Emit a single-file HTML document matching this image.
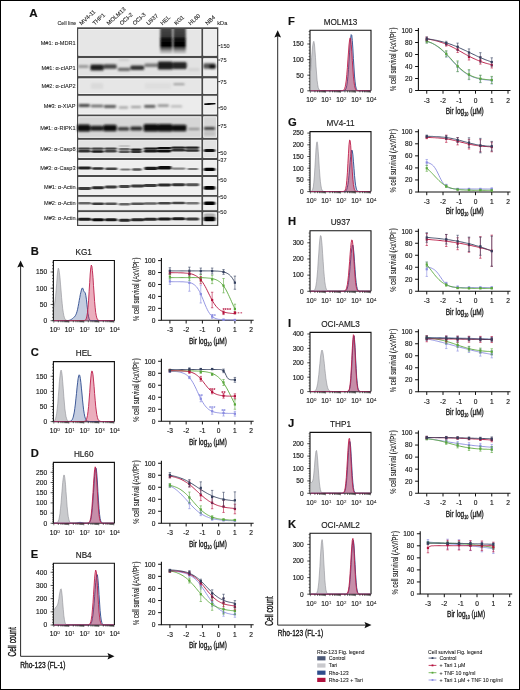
<!DOCTYPE html>
<html><head><meta charset="utf-8"><title>Figure</title><style>html,body{margin:0;padding:0;background:#fff;}body{width:520px;height:690px;overflow:hidden;}svg{display:block;font-family:"Liberation Sans", sans-serif;will-change:transform;}</style></head><body>
<svg width="520" height="690" viewBox="0 0 520 690" font-family='"Liberation Sans", sans-serif'>
<defs><filter id="bl" x="-20%" y="-50%" width="140%" height="200%"><feGaussianBlur stdDeviation="1.0 0.8"/></filter><filter id="bl2"><feGaussianBlur stdDeviation="0.3"/></filter><filter id="bl4" x="-20%" y="-5%" width="140%" height="110%"><feGaussianBlur stdDeviation="0.8 0.4"/></filter><filter id="bl3" x="-20%" y="-50%" width="140%" height="200%"><feGaussianBlur stdDeviation="0.9 0.45"/></filter><linearGradient id="smear" x1="0" y1="0" x2="0" y2="1"><stop offset="0" stop-color="#474747"/><stop offset="0.3" stop-color="#363636"/><stop offset="0.4" stop-color="#0a0a0a"/><stop offset="0.66" stop-color="#030303"/><stop offset="0.74" stop-color="#444"/><stop offset="0.86" stop-color="#999"/><stop offset="1" stop-color="#e2e2e2"/></linearGradient></defs>
<rect x="0" y="0" width="520" height="690" fill="#fff"/>
<text x="29.2" y="17.4" font-size="11.6" text-anchor="start" font-weight="bold" fill="#111"  stroke="#111" stroke-width="0.16">A</text>
<text x="76.3" y="25.3" font-size="5.3" text-anchor="end" font-weight="normal" fill="#222"  stroke="#222" stroke-width="0.08">Cell line</text>
<text x="0" y="0" font-size="5.7" fill="#222" stroke="#222" stroke-width="0.12" transform="translate(81.4,25.4) rotate(-42)">MV4-11</text>
<text x="0" y="0" font-size="5.7" fill="#222" stroke="#222" stroke-width="0.12" transform="translate(94.7,25.4) rotate(-42)">THP1</text>
<text x="0" y="0" font-size="5.7" fill="#222" stroke="#222" stroke-width="0.12" transform="translate(108.8,25.4) rotate(-42)">MOLM13</text>
<text x="0" y="0" font-size="5.7" fill="#222" stroke="#222" stroke-width="0.12" transform="translate(121.8,25.4) rotate(-42)">OCI-2</text>
<text x="0" y="0" font-size="5.7" fill="#222" stroke="#222" stroke-width="0.12" transform="translate(134.8,25.4) rotate(-42)">OCI-3</text>
<text x="0" y="0" font-size="5.7" fill="#222" stroke="#222" stroke-width="0.12" transform="translate(148.4,25.4) rotate(-42)">U937</text>
<text x="0" y="0" font-size="5.7" fill="#222" stroke="#222" stroke-width="0.12" transform="translate(162.4,25.4) rotate(-42)">HEL</text>
<text x="0" y="0" font-size="5.7" fill="#222" stroke="#222" stroke-width="0.12" transform="translate(176.2,25.4) rotate(-42)">KG1</text>
<text x="0" y="0" font-size="5.7" fill="#222" stroke="#222" stroke-width="0.12" transform="translate(190.6,25.4) rotate(-42)">HL60</text>
<text x="0" y="0" font-size="5.7" fill="#222" stroke="#222" stroke-width="0.12" transform="translate(207.4,25.4) rotate(-42)">NB4</text>
<text x="217.3" y="25.2" font-size="5.6" text-anchor="start" font-weight="normal" fill="#222"  stroke="#222" stroke-width="0.08">kDa</text>
<text x="75.6" y="44.8" font-size="5.6" text-anchor="end" font-weight="normal" fill="#222"  stroke="#222" stroke-width="0.08">M#1: α-MDR1</text>
<text x="75.6" y="69.6" font-size="5.6" text-anchor="end" font-weight="normal" fill="#222"  stroke="#222" stroke-width="0.08">M#1: α-cIAP1</text>
<text x="75.6" y="87.8" font-size="5.6" text-anchor="end" font-weight="normal" fill="#222"  stroke="#222" stroke-width="0.08">M#2: α-cIAP2</text>
<text x="75.6" y="107.7" font-size="5.6" text-anchor="end" font-weight="normal" fill="#222"  stroke="#222" stroke-width="0.08">M#3: α-XIAP</text>
<text x="75.6" y="129.5" font-size="5.6" text-anchor="end" font-weight="normal" fill="#222"  stroke="#222" stroke-width="0.08">M#1: α-RIPK1</text>
<text x="75.6" y="150.8" font-size="5.6" text-anchor="end" font-weight="normal" fill="#222"  stroke="#222" stroke-width="0.08">M#2: α-Casp8</text>
<text x="75.6" y="170.3" font-size="5.6" text-anchor="end" font-weight="normal" fill="#222"  stroke="#222" stroke-width="0.08">M#3: α-Casp3</text>
<text x="75.6" y="188.7" font-size="5.6" text-anchor="end" font-weight="normal" fill="#222"  stroke="#222" stroke-width="0.08">M#1: α-Actin</text>
<text x="75.6" y="204.8" font-size="5.6" text-anchor="end" font-weight="normal" fill="#222"  stroke="#222" stroke-width="0.08">M#2: α-Actin</text>
<text x="75.6" y="219.5" font-size="5.6" text-anchor="end" font-weight="normal" fill="#222"  stroke="#222" stroke-width="0.08">M#3: α-Actin</text>
<line x1="218.2" y1="45.6" x2="220.3" y2="45.6" stroke="#222" stroke-width="0.9"/>
<text x="220.3" y="47.6" font-size="5.6" text-anchor="start" font-weight="normal" fill="#222"  stroke="#222" stroke-width="0.08">150</text>
<line x1="218.2" y1="60" x2="220.3" y2="60" stroke="#222" stroke-width="0.9"/>
<text x="220.3" y="62" font-size="5.6" text-anchor="start" font-weight="normal" fill="#222"  stroke="#222" stroke-width="0.08">75</text>
<line x1="218.2" y1="81.6" x2="220.3" y2="81.6" stroke="#222" stroke-width="0.9"/>
<text x="220.3" y="83.6" font-size="5.6" text-anchor="start" font-weight="normal" fill="#222"  stroke="#222" stroke-width="0.08">75</text>
<line x1="218.2" y1="107.8" x2="220.3" y2="107.8" stroke="#222" stroke-width="0.9"/>
<text x="220.3" y="109.8" font-size="5.6" text-anchor="start" font-weight="normal" fill="#222"  stroke="#222" stroke-width="0.08">50</text>
<line x1="218.2" y1="125.6" x2="220.3" y2="125.6" stroke="#222" stroke-width="0.9"/>
<text x="220.3" y="127.6" font-size="5.6" text-anchor="start" font-weight="normal" fill="#222"  stroke="#222" stroke-width="0.08">75</text>
<line x1="218.2" y1="152.5" x2="220.3" y2="152.5" stroke="#222" stroke-width="0.9"/>
<text x="220.3" y="154.5" font-size="5.6" text-anchor="start" font-weight="normal" fill="#222"  stroke="#222" stroke-width="0.08">50</text>
<line x1="218.2" y1="160.3" x2="220.3" y2="160.3" stroke="#222" stroke-width="0.9"/>
<text x="220.3" y="162.3" font-size="5.6" text-anchor="start" font-weight="normal" fill="#222"  stroke="#222" stroke-width="0.08">37</text>
<line x1="218.2" y1="179.8" x2="220.3" y2="179.8" stroke="#222" stroke-width="0.9"/>
<text x="220.3" y="181.8" font-size="5.6" text-anchor="start" font-weight="normal" fill="#222"  stroke="#222" stroke-width="0.08">50</text>
<line x1="218.2" y1="196.8" x2="220.3" y2="196.8" stroke="#222" stroke-width="0.9"/>
<text x="220.3" y="198.8" font-size="5.6" text-anchor="start" font-weight="normal" fill="#222"  stroke="#222" stroke-width="0.08">50</text>
<line x1="218.2" y1="212" x2="220.3" y2="212" stroke="#222" stroke-width="0.9"/>
<text x="220.3" y="214" font-size="5.6" text-anchor="start" font-weight="normal" fill="#222"  stroke="#222" stroke-width="0.08">50</text>
<rect x="77" y="27.3" width="141.3" height="198.7" fill="#4a4a4a"/>
<rect x="78.75" y="29.45" width="122.2" height="25.9" fill="#e6e6e6" stroke="#fbfbfb" stroke-width="0.9"/>
<rect x="203.65" y="29.45" width="12.8" height="25.9" fill="#eeeeee" stroke="#fbfbfb" stroke-width="0.9"/>
<rect x="78.75" y="58.65" width="122.2" height="17" fill="#e2e2e2" stroke="#fbfbfb" stroke-width="0.9"/>
<rect x="203.65" y="58.65" width="12.8" height="17" fill="#eeeeee" stroke="#fbfbfb" stroke-width="0.9"/>
<rect x="78.75" y="78.85" width="122.2" height="14.7" fill="#e6e6e6" stroke="#fbfbfb" stroke-width="0.9"/>
<rect x="203.65" y="78.85" width="12.8" height="14.7" fill="#eeeeee" stroke="#fbfbfb" stroke-width="0.9"/>
<rect x="78.75" y="96.25" width="122.2" height="17.8" fill="#ececec" stroke="#fbfbfb" stroke-width="0.9"/>
<rect x="203.65" y="96.25" width="12.8" height="17.8" fill="#eeeeee" stroke="#fbfbfb" stroke-width="0.9"/>
<rect x="78.75" y="116.75" width="122.2" height="20.6" fill="#d6d6d6" stroke="#fbfbfb" stroke-width="0.9"/>
<rect x="203.65" y="116.75" width="12.8" height="20.6" fill="#d6d6d6" stroke="#fbfbfb" stroke-width="0.9"/>
<rect x="78.75" y="140.25" width="122.2" height="17.2" fill="#e2e2e2" stroke="#fbfbfb" stroke-width="0.9"/>
<rect x="203.65" y="140.25" width="12.8" height="17.2" fill="#e2e2e2" stroke="#fbfbfb" stroke-width="0.9"/>
<rect x="78.75" y="160.45" width="122.2" height="14.1" fill="#eeeeee" stroke="#fbfbfb" stroke-width="0.9"/>
<rect x="203.65" y="160.45" width="12.8" height="14.1" fill="#eeeeee" stroke="#fbfbfb" stroke-width="0.9"/>
<rect x="78.75" y="177.45" width="122.2" height="17.1" fill="#f0f0f0" stroke="#fbfbfb" stroke-width="0.9"/>
<rect x="203.65" y="177.45" width="12.8" height="17.1" fill="#f0f0f0" stroke="#fbfbfb" stroke-width="0.9"/>
<rect x="78.75" y="197.25" width="122.2" height="12.5" fill="#f0f0f0" stroke="#fbfbfb" stroke-width="0.9"/>
<rect x="203.65" y="197.25" width="12.8" height="12.5" fill="#f0f0f0" stroke="#fbfbfb" stroke-width="0.9"/>
<rect x="78.75" y="212.65" width="122.2" height="11.7" fill="#ececec" stroke="#fbfbfb" stroke-width="0.9"/>
<rect x="203.65" y="212.65" width="12.8" height="11.7" fill="#ececec" stroke="#fbfbfb" stroke-width="0.9"/>
<g filter="url(#bl)">
</g>
<rect x="160.2" y="28.8" width="12.2" height="25.5" fill="url(#smear)" filter="url(#bl4)"/>
<rect x="173.3" y="28.8" width="12.5" height="25.5" fill="url(#smear)" filter="url(#bl4)"/>
<g filter="url(#bl)">
<rect x="77.8" y="65" width="10.9" height="3" rx="1.5" fill="#999" opacity="1"/>
<rect x="90.3" y="64.5" width="13.4" height="6" rx="1.5" fill="#1e1e1e" opacity="1"/>
<rect x="103.3" y="64.25" width="13.4" height="4.5" rx="1.5" fill="#444" opacity="1"/>
<rect x="117.8" y="67.7" width="12.4" height="3.2" rx="1.5" fill="#666" opacity="1"/>
<rect x="118.8" y="59.2" width="10.4" height="1.2" rx="0.6" fill="#bbb" opacity="1"/>
<rect x="130.3" y="65.55" width="13.9" height="4.5" rx="1.5" fill="#333" opacity="1"/>
<rect x="144.3" y="63.55" width="13.9" height="3.5" rx="1.5" fill="#777" opacity="1"/>
<rect x="157.8" y="61.6" width="14.9" height="8" rx="1.5" fill="#1e1e1e" opacity="1"/>
<rect x="172.3" y="62" width="14.4" height="7" rx="1.5" fill="#252525" opacity="1"/>
<rect x="188.3" y="68.5" width="11.4" height="2" rx="1" fill="#ccc" opacity="1"/>
<rect x="203.3" y="63.25" width="12.4" height="5.5" rx="1.5" fill="#555" opacity="1"/>
<rect x="208.8" y="64.5" width="6.9" height="4" rx="1.5" fill="#0a0a0a" opacity="1"/>
<rect x="90.8" y="83" width="12.4" height="6" rx="1.5" fill="#dadada" opacity="1"/>
<rect x="173.3" y="83.4" width="11.4" height="1.6" rx="0.8" fill="#888" opacity="1"/>
<rect x="144.8" y="83" width="26.4" height="6" rx="1.5" fill="#dedede" opacity="1"/>
<rect x="78.3" y="104.1" width="11.65" height="2.8" rx="1.4" fill="#444" opacity="1"/>
<rect x="90.8" y="104.8" width="12.4" height="2.4" rx="1.2" fill="#666" opacity="1"/>
<rect x="103.8" y="105.1" width="12.4" height="2.8" rx="1.4" fill="#5a5a5a" opacity="1"/>
<rect x="118.8" y="106.6" width="9.4" height="1.8" rx="0.9" fill="#999" opacity="1"/>
<rect x="130.8" y="106.1" width="10.4" height="1.8" rx="0.9" fill="#999" opacity="1"/>
<rect x="144.1" y="105" width="11.4" height="2.8" rx="1.4" fill="#555" opacity="1"/>
<rect x="157.5" y="104.5" width="11.5" height="2.2" rx="1.1" fill="#888" opacity="1"/>
<rect x="170.8" y="105.5" width="11.4" height="1.8" rx="0.9" fill="#aaa" opacity="1"/>
<rect x="77.3" y="124.5" width="12.9" height="7" rx="1.5" fill="#0a0a0a" opacity="1"/>
<rect x="90.3" y="125.7" width="12.9" height="5" rx="1.5" fill="#1a1a1a" opacity="1"/>
<rect x="103.3" y="124.75" width="13.4" height="6.5" rx="1.5" fill="#111" opacity="1"/>
<rect x="117.8" y="127.2" width="11.4" height="3.2" rx="1.5" fill="#2a2a2a" opacity="1"/>
<rect x="130.3" y="126.6" width="11.9" height="4" rx="1.5" fill="#2a2a2a" opacity="1"/>
<rect x="143.6" y="123.95" width="14.6" height="7.5" rx="1.5" fill="#0a0a0a" opacity="1"/>
<rect x="157.8" y="123.95" width="14.7" height="7.5" rx="1.5" fill="#0a0a0a" opacity="1"/>
<rect x="172.1" y="124.75" width="14.4" height="6.5" rx="1.5" fill="#111" opacity="1"/>
<rect x="188.3" y="128.1" width="11.4" height="1.8" rx="0.9" fill="#888" opacity="1"/>
<rect x="203.8" y="126.9" width="11.4" height="3.2" rx="1.5" fill="#3a3a3a" opacity="1"/>
<rect x="203.8" y="131.5" width="11.4" height="4" rx="1.5" fill="#c0c0c0" opacity="1"/>
</g>
<g filter="url(#bl3)">
<rect x="77.8" y="147.4" width="12.8" height="2.4" rx="1.2" fill="#444" opacity="1"/>
<rect x="77.8" y="150" width="12.8" height="2.6" rx="1.3" fill="#333" opacity="1"/>
<rect x="91.4" y="147.4" width="12.3" height="2.4" rx="1.2" fill="#444" opacity="1"/>
<rect x="91.4" y="150.2" width="12.3" height="2.6" rx="1.3" fill="#1a1a1a" opacity="1"/>
<rect x="104.55" y="147.4" width="12.25" height="2.4" rx="1.2" fill="#444" opacity="1"/>
<rect x="104.55" y="150" width="12.25" height="2.6" rx="1.3" fill="#444" opacity="1"/>
<rect x="118.8" y="147.9" width="11.15" height="2.4" rx="1.2" fill="#666" opacity="1"/>
<rect x="118.8" y="150.5" width="11.15" height="2.6" rx="1.3" fill="#555" opacity="1"/>
<rect x="130.8" y="148.4" width="10.9" height="2.4" rx="1.2" fill="#1a1a1a" opacity="1"/>
<rect x="130.8" y="150.5" width="10.9" height="2.6" rx="1.3" fill="#333" opacity="1"/>
<rect x="143.8" y="147.4" width="13.9" height="2.4" rx="1.2" fill="#1a1a1a" opacity="1"/>
<rect x="143.8" y="150" width="13.9" height="2.6" rx="1.3" fill="#1a1a1a" opacity="1"/>
<rect x="157.3" y="146.9" width="13.9" height="2.4" rx="1.2" fill="#111" opacity="1"/>
<rect x="157.3" y="149.8" width="13.9" height="2.6" rx="1.3" fill="#111" opacity="1"/>
<rect x="171.3" y="146.4" width="13.9" height="2.4" rx="1.2" fill="#222" opacity="1"/>
<rect x="171.3" y="149" width="13.9" height="2.6" rx="1.3" fill="#333" opacity="1"/>
<rect x="185.3" y="146.4" width="13.9" height="2.4" rx="1.2" fill="#222" opacity="1"/>
<rect x="185.3" y="149.2" width="13.9" height="2.6" rx="1.3" fill="#333" opacity="1"/>
<rect x="118.8" y="145.25" width="11.15" height="1.5" rx="0.75" fill="#bbb" opacity="1"/>
<rect x="203.8" y="149" width="11.4" height="3" rx="1.5" fill="#111" opacity="1"/>
<rect x="77.8" y="166.6" width="13.4" height="2.8" rx="1.4" fill="#222" opacity="1"/>
<rect x="92.05" y="167.2" width="11.65" height="2.6" rx="1.3" fill="#333" opacity="1"/>
<rect x="105.2" y="167.5" width="12.25" height="2.6" rx="1.3" fill="#444" opacity="1"/>
<rect x="120.2" y="168.4" width="10.4" height="2.2" rx="1.1" fill="#777" opacity="1"/>
<rect x="132.05" y="168.3" width="9.65" height="2.4" rx="1.2" fill="#555" opacity="1"/>
<rect x="144.3" y="166.7" width="13.4" height="3.2" rx="1.5" fill="#1a1a1a" opacity="1"/>
<rect x="157.8" y="166" width="13.9" height="3.4" rx="1.5" fill="#0a0a0a" opacity="1"/>
<rect x="171.8" y="167.5" width="13.7" height="2.2" rx="1.1" fill="#888" opacity="1"/>
<rect x="187.5" y="167.9" width="10.7" height="2.2" rx="1.1" fill="#777" opacity="1"/>
<rect x="203.8" y="167.7" width="11.4" height="3.2" rx="1.5" fill="#050505" opacity="1"/>
<rect x="77.8" y="187.05" width="13.4" height="2.9" rx="1.45" fill="#3a3a3a" opacity="1"/>
<rect x="91.8" y="186.35" width="12.4" height="2.9" rx="1.45" fill="#2a2a2a" opacity="1"/>
<rect x="104.8" y="185.55" width="12.4" height="2.9" rx="1.45" fill="#3a3a3a" opacity="1"/>
<rect x="118.8" y="185.05" width="11.4" height="2.9" rx="1.45" fill="#444" opacity="1"/>
<rect x="130.8" y="184.55" width="13.4" height="2.9" rx="1.45" fill="#3a3a3a" opacity="1"/>
<rect x="143.8" y="184.05" width="13.4" height="2.9" rx="1.45" fill="#3a3a3a" opacity="1"/>
<rect x="157.8" y="183.55" width="13.4" height="2.9" rx="1.45" fill="#2a2a2a" opacity="1"/>
<rect x="171.8" y="183.35" width="13.4" height="2.9" rx="1.45" fill="#333" opacity="1"/>
<rect x="185.8" y="183.35" width="13.4" height="2.9" rx="1.45" fill="#555" opacity="1"/>
<rect x="203.8" y="185.9" width="11.4" height="3.8" rx="1.5" fill="#000" opacity="1"/>
<rect x="77.8" y="202" width="13.4" height="2.6" rx="1.3" fill="#666" opacity="1"/>
<rect x="91.8" y="202.5" width="12.4" height="2.6" rx="1.3" fill="#3a3a3a" opacity="1"/>
<rect x="104.8" y="202.5" width="12.4" height="2.6" rx="1.3" fill="#555" opacity="1"/>
<rect x="118.8" y="202.9" width="11.4" height="2.6" rx="1.3" fill="#666" opacity="1"/>
<rect x="130.8" y="202.5" width="13.4" height="2.6" rx="1.3" fill="#555" opacity="1"/>
<rect x="143.8" y="202.2" width="13.4" height="2.6" rx="1.3" fill="#666" opacity="1"/>
<rect x="157.8" y="202" width="13.4" height="2.6" rx="1.3" fill="#444" opacity="1"/>
<rect x="171.8" y="201.7" width="13.4" height="2.6" rx="1.3" fill="#444" opacity="1"/>
<rect x="185.8" y="202" width="13.4" height="2.6" rx="1.3" fill="#777" opacity="1"/>
<rect x="203.8" y="201.6" width="11.4" height="3.4" rx="1.5" fill="#000" opacity="1"/>
<rect x="77.8" y="217.8" width="13.4" height="3" rx="1.5" fill="#1a1a1a" opacity="1"/>
<rect x="91.8" y="218.3" width="12.4" height="3" rx="1.5" fill="#0a0a0a" opacity="1"/>
<rect x="104.8" y="218.3" width="12.4" height="3" rx="1.5" fill="#1a1a1a" opacity="1"/>
<rect x="118.8" y="218.7" width="11.4" height="3" rx="1.5" fill="#2a2a2a" opacity="1"/>
<rect x="130.8" y="218.3" width="13.4" height="3" rx="1.5" fill="#2a2a2a" opacity="1"/>
<rect x="143.8" y="217.8" width="13.4" height="3" rx="1.5" fill="#2a2a2a" opacity="1"/>
<rect x="157.8" y="217.5" width="13.4" height="3" rx="1.5" fill="#1a1a1a" opacity="1"/>
<rect x="171.8" y="217.3" width="13.4" height="3" rx="1.5" fill="#1a1a1a" opacity="1"/>
<rect x="185.8" y="217.5" width="13.4" height="3" rx="1.5" fill="#3a3a3a" opacity="1"/>
<rect x="203.8" y="213.5" width="11.4" height="4.2" rx="1.5" fill="#b0b0b0" opacity="1"/>
<rect x="203.8" y="216.7" width="11.4" height="4.6" rx="1.5" fill="#000" opacity="1"/>
</g>
<path d="M204.3 104.6 L215.4 103.3" stroke="#0a0a0a" stroke-width="2.0" filter="url(#bl2)"/>
<text x="30.8" y="254.9" font-size="11.2" text-anchor="start" font-weight="bold" fill="#111"  stroke="#111" stroke-width="0.16">B</text>
<text x="83.7" y="254.9" font-size="8.2" text-anchor="middle" font-weight="normal" fill="#222"  stroke="#222" stroke-width="0.16">KG1</text>
<path d="M53.4 320.7 V260.5 H114.4 V320.7" fill="none" stroke="#111" stroke-width="1.1"/>
<line x1="53.4" y1="320.7" x2="114.4" y2="320.7" stroke="#111" stroke-width="1.1"/>
<path d="M53.9 307L54.5 304.3L55 301L55.6 296.4L56.1 290.4L56.7 283.3L57.2 276.1L57.8 270.4L58.3 268.1L58.9 269.4L59.4 272.7L60 277.8L60.5 284.1L61.1 290.9L61.6 297.5L62.2 303.5L62.7 308.6L63.3 312.5L63.8 315.4L64.4 317.4L64.9 318.8L65.5 319.6L66 320.1L66.6 320.3L67.1 320.5L67.7 320.5L68.2 320.6L68.8 320.6L69.3 320.6L69.9 320.6L70.4 320.6L71 320.6L71.5 320.6L72.1 320.6L72.6 320.6L73.2 320.6L73.7 320.6L74.3 320.6L74.8 320.6L75.4 320.6L75.9 320.6L76.5 320.6L77 320.6L77.6 320.6L78.1 320.6L78.7 320.6L79.2 320.6L79.8 320.6L80.3 320.6L80.9 320.6L81.4 320.6L82 320.6L82.5 320.6L83.1 320.6L83.6 320.6L84.2 320.6L84.7 320.6L85.3 320.6L85.8 320.6L86.4 320.6L86.9 320.6L87.5 320.6L88 320.6L88.6 320.6L89.1 320.6L89.7 320.6L90.2 320.6L90.8 320.6L91.3 320.6L91.9 320.6L92.4 320.6L93 320.6L93.5 320.6L94.1 320.6L94.6 320.6L95.2 320.6L95.7 320.6L96.3 320.6L96.8 320.6L97.4 320.6L97.9 320.6L98.5 320.6L99 320.6L99.6 320.6L100.1 320.6L100.7 320.6L101.2 320.6L101.8 320.6L102.3 320.6L102.9 320.6L103.4 320.6L104 320.6L104.5 320.6L105.1 320.6L105.6 320.6L106.2 320.6L106.7 320.6L107.3 320.6L107.8 320.6L108.4 320.6L108.9 320.6L109.5 320.6L110 320.6L110.6 320.6L111.1 320.6L111.7 320.6L112.2 320.6L112.8 320.6L113.3 320.6L113.9 320.6L113.85 320.7L53.95 320.7Z" fill="#c9cacd" stroke="none"/>
<path d="M53.9 307L54.5 304.3L55 301L55.6 296.4L56.1 290.4L56.7 283.3L57.2 276.1L57.8 270.4L58.3 268.1L58.9 269.4L59.4 272.7L60 277.8L60.5 284.1L61.1 290.9L61.6 297.5L62.2 303.5L62.7 308.6L63.3 312.5L63.8 315.4L64.4 317.4L64.9 318.8L65.5 319.6L66 320.1L66.6 320.3L67.1 320.5L67.7 320.5L68.2 320.6L68.8 320.6L69.3 320.6L69.9 320.6L70.4 320.6L71 320.6L71.5 320.6L72.1 320.6L72.6 320.6L73.2 320.6L73.7 320.6L74.3 320.6L74.8 320.6L75.4 320.6L75.9 320.6L76.5 320.6L77 320.6L77.6 320.6L78.1 320.6L78.7 320.6L79.2 320.6L79.8 320.6L80.3 320.6L80.9 320.6L81.4 320.6L82 320.6L82.5 320.6L83.1 320.6L83.6 320.6L84.2 320.6L84.7 320.6L85.3 320.6L85.8 320.6L86.4 320.6L86.9 320.6L87.5 320.6L88 320.6L88.6 320.6L89.1 320.6L89.7 320.6L90.2 320.6L90.8 320.6L91.3 320.6L91.9 320.6L92.4 320.6L93 320.6L93.5 320.6L94.1 320.6L94.6 320.6L95.2 320.6L95.7 320.6L96.3 320.6L96.8 320.6L97.4 320.6L97.9 320.6L98.5 320.6L99 320.6L99.6 320.6L100.1 320.6L100.7 320.6L101.2 320.6L101.8 320.6L102.3 320.6L102.9 320.6L103.4 320.6L104 320.6L104.5 320.6L105.1 320.6L105.6 320.6L106.2 320.6L106.7 320.6L107.3 320.6L107.8 320.6L108.4 320.6L108.9 320.6L109.5 320.6L110 320.6L110.6 320.6L111.1 320.6L111.7 320.6L112.2 320.6L112.8 320.6L113.3 320.6L113.9 320.6" fill="none" stroke="#8e8f96" stroke-width="0.6" stroke-linejoin="round"/>
<path d="M53.9 320.6L54.5 320.6L55 320.6L55.6 320.6L56.1 320.6L56.7 320.6L57.2 320.6L57.8 320.6L58.3 320.6L58.9 320.6L59.4 320.6L60 320.6L60.5 320.6L61.1 320.6L61.6 320.6L62.2 320.6L62.7 320.6L63.3 320.6L63.8 320.6L64.4 320.6L64.9 320.6L65.5 320.6L66 320.6L66.6 320.6L67.1 320.6L67.7 320.5L68.2 320.5L68.8 320.4L69.3 320.3L69.9 320.1L70.4 319.9L71 319.6L71.5 319.3L72.1 318.9L72.6 318.5L73.2 318L73.7 317.5L74.3 317L74.8 316.4L75.4 315.6L75.9 314.6L76.5 313.2L77 311.5L77.6 309.3L78.1 306.7L78.7 303.7L79.2 300.6L79.8 297.5L80.3 294.6L80.9 292.2L81.4 290.1L82 288.4L82.5 287.9L83.1 289L83.6 290.6L84.2 291.7L84.7 292.2L85.3 293.1L85.8 295.4L86.4 299.2L86.9 304.2L87.5 309.3L88 313.6L88.6 316.8L89.1 318.7L89.7 319.8L90.2 320.3L90.8 320.5L91.3 320.6L91.9 320.6L92.4 320.6L93 320.6L93.5 320.6L94.1 320.6L94.6 320.6L95.2 320.6L95.7 320.6L96.3 320.6L96.8 320.6L97.4 320.6L97.9 320.6L98.5 320.6L99 320.6L99.6 320.6L100.1 320.6L100.7 320.6L101.2 320.6L101.8 320.6L102.3 320.6L102.9 320.6L103.4 320.6L104 320.6L104.5 320.6L105.1 320.6L105.6 320.6L106.2 320.6L106.7 320.6L107.3 320.6L107.8 320.6L108.4 320.6L108.9 320.6L109.5 320.6L110 320.6L110.6 320.6L111.1 320.6L111.7 320.6L112.2 320.6L112.8 320.6L113.3 320.6L113.9 320.6L113.85 320.7L53.95 320.7Z" fill="rgba(70,100,160,0.32)" stroke="none"/>
<path d="M53.9 320.6L54.5 320.6L55 320.6L55.6 320.6L56.1 320.6L56.7 320.6L57.2 320.6L57.8 320.6L58.3 320.6L58.9 320.6L59.4 320.6L60 320.6L60.5 320.6L61.1 320.6L61.6 320.6L62.2 320.6L62.7 320.6L63.3 320.6L63.8 320.6L64.4 320.6L64.9 320.6L65.5 320.6L66 320.6L66.6 320.6L67.1 320.6L67.7 320.5L68.2 320.5L68.8 320.4L69.3 320.3L69.9 320.1L70.4 319.9L71 319.6L71.5 319.3L72.1 318.9L72.6 318.5L73.2 318L73.7 317.5L74.3 317L74.8 316.4L75.4 315.6L75.9 314.6L76.5 313.2L77 311.5L77.6 309.3L78.1 306.7L78.7 303.7L79.2 300.6L79.8 297.5L80.3 294.6L80.9 292.2L81.4 290.1L82 288.4L82.5 287.9L83.1 289L83.6 290.6L84.2 291.7L84.7 292.2L85.3 293.1L85.8 295.4L86.4 299.2L86.9 304.2L87.5 309.3L88 313.6L88.6 316.8L89.1 318.7L89.7 319.8L90.2 320.3L90.8 320.5L91.3 320.6L91.9 320.6L92.4 320.6L93 320.6L93.5 320.6L94.1 320.6L94.6 320.6L95.2 320.6L95.7 320.6L96.3 320.6L96.8 320.6L97.4 320.6L97.9 320.6L98.5 320.6L99 320.6L99.6 320.6L100.1 320.6L100.7 320.6L101.2 320.6L101.8 320.6L102.3 320.6L102.9 320.6L103.4 320.6L104 320.6L104.5 320.6L105.1 320.6L105.6 320.6L106.2 320.6L106.7 320.6L107.3 320.6L107.8 320.6L108.4 320.6L108.9 320.6L109.5 320.6L110 320.6L110.6 320.6L111.1 320.6L111.7 320.6L112.2 320.6L112.8 320.6L113.3 320.6L113.9 320.6" fill="none" stroke="#2d4b8e" stroke-width="0.9" stroke-linejoin="round"/>
<path d="M53.9 320.6L54.5 320.6L55 320.6L55.6 320.6L56.1 320.6L56.7 320.6L57.2 320.6L57.8 320.6L58.3 320.6L58.9 320.6L59.4 320.6L60 320.6L60.5 320.6L61.1 320.6L61.6 320.6L62.2 320.6L62.7 320.6L63.3 320.6L63.8 320.6L64.4 320.6L64.9 320.6L65.5 320.6L66 320.6L66.6 320.6L67.1 320.6L67.7 320.6L68.2 320.6L68.8 320.6L69.3 320.6L69.9 320.6L70.4 320.6L71 320.6L71.5 320.6L72.1 320.6L72.6 320.6L73.2 320.6L73.7 320.6L74.3 320.6L74.8 320.6L75.4 320.6L75.9 320.6L76.5 320.6L77 320.6L77.6 320.6L78.1 320.6L78.7 320.6L79.2 320.6L79.8 320.6L80.3 320.6L80.9 320.6L81.4 320.6L82 320.6L82.5 320.6L83.1 320.6L83.6 320.6L84.2 320.5L84.7 320.4L85.3 320.1L85.8 319.5L86.4 318.2L86.9 316.1L87.5 312.5L88 307.3L88.6 300.2L89.1 291.6L89.7 282.4L90.2 274L90.8 267.8L91.3 265.1L91.9 266.3L92.4 270.7L93 277.5L93.5 285.7L94.1 294L94.6 301.5L95.2 307.8L95.7 312.5L96.3 315.8L96.8 317.9L97.4 319.2L97.9 319.9L98.5 320.3L99 320.5L99.6 320.5L100.1 320.6L100.7 320.6L101.2 320.6L101.8 320.6L102.3 320.6L102.9 320.6L103.4 320.6L104 320.6L104.5 320.6L105.1 320.6L105.6 320.6L106.2 320.6L106.7 320.6L107.3 320.6L107.8 320.6L108.4 320.6L108.9 320.6L109.5 320.6L110 320.6L110.6 320.6L111.1 320.6L111.7 320.6L112.2 320.6L112.8 320.6L113.3 320.6L113.9 320.6L113.85 320.7L53.95 320.7Z" fill="rgba(200,35,75,0.37)" stroke="none"/>
<path d="M53.9 320.6L54.5 320.6L55 320.6L55.6 320.6L56.1 320.6L56.7 320.6L57.2 320.6L57.8 320.6L58.3 320.6L58.9 320.6L59.4 320.6L60 320.6L60.5 320.6L61.1 320.6L61.6 320.6L62.2 320.6L62.7 320.6L63.3 320.6L63.8 320.6L64.4 320.6L64.9 320.6L65.5 320.6L66 320.6L66.6 320.6L67.1 320.6L67.7 320.6L68.2 320.6L68.8 320.6L69.3 320.6L69.9 320.6L70.4 320.6L71 320.6L71.5 320.6L72.1 320.6L72.6 320.6L73.2 320.6L73.7 320.6L74.3 320.6L74.8 320.6L75.4 320.6L75.9 320.6L76.5 320.6L77 320.6L77.6 320.6L78.1 320.6L78.7 320.6L79.2 320.6L79.8 320.6L80.3 320.6L80.9 320.6L81.4 320.6L82 320.6L82.5 320.6L83.1 320.6L83.6 320.6L84.2 320.5L84.7 320.4L85.3 320.1L85.8 319.5L86.4 318.2L86.9 316.1L87.5 312.5L88 307.3L88.6 300.2L89.1 291.6L89.7 282.4L90.2 274L90.8 267.8L91.3 265.1L91.9 266.3L92.4 270.7L93 277.5L93.5 285.7L94.1 294L94.6 301.5L95.2 307.8L95.7 312.5L96.3 315.8L96.8 317.9L97.4 319.2L97.9 319.9L98.5 320.3L99 320.5L99.6 320.5L100.1 320.6L100.7 320.6L101.2 320.6L101.8 320.6L102.3 320.6L102.9 320.6L103.4 320.6L104 320.6L104.5 320.6L105.1 320.6L105.6 320.6L106.2 320.6L106.7 320.6L107.3 320.6L107.8 320.6L108.4 320.6L108.9 320.6L109.5 320.6L110 320.6L110.6 320.6L111.1 320.6L111.7 320.6L112.2 320.6L112.8 320.6L113.3 320.6L113.9 320.6" fill="none" stroke="#bd1f4c" stroke-width="0.9" stroke-linejoin="round"/>
<line x1="50.6" y1="320.7" x2="53.4" y2="320.7" stroke="#222" stroke-width="0.7"/>
<text x="47.1" y="323.05" font-size="6.6" text-anchor="end" font-weight="normal" fill="#1a1a1a"  stroke="#1a1a1a" stroke-width="0.16">0</text>
<line x1="50.6" y1="304.46" x2="53.4" y2="304.46" stroke="#222" stroke-width="0.7"/>
<text x="47.1" y="306.81" font-size="6.6" text-anchor="end" font-weight="normal" fill="#1a1a1a"  stroke="#1a1a1a" stroke-width="0.16">50</text>
<line x1="50.6" y1="288.23" x2="53.4" y2="288.23" stroke="#222" stroke-width="0.7"/>
<text x="47.1" y="290.58" font-size="6.6" text-anchor="end" font-weight="normal" fill="#1a1a1a"  stroke="#1a1a1a" stroke-width="0.16">100</text>
<line x1="50.6" y1="272" x2="53.4" y2="272" stroke="#222" stroke-width="0.7"/>
<text x="47.1" y="274.35" font-size="6.6" text-anchor="end" font-weight="normal" fill="#1a1a1a"  stroke="#1a1a1a" stroke-width="0.16">150</text>
<line x1="52" y1="320.7" x2="53.4" y2="320.7" stroke="#222" stroke-width="0.6"/>
<line x1="52" y1="317.45" x2="53.4" y2="317.45" stroke="#222" stroke-width="0.6"/>
<line x1="52" y1="314.21" x2="53.4" y2="314.21" stroke="#222" stroke-width="0.6"/>
<line x1="52" y1="310.96" x2="53.4" y2="310.96" stroke="#222" stroke-width="0.6"/>
<line x1="52" y1="307.71" x2="53.4" y2="307.71" stroke="#222" stroke-width="0.6"/>
<line x1="52" y1="304.46" x2="53.4" y2="304.46" stroke="#222" stroke-width="0.6"/>
<line x1="52" y1="301.22" x2="53.4" y2="301.22" stroke="#222" stroke-width="0.6"/>
<line x1="52" y1="297.97" x2="53.4" y2="297.97" stroke="#222" stroke-width="0.6"/>
<line x1="52" y1="294.72" x2="53.4" y2="294.72" stroke="#222" stroke-width="0.6"/>
<line x1="52" y1="291.48" x2="53.4" y2="291.48" stroke="#222" stroke-width="0.6"/>
<line x1="52" y1="288.23" x2="53.4" y2="288.23" stroke="#222" stroke-width="0.6"/>
<line x1="52" y1="284.98" x2="53.4" y2="284.98" stroke="#222" stroke-width="0.6"/>
<line x1="52" y1="281.74" x2="53.4" y2="281.74" stroke="#222" stroke-width="0.6"/>
<line x1="52" y1="278.49" x2="53.4" y2="278.49" stroke="#222" stroke-width="0.6"/>
<line x1="52" y1="275.24" x2="53.4" y2="275.24" stroke="#222" stroke-width="0.6"/>
<line x1="52" y1="272" x2="53.4" y2="272" stroke="#222" stroke-width="0.6"/>
<line x1="52" y1="268.75" x2="53.4" y2="268.75" stroke="#222" stroke-width="0.6"/>
<line x1="52" y1="265.5" x2="53.4" y2="265.5" stroke="#222" stroke-width="0.6"/>
<line x1="52" y1="262.25" x2="53.4" y2="262.25" stroke="#222" stroke-width="0.6"/>
<line x1="53.8" y1="320.7" x2="53.8" y2="322.7" stroke="#222" stroke-width="0.6"/>
<text x="53.4" y="332" font-size="6.6" text-anchor="middle" font-weight="normal" fill="#1a1a1a"  stroke="#1a1a1a" stroke-width="0.16">10</text>
<text x="57.3" y="330.1" font-size="4.4" text-anchor="start" font-weight="normal" fill="#1a1a1a"  stroke="#1a1a1a" stroke-width="0.05">0</text>
<line x1="58.32" y1="320.7" x2="58.32" y2="322.3" stroke="#222" stroke-width="0.7"/>
<line x1="60.96" y1="320.7" x2="60.96" y2="322.3" stroke="#222" stroke-width="0.7"/>
<line x1="62.83" y1="320.7" x2="62.83" y2="322.3" stroke="#222" stroke-width="0.7"/>
<line x1="64.28" y1="320.7" x2="64.28" y2="322.3" stroke="#222" stroke-width="0.7"/>
<line x1="65.47" y1="320.7" x2="65.47" y2="322.3" stroke="#222" stroke-width="0.7"/>
<line x1="66.48" y1="320.7" x2="66.48" y2="322.3" stroke="#222" stroke-width="0.7"/>
<line x1="67.35" y1="320.7" x2="67.35" y2="322.3" stroke="#222" stroke-width="0.7"/>
<line x1="68.11" y1="320.7" x2="68.11" y2="322.3" stroke="#222" stroke-width="0.7"/>
<line x1="68.8" y1="320.7" x2="68.8" y2="322.7" stroke="#222" stroke-width="0.6"/>
<text x="68.4" y="332" font-size="6.6" text-anchor="middle" font-weight="normal" fill="#1a1a1a"  stroke="#1a1a1a" stroke-width="0.16">10</text>
<text x="72.3" y="330.1" font-size="4.4" text-anchor="start" font-weight="normal" fill="#1a1a1a"  stroke="#1a1a1a" stroke-width="0.05">1</text>
<line x1="73.32" y1="320.7" x2="73.32" y2="322.3" stroke="#222" stroke-width="0.7"/>
<line x1="75.96" y1="320.7" x2="75.96" y2="322.3" stroke="#222" stroke-width="0.7"/>
<line x1="77.83" y1="320.7" x2="77.83" y2="322.3" stroke="#222" stroke-width="0.7"/>
<line x1="79.28" y1="320.7" x2="79.28" y2="322.3" stroke="#222" stroke-width="0.7"/>
<line x1="80.47" y1="320.7" x2="80.47" y2="322.3" stroke="#222" stroke-width="0.7"/>
<line x1="81.48" y1="320.7" x2="81.48" y2="322.3" stroke="#222" stroke-width="0.7"/>
<line x1="82.35" y1="320.7" x2="82.35" y2="322.3" stroke="#222" stroke-width="0.7"/>
<line x1="83.11" y1="320.7" x2="83.11" y2="322.3" stroke="#222" stroke-width="0.7"/>
<line x1="83.8" y1="320.7" x2="83.8" y2="322.7" stroke="#222" stroke-width="0.6"/>
<text x="83.4" y="332" font-size="6.6" text-anchor="middle" font-weight="normal" fill="#1a1a1a"  stroke="#1a1a1a" stroke-width="0.16">10</text>
<text x="87.3" y="330.1" font-size="4.4" text-anchor="start" font-weight="normal" fill="#1a1a1a"  stroke="#1a1a1a" stroke-width="0.05">2</text>
<line x1="88.32" y1="320.7" x2="88.32" y2="322.3" stroke="#222" stroke-width="0.7"/>
<line x1="90.96" y1="320.7" x2="90.96" y2="322.3" stroke="#222" stroke-width="0.7"/>
<line x1="92.83" y1="320.7" x2="92.83" y2="322.3" stroke="#222" stroke-width="0.7"/>
<line x1="94.28" y1="320.7" x2="94.28" y2="322.3" stroke="#222" stroke-width="0.7"/>
<line x1="95.47" y1="320.7" x2="95.47" y2="322.3" stroke="#222" stroke-width="0.7"/>
<line x1="96.48" y1="320.7" x2="96.48" y2="322.3" stroke="#222" stroke-width="0.7"/>
<line x1="97.35" y1="320.7" x2="97.35" y2="322.3" stroke="#222" stroke-width="0.7"/>
<line x1="98.11" y1="320.7" x2="98.11" y2="322.3" stroke="#222" stroke-width="0.7"/>
<line x1="98.8" y1="320.7" x2="98.8" y2="322.7" stroke="#222" stroke-width="0.6"/>
<text x="98.4" y="332" font-size="6.6" text-anchor="middle" font-weight="normal" fill="#1a1a1a"  stroke="#1a1a1a" stroke-width="0.16">10</text>
<text x="102.3" y="330.1" font-size="4.4" text-anchor="start" font-weight="normal" fill="#1a1a1a"  stroke="#1a1a1a" stroke-width="0.05">3</text>
<line x1="103.32" y1="320.7" x2="103.32" y2="322.3" stroke="#222" stroke-width="0.7"/>
<line x1="105.96" y1="320.7" x2="105.96" y2="322.3" stroke="#222" stroke-width="0.7"/>
<line x1="107.83" y1="320.7" x2="107.83" y2="322.3" stroke="#222" stroke-width="0.7"/>
<line x1="109.28" y1="320.7" x2="109.28" y2="322.3" stroke="#222" stroke-width="0.7"/>
<line x1="110.47" y1="320.7" x2="110.47" y2="322.3" stroke="#222" stroke-width="0.7"/>
<line x1="111.48" y1="320.7" x2="111.48" y2="322.3" stroke="#222" stroke-width="0.7"/>
<line x1="112.35" y1="320.7" x2="112.35" y2="322.3" stroke="#222" stroke-width="0.7"/>
<line x1="113.11" y1="320.7" x2="113.11" y2="322.3" stroke="#222" stroke-width="0.7"/>
<line x1="113.8" y1="320.7" x2="113.8" y2="322.7" stroke="#222" stroke-width="0.6"/>
<text x="113.4" y="332" font-size="6.6" text-anchor="middle" font-weight="normal" fill="#1a1a1a"  stroke="#1a1a1a" stroke-width="0.16">10</text>
<text x="117.3" y="330.1" font-size="4.4" text-anchor="start" font-weight="normal" fill="#1a1a1a"  stroke="#1a1a1a" stroke-width="0.05">4</text>
<text x="30.8" y="356" font-size="11.2" text-anchor="start" font-weight="bold" fill="#111"  stroke="#111" stroke-width="0.16">C</text>
<text x="83.7" y="356" font-size="8.2" text-anchor="middle" font-weight="normal" fill="#222"  stroke="#222" stroke-width="0.16">HEL</text>
<path d="M53.4 421.6 V361.6 H114.4 V421.6" fill="none" stroke="#111" stroke-width="1.1"/>
<line x1="53.4" y1="421.6" x2="114.4" y2="421.6" stroke="#111" stroke-width="1.1"/>
<path d="M53.9 421.1L54.5 420.7L55 419.9L55.6 418.6L56.1 416.4L56.7 413.3L57.2 408.9L57.8 403.2L58.3 396.4L58.9 389L59.4 381.8L60 375.7L60.5 371.6L61.1 370.1L61.6 371.5L62.2 375.6L62.7 381.7L63.3 388.9L63.8 396.2L64.4 403L64.9 408.8L65.5 413.2L66 416.4L66.6 418.5L67.1 419.9L67.7 420.7L68.2 421.1L68.8 421.3L69.3 421.4L69.9 421.5L70.4 421.5L71 421.5L71.5 421.5L72.1 421.5L72.6 421.5L73.2 421.5L73.7 421.5L74.3 421.5L74.8 421.5L75.4 421.5L75.9 421.5L76.5 421.5L77 421.5L77.6 421.5L78.1 421.5L78.7 421.5L79.2 421.5L79.8 421.5L80.3 421.5L80.9 421.5L81.4 421.5L82 421.5L82.5 421.5L83.1 421.5L83.6 421.5L84.2 421.5L84.7 421.5L85.3 421.5L85.8 421.5L86.4 421.5L86.9 421.5L87.5 421.5L88 421.5L88.6 421.5L89.1 421.5L89.7 421.5L90.2 421.5L90.8 421.5L91.3 421.5L91.9 421.5L92.4 421.5L93 421.5L93.5 421.5L94.1 421.5L94.6 421.5L95.2 421.5L95.7 421.5L96.3 421.5L96.8 421.5L97.4 421.5L97.9 421.5L98.5 421.5L99 421.5L99.6 421.5L100.1 421.5L100.7 421.5L101.2 421.5L101.8 421.5L102.3 421.5L102.9 421.5L103.4 421.5L104 421.5L104.5 421.5L105.1 421.5L105.6 421.5L106.2 421.5L106.7 421.5L107.3 421.5L107.8 421.5L108.4 421.5L108.9 421.5L109.5 421.5L110 421.5L110.6 421.5L111.1 421.5L111.7 421.5L112.2 421.5L112.8 421.5L113.3 421.5L113.9 421.5L113.85 421.6L53.95 421.6Z" fill="#c9cacd" stroke="none"/>
<path d="M53.9 421.1L54.5 420.7L55 419.9L55.6 418.6L56.1 416.4L56.7 413.3L57.2 408.9L57.8 403.2L58.3 396.4L58.9 389L59.4 381.8L60 375.7L60.5 371.6L61.1 370.1L61.6 371.5L62.2 375.6L62.7 381.7L63.3 388.9L63.8 396.2L64.4 403L64.9 408.8L65.5 413.2L66 416.4L66.6 418.5L67.1 419.9L67.7 420.7L68.2 421.1L68.8 421.3L69.3 421.4L69.9 421.5L70.4 421.5L71 421.5L71.5 421.5L72.1 421.5L72.6 421.5L73.2 421.5L73.7 421.5L74.3 421.5L74.8 421.5L75.4 421.5L75.9 421.5L76.5 421.5L77 421.5L77.6 421.5L78.1 421.5L78.7 421.5L79.2 421.5L79.8 421.5L80.3 421.5L80.9 421.5L81.4 421.5L82 421.5L82.5 421.5L83.1 421.5L83.6 421.5L84.2 421.5L84.7 421.5L85.3 421.5L85.8 421.5L86.4 421.5L86.9 421.5L87.5 421.5L88 421.5L88.6 421.5L89.1 421.5L89.7 421.5L90.2 421.5L90.8 421.5L91.3 421.5L91.9 421.5L92.4 421.5L93 421.5L93.5 421.5L94.1 421.5L94.6 421.5L95.2 421.5L95.7 421.5L96.3 421.5L96.8 421.5L97.4 421.5L97.9 421.5L98.5 421.5L99 421.5L99.6 421.5L100.1 421.5L100.7 421.5L101.2 421.5L101.8 421.5L102.3 421.5L102.9 421.5L103.4 421.5L104 421.5L104.5 421.5L105.1 421.5L105.6 421.5L106.2 421.5L106.7 421.5L107.3 421.5L107.8 421.5L108.4 421.5L108.9 421.5L109.5 421.5L110 421.5L110.6 421.5L111.1 421.5L111.7 421.5L112.2 421.5L112.8 421.5L113.3 421.5L113.9 421.5" fill="none" stroke="#8e8f96" stroke-width="0.6" stroke-linejoin="round"/>
<path d="M53.9 421.5L54.5 421.5L55 421.5L55.6 421.5L56.1 421.5L56.7 421.5L57.2 421.5L57.8 421.5L58.3 421.5L58.9 421.5L59.4 421.5L60 421.5L60.5 421.5L61.1 421.5L61.6 421.5L62.2 421.5L62.7 421.5L63.3 421.5L63.8 421.5L64.4 421.5L64.9 421.5L65.5 421.5L66 421.5L66.6 421.5L67.1 421.5L67.7 421.5L68.2 421.5L68.8 421.5L69.3 421.4L69.9 421.3L70.4 421.2L71 420.9L71.5 420.5L72.1 419.8L72.6 418.8L73.2 417.2L73.7 415L74.3 412.1L74.8 408.4L75.4 404L75.9 398.8L76.5 393.4L77 387.9L77.6 382.8L78.1 378.7L78.7 375.9L79.2 374.8L79.8 375.6L80.3 378.3L80.9 382.7L81.4 388.1L82 394L82.5 399.9L83.1 405.2L83.6 409.8L84.2 413.4L84.7 416.2L85.3 418.2L85.8 419.5L86.4 420.3L86.9 420.9L87.5 421.2L88 421.3L88.6 421.4L89.1 421.5L89.7 421.5L90.2 421.5L90.8 421.5L91.3 421.5L91.9 421.5L92.4 421.5L93 421.5L93.5 421.5L94.1 421.5L94.6 421.5L95.2 421.5L95.7 421.5L96.3 421.5L96.8 421.5L97.4 421.5L97.9 421.5L98.5 421.5L99 421.5L99.6 421.5L100.1 421.5L100.7 421.5L101.2 421.5L101.8 421.5L102.3 421.5L102.9 421.5L103.4 421.5L104 421.5L104.5 421.5L105.1 421.5L105.6 421.5L106.2 421.5L106.7 421.5L107.3 421.5L107.8 421.5L108.4 421.5L108.9 421.5L109.5 421.5L110 421.5L110.6 421.5L111.1 421.5L111.7 421.5L112.2 421.5L112.8 421.5L113.3 421.5L113.9 421.5L113.85 421.6L53.95 421.6Z" fill="rgba(70,100,160,0.32)" stroke="none"/>
<path d="M53.9 421.5L54.5 421.5L55 421.5L55.6 421.5L56.1 421.5L56.7 421.5L57.2 421.5L57.8 421.5L58.3 421.5L58.9 421.5L59.4 421.5L60 421.5L60.5 421.5L61.1 421.5L61.6 421.5L62.2 421.5L62.7 421.5L63.3 421.5L63.8 421.5L64.4 421.5L64.9 421.5L65.5 421.5L66 421.5L66.6 421.5L67.1 421.5L67.7 421.5L68.2 421.5L68.8 421.5L69.3 421.4L69.9 421.3L70.4 421.2L71 420.9L71.5 420.5L72.1 419.8L72.6 418.8L73.2 417.2L73.7 415L74.3 412.1L74.8 408.4L75.4 404L75.9 398.8L76.5 393.4L77 387.9L77.6 382.8L78.1 378.7L78.7 375.9L79.2 374.8L79.8 375.6L80.3 378.3L80.9 382.7L81.4 388.1L82 394L82.5 399.9L83.1 405.2L83.6 409.8L84.2 413.4L84.7 416.2L85.3 418.2L85.8 419.5L86.4 420.3L86.9 420.9L87.5 421.2L88 421.3L88.6 421.4L89.1 421.5L89.7 421.5L90.2 421.5L90.8 421.5L91.3 421.5L91.9 421.5L92.4 421.5L93 421.5L93.5 421.5L94.1 421.5L94.6 421.5L95.2 421.5L95.7 421.5L96.3 421.5L96.8 421.5L97.4 421.5L97.9 421.5L98.5 421.5L99 421.5L99.6 421.5L100.1 421.5L100.7 421.5L101.2 421.5L101.8 421.5L102.3 421.5L102.9 421.5L103.4 421.5L104 421.5L104.5 421.5L105.1 421.5L105.6 421.5L106.2 421.5L106.7 421.5L107.3 421.5L107.8 421.5L108.4 421.5L108.9 421.5L109.5 421.5L110 421.5L110.6 421.5L111.1 421.5L111.7 421.5L112.2 421.5L112.8 421.5L113.3 421.5L113.9 421.5" fill="none" stroke="#2d4b8e" stroke-width="0.9" stroke-linejoin="round"/>
<path d="M53.9 421.5L54.5 421.5L55 421.5L55.6 421.5L56.1 421.5L56.7 421.5L57.2 421.5L57.8 421.5L58.3 421.5L58.9 421.5L59.4 421.5L60 421.5L60.5 421.5L61.1 421.5L61.6 421.5L62.2 421.5L62.7 421.5L63.3 421.5L63.8 421.5L64.4 421.5L64.9 421.5L65.5 421.5L66 421.5L66.6 421.5L67.1 421.5L67.7 421.5L68.2 421.5L68.8 421.5L69.3 421.5L69.9 421.5L70.4 421.5L71 421.5L71.5 421.5L72.1 421.5L72.6 421.5L73.2 421.5L73.7 421.5L74.3 421.5L74.8 421.5L75.4 421.5L75.9 421.5L76.5 421.5L77 421.5L77.6 421.5L78.1 421.5L78.7 421.5L79.2 421.5L79.8 421.5L80.3 421.5L80.9 421.5L81.4 421.5L82 421.5L82.5 421.5L83.1 421.5L83.6 421.5L84.2 421.4L84.7 421.3L85.3 421L85.8 420.5L86.4 419.6L86.9 418L87.5 415.4L88 411.6L88.6 406.5L89.1 400L89.7 392.6L90.2 385L90.8 378.1L91.3 373.2L91.9 370.9L92.4 371.6L93 374.8L93.5 380L94.1 386.5L94.6 393.5L95.2 400.3L95.7 406.2L96.3 411L96.8 414.7L97.4 417.3L97.9 419.1L98.5 420.1L99 420.8L99.6 421.1L100.1 421.3L100.7 421.4L101.2 421.5L101.8 421.5L102.3 421.5L102.9 421.5L103.4 421.5L104 421.5L104.5 421.5L105.1 421.5L105.6 421.5L106.2 421.5L106.7 421.5L107.3 421.5L107.8 421.5L108.4 421.5L108.9 421.5L109.5 421.5L110 421.5L110.6 421.5L111.1 421.5L111.7 421.5L112.2 421.5L112.8 421.5L113.3 421.5L113.9 421.5L113.85 421.6L53.95 421.6Z" fill="rgba(200,35,75,0.37)" stroke="none"/>
<path d="M53.9 421.5L54.5 421.5L55 421.5L55.6 421.5L56.1 421.5L56.7 421.5L57.2 421.5L57.8 421.5L58.3 421.5L58.9 421.5L59.4 421.5L60 421.5L60.5 421.5L61.1 421.5L61.6 421.5L62.2 421.5L62.7 421.5L63.3 421.5L63.8 421.5L64.4 421.5L64.9 421.5L65.5 421.5L66 421.5L66.6 421.5L67.1 421.5L67.7 421.5L68.2 421.5L68.8 421.5L69.3 421.5L69.9 421.5L70.4 421.5L71 421.5L71.5 421.5L72.1 421.5L72.6 421.5L73.2 421.5L73.7 421.5L74.3 421.5L74.8 421.5L75.4 421.5L75.9 421.5L76.5 421.5L77 421.5L77.6 421.5L78.1 421.5L78.7 421.5L79.2 421.5L79.8 421.5L80.3 421.5L80.9 421.5L81.4 421.5L82 421.5L82.5 421.5L83.1 421.5L83.6 421.5L84.2 421.4L84.7 421.3L85.3 421L85.8 420.5L86.4 419.6L86.9 418L87.5 415.4L88 411.6L88.6 406.5L89.1 400L89.7 392.6L90.2 385L90.8 378.1L91.3 373.2L91.9 370.9L92.4 371.6L93 374.8L93.5 380L94.1 386.5L94.6 393.5L95.2 400.3L95.7 406.2L96.3 411L96.8 414.7L97.4 417.3L97.9 419.1L98.5 420.1L99 420.8L99.6 421.1L100.1 421.3L100.7 421.4L101.2 421.5L101.8 421.5L102.3 421.5L102.9 421.5L103.4 421.5L104 421.5L104.5 421.5L105.1 421.5L105.6 421.5L106.2 421.5L106.7 421.5L107.3 421.5L107.8 421.5L108.4 421.5L108.9 421.5L109.5 421.5L110 421.5L110.6 421.5L111.1 421.5L111.7 421.5L112.2 421.5L112.8 421.5L113.3 421.5L113.9 421.5" fill="none" stroke="#bd1f4c" stroke-width="0.9" stroke-linejoin="round"/>
<line x1="50.6" y1="421.6" x2="53.4" y2="421.6" stroke="#222" stroke-width="0.7"/>
<text x="47.1" y="423.95" font-size="6.6" text-anchor="end" font-weight="normal" fill="#1a1a1a"  stroke="#1a1a1a" stroke-width="0.16">0</text>
<line x1="50.6" y1="406.5" x2="53.4" y2="406.5" stroke="#222" stroke-width="0.7"/>
<text x="47.1" y="408.85" font-size="6.6" text-anchor="end" font-weight="normal" fill="#1a1a1a"  stroke="#1a1a1a" stroke-width="0.16">50</text>
<line x1="50.6" y1="391.4" x2="53.4" y2="391.4" stroke="#222" stroke-width="0.7"/>
<text x="47.1" y="393.75" font-size="6.6" text-anchor="end" font-weight="normal" fill="#1a1a1a"  stroke="#1a1a1a" stroke-width="0.16">100</text>
<line x1="50.6" y1="376.3" x2="53.4" y2="376.3" stroke="#222" stroke-width="0.7"/>
<text x="47.1" y="378.65" font-size="6.6" text-anchor="end" font-weight="normal" fill="#1a1a1a"  stroke="#1a1a1a" stroke-width="0.16">150</text>
<line x1="52" y1="421.6" x2="53.4" y2="421.6" stroke="#222" stroke-width="0.6"/>
<line x1="52" y1="418.58" x2="53.4" y2="418.58" stroke="#222" stroke-width="0.6"/>
<line x1="52" y1="415.56" x2="53.4" y2="415.56" stroke="#222" stroke-width="0.6"/>
<line x1="52" y1="412.54" x2="53.4" y2="412.54" stroke="#222" stroke-width="0.6"/>
<line x1="52" y1="409.52" x2="53.4" y2="409.52" stroke="#222" stroke-width="0.6"/>
<line x1="52" y1="406.5" x2="53.4" y2="406.5" stroke="#222" stroke-width="0.6"/>
<line x1="52" y1="403.48" x2="53.4" y2="403.48" stroke="#222" stroke-width="0.6"/>
<line x1="52" y1="400.46" x2="53.4" y2="400.46" stroke="#222" stroke-width="0.6"/>
<line x1="52" y1="397.44" x2="53.4" y2="397.44" stroke="#222" stroke-width="0.6"/>
<line x1="52" y1="394.42" x2="53.4" y2="394.42" stroke="#222" stroke-width="0.6"/>
<line x1="52" y1="391.4" x2="53.4" y2="391.4" stroke="#222" stroke-width="0.6"/>
<line x1="52" y1="388.38" x2="53.4" y2="388.38" stroke="#222" stroke-width="0.6"/>
<line x1="52" y1="385.36" x2="53.4" y2="385.36" stroke="#222" stroke-width="0.6"/>
<line x1="52" y1="382.34" x2="53.4" y2="382.34" stroke="#222" stroke-width="0.6"/>
<line x1="52" y1="379.32" x2="53.4" y2="379.32" stroke="#222" stroke-width="0.6"/>
<line x1="52" y1="376.3" x2="53.4" y2="376.3" stroke="#222" stroke-width="0.6"/>
<line x1="52" y1="373.28" x2="53.4" y2="373.28" stroke="#222" stroke-width="0.6"/>
<line x1="52" y1="370.26" x2="53.4" y2="370.26" stroke="#222" stroke-width="0.6"/>
<line x1="52" y1="367.24" x2="53.4" y2="367.24" stroke="#222" stroke-width="0.6"/>
<line x1="52" y1="364.22" x2="53.4" y2="364.22" stroke="#222" stroke-width="0.6"/>
<line x1="53.8" y1="421.6" x2="53.8" y2="423.6" stroke="#222" stroke-width="0.6"/>
<text x="53.4" y="432.9" font-size="6.6" text-anchor="middle" font-weight="normal" fill="#1a1a1a"  stroke="#1a1a1a" stroke-width="0.16">10</text>
<text x="57.3" y="431" font-size="4.4" text-anchor="start" font-weight="normal" fill="#1a1a1a"  stroke="#1a1a1a" stroke-width="0.05">0</text>
<line x1="58.32" y1="421.6" x2="58.32" y2="423.2" stroke="#222" stroke-width="0.7"/>
<line x1="60.96" y1="421.6" x2="60.96" y2="423.2" stroke="#222" stroke-width="0.7"/>
<line x1="62.83" y1="421.6" x2="62.83" y2="423.2" stroke="#222" stroke-width="0.7"/>
<line x1="64.28" y1="421.6" x2="64.28" y2="423.2" stroke="#222" stroke-width="0.7"/>
<line x1="65.47" y1="421.6" x2="65.47" y2="423.2" stroke="#222" stroke-width="0.7"/>
<line x1="66.48" y1="421.6" x2="66.48" y2="423.2" stroke="#222" stroke-width="0.7"/>
<line x1="67.35" y1="421.6" x2="67.35" y2="423.2" stroke="#222" stroke-width="0.7"/>
<line x1="68.11" y1="421.6" x2="68.11" y2="423.2" stroke="#222" stroke-width="0.7"/>
<line x1="68.8" y1="421.6" x2="68.8" y2="423.6" stroke="#222" stroke-width="0.6"/>
<text x="68.4" y="432.9" font-size="6.6" text-anchor="middle" font-weight="normal" fill="#1a1a1a"  stroke="#1a1a1a" stroke-width="0.16">10</text>
<text x="72.3" y="431" font-size="4.4" text-anchor="start" font-weight="normal" fill="#1a1a1a"  stroke="#1a1a1a" stroke-width="0.05">1</text>
<line x1="73.32" y1="421.6" x2="73.32" y2="423.2" stroke="#222" stroke-width="0.7"/>
<line x1="75.96" y1="421.6" x2="75.96" y2="423.2" stroke="#222" stroke-width="0.7"/>
<line x1="77.83" y1="421.6" x2="77.83" y2="423.2" stroke="#222" stroke-width="0.7"/>
<line x1="79.28" y1="421.6" x2="79.28" y2="423.2" stroke="#222" stroke-width="0.7"/>
<line x1="80.47" y1="421.6" x2="80.47" y2="423.2" stroke="#222" stroke-width="0.7"/>
<line x1="81.48" y1="421.6" x2="81.48" y2="423.2" stroke="#222" stroke-width="0.7"/>
<line x1="82.35" y1="421.6" x2="82.35" y2="423.2" stroke="#222" stroke-width="0.7"/>
<line x1="83.11" y1="421.6" x2="83.11" y2="423.2" stroke="#222" stroke-width="0.7"/>
<line x1="83.8" y1="421.6" x2="83.8" y2="423.6" stroke="#222" stroke-width="0.6"/>
<text x="83.4" y="432.9" font-size="6.6" text-anchor="middle" font-weight="normal" fill="#1a1a1a"  stroke="#1a1a1a" stroke-width="0.16">10</text>
<text x="87.3" y="431" font-size="4.4" text-anchor="start" font-weight="normal" fill="#1a1a1a"  stroke="#1a1a1a" stroke-width="0.05">2</text>
<line x1="88.32" y1="421.6" x2="88.32" y2="423.2" stroke="#222" stroke-width="0.7"/>
<line x1="90.96" y1="421.6" x2="90.96" y2="423.2" stroke="#222" stroke-width="0.7"/>
<line x1="92.83" y1="421.6" x2="92.83" y2="423.2" stroke="#222" stroke-width="0.7"/>
<line x1="94.28" y1="421.6" x2="94.28" y2="423.2" stroke="#222" stroke-width="0.7"/>
<line x1="95.47" y1="421.6" x2="95.47" y2="423.2" stroke="#222" stroke-width="0.7"/>
<line x1="96.48" y1="421.6" x2="96.48" y2="423.2" stroke="#222" stroke-width="0.7"/>
<line x1="97.35" y1="421.6" x2="97.35" y2="423.2" stroke="#222" stroke-width="0.7"/>
<line x1="98.11" y1="421.6" x2="98.11" y2="423.2" stroke="#222" stroke-width="0.7"/>
<line x1="98.8" y1="421.6" x2="98.8" y2="423.6" stroke="#222" stroke-width="0.6"/>
<text x="98.4" y="432.9" font-size="6.6" text-anchor="middle" font-weight="normal" fill="#1a1a1a"  stroke="#1a1a1a" stroke-width="0.16">10</text>
<text x="102.3" y="431" font-size="4.4" text-anchor="start" font-weight="normal" fill="#1a1a1a"  stroke="#1a1a1a" stroke-width="0.05">3</text>
<line x1="103.32" y1="421.6" x2="103.32" y2="423.2" stroke="#222" stroke-width="0.7"/>
<line x1="105.96" y1="421.6" x2="105.96" y2="423.2" stroke="#222" stroke-width="0.7"/>
<line x1="107.83" y1="421.6" x2="107.83" y2="423.2" stroke="#222" stroke-width="0.7"/>
<line x1="109.28" y1="421.6" x2="109.28" y2="423.2" stroke="#222" stroke-width="0.7"/>
<line x1="110.47" y1="421.6" x2="110.47" y2="423.2" stroke="#222" stroke-width="0.7"/>
<line x1="111.48" y1="421.6" x2="111.48" y2="423.2" stroke="#222" stroke-width="0.7"/>
<line x1="112.35" y1="421.6" x2="112.35" y2="423.2" stroke="#222" stroke-width="0.7"/>
<line x1="113.11" y1="421.6" x2="113.11" y2="423.2" stroke="#222" stroke-width="0.7"/>
<line x1="113.8" y1="421.6" x2="113.8" y2="423.6" stroke="#222" stroke-width="0.6"/>
<text x="113.4" y="432.9" font-size="6.6" text-anchor="middle" font-weight="normal" fill="#1a1a1a"  stroke="#1a1a1a" stroke-width="0.16">10</text>
<text x="117.3" y="431" font-size="4.4" text-anchor="start" font-weight="normal" fill="#1a1a1a"  stroke="#1a1a1a" stroke-width="0.05">4</text>
<text x="30.8" y="456.8" font-size="11.2" text-anchor="start" font-weight="bold" fill="#111"  stroke="#111" stroke-width="0.16">D</text>
<text x="83.7" y="456.8" font-size="8.2" text-anchor="middle" font-weight="normal" fill="#222"  stroke="#222" stroke-width="0.16">HL60</text>
<path d="M53.4 523.3 V462.4 H114.4 V523.3" fill="none" stroke="#111" stroke-width="1.1"/>
<line x1="53.4" y1="523.3" x2="114.4" y2="523.3" stroke="#111" stroke-width="1.1"/>
<path d="M53.9 523.2L54.5 523.2L55 523.2L55.6 523.1L56.1 523.1L56.7 522.9L57.2 522.6L57.8 522.1L58.3 521.1L58.9 519.5L59.4 517L60 513.4L60.5 508.5L61.1 502.6L61.6 495.8L62.2 488.9L62.7 482.5L63.3 477.7L63.8 475.1L64.4 475.3L64.9 478.5L65.5 484.3L66 491.6L66.6 499.2L67.1 506.2L67.7 512L68.2 516.3L68.8 519.2L69.3 521L69.9 522.1L70.4 522.7L71 523L71.5 523.1L72.1 523.2L72.6 523.2L73.2 523.2L73.7 523.2L74.3 523.2L74.8 523.2L75.4 523.2L75.9 523.2L76.5 523.2L77 523.2L77.6 523.2L78.1 523.2L78.7 523.2L79.2 523.2L79.8 523.2L80.3 523.2L80.9 523.2L81.4 523.2L82 523.2L82.5 523.2L83.1 523.2L83.6 523.2L84.2 523.2L84.7 523.2L85.3 523.2L85.8 523.2L86.4 523.2L86.9 523.2L87.5 523.2L88 523.2L88.6 523.2L89.1 523.2L89.7 523.2L90.2 523.2L90.8 523.2L91.3 523.2L91.9 523.2L92.4 523.2L93 523.2L93.5 523.2L94.1 523.2L94.6 523.2L95.2 523.2L95.7 523.2L96.3 523.2L96.8 523.2L97.4 523.2L97.9 523.2L98.5 523.2L99 523.2L99.6 523.2L100.1 523.2L100.7 523.2L101.2 523.2L101.8 523.2L102.3 523.2L102.9 523.2L103.4 523.2L104 523.2L104.5 523.2L105.1 523.2L105.6 523.2L106.2 523.2L106.7 523.2L107.3 523.2L107.8 523.2L108.4 523.2L108.9 523.2L109.5 523.2L110 523.2L110.6 523.2L111.1 523.2L111.7 523.2L112.2 523.2L112.8 523.2L113.3 523.2L113.9 523.2L113.85 523.3L53.95 523.3Z" fill="#c9cacd" stroke="none"/>
<path d="M53.9 523.2L54.5 523.2L55 523.2L55.6 523.1L56.1 523.1L56.7 522.9L57.2 522.6L57.8 522.1L58.3 521.1L58.9 519.5L59.4 517L60 513.4L60.5 508.5L61.1 502.6L61.6 495.8L62.2 488.9L62.7 482.5L63.3 477.7L63.8 475.1L64.4 475.3L64.9 478.5L65.5 484.3L66 491.6L66.6 499.2L67.1 506.2L67.7 512L68.2 516.3L68.8 519.2L69.3 521L69.9 522.1L70.4 522.7L71 523L71.5 523.1L72.1 523.2L72.6 523.2L73.2 523.2L73.7 523.2L74.3 523.2L74.8 523.2L75.4 523.2L75.9 523.2L76.5 523.2L77 523.2L77.6 523.2L78.1 523.2L78.7 523.2L79.2 523.2L79.8 523.2L80.3 523.2L80.9 523.2L81.4 523.2L82 523.2L82.5 523.2L83.1 523.2L83.6 523.2L84.2 523.2L84.7 523.2L85.3 523.2L85.8 523.2L86.4 523.2L86.9 523.2L87.5 523.2L88 523.2L88.6 523.2L89.1 523.2L89.7 523.2L90.2 523.2L90.8 523.2L91.3 523.2L91.9 523.2L92.4 523.2L93 523.2L93.5 523.2L94.1 523.2L94.6 523.2L95.2 523.2L95.7 523.2L96.3 523.2L96.8 523.2L97.4 523.2L97.9 523.2L98.5 523.2L99 523.2L99.6 523.2L100.1 523.2L100.7 523.2L101.2 523.2L101.8 523.2L102.3 523.2L102.9 523.2L103.4 523.2L104 523.2L104.5 523.2L105.1 523.2L105.6 523.2L106.2 523.2L106.7 523.2L107.3 523.2L107.8 523.2L108.4 523.2L108.9 523.2L109.5 523.2L110 523.2L110.6 523.2L111.1 523.2L111.7 523.2L112.2 523.2L112.8 523.2L113.3 523.2L113.9 523.2" fill="none" stroke="#8e8f96" stroke-width="0.6" stroke-linejoin="round"/>
<path d="M53.9 523.2L54.5 523.2L55 523.2L55.6 523.2L56.1 523.2L56.7 523.2L57.2 523.2L57.8 523.2L58.3 523.2L58.9 523.2L59.4 523.2L60 523.2L60.5 523.2L61.1 523.2L61.6 523.2L62.2 523.2L62.7 523.2L63.3 523.2L63.8 523.2L64.4 523.2L64.9 523.2L65.5 523.2L66 523.2L66.6 523.2L67.1 523.2L67.7 523.2L68.2 523.2L68.8 523.2L69.3 523.2L69.9 523.2L70.4 523.2L71 523.2L71.5 523.2L72.1 523.2L72.6 523.2L73.2 523.2L73.7 523.2L74.3 523.2L74.8 523.2L75.4 523.1L75.9 523.1L76.5 523L77 522.9L77.6 522.8L78.1 522.7L78.7 522.6L79.2 522.5L79.8 522.4L80.3 522.4L80.9 522.5L81.4 522.6L82 522.7L82.5 522.8L83.1 523L83.6 523L84.2 523.1L84.7 523.2L85.3 523.2L85.8 523.2L86.4 523.2L86.9 523.2L87.5 523.2L88 523.1L88.6 523L89.1 522.7L89.7 522.2L90.2 521.2L90.8 519.5L91.3 516.9L91.9 512.8L92.4 507.3L93 500.4L93.5 492.3L94.1 484L94.6 476.4L95.2 470.7L95.7 467.9L96.3 468.7L96.8 473.8L97.4 482L97.9 491.5L98.5 500.9L99 508.7L99.6 514.5L100.1 518.4L100.7 520.8L101.2 522.1L101.8 522.7L102.3 523L102.9 523.1L103.4 523.2L104 523.2L104.5 523.2L105.1 523.2L105.6 523.2L106.2 523.2L106.7 523.2L107.3 523.2L107.8 523.2L108.4 523.2L108.9 523.2L109.5 523.2L110 523.2L110.6 523.2L111.1 523.2L111.7 523.2L112.2 523.2L112.8 523.2L113.3 523.2L113.9 523.2L113.85 523.3L53.95 523.3Z" fill="rgba(70,100,160,0.32)" stroke="none"/>
<path d="M53.9 523.2L54.5 523.2L55 523.2L55.6 523.2L56.1 523.2L56.7 523.2L57.2 523.2L57.8 523.2L58.3 523.2L58.9 523.2L59.4 523.2L60 523.2L60.5 523.2L61.1 523.2L61.6 523.2L62.2 523.2L62.7 523.2L63.3 523.2L63.8 523.2L64.4 523.2L64.9 523.2L65.5 523.2L66 523.2L66.6 523.2L67.1 523.2L67.7 523.2L68.2 523.2L68.8 523.2L69.3 523.2L69.9 523.2L70.4 523.2L71 523.2L71.5 523.2L72.1 523.2L72.6 523.2L73.2 523.2L73.7 523.2L74.3 523.2L74.8 523.2L75.4 523.1L75.9 523.1L76.5 523L77 522.9L77.6 522.8L78.1 522.7L78.7 522.6L79.2 522.5L79.8 522.4L80.3 522.4L80.9 522.5L81.4 522.6L82 522.7L82.5 522.8L83.1 523L83.6 523L84.2 523.1L84.7 523.2L85.3 523.2L85.8 523.2L86.4 523.2L86.9 523.2L87.5 523.2L88 523.1L88.6 523L89.1 522.7L89.7 522.2L90.2 521.2L90.8 519.5L91.3 516.9L91.9 512.8L92.4 507.3L93 500.4L93.5 492.3L94.1 484L94.6 476.4L95.2 470.7L95.7 467.9L96.3 468.7L96.8 473.8L97.4 482L97.9 491.5L98.5 500.9L99 508.7L99.6 514.5L100.1 518.4L100.7 520.8L101.2 522.1L101.8 522.7L102.3 523L102.9 523.1L103.4 523.2L104 523.2L104.5 523.2L105.1 523.2L105.6 523.2L106.2 523.2L106.7 523.2L107.3 523.2L107.8 523.2L108.4 523.2L108.9 523.2L109.5 523.2L110 523.2L110.6 523.2L111.1 523.2L111.7 523.2L112.2 523.2L112.8 523.2L113.3 523.2L113.9 523.2" fill="none" stroke="#2d4b8e" stroke-width="0.9" stroke-linejoin="round"/>
<path d="M53.9 523.2L54.5 523.2L55 523.2L55.6 523.2L56.1 523.2L56.7 523.2L57.2 523.2L57.8 523.2L58.3 523.2L58.9 523.2L59.4 523.2L60 523.2L60.5 523.2L61.1 523.2L61.6 523.2L62.2 523.2L62.7 523.2L63.3 523.2L63.8 523.2L64.4 523.2L64.9 523.2L65.5 523.2L66 523.2L66.6 523.2L67.1 523.2L67.7 523.2L68.2 523.2L68.8 523.2L69.3 523.2L69.9 523.2L70.4 523.2L71 523.2L71.5 523.2L72.1 523.2L72.6 523.2L73.2 523.2L73.7 523.2L74.3 523.2L74.8 523.2L75.4 523.2L75.9 523.2L76.5 523.2L77 523.2L77.6 523.2L78.1 523.2L78.7 523.2L79.2 523.2L79.8 523.2L80.3 523.2L80.9 523.2L81.4 523.2L82 523.2L82.5 523.2L83.1 523.2L83.6 523.2L84.2 523.2L84.7 523.2L85.3 523.2L85.8 523.2L86.4 523.2L86.9 523.2L87.5 523.1L88 523.1L88.6 522.9L89.1 522.5L89.7 521.6L90.2 520.2L90.8 517.7L91.3 513.8L91.9 508.3L92.4 501.2L93 492.7L93.5 483.8L94.1 475.7L94.6 469.6L95.2 466.8L95.7 468L96.3 473.5L96.8 482.1L97.4 491.9L97.9 501.3L98.5 509.1L99 514.8L99.6 518.6L100.1 520.9L100.7 522.1L101.2 522.8L101.8 523L102.3 523.1L102.9 523.2L103.4 523.2L104 523.2L104.5 523.2L105.1 523.2L105.6 523.2L106.2 523.2L106.7 523.2L107.3 523.2L107.8 523.2L108.4 523.2L108.9 523.2L109.5 523.2L110 523.2L110.6 523.2L111.1 523.2L111.7 523.2L112.2 523.2L112.8 523.2L113.3 523.2L113.9 523.2L113.85 523.3L53.95 523.3Z" fill="rgba(200,35,75,0.37)" stroke="none"/>
<path d="M53.9 523.2L54.5 523.2L55 523.2L55.6 523.2L56.1 523.2L56.7 523.2L57.2 523.2L57.8 523.2L58.3 523.2L58.9 523.2L59.4 523.2L60 523.2L60.5 523.2L61.1 523.2L61.6 523.2L62.2 523.2L62.7 523.2L63.3 523.2L63.8 523.2L64.4 523.2L64.9 523.2L65.5 523.2L66 523.2L66.6 523.2L67.1 523.2L67.7 523.2L68.2 523.2L68.8 523.2L69.3 523.2L69.9 523.2L70.4 523.2L71 523.2L71.5 523.2L72.1 523.2L72.6 523.2L73.2 523.2L73.7 523.2L74.3 523.2L74.8 523.2L75.4 523.2L75.9 523.2L76.5 523.2L77 523.2L77.6 523.2L78.1 523.2L78.7 523.2L79.2 523.2L79.8 523.2L80.3 523.2L80.9 523.2L81.4 523.2L82 523.2L82.5 523.2L83.1 523.2L83.6 523.2L84.2 523.2L84.7 523.2L85.3 523.2L85.8 523.2L86.4 523.2L86.9 523.2L87.5 523.1L88 523.1L88.6 522.9L89.1 522.5L89.7 521.6L90.2 520.2L90.8 517.7L91.3 513.8L91.9 508.3L92.4 501.2L93 492.7L93.5 483.8L94.1 475.7L94.6 469.6L95.2 466.8L95.7 468L96.3 473.5L96.8 482.1L97.4 491.9L97.9 501.3L98.5 509.1L99 514.8L99.6 518.6L100.1 520.9L100.7 522.1L101.2 522.8L101.8 523L102.3 523.1L102.9 523.2L103.4 523.2L104 523.2L104.5 523.2L105.1 523.2L105.6 523.2L106.2 523.2L106.7 523.2L107.3 523.2L107.8 523.2L108.4 523.2L108.9 523.2L109.5 523.2L110 523.2L110.6 523.2L111.1 523.2L111.7 523.2L112.2 523.2L112.8 523.2L113.3 523.2L113.9 523.2" fill="none" stroke="#bd1f4c" stroke-width="0.9" stroke-linejoin="round"/>
<line x1="50.6" y1="523.3" x2="53.4" y2="523.3" stroke="#222" stroke-width="0.7"/>
<text x="47.1" y="525.65" font-size="6.6" text-anchor="end" font-weight="normal" fill="#1a1a1a"  stroke="#1a1a1a" stroke-width="0.16">0</text>
<line x1="50.6" y1="513.1" x2="53.4" y2="513.1" stroke="#222" stroke-width="0.7"/>
<text x="47.1" y="515.45" font-size="6.6" text-anchor="end" font-weight="normal" fill="#1a1a1a"  stroke="#1a1a1a" stroke-width="0.16">50</text>
<line x1="50.6" y1="502.9" x2="53.4" y2="502.9" stroke="#222" stroke-width="0.7"/>
<text x="47.1" y="505.25" font-size="6.6" text-anchor="end" font-weight="normal" fill="#1a1a1a"  stroke="#1a1a1a" stroke-width="0.16">100</text>
<line x1="50.6" y1="492.7" x2="53.4" y2="492.7" stroke="#222" stroke-width="0.7"/>
<text x="47.1" y="495.05" font-size="6.6" text-anchor="end" font-weight="normal" fill="#1a1a1a"  stroke="#1a1a1a" stroke-width="0.16">150</text>
<line x1="50.6" y1="482.5" x2="53.4" y2="482.5" stroke="#222" stroke-width="0.7"/>
<text x="47.1" y="484.85" font-size="6.6" text-anchor="end" font-weight="normal" fill="#1a1a1a"  stroke="#1a1a1a" stroke-width="0.16">200</text>
<line x1="50.6" y1="472.3" x2="53.4" y2="472.3" stroke="#222" stroke-width="0.7"/>
<text x="47.1" y="474.65" font-size="6.6" text-anchor="end" font-weight="normal" fill="#1a1a1a"  stroke="#1a1a1a" stroke-width="0.16">250</text>
<line x1="52" y1="523.3" x2="53.4" y2="523.3" stroke="#222" stroke-width="0.6"/>
<line x1="52" y1="521.26" x2="53.4" y2="521.26" stroke="#222" stroke-width="0.6"/>
<line x1="52" y1="519.22" x2="53.4" y2="519.22" stroke="#222" stroke-width="0.6"/>
<line x1="52" y1="517.18" x2="53.4" y2="517.18" stroke="#222" stroke-width="0.6"/>
<line x1="52" y1="515.14" x2="53.4" y2="515.14" stroke="#222" stroke-width="0.6"/>
<line x1="52" y1="513.1" x2="53.4" y2="513.1" stroke="#222" stroke-width="0.6"/>
<line x1="52" y1="511.06" x2="53.4" y2="511.06" stroke="#222" stroke-width="0.6"/>
<line x1="52" y1="509.02" x2="53.4" y2="509.02" stroke="#222" stroke-width="0.6"/>
<line x1="52" y1="506.98" x2="53.4" y2="506.98" stroke="#222" stroke-width="0.6"/>
<line x1="52" y1="504.94" x2="53.4" y2="504.94" stroke="#222" stroke-width="0.6"/>
<line x1="52" y1="502.9" x2="53.4" y2="502.9" stroke="#222" stroke-width="0.6"/>
<line x1="52" y1="500.86" x2="53.4" y2="500.86" stroke="#222" stroke-width="0.6"/>
<line x1="52" y1="498.82" x2="53.4" y2="498.82" stroke="#222" stroke-width="0.6"/>
<line x1="52" y1="496.78" x2="53.4" y2="496.78" stroke="#222" stroke-width="0.6"/>
<line x1="52" y1="494.74" x2="53.4" y2="494.74" stroke="#222" stroke-width="0.6"/>
<line x1="52" y1="492.7" x2="53.4" y2="492.7" stroke="#222" stroke-width="0.6"/>
<line x1="52" y1="490.66" x2="53.4" y2="490.66" stroke="#222" stroke-width="0.6"/>
<line x1="52" y1="488.62" x2="53.4" y2="488.62" stroke="#222" stroke-width="0.6"/>
<line x1="52" y1="486.58" x2="53.4" y2="486.58" stroke="#222" stroke-width="0.6"/>
<line x1="52" y1="484.54" x2="53.4" y2="484.54" stroke="#222" stroke-width="0.6"/>
<line x1="52" y1="482.5" x2="53.4" y2="482.5" stroke="#222" stroke-width="0.6"/>
<line x1="52" y1="480.46" x2="53.4" y2="480.46" stroke="#222" stroke-width="0.6"/>
<line x1="52" y1="478.42" x2="53.4" y2="478.42" stroke="#222" stroke-width="0.6"/>
<line x1="52" y1="476.38" x2="53.4" y2="476.38" stroke="#222" stroke-width="0.6"/>
<line x1="52" y1="474.34" x2="53.4" y2="474.34" stroke="#222" stroke-width="0.6"/>
<line x1="52" y1="472.3" x2="53.4" y2="472.3" stroke="#222" stroke-width="0.6"/>
<line x1="52" y1="470.26" x2="53.4" y2="470.26" stroke="#222" stroke-width="0.6"/>
<line x1="52" y1="468.22" x2="53.4" y2="468.22" stroke="#222" stroke-width="0.6"/>
<line x1="52" y1="466.18" x2="53.4" y2="466.18" stroke="#222" stroke-width="0.6"/>
<line x1="52" y1="464.14" x2="53.4" y2="464.14" stroke="#222" stroke-width="0.6"/>
<line x1="53.8" y1="523.3" x2="53.8" y2="525.3" stroke="#222" stroke-width="0.6"/>
<text x="53.4" y="534.6" font-size="6.6" text-anchor="middle" font-weight="normal" fill="#1a1a1a"  stroke="#1a1a1a" stroke-width="0.16">10</text>
<text x="57.3" y="532.7" font-size="4.4" text-anchor="start" font-weight="normal" fill="#1a1a1a"  stroke="#1a1a1a" stroke-width="0.05">0</text>
<line x1="58.32" y1="523.3" x2="58.32" y2="524.9" stroke="#222" stroke-width="0.7"/>
<line x1="60.96" y1="523.3" x2="60.96" y2="524.9" stroke="#222" stroke-width="0.7"/>
<line x1="62.83" y1="523.3" x2="62.83" y2="524.9" stroke="#222" stroke-width="0.7"/>
<line x1="64.28" y1="523.3" x2="64.28" y2="524.9" stroke="#222" stroke-width="0.7"/>
<line x1="65.47" y1="523.3" x2="65.47" y2="524.9" stroke="#222" stroke-width="0.7"/>
<line x1="66.48" y1="523.3" x2="66.48" y2="524.9" stroke="#222" stroke-width="0.7"/>
<line x1="67.35" y1="523.3" x2="67.35" y2="524.9" stroke="#222" stroke-width="0.7"/>
<line x1="68.11" y1="523.3" x2="68.11" y2="524.9" stroke="#222" stroke-width="0.7"/>
<line x1="68.8" y1="523.3" x2="68.8" y2="525.3" stroke="#222" stroke-width="0.6"/>
<text x="68.4" y="534.6" font-size="6.6" text-anchor="middle" font-weight="normal" fill="#1a1a1a"  stroke="#1a1a1a" stroke-width="0.16">10</text>
<text x="72.3" y="532.7" font-size="4.4" text-anchor="start" font-weight="normal" fill="#1a1a1a"  stroke="#1a1a1a" stroke-width="0.05">1</text>
<line x1="73.32" y1="523.3" x2="73.32" y2="524.9" stroke="#222" stroke-width="0.7"/>
<line x1="75.96" y1="523.3" x2="75.96" y2="524.9" stroke="#222" stroke-width="0.7"/>
<line x1="77.83" y1="523.3" x2="77.83" y2="524.9" stroke="#222" stroke-width="0.7"/>
<line x1="79.28" y1="523.3" x2="79.28" y2="524.9" stroke="#222" stroke-width="0.7"/>
<line x1="80.47" y1="523.3" x2="80.47" y2="524.9" stroke="#222" stroke-width="0.7"/>
<line x1="81.48" y1="523.3" x2="81.48" y2="524.9" stroke="#222" stroke-width="0.7"/>
<line x1="82.35" y1="523.3" x2="82.35" y2="524.9" stroke="#222" stroke-width="0.7"/>
<line x1="83.11" y1="523.3" x2="83.11" y2="524.9" stroke="#222" stroke-width="0.7"/>
<line x1="83.8" y1="523.3" x2="83.8" y2="525.3" stroke="#222" stroke-width="0.6"/>
<text x="83.4" y="534.6" font-size="6.6" text-anchor="middle" font-weight="normal" fill="#1a1a1a"  stroke="#1a1a1a" stroke-width="0.16">10</text>
<text x="87.3" y="532.7" font-size="4.4" text-anchor="start" font-weight="normal" fill="#1a1a1a"  stroke="#1a1a1a" stroke-width="0.05">2</text>
<line x1="88.32" y1="523.3" x2="88.32" y2="524.9" stroke="#222" stroke-width="0.7"/>
<line x1="90.96" y1="523.3" x2="90.96" y2="524.9" stroke="#222" stroke-width="0.7"/>
<line x1="92.83" y1="523.3" x2="92.83" y2="524.9" stroke="#222" stroke-width="0.7"/>
<line x1="94.28" y1="523.3" x2="94.28" y2="524.9" stroke="#222" stroke-width="0.7"/>
<line x1="95.47" y1="523.3" x2="95.47" y2="524.9" stroke="#222" stroke-width="0.7"/>
<line x1="96.48" y1="523.3" x2="96.48" y2="524.9" stroke="#222" stroke-width="0.7"/>
<line x1="97.35" y1="523.3" x2="97.35" y2="524.9" stroke="#222" stroke-width="0.7"/>
<line x1="98.11" y1="523.3" x2="98.11" y2="524.9" stroke="#222" stroke-width="0.7"/>
<line x1="98.8" y1="523.3" x2="98.8" y2="525.3" stroke="#222" stroke-width="0.6"/>
<text x="98.4" y="534.6" font-size="6.6" text-anchor="middle" font-weight="normal" fill="#1a1a1a"  stroke="#1a1a1a" stroke-width="0.16">10</text>
<text x="102.3" y="532.7" font-size="4.4" text-anchor="start" font-weight="normal" fill="#1a1a1a"  stroke="#1a1a1a" stroke-width="0.05">3</text>
<line x1="103.32" y1="523.3" x2="103.32" y2="524.9" stroke="#222" stroke-width="0.7"/>
<line x1="105.96" y1="523.3" x2="105.96" y2="524.9" stroke="#222" stroke-width="0.7"/>
<line x1="107.83" y1="523.3" x2="107.83" y2="524.9" stroke="#222" stroke-width="0.7"/>
<line x1="109.28" y1="523.3" x2="109.28" y2="524.9" stroke="#222" stroke-width="0.7"/>
<line x1="110.47" y1="523.3" x2="110.47" y2="524.9" stroke="#222" stroke-width="0.7"/>
<line x1="111.48" y1="523.3" x2="111.48" y2="524.9" stroke="#222" stroke-width="0.7"/>
<line x1="112.35" y1="523.3" x2="112.35" y2="524.9" stroke="#222" stroke-width="0.7"/>
<line x1="113.11" y1="523.3" x2="113.11" y2="524.9" stroke="#222" stroke-width="0.7"/>
<line x1="113.8" y1="523.3" x2="113.8" y2="525.3" stroke="#222" stroke-width="0.6"/>
<text x="113.4" y="534.6" font-size="6.6" text-anchor="middle" font-weight="normal" fill="#1a1a1a"  stroke="#1a1a1a" stroke-width="0.16">10</text>
<text x="117.3" y="532.7" font-size="4.4" text-anchor="start" font-weight="normal" fill="#1a1a1a"  stroke="#1a1a1a" stroke-width="0.05">4</text>
<text x="30.8" y="557.7" font-size="11.2" text-anchor="start" font-weight="bold" fill="#111"  stroke="#111" stroke-width="0.16">E</text>
<text x="83.7" y="557.7" font-size="8.2" text-anchor="middle" font-weight="normal" fill="#222"  stroke="#222" stroke-width="0.16">NB4</text>
<path d="M53.4 625 V563.3 H114.4 V625" fill="none" stroke="#111" stroke-width="1.1"/>
<line x1="53.4" y1="625" x2="114.4" y2="625" stroke="#111" stroke-width="1.1"/>
<path d="M53.9 610.7L54.5 609.4L55 608.3L55.6 607.4L56.1 606.8L56.7 606.3L57.2 605.6L57.8 604.1L58.3 601.8L58.9 598.5L59.4 594.9L60 591.6L60.5 589.4L61.1 588.8L61.6 590.8L62.2 595.9L62.7 602.6L63.3 609.4L63.8 615.2L64.4 619.4L64.9 622.1L65.5 623.6L66 624.4L66.6 624.7L67.1 624.8L67.7 624.9L68.2 624.9L68.8 624.9L69.3 624.9L69.9 624.9L70.4 624.9L71 624.9L71.5 624.9L72.1 624.9L72.6 624.9L73.2 624.9L73.7 624.9L74.3 624.9L74.8 624.9L75.4 624.9L75.9 624.9L76.5 624.9L77 624.9L77.6 624.9L78.1 624.9L78.7 624.9L79.2 624.9L79.8 624.9L80.3 624.9L80.9 624.9L81.4 624.9L82 624.9L82.5 624.9L83.1 624.9L83.6 624.9L84.2 624.9L84.7 624.9L85.3 624.9L85.8 624.9L86.4 624.9L86.9 624.9L87.5 624.9L88 624.9L88.6 624.9L89.1 624.9L89.7 624.9L90.2 624.9L90.8 624.9L91.3 624.9L91.9 624.9L92.4 624.9L93 624.9L93.5 624.9L94.1 624.9L94.6 624.9L95.2 624.9L95.7 624.9L96.3 624.9L96.8 624.9L97.4 624.9L97.9 624.9L98.5 624.9L99 624.9L99.6 624.9L100.1 624.9L100.7 624.9L101.2 624.9L101.8 624.9L102.3 624.9L102.9 624.9L103.4 624.9L104 624.9L104.5 624.9L105.1 624.9L105.6 624.9L106.2 624.9L106.7 624.9L107.3 624.9L107.8 624.9L108.4 624.9L108.9 624.9L109.5 624.9L110 624.9L110.6 624.9L111.1 624.9L111.7 624.9L112.2 624.9L112.8 624.9L113.3 624.9L113.9 624.9L113.85 625L53.95 625Z" fill="#c9cacd" stroke="none"/>
<path d="M53.9 610.7L54.5 609.4L55 608.3L55.6 607.4L56.1 606.8L56.7 606.3L57.2 605.6L57.8 604.1L58.3 601.8L58.9 598.5L59.4 594.9L60 591.6L60.5 589.4L61.1 588.8L61.6 590.8L62.2 595.9L62.7 602.6L63.3 609.4L63.8 615.2L64.4 619.4L64.9 622.1L65.5 623.6L66 624.4L66.6 624.7L67.1 624.8L67.7 624.9L68.2 624.9L68.8 624.9L69.3 624.9L69.9 624.9L70.4 624.9L71 624.9L71.5 624.9L72.1 624.9L72.6 624.9L73.2 624.9L73.7 624.9L74.3 624.9L74.8 624.9L75.4 624.9L75.9 624.9L76.5 624.9L77 624.9L77.6 624.9L78.1 624.9L78.7 624.9L79.2 624.9L79.8 624.9L80.3 624.9L80.9 624.9L81.4 624.9L82 624.9L82.5 624.9L83.1 624.9L83.6 624.9L84.2 624.9L84.7 624.9L85.3 624.9L85.8 624.9L86.4 624.9L86.9 624.9L87.5 624.9L88 624.9L88.6 624.9L89.1 624.9L89.7 624.9L90.2 624.9L90.8 624.9L91.3 624.9L91.9 624.9L92.4 624.9L93 624.9L93.5 624.9L94.1 624.9L94.6 624.9L95.2 624.9L95.7 624.9L96.3 624.9L96.8 624.9L97.4 624.9L97.9 624.9L98.5 624.9L99 624.9L99.6 624.9L100.1 624.9L100.7 624.9L101.2 624.9L101.8 624.9L102.3 624.9L102.9 624.9L103.4 624.9L104 624.9L104.5 624.9L105.1 624.9L105.6 624.9L106.2 624.9L106.7 624.9L107.3 624.9L107.8 624.9L108.4 624.9L108.9 624.9L109.5 624.9L110 624.9L110.6 624.9L111.1 624.9L111.7 624.9L112.2 624.9L112.8 624.9L113.3 624.9L113.9 624.9" fill="none" stroke="#8e8f96" stroke-width="0.6" stroke-linejoin="round"/>
<path d="M53.9 624.9L54.5 624.9L55 624.9L55.6 624.9L56.1 624.9L56.7 624.9L57.2 624.9L57.8 624.9L58.3 624.9L58.9 624.9L59.4 624.9L60 624.9L60.5 624.9L61.1 624.9L61.6 624.9L62.2 624.9L62.7 624.9L63.3 624.9L63.8 624.9L64.4 624.9L64.9 624.9L65.5 624.9L66 624.9L66.6 624.9L67.1 624.9L67.7 624.9L68.2 624.9L68.8 624.9L69.3 624.9L69.9 624.9L70.4 624.9L71 624.9L71.5 624.9L72.1 624.9L72.6 624.9L73.2 624.9L73.7 624.9L74.3 624.9L74.8 624.9L75.4 624.9L75.9 624.9L76.5 624.9L77 624.9L77.6 624.9L78.1 624.9L78.7 624.9L79.2 624.9L79.8 624.9L80.3 624.9L80.9 624.9L81.4 624.9L82 624.9L82.5 624.9L83.1 624.9L83.6 624.9L84.2 624.9L84.7 624.9L85.3 624.9L85.8 624.9L86.4 624.9L86.9 624.9L87.5 624.9L88 624.9L88.6 624.8L89.1 624.8L89.7 624.6L90.2 624.3L90.8 623.8L91.3 622.8L91.9 621.1L92.4 618.5L93 614.8L93.5 609.9L94.1 603.7L94.6 596.7L95.2 589.4L95.7 582.7L96.3 577.5L96.8 574.7L97.4 574.8L97.9 578.7L98.5 585.8L99 594.4L99.6 603L100.1 610.5L100.7 616.2L101.2 620L101.8 622.4L102.3 623.7L102.9 624.4L103.4 624.7L104 624.8L104.5 624.9L105.1 624.9L105.6 624.9L106.2 624.9L106.7 624.9L107.3 624.9L107.8 624.9L108.4 624.9L108.9 624.9L109.5 624.9L110 624.9L110.6 624.9L111.1 624.9L111.7 624.9L112.2 624.9L112.8 624.9L113.3 624.9L113.9 624.9L113.85 625L53.95 625Z" fill="rgba(70,100,160,0.32)" stroke="none"/>
<path d="M53.9 624.9L54.5 624.9L55 624.9L55.6 624.9L56.1 624.9L56.7 624.9L57.2 624.9L57.8 624.9L58.3 624.9L58.9 624.9L59.4 624.9L60 624.9L60.5 624.9L61.1 624.9L61.6 624.9L62.2 624.9L62.7 624.9L63.3 624.9L63.8 624.9L64.4 624.9L64.9 624.9L65.5 624.9L66 624.9L66.6 624.9L67.1 624.9L67.7 624.9L68.2 624.9L68.8 624.9L69.3 624.9L69.9 624.9L70.4 624.9L71 624.9L71.5 624.9L72.1 624.9L72.6 624.9L73.2 624.9L73.7 624.9L74.3 624.9L74.8 624.9L75.4 624.9L75.9 624.9L76.5 624.9L77 624.9L77.6 624.9L78.1 624.9L78.7 624.9L79.2 624.9L79.8 624.9L80.3 624.9L80.9 624.9L81.4 624.9L82 624.9L82.5 624.9L83.1 624.9L83.6 624.9L84.2 624.9L84.7 624.9L85.3 624.9L85.8 624.9L86.4 624.9L86.9 624.9L87.5 624.9L88 624.9L88.6 624.8L89.1 624.8L89.7 624.6L90.2 624.3L90.8 623.8L91.3 622.8L91.9 621.1L92.4 618.5L93 614.8L93.5 609.9L94.1 603.7L94.6 596.7L95.2 589.4L95.7 582.7L96.3 577.5L96.8 574.7L97.4 574.8L97.9 578.7L98.5 585.8L99 594.4L99.6 603L100.1 610.5L100.7 616.2L101.2 620L101.8 622.4L102.3 623.7L102.9 624.4L103.4 624.7L104 624.8L104.5 624.9L105.1 624.9L105.6 624.9L106.2 624.9L106.7 624.9L107.3 624.9L107.8 624.9L108.4 624.9L108.9 624.9L109.5 624.9L110 624.9L110.6 624.9L111.1 624.9L111.7 624.9L112.2 624.9L112.8 624.9L113.3 624.9L113.9 624.9" fill="none" stroke="#2d4b8e" stroke-width="0.9" stroke-linejoin="round"/>
<path d="M53.9 624.9L54.5 624.9L55 624.9L55.6 624.9L56.1 624.9L56.7 624.9L57.2 624.9L57.8 624.9L58.3 624.9L58.9 624.9L59.4 624.9L60 624.9L60.5 624.9L61.1 624.9L61.6 624.9L62.2 624.9L62.7 624.9L63.3 624.9L63.8 624.9L64.4 624.9L64.9 624.9L65.5 624.9L66 624.9L66.6 624.9L67.1 624.9L67.7 624.9L68.2 624.9L68.8 624.9L69.3 624.9L69.9 624.9L70.4 624.9L71 624.9L71.5 624.9L72.1 624.9L72.6 624.9L73.2 624.9L73.7 624.9L74.3 624.9L74.8 624.9L75.4 624.9L75.9 624.9L76.5 624.9L77 624.9L77.6 624.9L78.1 624.9L78.7 624.9L79.2 624.9L79.8 624.9L80.3 624.9L80.9 624.9L81.4 624.9L82 624.9L82.5 624.9L83.1 624.9L83.6 624.9L84.2 624.9L84.7 624.9L85.3 624.9L85.8 624.9L86.4 624.9L86.9 624.9L87.5 624.9L88 624.8L88.6 624.8L89.1 624.6L89.7 624.1L90.2 623.3L90.8 621.8L91.3 619.3L91.9 615.4L92.4 609.9L93 602.8L93.5 594.6L94.1 585.9L94.6 578.2L95.2 572.5L95.7 570.1L96.3 571.7L96.8 577.4L97.4 585.8L97.9 595.4L98.5 604.4L99 611.8L99.6 617.2L100.1 620.7L100.7 622.8L101.2 623.9L101.8 624.5L102.3 624.7L102.9 624.8L103.4 624.9L104 624.9L104.5 624.9L105.1 624.9L105.6 624.9L106.2 624.9L106.7 624.9L107.3 624.9L107.8 624.9L108.4 624.9L108.9 624.9L109.5 624.9L110 624.9L110.6 624.9L111.1 624.9L111.7 624.9L112.2 624.9L112.8 624.9L113.3 624.9L113.9 624.9L113.85 625L53.95 625Z" fill="rgba(200,35,75,0.37)" stroke="none"/>
<path d="M53.9 624.9L54.5 624.9L55 624.9L55.6 624.9L56.1 624.9L56.7 624.9L57.2 624.9L57.8 624.9L58.3 624.9L58.9 624.9L59.4 624.9L60 624.9L60.5 624.9L61.1 624.9L61.6 624.9L62.2 624.9L62.7 624.9L63.3 624.9L63.8 624.9L64.4 624.9L64.9 624.9L65.5 624.9L66 624.9L66.6 624.9L67.1 624.9L67.7 624.9L68.2 624.9L68.8 624.9L69.3 624.9L69.9 624.9L70.4 624.9L71 624.9L71.5 624.9L72.1 624.9L72.6 624.9L73.2 624.9L73.7 624.9L74.3 624.9L74.8 624.9L75.4 624.9L75.9 624.9L76.5 624.9L77 624.9L77.6 624.9L78.1 624.9L78.7 624.9L79.2 624.9L79.8 624.9L80.3 624.9L80.9 624.9L81.4 624.9L82 624.9L82.5 624.9L83.1 624.9L83.6 624.9L84.2 624.9L84.7 624.9L85.3 624.9L85.8 624.9L86.4 624.9L86.9 624.9L87.5 624.9L88 624.8L88.6 624.8L89.1 624.6L89.7 624.1L90.2 623.3L90.8 621.8L91.3 619.3L91.9 615.4L92.4 609.9L93 602.8L93.5 594.6L94.1 585.9L94.6 578.2L95.2 572.5L95.7 570.1L96.3 571.7L96.8 577.4L97.4 585.8L97.9 595.4L98.5 604.4L99 611.8L99.6 617.2L100.1 620.7L100.7 622.8L101.2 623.9L101.8 624.5L102.3 624.7L102.9 624.8L103.4 624.9L104 624.9L104.5 624.9L105.1 624.9L105.6 624.9L106.2 624.9L106.7 624.9L107.3 624.9L107.8 624.9L108.4 624.9L108.9 624.9L109.5 624.9L110 624.9L110.6 624.9L111.1 624.9L111.7 624.9L112.2 624.9L112.8 624.9L113.3 624.9L113.9 624.9" fill="none" stroke="#bd1f4c" stroke-width="0.9" stroke-linejoin="round"/>
<line x1="50.6" y1="625" x2="53.4" y2="625" stroke="#222" stroke-width="0.7"/>
<text x="47.1" y="627.35" font-size="6.6" text-anchor="end" font-weight="normal" fill="#1a1a1a"  stroke="#1a1a1a" stroke-width="0.16">0</text>
<line x1="50.6" y1="611.82" x2="53.4" y2="611.82" stroke="#222" stroke-width="0.7"/>
<text x="47.1" y="614.17" font-size="6.6" text-anchor="end" font-weight="normal" fill="#1a1a1a"  stroke="#1a1a1a" stroke-width="0.16">100</text>
<line x1="50.6" y1="598.64" x2="53.4" y2="598.64" stroke="#222" stroke-width="0.7"/>
<text x="47.1" y="600.99" font-size="6.6" text-anchor="end" font-weight="normal" fill="#1a1a1a"  stroke="#1a1a1a" stroke-width="0.16">200</text>
<line x1="50.6" y1="585.46" x2="53.4" y2="585.46" stroke="#222" stroke-width="0.7"/>
<text x="47.1" y="587.81" font-size="6.6" text-anchor="end" font-weight="normal" fill="#1a1a1a"  stroke="#1a1a1a" stroke-width="0.16">300</text>
<line x1="50.6" y1="572.28" x2="53.4" y2="572.28" stroke="#222" stroke-width="0.7"/>
<text x="47.1" y="574.63" font-size="6.6" text-anchor="end" font-weight="normal" fill="#1a1a1a"  stroke="#1a1a1a" stroke-width="0.16">400</text>
<line x1="52" y1="625" x2="53.4" y2="625" stroke="#222" stroke-width="0.6"/>
<line x1="52" y1="622.36" x2="53.4" y2="622.36" stroke="#222" stroke-width="0.6"/>
<line x1="52" y1="619.73" x2="53.4" y2="619.73" stroke="#222" stroke-width="0.6"/>
<line x1="52" y1="617.09" x2="53.4" y2="617.09" stroke="#222" stroke-width="0.6"/>
<line x1="52" y1="614.46" x2="53.4" y2="614.46" stroke="#222" stroke-width="0.6"/>
<line x1="52" y1="611.82" x2="53.4" y2="611.82" stroke="#222" stroke-width="0.6"/>
<line x1="52" y1="609.18" x2="53.4" y2="609.18" stroke="#222" stroke-width="0.6"/>
<line x1="52" y1="606.55" x2="53.4" y2="606.55" stroke="#222" stroke-width="0.6"/>
<line x1="52" y1="603.91" x2="53.4" y2="603.91" stroke="#222" stroke-width="0.6"/>
<line x1="52" y1="601.28" x2="53.4" y2="601.28" stroke="#222" stroke-width="0.6"/>
<line x1="52" y1="598.64" x2="53.4" y2="598.64" stroke="#222" stroke-width="0.6"/>
<line x1="52" y1="596" x2="53.4" y2="596" stroke="#222" stroke-width="0.6"/>
<line x1="52" y1="593.37" x2="53.4" y2="593.37" stroke="#222" stroke-width="0.6"/>
<line x1="52" y1="590.73" x2="53.4" y2="590.73" stroke="#222" stroke-width="0.6"/>
<line x1="52" y1="588.1" x2="53.4" y2="588.1" stroke="#222" stroke-width="0.6"/>
<line x1="52" y1="585.46" x2="53.4" y2="585.46" stroke="#222" stroke-width="0.6"/>
<line x1="52" y1="582.82" x2="53.4" y2="582.82" stroke="#222" stroke-width="0.6"/>
<line x1="52" y1="580.19" x2="53.4" y2="580.19" stroke="#222" stroke-width="0.6"/>
<line x1="52" y1="577.55" x2="53.4" y2="577.55" stroke="#222" stroke-width="0.6"/>
<line x1="52" y1="574.92" x2="53.4" y2="574.92" stroke="#222" stroke-width="0.6"/>
<line x1="52" y1="572.28" x2="53.4" y2="572.28" stroke="#222" stroke-width="0.6"/>
<line x1="52" y1="569.64" x2="53.4" y2="569.64" stroke="#222" stroke-width="0.6"/>
<line x1="52" y1="567.01" x2="53.4" y2="567.01" stroke="#222" stroke-width="0.6"/>
<line x1="52" y1="564.37" x2="53.4" y2="564.37" stroke="#222" stroke-width="0.6"/>
<line x1="53.8" y1="625" x2="53.8" y2="627" stroke="#222" stroke-width="0.6"/>
<text x="53.4" y="636.3" font-size="6.6" text-anchor="middle" font-weight="normal" fill="#1a1a1a"  stroke="#1a1a1a" stroke-width="0.16">10</text>
<text x="57.3" y="634.4" font-size="4.4" text-anchor="start" font-weight="normal" fill="#1a1a1a"  stroke="#1a1a1a" stroke-width="0.05">0</text>
<line x1="58.32" y1="625" x2="58.32" y2="626.6" stroke="#222" stroke-width="0.7"/>
<line x1="60.96" y1="625" x2="60.96" y2="626.6" stroke="#222" stroke-width="0.7"/>
<line x1="62.83" y1="625" x2="62.83" y2="626.6" stroke="#222" stroke-width="0.7"/>
<line x1="64.28" y1="625" x2="64.28" y2="626.6" stroke="#222" stroke-width="0.7"/>
<line x1="65.47" y1="625" x2="65.47" y2="626.6" stroke="#222" stroke-width="0.7"/>
<line x1="66.48" y1="625" x2="66.48" y2="626.6" stroke="#222" stroke-width="0.7"/>
<line x1="67.35" y1="625" x2="67.35" y2="626.6" stroke="#222" stroke-width="0.7"/>
<line x1="68.11" y1="625" x2="68.11" y2="626.6" stroke="#222" stroke-width="0.7"/>
<line x1="68.8" y1="625" x2="68.8" y2="627" stroke="#222" stroke-width="0.6"/>
<text x="68.4" y="636.3" font-size="6.6" text-anchor="middle" font-weight="normal" fill="#1a1a1a"  stroke="#1a1a1a" stroke-width="0.16">10</text>
<text x="72.3" y="634.4" font-size="4.4" text-anchor="start" font-weight="normal" fill="#1a1a1a"  stroke="#1a1a1a" stroke-width="0.05">1</text>
<line x1="73.32" y1="625" x2="73.32" y2="626.6" stroke="#222" stroke-width="0.7"/>
<line x1="75.96" y1="625" x2="75.96" y2="626.6" stroke="#222" stroke-width="0.7"/>
<line x1="77.83" y1="625" x2="77.83" y2="626.6" stroke="#222" stroke-width="0.7"/>
<line x1="79.28" y1="625" x2="79.28" y2="626.6" stroke="#222" stroke-width="0.7"/>
<line x1="80.47" y1="625" x2="80.47" y2="626.6" stroke="#222" stroke-width="0.7"/>
<line x1="81.48" y1="625" x2="81.48" y2="626.6" stroke="#222" stroke-width="0.7"/>
<line x1="82.35" y1="625" x2="82.35" y2="626.6" stroke="#222" stroke-width="0.7"/>
<line x1="83.11" y1="625" x2="83.11" y2="626.6" stroke="#222" stroke-width="0.7"/>
<line x1="83.8" y1="625" x2="83.8" y2="627" stroke="#222" stroke-width="0.6"/>
<text x="83.4" y="636.3" font-size="6.6" text-anchor="middle" font-weight="normal" fill="#1a1a1a"  stroke="#1a1a1a" stroke-width="0.16">10</text>
<text x="87.3" y="634.4" font-size="4.4" text-anchor="start" font-weight="normal" fill="#1a1a1a"  stroke="#1a1a1a" stroke-width="0.05">2</text>
<line x1="88.32" y1="625" x2="88.32" y2="626.6" stroke="#222" stroke-width="0.7"/>
<line x1="90.96" y1="625" x2="90.96" y2="626.6" stroke="#222" stroke-width="0.7"/>
<line x1="92.83" y1="625" x2="92.83" y2="626.6" stroke="#222" stroke-width="0.7"/>
<line x1="94.28" y1="625" x2="94.28" y2="626.6" stroke="#222" stroke-width="0.7"/>
<line x1="95.47" y1="625" x2="95.47" y2="626.6" stroke="#222" stroke-width="0.7"/>
<line x1="96.48" y1="625" x2="96.48" y2="626.6" stroke="#222" stroke-width="0.7"/>
<line x1="97.35" y1="625" x2="97.35" y2="626.6" stroke="#222" stroke-width="0.7"/>
<line x1="98.11" y1="625" x2="98.11" y2="626.6" stroke="#222" stroke-width="0.7"/>
<line x1="98.8" y1="625" x2="98.8" y2="627" stroke="#222" stroke-width="0.6"/>
<text x="98.4" y="636.3" font-size="6.6" text-anchor="middle" font-weight="normal" fill="#1a1a1a"  stroke="#1a1a1a" stroke-width="0.16">10</text>
<text x="102.3" y="634.4" font-size="4.4" text-anchor="start" font-weight="normal" fill="#1a1a1a"  stroke="#1a1a1a" stroke-width="0.05">3</text>
<line x1="103.32" y1="625" x2="103.32" y2="626.6" stroke="#222" stroke-width="0.7"/>
<line x1="105.96" y1="625" x2="105.96" y2="626.6" stroke="#222" stroke-width="0.7"/>
<line x1="107.83" y1="625" x2="107.83" y2="626.6" stroke="#222" stroke-width="0.7"/>
<line x1="109.28" y1="625" x2="109.28" y2="626.6" stroke="#222" stroke-width="0.7"/>
<line x1="110.47" y1="625" x2="110.47" y2="626.6" stroke="#222" stroke-width="0.7"/>
<line x1="111.48" y1="625" x2="111.48" y2="626.6" stroke="#222" stroke-width="0.7"/>
<line x1="112.35" y1="625" x2="112.35" y2="626.6" stroke="#222" stroke-width="0.7"/>
<line x1="113.11" y1="625" x2="113.11" y2="626.6" stroke="#222" stroke-width="0.7"/>
<line x1="113.8" y1="625" x2="113.8" y2="627" stroke="#222" stroke-width="0.6"/>
<text x="113.4" y="636.3" font-size="6.6" text-anchor="middle" font-weight="normal" fill="#1a1a1a"  stroke="#1a1a1a" stroke-width="0.16">10</text>
<text x="117.3" y="634.4" font-size="4.4" text-anchor="start" font-weight="normal" fill="#1a1a1a"  stroke="#1a1a1a" stroke-width="0.05">4</text>
<text x="288" y="24.6" font-size="11.2" text-anchor="start" font-weight="bold" fill="#111"  stroke="#111" stroke-width="0.16">F</text>
<text x="340.5" y="24.6" font-size="8.2" text-anchor="middle" font-weight="normal" fill="#222"  stroke="#222" stroke-width="0.16">MOLM13</text>
<path d="M310 90.8 V30.2 H371 V90.8" fill="none" stroke="#111" stroke-width="1.1"/>
<line x1="310" y1="90.8" x2="371" y2="90.8" stroke="#111" stroke-width="1.1"/>
<path d="M310.6 71L311.1 64.5L311.6 57.6L312.2 51.2L312.7 45.8L313.3 42.4L313.8 41.3L314.4 43.7L314.9 49.5L315.5 57.5L316 66.1L316.6 74L317.1 80.2L317.7 84.7L318.2 87.5L318.8 89.1L319.3 90L319.9 90.4L320.4 90.6L321 90.7L321.5 90.7L322.1 90.7L322.6 90.7L323.2 90.7L323.7 90.7L324.3 90.7L324.8 90.7L325.4 90.7L325.9 90.7L326.5 90.7L327 90.7L327.6 90.7L328.1 90.7L328.7 90.7L329.2 90.7L329.8 90.7L330.3 90.7L330.9 90.7L331.4 90.7L332 90.7L332.5 90.7L333.1 90.7L333.6 90.7L334.2 90.7L334.7 90.7L335.3 90.7L335.8 90.7L336.4 90.7L336.9 90.7L337.5 90.7L338 90.7L338.6 90.7L339.1 90.7L339.7 90.7L340.2 90.7L340.8 90.7L341.3 90.7L341.9 90.7L342.4 90.7L343 90.7L343.5 90.7L344.1 90.7L344.6 90.7L345.2 90.7L345.7 90.7L346.3 90.7L346.8 90.7L347.4 90.7L347.9 90.7L348.5 90.7L349 90.7L349.6 90.7L350.1 90.7L350.7 90.7L351.2 90.7L351.8 90.7L352.3 90.7L352.9 90.7L353.4 90.7L354 90.7L354.5 90.7L355.1 90.7L355.6 90.7L356.2 90.7L356.7 90.7L357.3 90.7L357.8 90.7L358.4 90.7L358.9 90.7L359.5 90.7L360 90.7L360.6 90.7L361.1 90.7L361.7 90.7L362.2 90.7L362.8 90.7L363.3 90.7L363.9 90.7L364.4 90.7L365 90.7L365.5 90.7L366.1 90.7L366.6 90.7L367.2 90.7L367.7 90.7L368.3 90.7L368.8 90.7L369.4 90.7L369.9 90.7L370.4 90.7L370.45 90.8L310.55 90.8Z" fill="#c9cacd" stroke="none"/>
<path d="M310.6 71L311.1 64.5L311.6 57.6L312.2 51.2L312.7 45.8L313.3 42.4L313.8 41.3L314.4 43.7L314.9 49.5L315.5 57.5L316 66.1L316.6 74L317.1 80.2L317.7 84.7L318.2 87.5L318.8 89.1L319.3 90L319.9 90.4L320.4 90.6L321 90.7L321.5 90.7L322.1 90.7L322.6 90.7L323.2 90.7L323.7 90.7L324.3 90.7L324.8 90.7L325.4 90.7L325.9 90.7L326.5 90.7L327 90.7L327.6 90.7L328.1 90.7L328.7 90.7L329.2 90.7L329.8 90.7L330.3 90.7L330.9 90.7L331.4 90.7L332 90.7L332.5 90.7L333.1 90.7L333.6 90.7L334.2 90.7L334.7 90.7L335.3 90.7L335.8 90.7L336.4 90.7L336.9 90.7L337.5 90.7L338 90.7L338.6 90.7L339.1 90.7L339.7 90.7L340.2 90.7L340.8 90.7L341.3 90.7L341.9 90.7L342.4 90.7L343 90.7L343.5 90.7L344.1 90.7L344.6 90.7L345.2 90.7L345.7 90.7L346.3 90.7L346.8 90.7L347.4 90.7L347.9 90.7L348.5 90.7L349 90.7L349.6 90.7L350.1 90.7L350.7 90.7L351.2 90.7L351.8 90.7L352.3 90.7L352.9 90.7L353.4 90.7L354 90.7L354.5 90.7L355.1 90.7L355.6 90.7L356.2 90.7L356.7 90.7L357.3 90.7L357.8 90.7L358.4 90.7L358.9 90.7L359.5 90.7L360 90.7L360.6 90.7L361.1 90.7L361.7 90.7L362.2 90.7L362.8 90.7L363.3 90.7L363.9 90.7L364.4 90.7L365 90.7L365.5 90.7L366.1 90.7L366.6 90.7L367.2 90.7L367.7 90.7L368.3 90.7L368.8 90.7L369.4 90.7L369.9 90.7L370.4 90.7" fill="none" stroke="#8e8f96" stroke-width="0.6" stroke-linejoin="round"/>
<path d="M310.6 90.7L311.1 90.7L311.6 90.7L312.2 90.7L312.7 90.7L313.3 90.7L313.8 90.7L314.4 90.7L314.9 90.7L315.5 90.7L316 90.7L316.6 90.7L317.1 90.7L317.7 90.7L318.2 90.7L318.8 90.7L319.3 90.7L319.9 90.7L320.4 90.7L321 90.7L321.5 90.7L322.1 90.7L322.6 90.7L323.2 90.7L323.7 90.7L324.3 90.7L324.8 90.7L325.4 90.7L325.9 90.7L326.5 90.7L327 90.7L327.6 90.7L328.1 90.7L328.7 90.7L329.2 90.7L329.8 90.7L330.3 90.7L330.9 90.7L331.4 90.7L332 90.7L332.5 90.7L333.1 90.7L333.6 90.7L334.2 90.7L334.7 90.7L335.3 90.7L335.8 90.7L336.4 90.7L336.9 90.7L337.5 90.7L338 90.7L338.6 90.7L339.1 90.7L339.7 90.7L340.2 90.7L340.8 90.7L341.3 90.7L341.9 90.7L342.4 90.7L343 90.7L343.5 90.7L344.1 90.6L344.6 90.4L345.2 90L345.7 89.2L346.3 87.9L346.8 85.5L347.4 81.8L347.9 76.5L348.5 69.5L349 61.1L349.6 52.2L350.1 44L350.7 37.7L351.2 34.6L351.8 35.4L352.3 40.6L352.9 48.9L353.4 58.6L354 68L354.5 76L355.1 81.9L355.6 85.9L356.2 88.3L356.7 89.6L357.3 90.2L357.8 90.5L358.4 90.6L358.9 90.7L359.5 90.7L360 90.7L360.6 90.7L361.1 90.7L361.7 90.7L362.2 90.7L362.8 90.7L363.3 90.7L363.9 90.7L364.4 90.7L365 90.7L365.5 90.7L366.1 90.7L366.6 90.7L367.2 90.7L367.7 90.7L368.3 90.7L368.8 90.7L369.4 90.7L369.9 90.7L370.4 90.7L370.45 90.8L310.55 90.8Z" fill="rgba(70,100,160,0.32)" stroke="none"/>
<path d="M310.6 90.7L311.1 90.7L311.6 90.7L312.2 90.7L312.7 90.7L313.3 90.7L313.8 90.7L314.4 90.7L314.9 90.7L315.5 90.7L316 90.7L316.6 90.7L317.1 90.7L317.7 90.7L318.2 90.7L318.8 90.7L319.3 90.7L319.9 90.7L320.4 90.7L321 90.7L321.5 90.7L322.1 90.7L322.6 90.7L323.2 90.7L323.7 90.7L324.3 90.7L324.8 90.7L325.4 90.7L325.9 90.7L326.5 90.7L327 90.7L327.6 90.7L328.1 90.7L328.7 90.7L329.2 90.7L329.8 90.7L330.3 90.7L330.9 90.7L331.4 90.7L332 90.7L332.5 90.7L333.1 90.7L333.6 90.7L334.2 90.7L334.7 90.7L335.3 90.7L335.8 90.7L336.4 90.7L336.9 90.7L337.5 90.7L338 90.7L338.6 90.7L339.1 90.7L339.7 90.7L340.2 90.7L340.8 90.7L341.3 90.7L341.9 90.7L342.4 90.7L343 90.7L343.5 90.7L344.1 90.6L344.6 90.4L345.2 90L345.7 89.2L346.3 87.9L346.8 85.5L347.4 81.8L347.9 76.5L348.5 69.5L349 61.1L349.6 52.2L350.1 44L350.7 37.7L351.2 34.6L351.8 35.4L352.3 40.6L352.9 48.9L353.4 58.6L354 68L354.5 76L355.1 81.9L355.6 85.9L356.2 88.3L356.7 89.6L357.3 90.2L357.8 90.5L358.4 90.6L358.9 90.7L359.5 90.7L360 90.7L360.6 90.7L361.1 90.7L361.7 90.7L362.2 90.7L362.8 90.7L363.3 90.7L363.9 90.7L364.4 90.7L365 90.7L365.5 90.7L366.1 90.7L366.6 90.7L367.2 90.7L367.7 90.7L368.3 90.7L368.8 90.7L369.4 90.7L369.9 90.7L370.4 90.7" fill="none" stroke="#2d4b8e" stroke-width="0.9" stroke-linejoin="round"/>
<path d="M310.6 90.7L311.1 90.7L311.6 90.7L312.2 90.7L312.7 90.7L313.3 90.7L313.8 90.7L314.4 90.7L314.9 90.7L315.5 90.7L316 90.7L316.6 90.7L317.1 90.7L317.7 90.7L318.2 90.7L318.8 90.7L319.3 90.7L319.9 90.7L320.4 90.7L321 90.7L321.5 90.7L322.1 90.7L322.6 90.7L323.2 90.7L323.7 90.7L324.3 90.7L324.8 90.7L325.4 90.7L325.9 90.7L326.5 90.7L327 90.7L327.6 90.7L328.1 90.7L328.7 90.7L329.2 90.7L329.8 90.7L330.3 90.7L330.9 90.7L331.4 90.7L332 90.7L332.5 90.7L333.1 90.7L333.6 90.7L334.2 90.7L334.7 90.7L335.3 90.7L335.8 90.7L336.4 90.7L336.9 90.7L337.5 90.7L338 90.7L338.6 90.7L339.1 90.7L339.7 90.7L340.2 90.7L340.8 90.7L341.3 90.7L341.9 90.7L342.4 90.6L343 90.5L343.5 90.2L344.1 89.6L344.6 88.6L345.2 86.8L345.7 84.1L346.3 80L346.8 74.5L347.4 67.6L347.9 59.9L348.5 52L349 45L349.6 40L350.1 37.9L350.7 39.3L351.2 44.3L351.8 51.8L352.3 60.5L352.9 69L353.4 76.2L354 81.7L354.5 85.5L355.1 88L355.6 89.3L356.2 90.1L356.7 90.4L357.3 90.6L357.8 90.7L358.4 90.7L358.9 90.7L359.5 90.7L360 90.7L360.6 90.7L361.1 90.7L361.7 90.7L362.2 90.7L362.8 90.7L363.3 90.7L363.9 90.7L364.4 90.7L365 90.7L365.5 90.7L366.1 90.7L366.6 90.7L367.2 90.7L367.7 90.7L368.3 90.7L368.8 90.7L369.4 90.7L369.9 90.7L370.4 90.7L370.45 90.8L310.55 90.8Z" fill="rgba(200,35,75,0.37)" stroke="none"/>
<path d="M310.6 90.7L311.1 90.7L311.6 90.7L312.2 90.7L312.7 90.7L313.3 90.7L313.8 90.7L314.4 90.7L314.9 90.7L315.5 90.7L316 90.7L316.6 90.7L317.1 90.7L317.7 90.7L318.2 90.7L318.8 90.7L319.3 90.7L319.9 90.7L320.4 90.7L321 90.7L321.5 90.7L322.1 90.7L322.6 90.7L323.2 90.7L323.7 90.7L324.3 90.7L324.8 90.7L325.4 90.7L325.9 90.7L326.5 90.7L327 90.7L327.6 90.7L328.1 90.7L328.7 90.7L329.2 90.7L329.8 90.7L330.3 90.7L330.9 90.7L331.4 90.7L332 90.7L332.5 90.7L333.1 90.7L333.6 90.7L334.2 90.7L334.7 90.7L335.3 90.7L335.8 90.7L336.4 90.7L336.9 90.7L337.5 90.7L338 90.7L338.6 90.7L339.1 90.7L339.7 90.7L340.2 90.7L340.8 90.7L341.3 90.7L341.9 90.7L342.4 90.6L343 90.5L343.5 90.2L344.1 89.6L344.6 88.6L345.2 86.8L345.7 84.1L346.3 80L346.8 74.5L347.4 67.6L347.9 59.9L348.5 52L349 45L349.6 40L350.1 37.9L350.7 39.3L351.2 44.3L351.8 51.8L352.3 60.5L352.9 69L353.4 76.2L354 81.7L354.5 85.5L355.1 88L355.6 89.3L356.2 90.1L356.7 90.4L357.3 90.6L357.8 90.7L358.4 90.7L358.9 90.7L359.5 90.7L360 90.7L360.6 90.7L361.1 90.7L361.7 90.7L362.2 90.7L362.8 90.7L363.3 90.7L363.9 90.7L364.4 90.7L365 90.7L365.5 90.7L366.1 90.7L366.6 90.7L367.2 90.7L367.7 90.7L368.3 90.7L368.8 90.7L369.4 90.7L369.9 90.7L370.4 90.7" fill="none" stroke="#bd1f4c" stroke-width="0.9" stroke-linejoin="round"/>
<line x1="307.2" y1="90.8" x2="310" y2="90.8" stroke="#222" stroke-width="0.7"/>
<text x="303.7" y="93.15" font-size="6.6" text-anchor="end" font-weight="normal" fill="#1a1a1a"  stroke="#1a1a1a" stroke-width="0.16">0</text>
<line x1="307.2" y1="75.2" x2="310" y2="75.2" stroke="#222" stroke-width="0.7"/>
<text x="303.7" y="77.55" font-size="6.6" text-anchor="end" font-weight="normal" fill="#1a1a1a"  stroke="#1a1a1a" stroke-width="0.16">50</text>
<line x1="307.2" y1="59.6" x2="310" y2="59.6" stroke="#222" stroke-width="0.7"/>
<text x="303.7" y="61.95" font-size="6.6" text-anchor="end" font-weight="normal" fill="#1a1a1a"  stroke="#1a1a1a" stroke-width="0.16">100</text>
<line x1="307.2" y1="44" x2="310" y2="44" stroke="#222" stroke-width="0.7"/>
<text x="303.7" y="46.35" font-size="6.6" text-anchor="end" font-weight="normal" fill="#1a1a1a"  stroke="#1a1a1a" stroke-width="0.16">150</text>
<line x1="308.6" y1="90.8" x2="310" y2="90.8" stroke="#222" stroke-width="0.6"/>
<line x1="308.6" y1="87.68" x2="310" y2="87.68" stroke="#222" stroke-width="0.6"/>
<line x1="308.6" y1="84.56" x2="310" y2="84.56" stroke="#222" stroke-width="0.6"/>
<line x1="308.6" y1="81.44" x2="310" y2="81.44" stroke="#222" stroke-width="0.6"/>
<line x1="308.6" y1="78.32" x2="310" y2="78.32" stroke="#222" stroke-width="0.6"/>
<line x1="308.6" y1="75.2" x2="310" y2="75.2" stroke="#222" stroke-width="0.6"/>
<line x1="308.6" y1="72.08" x2="310" y2="72.08" stroke="#222" stroke-width="0.6"/>
<line x1="308.6" y1="68.96" x2="310" y2="68.96" stroke="#222" stroke-width="0.6"/>
<line x1="308.6" y1="65.84" x2="310" y2="65.84" stroke="#222" stroke-width="0.6"/>
<line x1="308.6" y1="62.72" x2="310" y2="62.72" stroke="#222" stroke-width="0.6"/>
<line x1="308.6" y1="59.6" x2="310" y2="59.6" stroke="#222" stroke-width="0.6"/>
<line x1="308.6" y1="56.48" x2="310" y2="56.48" stroke="#222" stroke-width="0.6"/>
<line x1="308.6" y1="53.36" x2="310" y2="53.36" stroke="#222" stroke-width="0.6"/>
<line x1="308.6" y1="50.24" x2="310" y2="50.24" stroke="#222" stroke-width="0.6"/>
<line x1="308.6" y1="47.12" x2="310" y2="47.12" stroke="#222" stroke-width="0.6"/>
<line x1="308.6" y1="44" x2="310" y2="44" stroke="#222" stroke-width="0.6"/>
<line x1="308.6" y1="40.88" x2="310" y2="40.88" stroke="#222" stroke-width="0.6"/>
<line x1="308.6" y1="37.76" x2="310" y2="37.76" stroke="#222" stroke-width="0.6"/>
<line x1="308.6" y1="34.64" x2="310" y2="34.64" stroke="#222" stroke-width="0.6"/>
<line x1="308.6" y1="31.52" x2="310" y2="31.52" stroke="#222" stroke-width="0.6"/>
<line x1="310.4" y1="90.8" x2="310.4" y2="92.8" stroke="#222" stroke-width="0.6"/>
<text x="310" y="102.1" font-size="6.6" text-anchor="middle" font-weight="normal" fill="#1a1a1a"  stroke="#1a1a1a" stroke-width="0.16">10</text>
<text x="313.9" y="100.2" font-size="4.4" text-anchor="start" font-weight="normal" fill="#1a1a1a"  stroke="#1a1a1a" stroke-width="0.05">0</text>
<line x1="314.92" y1="90.8" x2="314.92" y2="92.4" stroke="#222" stroke-width="0.7"/>
<line x1="317.56" y1="90.8" x2="317.56" y2="92.4" stroke="#222" stroke-width="0.7"/>
<line x1="319.43" y1="90.8" x2="319.43" y2="92.4" stroke="#222" stroke-width="0.7"/>
<line x1="320.88" y1="90.8" x2="320.88" y2="92.4" stroke="#222" stroke-width="0.7"/>
<line x1="322.07" y1="90.8" x2="322.07" y2="92.4" stroke="#222" stroke-width="0.7"/>
<line x1="323.08" y1="90.8" x2="323.08" y2="92.4" stroke="#222" stroke-width="0.7"/>
<line x1="323.95" y1="90.8" x2="323.95" y2="92.4" stroke="#222" stroke-width="0.7"/>
<line x1="324.71" y1="90.8" x2="324.71" y2="92.4" stroke="#222" stroke-width="0.7"/>
<line x1="325.4" y1="90.8" x2="325.4" y2="92.8" stroke="#222" stroke-width="0.6"/>
<text x="325" y="102.1" font-size="6.6" text-anchor="middle" font-weight="normal" fill="#1a1a1a"  stroke="#1a1a1a" stroke-width="0.16">10</text>
<text x="328.9" y="100.2" font-size="4.4" text-anchor="start" font-weight="normal" fill="#1a1a1a"  stroke="#1a1a1a" stroke-width="0.05">1</text>
<line x1="329.92" y1="90.8" x2="329.92" y2="92.4" stroke="#222" stroke-width="0.7"/>
<line x1="332.56" y1="90.8" x2="332.56" y2="92.4" stroke="#222" stroke-width="0.7"/>
<line x1="334.43" y1="90.8" x2="334.43" y2="92.4" stroke="#222" stroke-width="0.7"/>
<line x1="335.88" y1="90.8" x2="335.88" y2="92.4" stroke="#222" stroke-width="0.7"/>
<line x1="337.07" y1="90.8" x2="337.07" y2="92.4" stroke="#222" stroke-width="0.7"/>
<line x1="338.08" y1="90.8" x2="338.08" y2="92.4" stroke="#222" stroke-width="0.7"/>
<line x1="338.95" y1="90.8" x2="338.95" y2="92.4" stroke="#222" stroke-width="0.7"/>
<line x1="339.71" y1="90.8" x2="339.71" y2="92.4" stroke="#222" stroke-width="0.7"/>
<line x1="340.4" y1="90.8" x2="340.4" y2="92.8" stroke="#222" stroke-width="0.6"/>
<text x="340" y="102.1" font-size="6.6" text-anchor="middle" font-weight="normal" fill="#1a1a1a"  stroke="#1a1a1a" stroke-width="0.16">10</text>
<text x="343.9" y="100.2" font-size="4.4" text-anchor="start" font-weight="normal" fill="#1a1a1a"  stroke="#1a1a1a" stroke-width="0.05">2</text>
<line x1="344.92" y1="90.8" x2="344.92" y2="92.4" stroke="#222" stroke-width="0.7"/>
<line x1="347.56" y1="90.8" x2="347.56" y2="92.4" stroke="#222" stroke-width="0.7"/>
<line x1="349.43" y1="90.8" x2="349.43" y2="92.4" stroke="#222" stroke-width="0.7"/>
<line x1="350.88" y1="90.8" x2="350.88" y2="92.4" stroke="#222" stroke-width="0.7"/>
<line x1="352.07" y1="90.8" x2="352.07" y2="92.4" stroke="#222" stroke-width="0.7"/>
<line x1="353.08" y1="90.8" x2="353.08" y2="92.4" stroke="#222" stroke-width="0.7"/>
<line x1="353.95" y1="90.8" x2="353.95" y2="92.4" stroke="#222" stroke-width="0.7"/>
<line x1="354.71" y1="90.8" x2="354.71" y2="92.4" stroke="#222" stroke-width="0.7"/>
<line x1="355.4" y1="90.8" x2="355.4" y2="92.8" stroke="#222" stroke-width="0.6"/>
<text x="355" y="102.1" font-size="6.6" text-anchor="middle" font-weight="normal" fill="#1a1a1a"  stroke="#1a1a1a" stroke-width="0.16">10</text>
<text x="358.9" y="100.2" font-size="4.4" text-anchor="start" font-weight="normal" fill="#1a1a1a"  stroke="#1a1a1a" stroke-width="0.05">3</text>
<line x1="359.92" y1="90.8" x2="359.92" y2="92.4" stroke="#222" stroke-width="0.7"/>
<line x1="362.56" y1="90.8" x2="362.56" y2="92.4" stroke="#222" stroke-width="0.7"/>
<line x1="364.43" y1="90.8" x2="364.43" y2="92.4" stroke="#222" stroke-width="0.7"/>
<line x1="365.88" y1="90.8" x2="365.88" y2="92.4" stroke="#222" stroke-width="0.7"/>
<line x1="367.07" y1="90.8" x2="367.07" y2="92.4" stroke="#222" stroke-width="0.7"/>
<line x1="368.08" y1="90.8" x2="368.08" y2="92.4" stroke="#222" stroke-width="0.7"/>
<line x1="368.95" y1="90.8" x2="368.95" y2="92.4" stroke="#222" stroke-width="0.7"/>
<line x1="369.71" y1="90.8" x2="369.71" y2="92.4" stroke="#222" stroke-width="0.7"/>
<line x1="370.4" y1="90.8" x2="370.4" y2="92.8" stroke="#222" stroke-width="0.6"/>
<text x="370" y="102.1" font-size="6.6" text-anchor="middle" font-weight="normal" fill="#1a1a1a"  stroke="#1a1a1a" stroke-width="0.16">10</text>
<text x="373.9" y="100.2" font-size="4.4" text-anchor="start" font-weight="normal" fill="#1a1a1a"  stroke="#1a1a1a" stroke-width="0.05">4</text>
<text x="288" y="126" font-size="11.2" text-anchor="start" font-weight="bold" fill="#111"  stroke="#111" stroke-width="0.16">G</text>
<text x="340.5" y="126" font-size="8.2" text-anchor="middle" font-weight="normal" fill="#222"  stroke="#222" stroke-width="0.16">MV4-11</text>
<path d="M310 191.6 V131.6 H371 V191.6" fill="none" stroke="#111" stroke-width="1.1"/>
<line x1="310" y1="191.6" x2="371" y2="191.6" stroke="#111" stroke-width="1.1"/>
<path d="M310.6 191.5L311.1 191.4L311.6 191.1L312.2 190.6L312.7 189.3L313.3 186.9L313.8 182.6L314.4 176.1L314.9 167.5L315.5 157.8L316 149L316.6 143.1L317.1 141.8L317.7 144.9L318.2 151.3L318.8 159.6L319.3 168.2L319.9 175.9L320.4 181.8L321 186L321.5 188.6L322.1 190.1L322.6 190.9L323.2 191.3L323.7 191.4L324.3 191.5L324.8 191.5L325.4 191.5L325.9 191.5L326.5 191.5L327 191.5L327.6 191.5L328.1 191.5L328.7 191.5L329.2 191.5L329.8 191.5L330.3 191.5L330.9 191.5L331.4 191.5L332 191.5L332.5 191.5L333.1 191.5L333.6 191.5L334.2 191.5L334.7 191.5L335.3 191.5L335.8 191.5L336.4 191.5L336.9 191.5L337.5 191.5L338 191.5L338.6 191.5L339.1 191.5L339.7 191.5L340.2 191.5L340.8 191.5L341.3 191.5L341.9 191.5L342.4 191.5L343 191.5L343.5 191.5L344.1 191.5L344.6 191.5L345.2 191.5L345.7 191.5L346.3 191.5L346.8 191.5L347.4 191.5L347.9 191.5L348.5 191.5L349 191.5L349.6 191.5L350.1 191.5L350.7 191.5L351.2 191.5L351.8 191.5L352.3 191.5L352.9 191.5L353.4 191.5L354 191.5L354.5 191.5L355.1 191.5L355.6 191.5L356.2 191.5L356.7 191.5L357.3 191.5L357.8 191.5L358.4 191.5L358.9 191.5L359.5 191.5L360 191.5L360.6 191.5L361.1 191.5L361.7 191.5L362.2 191.5L362.8 191.5L363.3 191.5L363.9 191.5L364.4 191.5L365 191.5L365.5 191.5L366.1 191.5L366.6 191.5L367.2 191.5L367.7 191.5L368.3 191.5L368.8 191.5L369.4 191.5L369.9 191.5L370.4 191.5L370.45 191.6L310.55 191.6Z" fill="#c9cacd" stroke="none"/>
<path d="M310.6 191.5L311.1 191.4L311.6 191.1L312.2 190.6L312.7 189.3L313.3 186.9L313.8 182.6L314.4 176.1L314.9 167.5L315.5 157.8L316 149L316.6 143.1L317.1 141.8L317.7 144.9L318.2 151.3L318.8 159.6L319.3 168.2L319.9 175.9L320.4 181.8L321 186L321.5 188.6L322.1 190.1L322.6 190.9L323.2 191.3L323.7 191.4L324.3 191.5L324.8 191.5L325.4 191.5L325.9 191.5L326.5 191.5L327 191.5L327.6 191.5L328.1 191.5L328.7 191.5L329.2 191.5L329.8 191.5L330.3 191.5L330.9 191.5L331.4 191.5L332 191.5L332.5 191.5L333.1 191.5L333.6 191.5L334.2 191.5L334.7 191.5L335.3 191.5L335.8 191.5L336.4 191.5L336.9 191.5L337.5 191.5L338 191.5L338.6 191.5L339.1 191.5L339.7 191.5L340.2 191.5L340.8 191.5L341.3 191.5L341.9 191.5L342.4 191.5L343 191.5L343.5 191.5L344.1 191.5L344.6 191.5L345.2 191.5L345.7 191.5L346.3 191.5L346.8 191.5L347.4 191.5L347.9 191.5L348.5 191.5L349 191.5L349.6 191.5L350.1 191.5L350.7 191.5L351.2 191.5L351.8 191.5L352.3 191.5L352.9 191.5L353.4 191.5L354 191.5L354.5 191.5L355.1 191.5L355.6 191.5L356.2 191.5L356.7 191.5L357.3 191.5L357.8 191.5L358.4 191.5L358.9 191.5L359.5 191.5L360 191.5L360.6 191.5L361.1 191.5L361.7 191.5L362.2 191.5L362.8 191.5L363.3 191.5L363.9 191.5L364.4 191.5L365 191.5L365.5 191.5L366.1 191.5L366.6 191.5L367.2 191.5L367.7 191.5L368.3 191.5L368.8 191.5L369.4 191.5L369.9 191.5L370.4 191.5" fill="none" stroke="#8e8f96" stroke-width="0.6" stroke-linejoin="round"/>
<path d="M310.6 191.5L311.1 191.5L311.6 191.5L312.2 191.5L312.7 191.5L313.3 191.5L313.8 191.5L314.4 191.5L314.9 191.5L315.5 191.5L316 191.5L316.6 191.5L317.1 191.5L317.7 191.5L318.2 191.5L318.8 191.5L319.3 191.5L319.9 191.5L320.4 191.5L321 191.5L321.5 191.5L322.1 191.5L322.6 191.5L323.2 191.5L323.7 191.5L324.3 191.5L324.8 191.5L325.4 191.5L325.9 191.5L326.5 191.5L327 191.5L327.6 191.5L328.1 191.5L328.7 191.5L329.2 191.5L329.8 191.5L330.3 191.5L330.9 191.5L331.4 191.5L332 191.5L332.5 191.5L333.1 191.5L333.6 191.5L334.2 191.5L334.7 191.5L335.3 191.5L335.8 191.5L336.4 191.5L336.9 191.5L337.5 191.5L338 191.5L338.6 191.5L339.1 191.5L339.7 191.5L340.2 191.5L340.8 191.5L341.3 191.5L341.9 191.5L342.4 191.5L343 191.5L343.5 191.5L344.1 191.5L344.6 191.4L345.2 191.3L345.7 191L346.3 190.4L346.8 189.3L347.4 187.4L347.9 184.6L348.5 180.6L349 175.3L349.6 169.1L350.1 162.5L350.7 156.5L351.2 152L351.8 150L352.3 150.9L352.9 154.9L353.4 161.2L354 168.4L354.5 175.3L355.1 181.1L355.6 185.3L356.2 188.1L356.7 189.8L357.3 190.7L357.8 191.2L358.4 191.4L358.9 191.5L359.5 191.5L360 191.5L360.6 191.5L361.1 191.5L361.7 191.5L362.2 191.5L362.8 191.5L363.3 191.5L363.9 191.5L364.4 191.5L365 191.5L365.5 191.5L366.1 191.5L366.6 191.5L367.2 191.5L367.7 191.5L368.3 191.5L368.8 191.5L369.4 191.5L369.9 191.5L370.4 191.5L370.45 191.6L310.55 191.6Z" fill="rgba(70,100,160,0.32)" stroke="none"/>
<path d="M310.6 191.5L311.1 191.5L311.6 191.5L312.2 191.5L312.7 191.5L313.3 191.5L313.8 191.5L314.4 191.5L314.9 191.5L315.5 191.5L316 191.5L316.6 191.5L317.1 191.5L317.7 191.5L318.2 191.5L318.8 191.5L319.3 191.5L319.9 191.5L320.4 191.5L321 191.5L321.5 191.5L322.1 191.5L322.6 191.5L323.2 191.5L323.7 191.5L324.3 191.5L324.8 191.5L325.4 191.5L325.9 191.5L326.5 191.5L327 191.5L327.6 191.5L328.1 191.5L328.7 191.5L329.2 191.5L329.8 191.5L330.3 191.5L330.9 191.5L331.4 191.5L332 191.5L332.5 191.5L333.1 191.5L333.6 191.5L334.2 191.5L334.7 191.5L335.3 191.5L335.8 191.5L336.4 191.5L336.9 191.5L337.5 191.5L338 191.5L338.6 191.5L339.1 191.5L339.7 191.5L340.2 191.5L340.8 191.5L341.3 191.5L341.9 191.5L342.4 191.5L343 191.5L343.5 191.5L344.1 191.5L344.6 191.4L345.2 191.3L345.7 191L346.3 190.4L346.8 189.3L347.4 187.4L347.9 184.6L348.5 180.6L349 175.3L349.6 169.1L350.1 162.5L350.7 156.5L351.2 152L351.8 150L352.3 150.9L352.9 154.9L353.4 161.2L354 168.4L354.5 175.3L355.1 181.1L355.6 185.3L356.2 188.1L356.7 189.8L357.3 190.7L357.8 191.2L358.4 191.4L358.9 191.5L359.5 191.5L360 191.5L360.6 191.5L361.1 191.5L361.7 191.5L362.2 191.5L362.8 191.5L363.3 191.5L363.9 191.5L364.4 191.5L365 191.5L365.5 191.5L366.1 191.5L366.6 191.5L367.2 191.5L367.7 191.5L368.3 191.5L368.8 191.5L369.4 191.5L369.9 191.5L370.4 191.5" fill="none" stroke="#2d4b8e" stroke-width="0.9" stroke-linejoin="round"/>
<path d="M310.6 191.5L311.1 191.5L311.6 191.5L312.2 191.5L312.7 191.5L313.3 191.5L313.8 191.5L314.4 191.5L314.9 191.5L315.5 191.5L316 191.5L316.6 191.5L317.1 191.5L317.7 191.5L318.2 191.5L318.8 191.5L319.3 191.5L319.9 191.5L320.4 191.5L321 191.5L321.5 191.5L322.1 191.5L322.6 191.5L323.2 191.5L323.7 191.5L324.3 191.5L324.8 191.5L325.4 191.5L325.9 191.5L326.5 191.5L327 191.5L327.6 191.5L328.1 191.5L328.7 191.5L329.2 191.5L329.8 191.5L330.3 191.5L330.9 191.5L331.4 191.5L332 191.5L332.5 191.5L333.1 191.5L333.6 191.5L334.2 191.5L334.7 191.5L335.3 191.5L335.8 191.5L336.4 191.5L336.9 191.5L337.5 191.5L338 191.5L338.6 191.5L339.1 191.5L339.7 191.5L340.2 191.5L340.8 191.5L341.3 191.5L341.9 191.5L342.4 191.5L343 191.5L343.5 191.4L344.1 191.3L344.6 191L345.2 190.2L345.7 188.6L346.3 185.5L346.8 180.3L347.4 172.8L347.9 163.4L348.5 153.3L349 144.8L349.6 140.1L350.1 140.4L350.7 145.3L351.2 153.4L351.8 162.9L352.3 171.9L352.9 179.3L353.4 184.6L354 187.9L354.5 189.8L355.1 190.8L355.6 191.2L356.2 191.4L356.7 191.5L357.3 191.5L357.8 191.5L358.4 191.5L358.9 191.5L359.5 191.5L360 191.5L360.6 191.5L361.1 191.5L361.7 191.5L362.2 191.5L362.8 191.5L363.3 191.5L363.9 191.5L364.4 191.5L365 191.5L365.5 191.5L366.1 191.5L366.6 191.5L367.2 191.5L367.7 191.5L368.3 191.5L368.8 191.5L369.4 191.5L369.9 191.5L370.4 191.5L370.45 191.6L310.55 191.6Z" fill="rgba(200,35,75,0.37)" stroke="none"/>
<path d="M310.6 191.5L311.1 191.5L311.6 191.5L312.2 191.5L312.7 191.5L313.3 191.5L313.8 191.5L314.4 191.5L314.9 191.5L315.5 191.5L316 191.5L316.6 191.5L317.1 191.5L317.7 191.5L318.2 191.5L318.8 191.5L319.3 191.5L319.9 191.5L320.4 191.5L321 191.5L321.5 191.5L322.1 191.5L322.6 191.5L323.2 191.5L323.7 191.5L324.3 191.5L324.8 191.5L325.4 191.5L325.9 191.5L326.5 191.5L327 191.5L327.6 191.5L328.1 191.5L328.7 191.5L329.2 191.5L329.8 191.5L330.3 191.5L330.9 191.5L331.4 191.5L332 191.5L332.5 191.5L333.1 191.5L333.6 191.5L334.2 191.5L334.7 191.5L335.3 191.5L335.8 191.5L336.4 191.5L336.9 191.5L337.5 191.5L338 191.5L338.6 191.5L339.1 191.5L339.7 191.5L340.2 191.5L340.8 191.5L341.3 191.5L341.9 191.5L342.4 191.5L343 191.5L343.5 191.4L344.1 191.3L344.6 191L345.2 190.2L345.7 188.6L346.3 185.5L346.8 180.3L347.4 172.8L347.9 163.4L348.5 153.3L349 144.8L349.6 140.1L350.1 140.4L350.7 145.3L351.2 153.4L351.8 162.9L352.3 171.9L352.9 179.3L353.4 184.6L354 187.9L354.5 189.8L355.1 190.8L355.6 191.2L356.2 191.4L356.7 191.5L357.3 191.5L357.8 191.5L358.4 191.5L358.9 191.5L359.5 191.5L360 191.5L360.6 191.5L361.1 191.5L361.7 191.5L362.2 191.5L362.8 191.5L363.3 191.5L363.9 191.5L364.4 191.5L365 191.5L365.5 191.5L366.1 191.5L366.6 191.5L367.2 191.5L367.7 191.5L368.3 191.5L368.8 191.5L369.4 191.5L369.9 191.5L370.4 191.5" fill="none" stroke="#bd1f4c" stroke-width="0.9" stroke-linejoin="round"/>
<line x1="307.2" y1="191.6" x2="310" y2="191.6" stroke="#222" stroke-width="0.7"/>
<text x="303.7" y="193.95" font-size="6.6" text-anchor="end" font-weight="normal" fill="#1a1a1a"  stroke="#1a1a1a" stroke-width="0.16">0</text>
<line x1="307.2" y1="179.9" x2="310" y2="179.9" stroke="#222" stroke-width="0.7"/>
<text x="303.7" y="182.25" font-size="6.6" text-anchor="end" font-weight="normal" fill="#1a1a1a"  stroke="#1a1a1a" stroke-width="0.16">50</text>
<line x1="307.2" y1="168.2" x2="310" y2="168.2" stroke="#222" stroke-width="0.7"/>
<text x="303.7" y="170.55" font-size="6.6" text-anchor="end" font-weight="normal" fill="#1a1a1a"  stroke="#1a1a1a" stroke-width="0.16">100</text>
<line x1="307.2" y1="156.5" x2="310" y2="156.5" stroke="#222" stroke-width="0.7"/>
<text x="303.7" y="158.85" font-size="6.6" text-anchor="end" font-weight="normal" fill="#1a1a1a"  stroke="#1a1a1a" stroke-width="0.16">150</text>
<line x1="307.2" y1="144.8" x2="310" y2="144.8" stroke="#222" stroke-width="0.7"/>
<text x="303.7" y="147.15" font-size="6.6" text-anchor="end" font-weight="normal" fill="#1a1a1a"  stroke="#1a1a1a" stroke-width="0.16">200</text>
<line x1="307.2" y1="133.1" x2="310" y2="133.1" stroke="#222" stroke-width="0.7"/>
<text x="303.7" y="135.45" font-size="6.6" text-anchor="end" font-weight="normal" fill="#1a1a1a"  stroke="#1a1a1a" stroke-width="0.16">250</text>
<line x1="308.6" y1="191.6" x2="310" y2="191.6" stroke="#222" stroke-width="0.6"/>
<line x1="308.6" y1="189.26" x2="310" y2="189.26" stroke="#222" stroke-width="0.6"/>
<line x1="308.6" y1="186.92" x2="310" y2="186.92" stroke="#222" stroke-width="0.6"/>
<line x1="308.6" y1="184.58" x2="310" y2="184.58" stroke="#222" stroke-width="0.6"/>
<line x1="308.6" y1="182.24" x2="310" y2="182.24" stroke="#222" stroke-width="0.6"/>
<line x1="308.6" y1="179.9" x2="310" y2="179.9" stroke="#222" stroke-width="0.6"/>
<line x1="308.6" y1="177.56" x2="310" y2="177.56" stroke="#222" stroke-width="0.6"/>
<line x1="308.6" y1="175.22" x2="310" y2="175.22" stroke="#222" stroke-width="0.6"/>
<line x1="308.6" y1="172.88" x2="310" y2="172.88" stroke="#222" stroke-width="0.6"/>
<line x1="308.6" y1="170.54" x2="310" y2="170.54" stroke="#222" stroke-width="0.6"/>
<line x1="308.6" y1="168.2" x2="310" y2="168.2" stroke="#222" stroke-width="0.6"/>
<line x1="308.6" y1="165.86" x2="310" y2="165.86" stroke="#222" stroke-width="0.6"/>
<line x1="308.6" y1="163.52" x2="310" y2="163.52" stroke="#222" stroke-width="0.6"/>
<line x1="308.6" y1="161.18" x2="310" y2="161.18" stroke="#222" stroke-width="0.6"/>
<line x1="308.6" y1="158.84" x2="310" y2="158.84" stroke="#222" stroke-width="0.6"/>
<line x1="308.6" y1="156.5" x2="310" y2="156.5" stroke="#222" stroke-width="0.6"/>
<line x1="308.6" y1="154.16" x2="310" y2="154.16" stroke="#222" stroke-width="0.6"/>
<line x1="308.6" y1="151.82" x2="310" y2="151.82" stroke="#222" stroke-width="0.6"/>
<line x1="308.6" y1="149.48" x2="310" y2="149.48" stroke="#222" stroke-width="0.6"/>
<line x1="308.6" y1="147.14" x2="310" y2="147.14" stroke="#222" stroke-width="0.6"/>
<line x1="308.6" y1="144.8" x2="310" y2="144.8" stroke="#222" stroke-width="0.6"/>
<line x1="308.6" y1="142.46" x2="310" y2="142.46" stroke="#222" stroke-width="0.6"/>
<line x1="308.6" y1="140.12" x2="310" y2="140.12" stroke="#222" stroke-width="0.6"/>
<line x1="308.6" y1="137.78" x2="310" y2="137.78" stroke="#222" stroke-width="0.6"/>
<line x1="308.6" y1="135.44" x2="310" y2="135.44" stroke="#222" stroke-width="0.6"/>
<line x1="308.6" y1="133.1" x2="310" y2="133.1" stroke="#222" stroke-width="0.6"/>
<line x1="310.4" y1="191.6" x2="310.4" y2="193.6" stroke="#222" stroke-width="0.6"/>
<text x="310" y="202.9" font-size="6.6" text-anchor="middle" font-weight="normal" fill="#1a1a1a"  stroke="#1a1a1a" stroke-width="0.16">10</text>
<text x="313.9" y="201" font-size="4.4" text-anchor="start" font-weight="normal" fill="#1a1a1a"  stroke="#1a1a1a" stroke-width="0.05">0</text>
<line x1="314.92" y1="191.6" x2="314.92" y2="193.2" stroke="#222" stroke-width="0.7"/>
<line x1="317.56" y1="191.6" x2="317.56" y2="193.2" stroke="#222" stroke-width="0.7"/>
<line x1="319.43" y1="191.6" x2="319.43" y2="193.2" stroke="#222" stroke-width="0.7"/>
<line x1="320.88" y1="191.6" x2="320.88" y2="193.2" stroke="#222" stroke-width="0.7"/>
<line x1="322.07" y1="191.6" x2="322.07" y2="193.2" stroke="#222" stroke-width="0.7"/>
<line x1="323.08" y1="191.6" x2="323.08" y2="193.2" stroke="#222" stroke-width="0.7"/>
<line x1="323.95" y1="191.6" x2="323.95" y2="193.2" stroke="#222" stroke-width="0.7"/>
<line x1="324.71" y1="191.6" x2="324.71" y2="193.2" stroke="#222" stroke-width="0.7"/>
<line x1="325.4" y1="191.6" x2="325.4" y2="193.6" stroke="#222" stroke-width="0.6"/>
<text x="325" y="202.9" font-size="6.6" text-anchor="middle" font-weight="normal" fill="#1a1a1a"  stroke="#1a1a1a" stroke-width="0.16">10</text>
<text x="328.9" y="201" font-size="4.4" text-anchor="start" font-weight="normal" fill="#1a1a1a"  stroke="#1a1a1a" stroke-width="0.05">1</text>
<line x1="329.92" y1="191.6" x2="329.92" y2="193.2" stroke="#222" stroke-width="0.7"/>
<line x1="332.56" y1="191.6" x2="332.56" y2="193.2" stroke="#222" stroke-width="0.7"/>
<line x1="334.43" y1="191.6" x2="334.43" y2="193.2" stroke="#222" stroke-width="0.7"/>
<line x1="335.88" y1="191.6" x2="335.88" y2="193.2" stroke="#222" stroke-width="0.7"/>
<line x1="337.07" y1="191.6" x2="337.07" y2="193.2" stroke="#222" stroke-width="0.7"/>
<line x1="338.08" y1="191.6" x2="338.08" y2="193.2" stroke="#222" stroke-width="0.7"/>
<line x1="338.95" y1="191.6" x2="338.95" y2="193.2" stroke="#222" stroke-width="0.7"/>
<line x1="339.71" y1="191.6" x2="339.71" y2="193.2" stroke="#222" stroke-width="0.7"/>
<line x1="340.4" y1="191.6" x2="340.4" y2="193.6" stroke="#222" stroke-width="0.6"/>
<text x="340" y="202.9" font-size="6.6" text-anchor="middle" font-weight="normal" fill="#1a1a1a"  stroke="#1a1a1a" stroke-width="0.16">10</text>
<text x="343.9" y="201" font-size="4.4" text-anchor="start" font-weight="normal" fill="#1a1a1a"  stroke="#1a1a1a" stroke-width="0.05">2</text>
<line x1="344.92" y1="191.6" x2="344.92" y2="193.2" stroke="#222" stroke-width="0.7"/>
<line x1="347.56" y1="191.6" x2="347.56" y2="193.2" stroke="#222" stroke-width="0.7"/>
<line x1="349.43" y1="191.6" x2="349.43" y2="193.2" stroke="#222" stroke-width="0.7"/>
<line x1="350.88" y1="191.6" x2="350.88" y2="193.2" stroke="#222" stroke-width="0.7"/>
<line x1="352.07" y1="191.6" x2="352.07" y2="193.2" stroke="#222" stroke-width="0.7"/>
<line x1="353.08" y1="191.6" x2="353.08" y2="193.2" stroke="#222" stroke-width="0.7"/>
<line x1="353.95" y1="191.6" x2="353.95" y2="193.2" stroke="#222" stroke-width="0.7"/>
<line x1="354.71" y1="191.6" x2="354.71" y2="193.2" stroke="#222" stroke-width="0.7"/>
<line x1="355.4" y1="191.6" x2="355.4" y2="193.6" stroke="#222" stroke-width="0.6"/>
<text x="355" y="202.9" font-size="6.6" text-anchor="middle" font-weight="normal" fill="#1a1a1a"  stroke="#1a1a1a" stroke-width="0.16">10</text>
<text x="358.9" y="201" font-size="4.4" text-anchor="start" font-weight="normal" fill="#1a1a1a"  stroke="#1a1a1a" stroke-width="0.05">3</text>
<line x1="359.92" y1="191.6" x2="359.92" y2="193.2" stroke="#222" stroke-width="0.7"/>
<line x1="362.56" y1="191.6" x2="362.56" y2="193.2" stroke="#222" stroke-width="0.7"/>
<line x1="364.43" y1="191.6" x2="364.43" y2="193.2" stroke="#222" stroke-width="0.7"/>
<line x1="365.88" y1="191.6" x2="365.88" y2="193.2" stroke="#222" stroke-width="0.7"/>
<line x1="367.07" y1="191.6" x2="367.07" y2="193.2" stroke="#222" stroke-width="0.7"/>
<line x1="368.08" y1="191.6" x2="368.08" y2="193.2" stroke="#222" stroke-width="0.7"/>
<line x1="368.95" y1="191.6" x2="368.95" y2="193.2" stroke="#222" stroke-width="0.7"/>
<line x1="369.71" y1="191.6" x2="369.71" y2="193.2" stroke="#222" stroke-width="0.7"/>
<line x1="370.4" y1="191.6" x2="370.4" y2="193.6" stroke="#222" stroke-width="0.6"/>
<text x="370" y="202.9" font-size="6.6" text-anchor="middle" font-weight="normal" fill="#1a1a1a"  stroke="#1a1a1a" stroke-width="0.16">10</text>
<text x="373.9" y="201" font-size="4.4" text-anchor="start" font-weight="normal" fill="#1a1a1a"  stroke="#1a1a1a" stroke-width="0.05">4</text>
<text x="288" y="225.1" font-size="11.2" text-anchor="start" font-weight="bold" fill="#111"  stroke="#111" stroke-width="0.16">H</text>
<text x="340.5" y="225.1" font-size="8.2" text-anchor="middle" font-weight="normal" fill="#222"  stroke="#222" stroke-width="0.16">U937</text>
<path d="M310 291.3 V230.7 H371 V291.3" fill="none" stroke="#111" stroke-width="1.1"/>
<line x1="310" y1="291.3" x2="371" y2="291.3" stroke="#111" stroke-width="1.1"/>
<path d="M310.6 291.2L311.1 291.2L311.6 291.2L312.2 291.2L312.7 291.1L313.3 291L313.8 290.8L314.4 290.3L314.9 289.4L315.5 287.8L316 285.2L316.6 281.4L317.1 276.1L317.7 269.2L318.2 261.2L318.8 252.8L319.3 245L319.9 238.9L320.4 235.7L321 235.8L321.5 239.2L322.1 245.4L322.6 253.3L323.2 261.7L323.7 269.7L324.3 276.4L324.8 281.7L325.4 285.4L325.9 287.9L326.5 289.4L327 290.3L327.6 290.8L328.1 291L328.7 291.1L329.2 291.2L329.8 291.2L330.3 291.2L330.9 291.2L331.4 291.2L332 291.2L332.5 291.2L333.1 291.2L333.6 291.2L334.2 291.2L334.7 291.2L335.3 291.2L335.8 291.2L336.4 291.2L336.9 291.2L337.5 291.2L338 291.2L338.6 291.2L339.1 291.2L339.7 291.2L340.2 291.2L340.8 291.2L341.3 291.2L341.9 291.2L342.4 291.2L343 291.2L343.5 291.2L344.1 291.2L344.6 291.2L345.2 291.2L345.7 291.2L346.3 291.2L346.8 291.2L347.4 291.2L347.9 291.2L348.5 291.2L349 291.2L349.6 291.2L350.1 291.2L350.7 291.2L351.2 291.2L351.8 291.2L352.3 291.2L352.9 291.2L353.4 291.2L354 291.2L354.5 291.2L355.1 291.2L355.6 291.2L356.2 291.2L356.7 291.2L357.3 291.2L357.8 291.2L358.4 291.2L358.9 291.2L359.5 291.2L360 291.2L360.6 291.2L361.1 291.2L361.7 291.2L362.2 291.2L362.8 291.2L363.3 291.2L363.9 291.2L364.4 291.2L365 291.2L365.5 291.2L366.1 291.2L366.6 291.2L367.2 291.2L367.7 291.2L368.3 291.2L368.8 291.2L369.4 291.2L369.9 291.2L370.4 291.2L370.45 291.3L310.55 291.3Z" fill="#c9cacd" stroke="none"/>
<path d="M310.6 291.2L311.1 291.2L311.6 291.2L312.2 291.2L312.7 291.1L313.3 291L313.8 290.8L314.4 290.3L314.9 289.4L315.5 287.8L316 285.2L316.6 281.4L317.1 276.1L317.7 269.2L318.2 261.2L318.8 252.8L319.3 245L319.9 238.9L320.4 235.7L321 235.8L321.5 239.2L322.1 245.4L322.6 253.3L323.2 261.7L323.7 269.7L324.3 276.4L324.8 281.7L325.4 285.4L325.9 287.9L326.5 289.4L327 290.3L327.6 290.8L328.1 291L328.7 291.1L329.2 291.2L329.8 291.2L330.3 291.2L330.9 291.2L331.4 291.2L332 291.2L332.5 291.2L333.1 291.2L333.6 291.2L334.2 291.2L334.7 291.2L335.3 291.2L335.8 291.2L336.4 291.2L336.9 291.2L337.5 291.2L338 291.2L338.6 291.2L339.1 291.2L339.7 291.2L340.2 291.2L340.8 291.2L341.3 291.2L341.9 291.2L342.4 291.2L343 291.2L343.5 291.2L344.1 291.2L344.6 291.2L345.2 291.2L345.7 291.2L346.3 291.2L346.8 291.2L347.4 291.2L347.9 291.2L348.5 291.2L349 291.2L349.6 291.2L350.1 291.2L350.7 291.2L351.2 291.2L351.8 291.2L352.3 291.2L352.9 291.2L353.4 291.2L354 291.2L354.5 291.2L355.1 291.2L355.6 291.2L356.2 291.2L356.7 291.2L357.3 291.2L357.8 291.2L358.4 291.2L358.9 291.2L359.5 291.2L360 291.2L360.6 291.2L361.1 291.2L361.7 291.2L362.2 291.2L362.8 291.2L363.3 291.2L363.9 291.2L364.4 291.2L365 291.2L365.5 291.2L366.1 291.2L366.6 291.2L367.2 291.2L367.7 291.2L368.3 291.2L368.8 291.2L369.4 291.2L369.9 291.2L370.4 291.2" fill="none" stroke="#8e8f96" stroke-width="0.6" stroke-linejoin="round"/>
<path d="M310.6 291.2L311.1 291.2L311.6 291.2L312.2 291.2L312.7 291.2L313.3 291.2L313.8 291.2L314.4 291.2L314.9 291.2L315.5 291.2L316 291.2L316.6 291.2L317.1 291.2L317.7 291.2L318.2 291.2L318.8 291.2L319.3 291.2L319.9 291.2L320.4 291.2L321 291.2L321.5 291.2L322.1 291.2L322.6 291.2L323.2 291.2L323.7 291.2L324.3 291.2L324.8 291.2L325.4 291.2L325.9 291.2L326.5 291.2L327 291.2L327.6 291.2L328.1 291.2L328.7 291.2L329.2 291.2L329.8 291.2L330.3 291.2L330.9 291.2L331.4 291.2L332 291.2L332.5 291.2L333.1 291.2L333.6 291.2L334.2 291.2L334.7 291.2L335.3 291.2L335.8 291.2L336.4 291.2L336.9 291.2L337.5 291.2L338 291.2L338.6 291.2L339.1 291.2L339.7 291.2L340.2 291.2L340.8 291.2L341.3 291.2L341.9 291.2L342.4 291.2L343 291.2L343.5 291.2L344.1 291.2L344.6 291.1L345.2 291L345.7 290.7L346.3 290.3L346.8 289.4L347.4 288L347.9 285.9L348.5 282.7L349 278.3L349.6 272.8L350.1 266.5L350.7 259.8L351.2 253.5L351.8 248.5L352.3 245.4L352.9 245L353.4 248L354 254L354.5 261.8L355.1 269.8L355.6 276.9L356.2 282.4L356.7 286.2L357.3 288.6L357.8 290L358.4 290.7L358.9 291L359.5 291.1L360 291.2L360.6 291.2L361.1 291.2L361.7 291.2L362.2 291.2L362.8 291.2L363.3 291.2L363.9 291.2L364.4 291.2L365 291.2L365.5 291.2L366.1 291.2L366.6 291.2L367.2 291.2L367.7 291.2L368.3 291.2L368.8 291.2L369.4 291.2L369.9 291.2L370.4 291.2L370.45 291.3L310.55 291.3Z" fill="rgba(70,100,160,0.32)" stroke="none"/>
<path d="M310.6 291.2L311.1 291.2L311.6 291.2L312.2 291.2L312.7 291.2L313.3 291.2L313.8 291.2L314.4 291.2L314.9 291.2L315.5 291.2L316 291.2L316.6 291.2L317.1 291.2L317.7 291.2L318.2 291.2L318.8 291.2L319.3 291.2L319.9 291.2L320.4 291.2L321 291.2L321.5 291.2L322.1 291.2L322.6 291.2L323.2 291.2L323.7 291.2L324.3 291.2L324.8 291.2L325.4 291.2L325.9 291.2L326.5 291.2L327 291.2L327.6 291.2L328.1 291.2L328.7 291.2L329.2 291.2L329.8 291.2L330.3 291.2L330.9 291.2L331.4 291.2L332 291.2L332.5 291.2L333.1 291.2L333.6 291.2L334.2 291.2L334.7 291.2L335.3 291.2L335.8 291.2L336.4 291.2L336.9 291.2L337.5 291.2L338 291.2L338.6 291.2L339.1 291.2L339.7 291.2L340.2 291.2L340.8 291.2L341.3 291.2L341.9 291.2L342.4 291.2L343 291.2L343.5 291.2L344.1 291.2L344.6 291.1L345.2 291L345.7 290.7L346.3 290.3L346.8 289.4L347.4 288L347.9 285.9L348.5 282.7L349 278.3L349.6 272.8L350.1 266.5L350.7 259.8L351.2 253.5L351.8 248.5L352.3 245.4L352.9 245L353.4 248L354 254L354.5 261.8L355.1 269.8L355.6 276.9L356.2 282.4L356.7 286.2L357.3 288.6L357.8 290L358.4 290.7L358.9 291L359.5 291.1L360 291.2L360.6 291.2L361.1 291.2L361.7 291.2L362.2 291.2L362.8 291.2L363.3 291.2L363.9 291.2L364.4 291.2L365 291.2L365.5 291.2L366.1 291.2L366.6 291.2L367.2 291.2L367.7 291.2L368.3 291.2L368.8 291.2L369.4 291.2L369.9 291.2L370.4 291.2" fill="none" stroke="#2d4b8e" stroke-width="0.9" stroke-linejoin="round"/>
<path d="M310.6 291.2L311.1 291.2L311.6 291.2L312.2 291.2L312.7 291.2L313.3 291.2L313.8 291.2L314.4 291.2L314.9 291.2L315.5 291.2L316 291.2L316.6 291.2L317.1 291.2L317.7 291.2L318.2 291.2L318.8 291.2L319.3 291.2L319.9 291.2L320.4 291.2L321 291.2L321.5 291.2L322.1 291.2L322.6 291.2L323.2 291.2L323.7 291.2L324.3 291.2L324.8 291.2L325.4 291.2L325.9 291.2L326.5 291.2L327 291.2L327.6 291.2L328.1 291.2L328.7 291.2L329.2 291.2L329.8 291.2L330.3 291.2L330.9 291.2L331.4 291.2L332 291.2L332.5 291.2L333.1 291.2L333.6 291.2L334.2 291.2L334.7 291.2L335.3 291.2L335.8 291.2L336.4 291.2L336.9 291.2L337.5 291.2L338 291.2L338.6 291.2L339.1 291.2L339.7 291.2L340.2 291.2L340.8 291.2L341.3 291.2L341.9 291.2L342.4 291.2L343 291.2L343.5 291.1L344.1 291.1L344.6 290.9L345.2 290.6L345.7 290L346.3 288.9L346.8 287.1L347.4 284.4L347.9 280.5L348.5 275.3L349 268.9L349.6 261.7L350.1 254.3L350.7 247.6L351.2 242.5L351.8 239.9L352.3 240.3L352.9 244.7L353.4 252.1L354 261L354.5 269.7L355.1 277.1L355.6 282.7L356.2 286.5L356.7 288.8L357.3 290.1L357.8 290.7L358.4 291L358.9 291.1L359.5 291.2L360 291.2L360.6 291.2L361.1 291.2L361.7 291.2L362.2 291.2L362.8 291.2L363.3 291.2L363.9 291.2L364.4 291.2L365 291.2L365.5 291.2L366.1 291.2L366.6 291.2L367.2 291.2L367.7 291.2L368.3 291.2L368.8 291.2L369.4 291.2L369.9 291.2L370.4 291.2L370.45 291.3L310.55 291.3Z" fill="rgba(200,35,75,0.37)" stroke="none"/>
<path d="M310.6 291.2L311.1 291.2L311.6 291.2L312.2 291.2L312.7 291.2L313.3 291.2L313.8 291.2L314.4 291.2L314.9 291.2L315.5 291.2L316 291.2L316.6 291.2L317.1 291.2L317.7 291.2L318.2 291.2L318.8 291.2L319.3 291.2L319.9 291.2L320.4 291.2L321 291.2L321.5 291.2L322.1 291.2L322.6 291.2L323.2 291.2L323.7 291.2L324.3 291.2L324.8 291.2L325.4 291.2L325.9 291.2L326.5 291.2L327 291.2L327.6 291.2L328.1 291.2L328.7 291.2L329.2 291.2L329.8 291.2L330.3 291.2L330.9 291.2L331.4 291.2L332 291.2L332.5 291.2L333.1 291.2L333.6 291.2L334.2 291.2L334.7 291.2L335.3 291.2L335.8 291.2L336.4 291.2L336.9 291.2L337.5 291.2L338 291.2L338.6 291.2L339.1 291.2L339.7 291.2L340.2 291.2L340.8 291.2L341.3 291.2L341.9 291.2L342.4 291.2L343 291.2L343.5 291.1L344.1 291.1L344.6 290.9L345.2 290.6L345.7 290L346.3 288.9L346.8 287.1L347.4 284.4L347.9 280.5L348.5 275.3L349 268.9L349.6 261.7L350.1 254.3L350.7 247.6L351.2 242.5L351.8 239.9L352.3 240.3L352.9 244.7L353.4 252.1L354 261L354.5 269.7L355.1 277.1L355.6 282.7L356.2 286.5L356.7 288.8L357.3 290.1L357.8 290.7L358.4 291L358.9 291.1L359.5 291.2L360 291.2L360.6 291.2L361.1 291.2L361.7 291.2L362.2 291.2L362.8 291.2L363.3 291.2L363.9 291.2L364.4 291.2L365 291.2L365.5 291.2L366.1 291.2L366.6 291.2L367.2 291.2L367.7 291.2L368.3 291.2L368.8 291.2L369.4 291.2L369.9 291.2L370.4 291.2" fill="none" stroke="#bd1f4c" stroke-width="0.9" stroke-linejoin="round"/>
<line x1="307.2" y1="291.3" x2="310" y2="291.3" stroke="#222" stroke-width="0.7"/>
<text x="303.7" y="293.65" font-size="6.6" text-anchor="end" font-weight="normal" fill="#1a1a1a"  stroke="#1a1a1a" stroke-width="0.16">0</text>
<line x1="307.2" y1="275.13" x2="310" y2="275.13" stroke="#222" stroke-width="0.7"/>
<text x="303.7" y="277.48" font-size="6.6" text-anchor="end" font-weight="normal" fill="#1a1a1a"  stroke="#1a1a1a" stroke-width="0.16">100</text>
<line x1="307.2" y1="258.96" x2="310" y2="258.96" stroke="#222" stroke-width="0.7"/>
<text x="303.7" y="261.31" font-size="6.6" text-anchor="end" font-weight="normal" fill="#1a1a1a"  stroke="#1a1a1a" stroke-width="0.16">200</text>
<line x1="307.2" y1="242.79" x2="310" y2="242.79" stroke="#222" stroke-width="0.7"/>
<text x="303.7" y="245.14" font-size="6.6" text-anchor="end" font-weight="normal" fill="#1a1a1a"  stroke="#1a1a1a" stroke-width="0.16">300</text>
<line x1="308.6" y1="291.3" x2="310" y2="291.3" stroke="#222" stroke-width="0.6"/>
<line x1="308.6" y1="288.07" x2="310" y2="288.07" stroke="#222" stroke-width="0.6"/>
<line x1="308.6" y1="284.83" x2="310" y2="284.83" stroke="#222" stroke-width="0.6"/>
<line x1="308.6" y1="281.6" x2="310" y2="281.6" stroke="#222" stroke-width="0.6"/>
<line x1="308.6" y1="278.36" x2="310" y2="278.36" stroke="#222" stroke-width="0.6"/>
<line x1="308.6" y1="275.13" x2="310" y2="275.13" stroke="#222" stroke-width="0.6"/>
<line x1="308.6" y1="271.9" x2="310" y2="271.9" stroke="#222" stroke-width="0.6"/>
<line x1="308.6" y1="268.66" x2="310" y2="268.66" stroke="#222" stroke-width="0.6"/>
<line x1="308.6" y1="265.43" x2="310" y2="265.43" stroke="#222" stroke-width="0.6"/>
<line x1="308.6" y1="262.19" x2="310" y2="262.19" stroke="#222" stroke-width="0.6"/>
<line x1="308.6" y1="258.96" x2="310" y2="258.96" stroke="#222" stroke-width="0.6"/>
<line x1="308.6" y1="255.73" x2="310" y2="255.73" stroke="#222" stroke-width="0.6"/>
<line x1="308.6" y1="252.49" x2="310" y2="252.49" stroke="#222" stroke-width="0.6"/>
<line x1="308.6" y1="249.26" x2="310" y2="249.26" stroke="#222" stroke-width="0.6"/>
<line x1="308.6" y1="246.02" x2="310" y2="246.02" stroke="#222" stroke-width="0.6"/>
<line x1="308.6" y1="242.79" x2="310" y2="242.79" stroke="#222" stroke-width="0.6"/>
<line x1="308.6" y1="239.56" x2="310" y2="239.56" stroke="#222" stroke-width="0.6"/>
<line x1="308.6" y1="236.32" x2="310" y2="236.32" stroke="#222" stroke-width="0.6"/>
<line x1="308.6" y1="233.09" x2="310" y2="233.09" stroke="#222" stroke-width="0.6"/>
<line x1="310.4" y1="291.3" x2="310.4" y2="293.3" stroke="#222" stroke-width="0.6"/>
<text x="310" y="302.6" font-size="6.6" text-anchor="middle" font-weight="normal" fill="#1a1a1a"  stroke="#1a1a1a" stroke-width="0.16">10</text>
<text x="313.9" y="300.7" font-size="4.4" text-anchor="start" font-weight="normal" fill="#1a1a1a"  stroke="#1a1a1a" stroke-width="0.05">0</text>
<line x1="314.92" y1="291.3" x2="314.92" y2="292.9" stroke="#222" stroke-width="0.7"/>
<line x1="317.56" y1="291.3" x2="317.56" y2="292.9" stroke="#222" stroke-width="0.7"/>
<line x1="319.43" y1="291.3" x2="319.43" y2="292.9" stroke="#222" stroke-width="0.7"/>
<line x1="320.88" y1="291.3" x2="320.88" y2="292.9" stroke="#222" stroke-width="0.7"/>
<line x1="322.07" y1="291.3" x2="322.07" y2="292.9" stroke="#222" stroke-width="0.7"/>
<line x1="323.08" y1="291.3" x2="323.08" y2="292.9" stroke="#222" stroke-width="0.7"/>
<line x1="323.95" y1="291.3" x2="323.95" y2="292.9" stroke="#222" stroke-width="0.7"/>
<line x1="324.71" y1="291.3" x2="324.71" y2="292.9" stroke="#222" stroke-width="0.7"/>
<line x1="325.4" y1="291.3" x2="325.4" y2="293.3" stroke="#222" stroke-width="0.6"/>
<text x="325" y="302.6" font-size="6.6" text-anchor="middle" font-weight="normal" fill="#1a1a1a"  stroke="#1a1a1a" stroke-width="0.16">10</text>
<text x="328.9" y="300.7" font-size="4.4" text-anchor="start" font-weight="normal" fill="#1a1a1a"  stroke="#1a1a1a" stroke-width="0.05">1</text>
<line x1="329.92" y1="291.3" x2="329.92" y2="292.9" stroke="#222" stroke-width="0.7"/>
<line x1="332.56" y1="291.3" x2="332.56" y2="292.9" stroke="#222" stroke-width="0.7"/>
<line x1="334.43" y1="291.3" x2="334.43" y2="292.9" stroke="#222" stroke-width="0.7"/>
<line x1="335.88" y1="291.3" x2="335.88" y2="292.9" stroke="#222" stroke-width="0.7"/>
<line x1="337.07" y1="291.3" x2="337.07" y2="292.9" stroke="#222" stroke-width="0.7"/>
<line x1="338.08" y1="291.3" x2="338.08" y2="292.9" stroke="#222" stroke-width="0.7"/>
<line x1="338.95" y1="291.3" x2="338.95" y2="292.9" stroke="#222" stroke-width="0.7"/>
<line x1="339.71" y1="291.3" x2="339.71" y2="292.9" stroke="#222" stroke-width="0.7"/>
<line x1="340.4" y1="291.3" x2="340.4" y2="293.3" stroke="#222" stroke-width="0.6"/>
<text x="340" y="302.6" font-size="6.6" text-anchor="middle" font-weight="normal" fill="#1a1a1a"  stroke="#1a1a1a" stroke-width="0.16">10</text>
<text x="343.9" y="300.7" font-size="4.4" text-anchor="start" font-weight="normal" fill="#1a1a1a"  stroke="#1a1a1a" stroke-width="0.05">2</text>
<line x1="344.92" y1="291.3" x2="344.92" y2="292.9" stroke="#222" stroke-width="0.7"/>
<line x1="347.56" y1="291.3" x2="347.56" y2="292.9" stroke="#222" stroke-width="0.7"/>
<line x1="349.43" y1="291.3" x2="349.43" y2="292.9" stroke="#222" stroke-width="0.7"/>
<line x1="350.88" y1="291.3" x2="350.88" y2="292.9" stroke="#222" stroke-width="0.7"/>
<line x1="352.07" y1="291.3" x2="352.07" y2="292.9" stroke="#222" stroke-width="0.7"/>
<line x1="353.08" y1="291.3" x2="353.08" y2="292.9" stroke="#222" stroke-width="0.7"/>
<line x1="353.95" y1="291.3" x2="353.95" y2="292.9" stroke="#222" stroke-width="0.7"/>
<line x1="354.71" y1="291.3" x2="354.71" y2="292.9" stroke="#222" stroke-width="0.7"/>
<line x1="355.4" y1="291.3" x2="355.4" y2="293.3" stroke="#222" stroke-width="0.6"/>
<text x="355" y="302.6" font-size="6.6" text-anchor="middle" font-weight="normal" fill="#1a1a1a"  stroke="#1a1a1a" stroke-width="0.16">10</text>
<text x="358.9" y="300.7" font-size="4.4" text-anchor="start" font-weight="normal" fill="#1a1a1a"  stroke="#1a1a1a" stroke-width="0.05">3</text>
<line x1="359.92" y1="291.3" x2="359.92" y2="292.9" stroke="#222" stroke-width="0.7"/>
<line x1="362.56" y1="291.3" x2="362.56" y2="292.9" stroke="#222" stroke-width="0.7"/>
<line x1="364.43" y1="291.3" x2="364.43" y2="292.9" stroke="#222" stroke-width="0.7"/>
<line x1="365.88" y1="291.3" x2="365.88" y2="292.9" stroke="#222" stroke-width="0.7"/>
<line x1="367.07" y1="291.3" x2="367.07" y2="292.9" stroke="#222" stroke-width="0.7"/>
<line x1="368.08" y1="291.3" x2="368.08" y2="292.9" stroke="#222" stroke-width="0.7"/>
<line x1="368.95" y1="291.3" x2="368.95" y2="292.9" stroke="#222" stroke-width="0.7"/>
<line x1="369.71" y1="291.3" x2="369.71" y2="292.9" stroke="#222" stroke-width="0.7"/>
<line x1="370.4" y1="291.3" x2="370.4" y2="293.3" stroke="#222" stroke-width="0.6"/>
<text x="370" y="302.6" font-size="6.6" text-anchor="middle" font-weight="normal" fill="#1a1a1a"  stroke="#1a1a1a" stroke-width="0.16">10</text>
<text x="373.9" y="300.7" font-size="4.4" text-anchor="start" font-weight="normal" fill="#1a1a1a"  stroke="#1a1a1a" stroke-width="0.05">4</text>
<text x="288" y="326.8" font-size="11.2" text-anchor="start" font-weight="bold" fill="#111"  stroke="#111" stroke-width="0.16">I</text>
<text x="340.5" y="326.8" font-size="8.2" text-anchor="middle" font-weight="normal" fill="#222"  stroke="#222" stroke-width="0.16">OCI-AML3</text>
<path d="M310 391.6 V332.4 H371 V391.6" fill="none" stroke="#111" stroke-width="1.1"/>
<line x1="310" y1="391.6" x2="371" y2="391.6" stroke="#111" stroke-width="1.1"/>
<path d="M310.6 391.5L311.1 391.5L311.6 391.5L312.2 391.5L312.7 391.5L313.3 391.4L313.8 391.4L314.4 391.2L314.9 390.9L315.5 390.4L316 389.6L316.6 388.2L317.1 386.1L317.7 383.2L318.2 379.3L318.8 374.5L319.3 369L319.9 363.3L320.4 357.9L321 353.5L321.5 350.8L322.1 350L322.6 351.2L323.2 354.1L323.7 358.3L324.3 363.3L324.8 368.6L325.4 373.7L325.9 378.3L326.5 382.1L327 385.1L327.6 387.4L328.1 388.9L328.7 390L329.2 390.6L329.8 391L330.3 391.3L330.9 391.4L331.4 391.4L332 391.5L332.5 391.5L333.1 391.5L333.6 391.5L334.2 391.5L334.7 391.5L335.3 391.5L335.8 391.5L336.4 391.5L336.9 391.5L337.5 391.5L338 391.5L338.6 391.5L339.1 391.5L339.7 391.5L340.2 391.5L340.8 391.5L341.3 391.5L341.9 391.5L342.4 391.5L343 391.5L343.5 391.5L344.1 391.5L344.6 391.5L345.2 391.5L345.7 391.5L346.3 391.5L346.8 391.5L347.4 391.5L347.9 391.5L348.5 391.5L349 391.5L349.6 391.5L350.1 391.5L350.7 391.5L351.2 391.5L351.8 391.5L352.3 391.5L352.9 391.5L353.4 391.5L354 391.5L354.5 391.5L355.1 391.5L355.6 391.5L356.2 391.5L356.7 391.5L357.3 391.5L357.8 391.5L358.4 391.5L358.9 391.5L359.5 391.5L360 391.5L360.6 391.5L361.1 391.5L361.7 391.5L362.2 391.5L362.8 391.5L363.3 391.5L363.9 391.5L364.4 391.5L365 391.5L365.5 391.5L366.1 391.5L366.6 391.5L367.2 391.5L367.7 391.5L368.3 391.5L368.8 391.5L369.4 391.5L369.9 391.5L370.4 391.5L370.45 391.6L310.55 391.6Z" fill="#c9cacd" stroke="none"/>
<path d="M310.6 391.5L311.1 391.5L311.6 391.5L312.2 391.5L312.7 391.5L313.3 391.4L313.8 391.4L314.4 391.2L314.9 390.9L315.5 390.4L316 389.6L316.6 388.2L317.1 386.1L317.7 383.2L318.2 379.3L318.8 374.5L319.3 369L319.9 363.3L320.4 357.9L321 353.5L321.5 350.8L322.1 350L322.6 351.2L323.2 354.1L323.7 358.3L324.3 363.3L324.8 368.6L325.4 373.7L325.9 378.3L326.5 382.1L327 385.1L327.6 387.4L328.1 388.9L328.7 390L329.2 390.6L329.8 391L330.3 391.3L330.9 391.4L331.4 391.4L332 391.5L332.5 391.5L333.1 391.5L333.6 391.5L334.2 391.5L334.7 391.5L335.3 391.5L335.8 391.5L336.4 391.5L336.9 391.5L337.5 391.5L338 391.5L338.6 391.5L339.1 391.5L339.7 391.5L340.2 391.5L340.8 391.5L341.3 391.5L341.9 391.5L342.4 391.5L343 391.5L343.5 391.5L344.1 391.5L344.6 391.5L345.2 391.5L345.7 391.5L346.3 391.5L346.8 391.5L347.4 391.5L347.9 391.5L348.5 391.5L349 391.5L349.6 391.5L350.1 391.5L350.7 391.5L351.2 391.5L351.8 391.5L352.3 391.5L352.9 391.5L353.4 391.5L354 391.5L354.5 391.5L355.1 391.5L355.6 391.5L356.2 391.5L356.7 391.5L357.3 391.5L357.8 391.5L358.4 391.5L358.9 391.5L359.5 391.5L360 391.5L360.6 391.5L361.1 391.5L361.7 391.5L362.2 391.5L362.8 391.5L363.3 391.5L363.9 391.5L364.4 391.5L365 391.5L365.5 391.5L366.1 391.5L366.6 391.5L367.2 391.5L367.7 391.5L368.3 391.5L368.8 391.5L369.4 391.5L369.9 391.5L370.4 391.5" fill="none" stroke="#8e8f96" stroke-width="0.6" stroke-linejoin="round"/>
<path d="M310.6 391.5L311.1 391.5L311.6 391.5L312.2 391.5L312.7 391.5L313.3 391.5L313.8 391.5L314.4 391.5L314.9 391.5L315.5 391.5L316 391.5L316.6 391.5L317.1 391.5L317.7 391.5L318.2 391.5L318.8 391.5L319.3 391.5L319.9 391.5L320.4 391.5L321 391.5L321.5 391.5L322.1 391.5L322.6 391.5L323.2 391.5L323.7 391.5L324.3 391.5L324.8 391.5L325.4 391.5L325.9 391.5L326.5 391.5L327 391.5L327.6 391.5L328.1 391.5L328.7 391.5L329.2 391.5L329.8 391.5L330.3 391.5L330.9 391.5L331.4 391.5L332 391.5L332.5 391.5L333.1 391.5L333.6 391.5L334.2 391.5L334.7 391.5L335.3 391.5L335.8 391.5L336.4 391.5L336.9 391.5L337.5 391.5L338 391.5L338.6 391.5L339.1 391.5L339.7 391.5L340.2 391.5L340.8 391.5L341.3 391.5L341.9 391.5L342.4 391.5L343 391.5L343.5 391.5L344.1 391.5L344.6 391.5L345.2 391.5L345.7 391.5L346.3 391.5L346.8 391.5L347.4 391.5L347.9 391.4L348.5 391.2L349 390.6L349.6 389.3L350.1 386.8L350.7 382.4L351.2 375.5L351.8 366.2L352.3 355.5L352.9 345.3L353.4 338.1L354 335.9L354.5 339.4L355.1 347.5L355.6 358L356.2 368.6L356.7 377.3L357.3 383.6L357.8 387.6L358.4 389.7L358.9 390.8L359.5 391.2L360 391.4L360.6 391.5L361.1 391.5L361.7 391.5L362.2 391.5L362.8 391.5L363.3 391.5L363.9 391.5L364.4 391.5L365 391.5L365.5 391.5L366.1 391.5L366.6 391.5L367.2 391.5L367.7 391.5L368.3 391.5L368.8 391.5L369.4 391.5L369.9 391.5L370.4 391.5L370.45 391.6L310.55 391.6Z" fill="rgba(70,100,160,0.32)" stroke="none"/>
<path d="M310.6 391.5L311.1 391.5L311.6 391.5L312.2 391.5L312.7 391.5L313.3 391.5L313.8 391.5L314.4 391.5L314.9 391.5L315.5 391.5L316 391.5L316.6 391.5L317.1 391.5L317.7 391.5L318.2 391.5L318.8 391.5L319.3 391.5L319.9 391.5L320.4 391.5L321 391.5L321.5 391.5L322.1 391.5L322.6 391.5L323.2 391.5L323.7 391.5L324.3 391.5L324.8 391.5L325.4 391.5L325.9 391.5L326.5 391.5L327 391.5L327.6 391.5L328.1 391.5L328.7 391.5L329.2 391.5L329.8 391.5L330.3 391.5L330.9 391.5L331.4 391.5L332 391.5L332.5 391.5L333.1 391.5L333.6 391.5L334.2 391.5L334.7 391.5L335.3 391.5L335.8 391.5L336.4 391.5L336.9 391.5L337.5 391.5L338 391.5L338.6 391.5L339.1 391.5L339.7 391.5L340.2 391.5L340.8 391.5L341.3 391.5L341.9 391.5L342.4 391.5L343 391.5L343.5 391.5L344.1 391.5L344.6 391.5L345.2 391.5L345.7 391.5L346.3 391.5L346.8 391.5L347.4 391.5L347.9 391.4L348.5 391.2L349 390.6L349.6 389.3L350.1 386.8L350.7 382.4L351.2 375.5L351.8 366.2L352.3 355.5L352.9 345.3L353.4 338.1L354 335.9L354.5 339.4L355.1 347.5L355.6 358L356.2 368.6L356.7 377.3L357.3 383.6L357.8 387.6L358.4 389.7L358.9 390.8L359.5 391.2L360 391.4L360.6 391.5L361.1 391.5L361.7 391.5L362.2 391.5L362.8 391.5L363.3 391.5L363.9 391.5L364.4 391.5L365 391.5L365.5 391.5L366.1 391.5L366.6 391.5L367.2 391.5L367.7 391.5L368.3 391.5L368.8 391.5L369.4 391.5L369.9 391.5L370.4 391.5" fill="none" stroke="#2d4b8e" stroke-width="0.9" stroke-linejoin="round"/>
<path d="M310.6 391.5L311.1 391.5L311.6 391.5L312.2 391.5L312.7 391.5L313.3 391.5L313.8 391.5L314.4 391.5L314.9 391.5L315.5 391.5L316 391.5L316.6 391.5L317.1 391.5L317.7 391.5L318.2 391.5L318.8 391.5L319.3 391.5L319.9 391.5L320.4 391.5L321 391.5L321.5 391.5L322.1 391.5L322.6 391.5L323.2 391.5L323.7 391.5L324.3 391.5L324.8 391.5L325.4 391.5L325.9 391.5L326.5 391.5L327 391.5L327.6 391.5L328.1 391.5L328.7 391.5L329.2 391.5L329.8 391.5L330.3 391.5L330.9 391.5L331.4 391.5L332 391.5L332.5 391.5L333.1 391.5L333.6 391.5L334.2 391.5L334.7 391.5L335.3 391.5L335.8 391.5L336.4 391.5L336.9 391.5L337.5 391.5L338 391.5L338.6 391.5L339.1 391.5L339.7 391.5L340.2 391.5L340.8 391.5L341.3 391.5L341.9 391.5L342.4 391.5L343 391.5L343.5 391.5L344.1 391.5L344.6 391.5L345.2 391.5L345.7 391.5L346.3 391.5L346.8 391.5L347.4 391.4L347.9 391.3L348.5 390.9L349 390L349.6 388.1L350.1 384.5L350.7 378.6L351.2 370.1L351.8 359.6L352.3 348.6L352.9 339.5L353.4 334.7L354 335.7L354.5 342.1L355.1 352.1L355.6 363.2L356.2 373.2L356.7 380.8L357.3 385.9L357.8 388.8L358.4 390.4L358.9 391.1L359.5 391.3L360 391.5L360.6 391.5L361.1 391.5L361.7 391.5L362.2 391.5L362.8 391.5L363.3 391.5L363.9 391.5L364.4 391.5L365 391.5L365.5 391.5L366.1 391.5L366.6 391.5L367.2 391.5L367.7 391.5L368.3 391.5L368.8 391.5L369.4 391.5L369.9 391.5L370.4 391.5L370.45 391.6L310.55 391.6Z" fill="rgba(200,35,75,0.37)" stroke="none"/>
<path d="M310.6 391.5L311.1 391.5L311.6 391.5L312.2 391.5L312.7 391.5L313.3 391.5L313.8 391.5L314.4 391.5L314.9 391.5L315.5 391.5L316 391.5L316.6 391.5L317.1 391.5L317.7 391.5L318.2 391.5L318.8 391.5L319.3 391.5L319.9 391.5L320.4 391.5L321 391.5L321.5 391.5L322.1 391.5L322.6 391.5L323.2 391.5L323.7 391.5L324.3 391.5L324.8 391.5L325.4 391.5L325.9 391.5L326.5 391.5L327 391.5L327.6 391.5L328.1 391.5L328.7 391.5L329.2 391.5L329.8 391.5L330.3 391.5L330.9 391.5L331.4 391.5L332 391.5L332.5 391.5L333.1 391.5L333.6 391.5L334.2 391.5L334.7 391.5L335.3 391.5L335.8 391.5L336.4 391.5L336.9 391.5L337.5 391.5L338 391.5L338.6 391.5L339.1 391.5L339.7 391.5L340.2 391.5L340.8 391.5L341.3 391.5L341.9 391.5L342.4 391.5L343 391.5L343.5 391.5L344.1 391.5L344.6 391.5L345.2 391.5L345.7 391.5L346.3 391.5L346.8 391.5L347.4 391.4L347.9 391.3L348.5 390.9L349 390L349.6 388.1L350.1 384.5L350.7 378.6L351.2 370.1L351.8 359.6L352.3 348.6L352.9 339.5L353.4 334.7L354 335.7L354.5 342.1L355.1 352.1L355.6 363.2L356.2 373.2L356.7 380.8L357.3 385.9L357.8 388.8L358.4 390.4L358.9 391.1L359.5 391.3L360 391.5L360.6 391.5L361.1 391.5L361.7 391.5L362.2 391.5L362.8 391.5L363.3 391.5L363.9 391.5L364.4 391.5L365 391.5L365.5 391.5L366.1 391.5L366.6 391.5L367.2 391.5L367.7 391.5L368.3 391.5L368.8 391.5L369.4 391.5L369.9 391.5L370.4 391.5" fill="none" stroke="#bd1f4c" stroke-width="0.9" stroke-linejoin="round"/>
<line x1="307.2" y1="391.6" x2="310" y2="391.6" stroke="#222" stroke-width="0.7"/>
<text x="303.7" y="393.95" font-size="6.6" text-anchor="end" font-weight="normal" fill="#1a1a1a"  stroke="#1a1a1a" stroke-width="0.16">0</text>
<line x1="307.2" y1="377.2" x2="310" y2="377.2" stroke="#222" stroke-width="0.7"/>
<text x="303.7" y="379.55" font-size="6.6" text-anchor="end" font-weight="normal" fill="#1a1a1a"  stroke="#1a1a1a" stroke-width="0.16">100</text>
<line x1="307.2" y1="362.8" x2="310" y2="362.8" stroke="#222" stroke-width="0.7"/>
<text x="303.7" y="365.15" font-size="6.6" text-anchor="end" font-weight="normal" fill="#1a1a1a"  stroke="#1a1a1a" stroke-width="0.16">200</text>
<line x1="307.2" y1="348.4" x2="310" y2="348.4" stroke="#222" stroke-width="0.7"/>
<text x="303.7" y="350.75" font-size="6.6" text-anchor="end" font-weight="normal" fill="#1a1a1a"  stroke="#1a1a1a" stroke-width="0.16">300</text>
<line x1="307.2" y1="334" x2="310" y2="334" stroke="#222" stroke-width="0.7"/>
<text x="303.7" y="336.35" font-size="6.6" text-anchor="end" font-weight="normal" fill="#1a1a1a"  stroke="#1a1a1a" stroke-width="0.16">400</text>
<line x1="308.6" y1="391.6" x2="310" y2="391.6" stroke="#222" stroke-width="0.6"/>
<line x1="308.6" y1="388.72" x2="310" y2="388.72" stroke="#222" stroke-width="0.6"/>
<line x1="308.6" y1="385.84" x2="310" y2="385.84" stroke="#222" stroke-width="0.6"/>
<line x1="308.6" y1="382.96" x2="310" y2="382.96" stroke="#222" stroke-width="0.6"/>
<line x1="308.6" y1="380.08" x2="310" y2="380.08" stroke="#222" stroke-width="0.6"/>
<line x1="308.6" y1="377.2" x2="310" y2="377.2" stroke="#222" stroke-width="0.6"/>
<line x1="308.6" y1="374.32" x2="310" y2="374.32" stroke="#222" stroke-width="0.6"/>
<line x1="308.6" y1="371.44" x2="310" y2="371.44" stroke="#222" stroke-width="0.6"/>
<line x1="308.6" y1="368.56" x2="310" y2="368.56" stroke="#222" stroke-width="0.6"/>
<line x1="308.6" y1="365.68" x2="310" y2="365.68" stroke="#222" stroke-width="0.6"/>
<line x1="308.6" y1="362.8" x2="310" y2="362.8" stroke="#222" stroke-width="0.6"/>
<line x1="308.6" y1="359.92" x2="310" y2="359.92" stroke="#222" stroke-width="0.6"/>
<line x1="308.6" y1="357.04" x2="310" y2="357.04" stroke="#222" stroke-width="0.6"/>
<line x1="308.6" y1="354.16" x2="310" y2="354.16" stroke="#222" stroke-width="0.6"/>
<line x1="308.6" y1="351.28" x2="310" y2="351.28" stroke="#222" stroke-width="0.6"/>
<line x1="308.6" y1="348.4" x2="310" y2="348.4" stroke="#222" stroke-width="0.6"/>
<line x1="308.6" y1="345.52" x2="310" y2="345.52" stroke="#222" stroke-width="0.6"/>
<line x1="308.6" y1="342.64" x2="310" y2="342.64" stroke="#222" stroke-width="0.6"/>
<line x1="308.6" y1="339.76" x2="310" y2="339.76" stroke="#222" stroke-width="0.6"/>
<line x1="308.6" y1="336.88" x2="310" y2="336.88" stroke="#222" stroke-width="0.6"/>
<line x1="308.6" y1="334" x2="310" y2="334" stroke="#222" stroke-width="0.6"/>
<line x1="310.4" y1="391.6" x2="310.4" y2="393.6" stroke="#222" stroke-width="0.6"/>
<text x="310" y="402.9" font-size="6.6" text-anchor="middle" font-weight="normal" fill="#1a1a1a"  stroke="#1a1a1a" stroke-width="0.16">10</text>
<text x="313.9" y="401" font-size="4.4" text-anchor="start" font-weight="normal" fill="#1a1a1a"  stroke="#1a1a1a" stroke-width="0.05">0</text>
<line x1="314.92" y1="391.6" x2="314.92" y2="393.2" stroke="#222" stroke-width="0.7"/>
<line x1="317.56" y1="391.6" x2="317.56" y2="393.2" stroke="#222" stroke-width="0.7"/>
<line x1="319.43" y1="391.6" x2="319.43" y2="393.2" stroke="#222" stroke-width="0.7"/>
<line x1="320.88" y1="391.6" x2="320.88" y2="393.2" stroke="#222" stroke-width="0.7"/>
<line x1="322.07" y1="391.6" x2="322.07" y2="393.2" stroke="#222" stroke-width="0.7"/>
<line x1="323.08" y1="391.6" x2="323.08" y2="393.2" stroke="#222" stroke-width="0.7"/>
<line x1="323.95" y1="391.6" x2="323.95" y2="393.2" stroke="#222" stroke-width="0.7"/>
<line x1="324.71" y1="391.6" x2="324.71" y2="393.2" stroke="#222" stroke-width="0.7"/>
<line x1="325.4" y1="391.6" x2="325.4" y2="393.6" stroke="#222" stroke-width="0.6"/>
<text x="325" y="402.9" font-size="6.6" text-anchor="middle" font-weight="normal" fill="#1a1a1a"  stroke="#1a1a1a" stroke-width="0.16">10</text>
<text x="328.9" y="401" font-size="4.4" text-anchor="start" font-weight="normal" fill="#1a1a1a"  stroke="#1a1a1a" stroke-width="0.05">1</text>
<line x1="329.92" y1="391.6" x2="329.92" y2="393.2" stroke="#222" stroke-width="0.7"/>
<line x1="332.56" y1="391.6" x2="332.56" y2="393.2" stroke="#222" stroke-width="0.7"/>
<line x1="334.43" y1="391.6" x2="334.43" y2="393.2" stroke="#222" stroke-width="0.7"/>
<line x1="335.88" y1="391.6" x2="335.88" y2="393.2" stroke="#222" stroke-width="0.7"/>
<line x1="337.07" y1="391.6" x2="337.07" y2="393.2" stroke="#222" stroke-width="0.7"/>
<line x1="338.08" y1="391.6" x2="338.08" y2="393.2" stroke="#222" stroke-width="0.7"/>
<line x1="338.95" y1="391.6" x2="338.95" y2="393.2" stroke="#222" stroke-width="0.7"/>
<line x1="339.71" y1="391.6" x2="339.71" y2="393.2" stroke="#222" stroke-width="0.7"/>
<line x1="340.4" y1="391.6" x2="340.4" y2="393.6" stroke="#222" stroke-width="0.6"/>
<text x="340" y="402.9" font-size="6.6" text-anchor="middle" font-weight="normal" fill="#1a1a1a"  stroke="#1a1a1a" stroke-width="0.16">10</text>
<text x="343.9" y="401" font-size="4.4" text-anchor="start" font-weight="normal" fill="#1a1a1a"  stroke="#1a1a1a" stroke-width="0.05">2</text>
<line x1="344.92" y1="391.6" x2="344.92" y2="393.2" stroke="#222" stroke-width="0.7"/>
<line x1="347.56" y1="391.6" x2="347.56" y2="393.2" stroke="#222" stroke-width="0.7"/>
<line x1="349.43" y1="391.6" x2="349.43" y2="393.2" stroke="#222" stroke-width="0.7"/>
<line x1="350.88" y1="391.6" x2="350.88" y2="393.2" stroke="#222" stroke-width="0.7"/>
<line x1="352.07" y1="391.6" x2="352.07" y2="393.2" stroke="#222" stroke-width="0.7"/>
<line x1="353.08" y1="391.6" x2="353.08" y2="393.2" stroke="#222" stroke-width="0.7"/>
<line x1="353.95" y1="391.6" x2="353.95" y2="393.2" stroke="#222" stroke-width="0.7"/>
<line x1="354.71" y1="391.6" x2="354.71" y2="393.2" stroke="#222" stroke-width="0.7"/>
<line x1="355.4" y1="391.6" x2="355.4" y2="393.6" stroke="#222" stroke-width="0.6"/>
<text x="355" y="402.9" font-size="6.6" text-anchor="middle" font-weight="normal" fill="#1a1a1a"  stroke="#1a1a1a" stroke-width="0.16">10</text>
<text x="358.9" y="401" font-size="4.4" text-anchor="start" font-weight="normal" fill="#1a1a1a"  stroke="#1a1a1a" stroke-width="0.05">3</text>
<line x1="359.92" y1="391.6" x2="359.92" y2="393.2" stroke="#222" stroke-width="0.7"/>
<line x1="362.56" y1="391.6" x2="362.56" y2="393.2" stroke="#222" stroke-width="0.7"/>
<line x1="364.43" y1="391.6" x2="364.43" y2="393.2" stroke="#222" stroke-width="0.7"/>
<line x1="365.88" y1="391.6" x2="365.88" y2="393.2" stroke="#222" stroke-width="0.7"/>
<line x1="367.07" y1="391.6" x2="367.07" y2="393.2" stroke="#222" stroke-width="0.7"/>
<line x1="368.08" y1="391.6" x2="368.08" y2="393.2" stroke="#222" stroke-width="0.7"/>
<line x1="368.95" y1="391.6" x2="368.95" y2="393.2" stroke="#222" stroke-width="0.7"/>
<line x1="369.71" y1="391.6" x2="369.71" y2="393.2" stroke="#222" stroke-width="0.7"/>
<line x1="370.4" y1="391.6" x2="370.4" y2="393.6" stroke="#222" stroke-width="0.6"/>
<text x="370" y="402.9" font-size="6.6" text-anchor="middle" font-weight="normal" fill="#1a1a1a"  stroke="#1a1a1a" stroke-width="0.16">10</text>
<text x="373.9" y="401" font-size="4.4" text-anchor="start" font-weight="normal" fill="#1a1a1a"  stroke="#1a1a1a" stroke-width="0.05">4</text>
<text x="288" y="426.8" font-size="11.2" text-anchor="start" font-weight="bold" fill="#111"  stroke="#111" stroke-width="0.16">J</text>
<text x="340.5" y="426.8" font-size="8.2" text-anchor="middle" font-weight="normal" fill="#222"  stroke="#222" stroke-width="0.16">THP1</text>
<path d="M310 493.3 V432.4 H371 V493.3" fill="none" stroke="#111" stroke-width="1.1"/>
<line x1="310" y1="493.3" x2="371" y2="493.3" stroke="#111" stroke-width="1.1"/>
<path d="M310.6 483.2L311.1 482.7L311.6 482.4L312.2 482L312.7 480.9L313.3 478.4L313.8 473.9L314.4 467.8L314.9 461L315.5 454.8L316 450.9L316.6 450.5L317.1 453.9L317.7 460.2L318.2 467.9L318.8 475.6L319.3 482L319.9 486.7L320.4 489.8L321 491.5L321.5 492.5L322.1 492.9L322.6 493.1L323.2 493.2L323.7 493.2L324.3 493.2L324.8 493.2L325.4 493.2L325.9 493.2L326.5 493.2L327 493.2L327.6 493.2L328.1 493.2L328.7 493.2L329.2 493.2L329.8 493.2L330.3 493.2L330.9 493.2L331.4 493.2L332 493.2L332.5 493.2L333.1 493.2L333.6 493.2L334.2 493.2L334.7 493.2L335.3 493.2L335.8 493.2L336.4 493.2L336.9 493.2L337.5 493.2L338 493.2L338.6 493.2L339.1 493.2L339.7 493.2L340.2 493.2L340.8 493.2L341.3 493.2L341.9 493.2L342.4 493.2L343 493.2L343.5 493.2L344.1 493.2L344.6 493.2L345.2 493.2L345.7 493.2L346.3 493.2L346.8 493.2L347.4 493.2L347.9 493.2L348.5 493.2L349 493.2L349.6 493.2L350.1 493.2L350.7 493.2L351.2 493.2L351.8 493.2L352.3 493.2L352.9 493.2L353.4 493.2L354 493.2L354.5 493.2L355.1 493.2L355.6 493.2L356.2 493.2L356.7 493.2L357.3 493.2L357.8 493.2L358.4 493.2L358.9 493.2L359.5 493.2L360 493.2L360.6 493.2L361.1 493.2L361.7 493.2L362.2 493.2L362.8 493.2L363.3 493.2L363.9 493.2L364.4 493.2L365 493.2L365.5 493.2L366.1 493.2L366.6 493.2L367.2 493.2L367.7 493.2L368.3 493.2L368.8 493.2L369.4 493.2L369.9 493.2L370.4 493.2L370.45 493.3L310.55 493.3Z" fill="#c9cacd" stroke="none"/>
<path d="M310.6 483.2L311.1 482.7L311.6 482.4L312.2 482L312.7 480.9L313.3 478.4L313.8 473.9L314.4 467.8L314.9 461L315.5 454.8L316 450.9L316.6 450.5L317.1 453.9L317.7 460.2L318.2 467.9L318.8 475.6L319.3 482L319.9 486.7L320.4 489.8L321 491.5L321.5 492.5L322.1 492.9L322.6 493.1L323.2 493.2L323.7 493.2L324.3 493.2L324.8 493.2L325.4 493.2L325.9 493.2L326.5 493.2L327 493.2L327.6 493.2L328.1 493.2L328.7 493.2L329.2 493.2L329.8 493.2L330.3 493.2L330.9 493.2L331.4 493.2L332 493.2L332.5 493.2L333.1 493.2L333.6 493.2L334.2 493.2L334.7 493.2L335.3 493.2L335.8 493.2L336.4 493.2L336.9 493.2L337.5 493.2L338 493.2L338.6 493.2L339.1 493.2L339.7 493.2L340.2 493.2L340.8 493.2L341.3 493.2L341.9 493.2L342.4 493.2L343 493.2L343.5 493.2L344.1 493.2L344.6 493.2L345.2 493.2L345.7 493.2L346.3 493.2L346.8 493.2L347.4 493.2L347.9 493.2L348.5 493.2L349 493.2L349.6 493.2L350.1 493.2L350.7 493.2L351.2 493.2L351.8 493.2L352.3 493.2L352.9 493.2L353.4 493.2L354 493.2L354.5 493.2L355.1 493.2L355.6 493.2L356.2 493.2L356.7 493.2L357.3 493.2L357.8 493.2L358.4 493.2L358.9 493.2L359.5 493.2L360 493.2L360.6 493.2L361.1 493.2L361.7 493.2L362.2 493.2L362.8 493.2L363.3 493.2L363.9 493.2L364.4 493.2L365 493.2L365.5 493.2L366.1 493.2L366.6 493.2L367.2 493.2L367.7 493.2L368.3 493.2L368.8 493.2L369.4 493.2L369.9 493.2L370.4 493.2" fill="none" stroke="#8e8f96" stroke-width="0.6" stroke-linejoin="round"/>
<path d="M310.6 493.2L311.1 493.2L311.6 493.2L312.2 493.2L312.7 493.2L313.3 493.2L313.8 493.2L314.4 493.2L314.9 493.2L315.5 493.2L316 493.2L316.6 493.2L317.1 493.2L317.7 493.2L318.2 493.2L318.8 493.2L319.3 493.2L319.9 493.2L320.4 493.2L321 493.2L321.5 493.2L322.1 493.2L322.6 493.2L323.2 493.2L323.7 493.2L324.3 493.2L324.8 493.2L325.4 493.2L325.9 493.2L326.5 493.2L327 493.2L327.6 493.2L328.1 493.2L328.7 493.2L329.2 493.2L329.8 493.2L330.3 493.2L330.9 493.2L331.4 493.2L332 493.2L332.5 493.2L333.1 493.2L333.6 493.2L334.2 493.2L334.7 493.2L335.3 493.2L335.8 493.2L336.4 493.2L336.9 493.2L337.5 493.2L338 493.2L338.6 493.2L339.1 493.2L339.7 493.2L340.2 493.2L340.8 493.2L341.3 493.2L341.9 493.2L342.4 493.2L343 493.1L343.5 493L344.1 492.6L344.6 491.9L345.2 490.5L345.7 488L346.3 483.9L346.8 477.9L347.4 470.1L347.9 461.2L348.5 452.3L349 445.1L349.6 441.3L350.1 441.8L350.7 447.3L351.2 456.2L351.8 466.4L352.3 475.7L352.9 482.9L353.4 487.7L354 490.6L354.5 492.1L355.1 492.8L355.6 493L356.2 493.2L356.7 493.2L357.3 493.2L357.8 493.2L358.4 493.2L358.9 493.2L359.5 493.2L360 493.2L360.6 493.2L361.1 493.2L361.7 493.2L362.2 493.2L362.8 493.2L363.3 493.2L363.9 493.2L364.4 493.2L365 493.2L365.5 493.2L366.1 493.2L366.6 493.2L367.2 493.2L367.7 493.2L368.3 493.2L368.8 493.2L369.4 493.2L369.9 493.2L370.4 493.2L370.45 493.3L310.55 493.3Z" fill="rgba(70,100,160,0.32)" stroke="none"/>
<path d="M310.6 493.2L311.1 493.2L311.6 493.2L312.2 493.2L312.7 493.2L313.3 493.2L313.8 493.2L314.4 493.2L314.9 493.2L315.5 493.2L316 493.2L316.6 493.2L317.1 493.2L317.7 493.2L318.2 493.2L318.8 493.2L319.3 493.2L319.9 493.2L320.4 493.2L321 493.2L321.5 493.2L322.1 493.2L322.6 493.2L323.2 493.2L323.7 493.2L324.3 493.2L324.8 493.2L325.4 493.2L325.9 493.2L326.5 493.2L327 493.2L327.6 493.2L328.1 493.2L328.7 493.2L329.2 493.2L329.8 493.2L330.3 493.2L330.9 493.2L331.4 493.2L332 493.2L332.5 493.2L333.1 493.2L333.6 493.2L334.2 493.2L334.7 493.2L335.3 493.2L335.8 493.2L336.4 493.2L336.9 493.2L337.5 493.2L338 493.2L338.6 493.2L339.1 493.2L339.7 493.2L340.2 493.2L340.8 493.2L341.3 493.2L341.9 493.2L342.4 493.2L343 493.1L343.5 493L344.1 492.6L344.6 491.9L345.2 490.5L345.7 488L346.3 483.9L346.8 477.9L347.4 470.1L347.9 461.2L348.5 452.3L349 445.1L349.6 441.3L350.1 441.8L350.7 447.3L351.2 456.2L351.8 466.4L352.3 475.7L352.9 482.9L353.4 487.7L354 490.6L354.5 492.1L355.1 492.8L355.6 493L356.2 493.2L356.7 493.2L357.3 493.2L357.8 493.2L358.4 493.2L358.9 493.2L359.5 493.2L360 493.2L360.6 493.2L361.1 493.2L361.7 493.2L362.2 493.2L362.8 493.2L363.3 493.2L363.9 493.2L364.4 493.2L365 493.2L365.5 493.2L366.1 493.2L366.6 493.2L367.2 493.2L367.7 493.2L368.3 493.2L368.8 493.2L369.4 493.2L369.9 493.2L370.4 493.2" fill="none" stroke="#2d4b8e" stroke-width="0.9" stroke-linejoin="round"/>
<path d="M310.6 493.2L311.1 493.2L311.6 493.2L312.2 493.2L312.7 493.2L313.3 493.2L313.8 493.2L314.4 493.2L314.9 493.2L315.5 493.2L316 493.2L316.6 493.2L317.1 493.2L317.7 493.2L318.2 493.2L318.8 493.2L319.3 493.2L319.9 493.2L320.4 493.2L321 493.2L321.5 493.2L322.1 493.2L322.6 493.2L323.2 493.2L323.7 493.2L324.3 493.2L324.8 493.2L325.4 493.2L325.9 493.2L326.5 493.2L327 493.2L327.6 493.2L328.1 493.2L328.7 493.2L329.2 493.2L329.8 493.2L330.3 493.2L330.9 493.2L331.4 493.2L332 493.2L332.5 493.2L333.1 493.2L333.6 493.2L334.2 493.2L334.7 493.2L335.3 493.2L335.8 493.2L336.4 493.2L336.9 493.2L337.5 493.2L338 493.2L338.6 493.2L339.1 493.2L339.7 493.2L340.2 493.2L340.8 493.2L341.3 493.2L341.9 493.2L342.4 493.1L343 493L343.5 492.7L344.1 491.9L344.6 490.5L345.2 488L345.7 483.8L346.3 477.7L346.8 469.6L347.4 460.2L347.9 450.7L348.5 443L349 438.5L349.6 438.6L350.1 443.9L350.7 453.2L351.2 463.9L351.8 473.9L352.3 481.7L352.9 487.1L353.4 490.2L354 491.9L354.5 492.7L355.1 493L355.6 493.1L356.2 493.2L356.7 493.2L357.3 493.2L357.8 493.2L358.4 493.2L358.9 493.2L359.5 493.2L360 493.2L360.6 493.2L361.1 493.2L361.7 493.2L362.2 493.2L362.8 493.2L363.3 493.2L363.9 493.2L364.4 493.2L365 493.2L365.5 493.2L366.1 493.2L366.6 493.2L367.2 493.2L367.7 493.2L368.3 493.2L368.8 493.2L369.4 493.2L369.9 493.2L370.4 493.2L370.45 493.3L310.55 493.3Z" fill="rgba(200,35,75,0.37)" stroke="none"/>
<path d="M310.6 493.2L311.1 493.2L311.6 493.2L312.2 493.2L312.7 493.2L313.3 493.2L313.8 493.2L314.4 493.2L314.9 493.2L315.5 493.2L316 493.2L316.6 493.2L317.1 493.2L317.7 493.2L318.2 493.2L318.8 493.2L319.3 493.2L319.9 493.2L320.4 493.2L321 493.2L321.5 493.2L322.1 493.2L322.6 493.2L323.2 493.2L323.7 493.2L324.3 493.2L324.8 493.2L325.4 493.2L325.9 493.2L326.5 493.2L327 493.2L327.6 493.2L328.1 493.2L328.7 493.2L329.2 493.2L329.8 493.2L330.3 493.2L330.9 493.2L331.4 493.2L332 493.2L332.5 493.2L333.1 493.2L333.6 493.2L334.2 493.2L334.7 493.2L335.3 493.2L335.8 493.2L336.4 493.2L336.9 493.2L337.5 493.2L338 493.2L338.6 493.2L339.1 493.2L339.7 493.2L340.2 493.2L340.8 493.2L341.3 493.2L341.9 493.2L342.4 493.1L343 493L343.5 492.7L344.1 491.9L344.6 490.5L345.2 488L345.7 483.8L346.3 477.7L346.8 469.6L347.4 460.2L347.9 450.7L348.5 443L349 438.5L349.6 438.6L350.1 443.9L350.7 453.2L351.2 463.9L351.8 473.9L352.3 481.7L352.9 487.1L353.4 490.2L354 491.9L354.5 492.7L355.1 493L355.6 493.1L356.2 493.2L356.7 493.2L357.3 493.2L357.8 493.2L358.4 493.2L358.9 493.2L359.5 493.2L360 493.2L360.6 493.2L361.1 493.2L361.7 493.2L362.2 493.2L362.8 493.2L363.3 493.2L363.9 493.2L364.4 493.2L365 493.2L365.5 493.2L366.1 493.2L366.6 493.2L367.2 493.2L367.7 493.2L368.3 493.2L368.8 493.2L369.4 493.2L369.9 493.2L370.4 493.2" fill="none" stroke="#bd1f4c" stroke-width="0.9" stroke-linejoin="round"/>
<line x1="307.2" y1="493.3" x2="310" y2="493.3" stroke="#222" stroke-width="0.7"/>
<text x="303.7" y="495.65" font-size="6.6" text-anchor="end" font-weight="normal" fill="#1a1a1a"  stroke="#1a1a1a" stroke-width="0.16">0</text>
<line x1="307.2" y1="480.9" x2="310" y2="480.9" stroke="#222" stroke-width="0.7"/>
<text x="303.7" y="483.25" font-size="6.6" text-anchor="end" font-weight="normal" fill="#1a1a1a"  stroke="#1a1a1a" stroke-width="0.16">50</text>
<line x1="307.2" y1="468.5" x2="310" y2="468.5" stroke="#222" stroke-width="0.7"/>
<text x="303.7" y="470.85" font-size="6.6" text-anchor="end" font-weight="normal" fill="#1a1a1a"  stroke="#1a1a1a" stroke-width="0.16">100</text>
<line x1="307.2" y1="456.1" x2="310" y2="456.1" stroke="#222" stroke-width="0.7"/>
<text x="303.7" y="458.45" font-size="6.6" text-anchor="end" font-weight="normal" fill="#1a1a1a"  stroke="#1a1a1a" stroke-width="0.16">150</text>
<line x1="307.2" y1="443.7" x2="310" y2="443.7" stroke="#222" stroke-width="0.7"/>
<text x="303.7" y="446.05" font-size="6.6" text-anchor="end" font-weight="normal" fill="#1a1a1a"  stroke="#1a1a1a" stroke-width="0.16">200</text>
<line x1="308.6" y1="493.3" x2="310" y2="493.3" stroke="#222" stroke-width="0.6"/>
<line x1="308.6" y1="490.82" x2="310" y2="490.82" stroke="#222" stroke-width="0.6"/>
<line x1="308.6" y1="488.34" x2="310" y2="488.34" stroke="#222" stroke-width="0.6"/>
<line x1="308.6" y1="485.86" x2="310" y2="485.86" stroke="#222" stroke-width="0.6"/>
<line x1="308.6" y1="483.38" x2="310" y2="483.38" stroke="#222" stroke-width="0.6"/>
<line x1="308.6" y1="480.9" x2="310" y2="480.9" stroke="#222" stroke-width="0.6"/>
<line x1="308.6" y1="478.42" x2="310" y2="478.42" stroke="#222" stroke-width="0.6"/>
<line x1="308.6" y1="475.94" x2="310" y2="475.94" stroke="#222" stroke-width="0.6"/>
<line x1="308.6" y1="473.46" x2="310" y2="473.46" stroke="#222" stroke-width="0.6"/>
<line x1="308.6" y1="470.98" x2="310" y2="470.98" stroke="#222" stroke-width="0.6"/>
<line x1="308.6" y1="468.5" x2="310" y2="468.5" stroke="#222" stroke-width="0.6"/>
<line x1="308.6" y1="466.02" x2="310" y2="466.02" stroke="#222" stroke-width="0.6"/>
<line x1="308.6" y1="463.54" x2="310" y2="463.54" stroke="#222" stroke-width="0.6"/>
<line x1="308.6" y1="461.06" x2="310" y2="461.06" stroke="#222" stroke-width="0.6"/>
<line x1="308.6" y1="458.58" x2="310" y2="458.58" stroke="#222" stroke-width="0.6"/>
<line x1="308.6" y1="456.1" x2="310" y2="456.1" stroke="#222" stroke-width="0.6"/>
<line x1="308.6" y1="453.62" x2="310" y2="453.62" stroke="#222" stroke-width="0.6"/>
<line x1="308.6" y1="451.14" x2="310" y2="451.14" stroke="#222" stroke-width="0.6"/>
<line x1="308.6" y1="448.66" x2="310" y2="448.66" stroke="#222" stroke-width="0.6"/>
<line x1="308.6" y1="446.18" x2="310" y2="446.18" stroke="#222" stroke-width="0.6"/>
<line x1="308.6" y1="443.7" x2="310" y2="443.7" stroke="#222" stroke-width="0.6"/>
<line x1="308.6" y1="441.22" x2="310" y2="441.22" stroke="#222" stroke-width="0.6"/>
<line x1="308.6" y1="438.74" x2="310" y2="438.74" stroke="#222" stroke-width="0.6"/>
<line x1="308.6" y1="436.26" x2="310" y2="436.26" stroke="#222" stroke-width="0.6"/>
<line x1="308.6" y1="433.78" x2="310" y2="433.78" stroke="#222" stroke-width="0.6"/>
<line x1="310.4" y1="493.3" x2="310.4" y2="495.3" stroke="#222" stroke-width="0.6"/>
<text x="310" y="504.6" font-size="6.6" text-anchor="middle" font-weight="normal" fill="#1a1a1a"  stroke="#1a1a1a" stroke-width="0.16">10</text>
<text x="313.9" y="502.7" font-size="4.4" text-anchor="start" font-weight="normal" fill="#1a1a1a"  stroke="#1a1a1a" stroke-width="0.05">0</text>
<line x1="314.92" y1="493.3" x2="314.92" y2="494.9" stroke="#222" stroke-width="0.7"/>
<line x1="317.56" y1="493.3" x2="317.56" y2="494.9" stroke="#222" stroke-width="0.7"/>
<line x1="319.43" y1="493.3" x2="319.43" y2="494.9" stroke="#222" stroke-width="0.7"/>
<line x1="320.88" y1="493.3" x2="320.88" y2="494.9" stroke="#222" stroke-width="0.7"/>
<line x1="322.07" y1="493.3" x2="322.07" y2="494.9" stroke="#222" stroke-width="0.7"/>
<line x1="323.08" y1="493.3" x2="323.08" y2="494.9" stroke="#222" stroke-width="0.7"/>
<line x1="323.95" y1="493.3" x2="323.95" y2="494.9" stroke="#222" stroke-width="0.7"/>
<line x1="324.71" y1="493.3" x2="324.71" y2="494.9" stroke="#222" stroke-width="0.7"/>
<line x1="325.4" y1="493.3" x2="325.4" y2="495.3" stroke="#222" stroke-width="0.6"/>
<text x="325" y="504.6" font-size="6.6" text-anchor="middle" font-weight="normal" fill="#1a1a1a"  stroke="#1a1a1a" stroke-width="0.16">10</text>
<text x="328.9" y="502.7" font-size="4.4" text-anchor="start" font-weight="normal" fill="#1a1a1a"  stroke="#1a1a1a" stroke-width="0.05">1</text>
<line x1="329.92" y1="493.3" x2="329.92" y2="494.9" stroke="#222" stroke-width="0.7"/>
<line x1="332.56" y1="493.3" x2="332.56" y2="494.9" stroke="#222" stroke-width="0.7"/>
<line x1="334.43" y1="493.3" x2="334.43" y2="494.9" stroke="#222" stroke-width="0.7"/>
<line x1="335.88" y1="493.3" x2="335.88" y2="494.9" stroke="#222" stroke-width="0.7"/>
<line x1="337.07" y1="493.3" x2="337.07" y2="494.9" stroke="#222" stroke-width="0.7"/>
<line x1="338.08" y1="493.3" x2="338.08" y2="494.9" stroke="#222" stroke-width="0.7"/>
<line x1="338.95" y1="493.3" x2="338.95" y2="494.9" stroke="#222" stroke-width="0.7"/>
<line x1="339.71" y1="493.3" x2="339.71" y2="494.9" stroke="#222" stroke-width="0.7"/>
<line x1="340.4" y1="493.3" x2="340.4" y2="495.3" stroke="#222" stroke-width="0.6"/>
<text x="340" y="504.6" font-size="6.6" text-anchor="middle" font-weight="normal" fill="#1a1a1a"  stroke="#1a1a1a" stroke-width="0.16">10</text>
<text x="343.9" y="502.7" font-size="4.4" text-anchor="start" font-weight="normal" fill="#1a1a1a"  stroke="#1a1a1a" stroke-width="0.05">2</text>
<line x1="344.92" y1="493.3" x2="344.92" y2="494.9" stroke="#222" stroke-width="0.7"/>
<line x1="347.56" y1="493.3" x2="347.56" y2="494.9" stroke="#222" stroke-width="0.7"/>
<line x1="349.43" y1="493.3" x2="349.43" y2="494.9" stroke="#222" stroke-width="0.7"/>
<line x1="350.88" y1="493.3" x2="350.88" y2="494.9" stroke="#222" stroke-width="0.7"/>
<line x1="352.07" y1="493.3" x2="352.07" y2="494.9" stroke="#222" stroke-width="0.7"/>
<line x1="353.08" y1="493.3" x2="353.08" y2="494.9" stroke="#222" stroke-width="0.7"/>
<line x1="353.95" y1="493.3" x2="353.95" y2="494.9" stroke="#222" stroke-width="0.7"/>
<line x1="354.71" y1="493.3" x2="354.71" y2="494.9" stroke="#222" stroke-width="0.7"/>
<line x1="355.4" y1="493.3" x2="355.4" y2="495.3" stroke="#222" stroke-width="0.6"/>
<text x="355" y="504.6" font-size="6.6" text-anchor="middle" font-weight="normal" fill="#1a1a1a"  stroke="#1a1a1a" stroke-width="0.16">10</text>
<text x="358.9" y="502.7" font-size="4.4" text-anchor="start" font-weight="normal" fill="#1a1a1a"  stroke="#1a1a1a" stroke-width="0.05">3</text>
<line x1="359.92" y1="493.3" x2="359.92" y2="494.9" stroke="#222" stroke-width="0.7"/>
<line x1="362.56" y1="493.3" x2="362.56" y2="494.9" stroke="#222" stroke-width="0.7"/>
<line x1="364.43" y1="493.3" x2="364.43" y2="494.9" stroke="#222" stroke-width="0.7"/>
<line x1="365.88" y1="493.3" x2="365.88" y2="494.9" stroke="#222" stroke-width="0.7"/>
<line x1="367.07" y1="493.3" x2="367.07" y2="494.9" stroke="#222" stroke-width="0.7"/>
<line x1="368.08" y1="493.3" x2="368.08" y2="494.9" stroke="#222" stroke-width="0.7"/>
<line x1="368.95" y1="493.3" x2="368.95" y2="494.9" stroke="#222" stroke-width="0.7"/>
<line x1="369.71" y1="493.3" x2="369.71" y2="494.9" stroke="#222" stroke-width="0.7"/>
<line x1="370.4" y1="493.3" x2="370.4" y2="495.3" stroke="#222" stroke-width="0.6"/>
<text x="370" y="504.6" font-size="6.6" text-anchor="middle" font-weight="normal" fill="#1a1a1a"  stroke="#1a1a1a" stroke-width="0.16">10</text>
<text x="373.9" y="502.7" font-size="4.4" text-anchor="start" font-weight="normal" fill="#1a1a1a"  stroke="#1a1a1a" stroke-width="0.05">4</text>
<text x="288" y="527.7" font-size="11.2" text-anchor="start" font-weight="bold" fill="#111"  stroke="#111" stroke-width="0.16">K</text>
<text x="340.5" y="527.7" font-size="8.2" text-anchor="middle" font-weight="normal" fill="#222"  stroke="#222" stroke-width="0.16">OCI-AML2</text>
<path d="M310 594.2 V533.3 H371 V594.2" fill="none" stroke="#111" stroke-width="1.1"/>
<line x1="310" y1="594.2" x2="371" y2="594.2" stroke="#111" stroke-width="1.1"/>
<path d="M310.6 594.1L311.1 594.1L311.6 594.1L312.2 594.1L312.7 594.1L313.3 594.1L313.8 594.1L314.4 594.1L314.9 594.1L315.5 594L316 593.8L316.6 593.3L317.1 592.3L317.7 590.4L318.2 587.2L318.8 582.1L319.3 575.1L319.9 566.4L320.4 556.9L321 548.1L321.5 541.9L322.1 539.6L322.6 542.3L323.2 549.7L323.7 559.9L324.3 570.3L324.8 579.2L325.4 585.7L325.9 589.8L326.5 592.1L327 593.3L327.6 593.8L328.1 594L328.7 594.1L329.2 594.1L329.8 594.1L330.3 594.1L330.9 594.1L331.4 594.1L332 594.1L332.5 594.1L333.1 594.1L333.6 594.1L334.2 594.1L334.7 594.1L335.3 594.1L335.8 594.1L336.4 594.1L336.9 594.1L337.5 594.1L338 594.1L338.6 594.1L339.1 594.1L339.7 594.1L340.2 594.1L340.8 594.1L341.3 594.1L341.9 594.1L342.4 594.1L343 594.1L343.5 594.1L344.1 594.1L344.6 594.1L345.2 594.1L345.7 594.1L346.3 594.1L346.8 594.1L347.4 594.1L347.9 594.1L348.5 594.1L349 594.1L349.6 594.1L350.1 594.1L350.7 594.1L351.2 594.1L351.8 594.1L352.3 594.1L352.9 594.1L353.4 594.1L354 594.1L354.5 594.1L355.1 594.1L355.6 594.1L356.2 594.1L356.7 594.1L357.3 594.1L357.8 594.1L358.4 594.1L358.9 594.1L359.5 594.1L360 594.1L360.6 594.1L361.1 594.1L361.7 594.1L362.2 594.1L362.8 594.1L363.3 594.1L363.9 594.1L364.4 594.1L365 594.1L365.5 594.1L366.1 594.1L366.6 594.1L367.2 594.1L367.7 594.1L368.3 594.1L368.8 594.1L369.4 594.1L369.9 594.1L370.4 594.1L370.45 594.2L310.55 594.2Z" fill="#c9cacd" stroke="none"/>
<path d="M310.6 594.1L311.1 594.1L311.6 594.1L312.2 594.1L312.7 594.1L313.3 594.1L313.8 594.1L314.4 594.1L314.9 594.1L315.5 594L316 593.8L316.6 593.3L317.1 592.3L317.7 590.4L318.2 587.2L318.8 582.1L319.3 575.1L319.9 566.4L320.4 556.9L321 548.1L321.5 541.9L322.1 539.6L322.6 542.3L323.2 549.7L323.7 559.9L324.3 570.3L324.8 579.2L325.4 585.7L325.9 589.8L326.5 592.1L327 593.3L327.6 593.8L328.1 594L328.7 594.1L329.2 594.1L329.8 594.1L330.3 594.1L330.9 594.1L331.4 594.1L332 594.1L332.5 594.1L333.1 594.1L333.6 594.1L334.2 594.1L334.7 594.1L335.3 594.1L335.8 594.1L336.4 594.1L336.9 594.1L337.5 594.1L338 594.1L338.6 594.1L339.1 594.1L339.7 594.1L340.2 594.1L340.8 594.1L341.3 594.1L341.9 594.1L342.4 594.1L343 594.1L343.5 594.1L344.1 594.1L344.6 594.1L345.2 594.1L345.7 594.1L346.3 594.1L346.8 594.1L347.4 594.1L347.9 594.1L348.5 594.1L349 594.1L349.6 594.1L350.1 594.1L350.7 594.1L351.2 594.1L351.8 594.1L352.3 594.1L352.9 594.1L353.4 594.1L354 594.1L354.5 594.1L355.1 594.1L355.6 594.1L356.2 594.1L356.7 594.1L357.3 594.1L357.8 594.1L358.4 594.1L358.9 594.1L359.5 594.1L360 594.1L360.6 594.1L361.1 594.1L361.7 594.1L362.2 594.1L362.8 594.1L363.3 594.1L363.9 594.1L364.4 594.1L365 594.1L365.5 594.1L366.1 594.1L366.6 594.1L367.2 594.1L367.7 594.1L368.3 594.1L368.8 594.1L369.4 594.1L369.9 594.1L370.4 594.1" fill="none" stroke="#8e8f96" stroke-width="0.6" stroke-linejoin="round"/>
<path d="M310.6 594.1L311.1 594.1L311.6 594.1L312.2 594.1L312.7 594.1L313.3 594.1L313.8 594.1L314.4 594.1L314.9 594.1L315.5 594.1L316 594.1L316.6 594.1L317.1 594.1L317.7 594.1L318.2 594.1L318.8 594.1L319.3 594.1L319.9 594.1L320.4 594.1L321 594.1L321.5 594.1L322.1 594.1L322.6 594.1L323.2 594.1L323.7 594.1L324.3 594.1L324.8 594.1L325.4 594.1L325.9 594.1L326.5 594.1L327 594.1L327.6 594.1L328.1 594.1L328.7 594.1L329.2 594.1L329.8 594.1L330.3 594.1L330.9 594.1L331.4 594.1L332 594.1L332.5 594.1L333.1 594.1L333.6 594.1L334.2 594.1L334.7 594.1L335.3 594.1L335.8 594.1L336.4 594.1L336.9 594.1L337.5 594.1L338 594.1L338.6 594.1L339.1 594.1L339.7 594.1L340.2 594.1L340.8 594.1L341.3 594.1L341.9 594.1L342.4 594.1L343 594.1L343.5 594.1L344.1 594.1L344.6 594.1L345.2 594.1L345.7 594.1L346.3 594L346.8 593.9L347.4 593.6L347.9 593L348.5 591.7L349 589.3L349.6 585.4L350.1 579.6L350.7 571.8L351.2 562.7L351.8 553.3L352.3 545.5L352.9 540.7L353.4 540.3L354 545.1L354.5 553.9L355.1 564.4L355.6 574.3L356.2 582.2L356.7 587.7L357.3 591L357.8 592.7L358.4 593.6L358.9 593.9L359.5 594L360 594.1L360.6 594.1L361.1 594.1L361.7 594.1L362.2 594.1L362.8 594.1L363.3 594.1L363.9 594.1L364.4 594.1L365 594.1L365.5 594.1L366.1 594.1L366.6 594.1L367.2 594.1L367.7 594.1L368.3 594.1L368.8 594.1L369.4 594.1L369.9 594.1L370.4 594.1L370.45 594.2L310.55 594.2Z" fill="rgba(70,100,160,0.32)" stroke="none"/>
<path d="M310.6 594.1L311.1 594.1L311.6 594.1L312.2 594.1L312.7 594.1L313.3 594.1L313.8 594.1L314.4 594.1L314.9 594.1L315.5 594.1L316 594.1L316.6 594.1L317.1 594.1L317.7 594.1L318.2 594.1L318.8 594.1L319.3 594.1L319.9 594.1L320.4 594.1L321 594.1L321.5 594.1L322.1 594.1L322.6 594.1L323.2 594.1L323.7 594.1L324.3 594.1L324.8 594.1L325.4 594.1L325.9 594.1L326.5 594.1L327 594.1L327.6 594.1L328.1 594.1L328.7 594.1L329.2 594.1L329.8 594.1L330.3 594.1L330.9 594.1L331.4 594.1L332 594.1L332.5 594.1L333.1 594.1L333.6 594.1L334.2 594.1L334.7 594.1L335.3 594.1L335.8 594.1L336.4 594.1L336.9 594.1L337.5 594.1L338 594.1L338.6 594.1L339.1 594.1L339.7 594.1L340.2 594.1L340.8 594.1L341.3 594.1L341.9 594.1L342.4 594.1L343 594.1L343.5 594.1L344.1 594.1L344.6 594.1L345.2 594.1L345.7 594.1L346.3 594L346.8 593.9L347.4 593.6L347.9 593L348.5 591.7L349 589.3L349.6 585.4L350.1 579.6L350.7 571.8L351.2 562.7L351.8 553.3L352.3 545.5L352.9 540.7L353.4 540.3L354 545.1L354.5 553.9L355.1 564.4L355.6 574.3L356.2 582.2L356.7 587.7L357.3 591L357.8 592.7L358.4 593.6L358.9 593.9L359.5 594L360 594.1L360.6 594.1L361.1 594.1L361.7 594.1L362.2 594.1L362.8 594.1L363.3 594.1L363.9 594.1L364.4 594.1L365 594.1L365.5 594.1L366.1 594.1L366.6 594.1L367.2 594.1L367.7 594.1L368.3 594.1L368.8 594.1L369.4 594.1L369.9 594.1L370.4 594.1" fill="none" stroke="#2d4b8e" stroke-width="0.9" stroke-linejoin="round"/>
<path d="M310.6 594.1L311.1 594.1L311.6 594.1L312.2 594.1L312.7 594.1L313.3 594.1L313.8 594.1L314.4 594.1L314.9 594.1L315.5 594.1L316 594.1L316.6 594.1L317.1 594.1L317.7 594.1L318.2 594.1L318.8 594.1L319.3 594.1L319.9 594.1L320.4 594.1L321 594.1L321.5 594.1L322.1 594.1L322.6 594.1L323.2 594.1L323.7 594.1L324.3 594.1L324.8 594.1L325.4 594.1L325.9 594.1L326.5 594.1L327 594.1L327.6 594.1L328.1 594.1L328.7 594.1L329.2 594.1L329.8 594.1L330.3 594.1L330.9 594.1L331.4 594.1L332 594.1L332.5 594.1L333.1 594.1L333.6 594.1L334.2 594.1L334.7 594.1L335.3 594.1L335.8 594.1L336.4 594.1L336.9 594.1L337.5 594.1L338 594.1L338.6 594.1L339.1 594.1L339.7 594.1L340.2 594.1L340.8 594.1L341.3 594.1L341.9 594.1L342.4 594.1L343 594.1L343.5 594.1L344.1 594.1L344.6 594.1L345.2 594.1L345.7 594L346.3 593.9L346.8 593.7L347.4 593.2L347.9 592L348.5 590L349 586.4L349.6 581L350.1 573.5L350.7 564.4L351.2 554.8L351.8 546.1L352.3 540.2L352.9 538.4L353.4 541.9L354 550L354.5 560.6L355.1 571.1L355.6 579.9L356.2 586.2L356.7 590.2L357.3 592.3L357.8 593.4L358.4 593.8L358.9 594L359.5 594.1L360 594.1L360.6 594.1L361.1 594.1L361.7 594.1L362.2 594.1L362.8 594.1L363.3 594.1L363.9 594.1L364.4 594.1L365 594.1L365.5 594.1L366.1 594.1L366.6 594.1L367.2 594.1L367.7 594.1L368.3 594.1L368.8 594.1L369.4 594.1L369.9 594.1L370.4 594.1L370.45 594.2L310.55 594.2Z" fill="rgba(200,35,75,0.37)" stroke="none"/>
<path d="M310.6 594.1L311.1 594.1L311.6 594.1L312.2 594.1L312.7 594.1L313.3 594.1L313.8 594.1L314.4 594.1L314.9 594.1L315.5 594.1L316 594.1L316.6 594.1L317.1 594.1L317.7 594.1L318.2 594.1L318.8 594.1L319.3 594.1L319.9 594.1L320.4 594.1L321 594.1L321.5 594.1L322.1 594.1L322.6 594.1L323.2 594.1L323.7 594.1L324.3 594.1L324.8 594.1L325.4 594.1L325.9 594.1L326.5 594.1L327 594.1L327.6 594.1L328.1 594.1L328.7 594.1L329.2 594.1L329.8 594.1L330.3 594.1L330.9 594.1L331.4 594.1L332 594.1L332.5 594.1L333.1 594.1L333.6 594.1L334.2 594.1L334.7 594.1L335.3 594.1L335.8 594.1L336.4 594.1L336.9 594.1L337.5 594.1L338 594.1L338.6 594.1L339.1 594.1L339.7 594.1L340.2 594.1L340.8 594.1L341.3 594.1L341.9 594.1L342.4 594.1L343 594.1L343.5 594.1L344.1 594.1L344.6 594.1L345.2 594.1L345.7 594L346.3 593.9L346.8 593.7L347.4 593.2L347.9 592L348.5 590L349 586.4L349.6 581L350.1 573.5L350.7 564.4L351.2 554.8L351.8 546.1L352.3 540.2L352.9 538.4L353.4 541.9L354 550L354.5 560.6L355.1 571.1L355.6 579.9L356.2 586.2L356.7 590.2L357.3 592.3L357.8 593.4L358.4 593.8L358.9 594L359.5 594.1L360 594.1L360.6 594.1L361.1 594.1L361.7 594.1L362.2 594.1L362.8 594.1L363.3 594.1L363.9 594.1L364.4 594.1L365 594.1L365.5 594.1L366.1 594.1L366.6 594.1L367.2 594.1L367.7 594.1L368.3 594.1L368.8 594.1L369.4 594.1L369.9 594.1L370.4 594.1" fill="none" stroke="#bd1f4c" stroke-width="0.9" stroke-linejoin="round"/>
<line x1="307.2" y1="594.2" x2="310" y2="594.2" stroke="#222" stroke-width="0.7"/>
<text x="303.7" y="596.55" font-size="6.6" text-anchor="end" font-weight="normal" fill="#1a1a1a"  stroke="#1a1a1a" stroke-width="0.16">0</text>
<line x1="307.2" y1="577.6" x2="310" y2="577.6" stroke="#222" stroke-width="0.7"/>
<text x="303.7" y="579.95" font-size="6.6" text-anchor="end" font-weight="normal" fill="#1a1a1a"  stroke="#1a1a1a" stroke-width="0.16">100</text>
<line x1="307.2" y1="561" x2="310" y2="561" stroke="#222" stroke-width="0.7"/>
<text x="303.7" y="563.35" font-size="6.6" text-anchor="end" font-weight="normal" fill="#1a1a1a"  stroke="#1a1a1a" stroke-width="0.16">200</text>
<line x1="307.2" y1="544.4" x2="310" y2="544.4" stroke="#222" stroke-width="0.7"/>
<text x="303.7" y="546.75" font-size="6.6" text-anchor="end" font-weight="normal" fill="#1a1a1a"  stroke="#1a1a1a" stroke-width="0.16">300</text>
<line x1="308.6" y1="594.2" x2="310" y2="594.2" stroke="#222" stroke-width="0.6"/>
<line x1="308.6" y1="590.88" x2="310" y2="590.88" stroke="#222" stroke-width="0.6"/>
<line x1="308.6" y1="587.56" x2="310" y2="587.56" stroke="#222" stroke-width="0.6"/>
<line x1="308.6" y1="584.24" x2="310" y2="584.24" stroke="#222" stroke-width="0.6"/>
<line x1="308.6" y1="580.92" x2="310" y2="580.92" stroke="#222" stroke-width="0.6"/>
<line x1="308.6" y1="577.6" x2="310" y2="577.6" stroke="#222" stroke-width="0.6"/>
<line x1="308.6" y1="574.28" x2="310" y2="574.28" stroke="#222" stroke-width="0.6"/>
<line x1="308.6" y1="570.96" x2="310" y2="570.96" stroke="#222" stroke-width="0.6"/>
<line x1="308.6" y1="567.64" x2="310" y2="567.64" stroke="#222" stroke-width="0.6"/>
<line x1="308.6" y1="564.32" x2="310" y2="564.32" stroke="#222" stroke-width="0.6"/>
<line x1="308.6" y1="561" x2="310" y2="561" stroke="#222" stroke-width="0.6"/>
<line x1="308.6" y1="557.68" x2="310" y2="557.68" stroke="#222" stroke-width="0.6"/>
<line x1="308.6" y1="554.36" x2="310" y2="554.36" stroke="#222" stroke-width="0.6"/>
<line x1="308.6" y1="551.04" x2="310" y2="551.04" stroke="#222" stroke-width="0.6"/>
<line x1="308.6" y1="547.72" x2="310" y2="547.72" stroke="#222" stroke-width="0.6"/>
<line x1="308.6" y1="544.4" x2="310" y2="544.4" stroke="#222" stroke-width="0.6"/>
<line x1="308.6" y1="541.08" x2="310" y2="541.08" stroke="#222" stroke-width="0.6"/>
<line x1="308.6" y1="537.76" x2="310" y2="537.76" stroke="#222" stroke-width="0.6"/>
<line x1="308.6" y1="534.44" x2="310" y2="534.44" stroke="#222" stroke-width="0.6"/>
<line x1="310.4" y1="594.2" x2="310.4" y2="596.2" stroke="#222" stroke-width="0.6"/>
<text x="310" y="605.5" font-size="6.6" text-anchor="middle" font-weight="normal" fill="#1a1a1a"  stroke="#1a1a1a" stroke-width="0.16">10</text>
<text x="313.9" y="603.6" font-size="4.4" text-anchor="start" font-weight="normal" fill="#1a1a1a"  stroke="#1a1a1a" stroke-width="0.05">0</text>
<line x1="314.92" y1="594.2" x2="314.92" y2="595.8" stroke="#222" stroke-width="0.7"/>
<line x1="317.56" y1="594.2" x2="317.56" y2="595.8" stroke="#222" stroke-width="0.7"/>
<line x1="319.43" y1="594.2" x2="319.43" y2="595.8" stroke="#222" stroke-width="0.7"/>
<line x1="320.88" y1="594.2" x2="320.88" y2="595.8" stroke="#222" stroke-width="0.7"/>
<line x1="322.07" y1="594.2" x2="322.07" y2="595.8" stroke="#222" stroke-width="0.7"/>
<line x1="323.08" y1="594.2" x2="323.08" y2="595.8" stroke="#222" stroke-width="0.7"/>
<line x1="323.95" y1="594.2" x2="323.95" y2="595.8" stroke="#222" stroke-width="0.7"/>
<line x1="324.71" y1="594.2" x2="324.71" y2="595.8" stroke="#222" stroke-width="0.7"/>
<line x1="325.4" y1="594.2" x2="325.4" y2="596.2" stroke="#222" stroke-width="0.6"/>
<text x="325" y="605.5" font-size="6.6" text-anchor="middle" font-weight="normal" fill="#1a1a1a"  stroke="#1a1a1a" stroke-width="0.16">10</text>
<text x="328.9" y="603.6" font-size="4.4" text-anchor="start" font-weight="normal" fill="#1a1a1a"  stroke="#1a1a1a" stroke-width="0.05">1</text>
<line x1="329.92" y1="594.2" x2="329.92" y2="595.8" stroke="#222" stroke-width="0.7"/>
<line x1="332.56" y1="594.2" x2="332.56" y2="595.8" stroke="#222" stroke-width="0.7"/>
<line x1="334.43" y1="594.2" x2="334.43" y2="595.8" stroke="#222" stroke-width="0.7"/>
<line x1="335.88" y1="594.2" x2="335.88" y2="595.8" stroke="#222" stroke-width="0.7"/>
<line x1="337.07" y1="594.2" x2="337.07" y2="595.8" stroke="#222" stroke-width="0.7"/>
<line x1="338.08" y1="594.2" x2="338.08" y2="595.8" stroke="#222" stroke-width="0.7"/>
<line x1="338.95" y1="594.2" x2="338.95" y2="595.8" stroke="#222" stroke-width="0.7"/>
<line x1="339.71" y1="594.2" x2="339.71" y2="595.8" stroke="#222" stroke-width="0.7"/>
<line x1="340.4" y1="594.2" x2="340.4" y2="596.2" stroke="#222" stroke-width="0.6"/>
<text x="340" y="605.5" font-size="6.6" text-anchor="middle" font-weight="normal" fill="#1a1a1a"  stroke="#1a1a1a" stroke-width="0.16">10</text>
<text x="343.9" y="603.6" font-size="4.4" text-anchor="start" font-weight="normal" fill="#1a1a1a"  stroke="#1a1a1a" stroke-width="0.05">2</text>
<line x1="344.92" y1="594.2" x2="344.92" y2="595.8" stroke="#222" stroke-width="0.7"/>
<line x1="347.56" y1="594.2" x2="347.56" y2="595.8" stroke="#222" stroke-width="0.7"/>
<line x1="349.43" y1="594.2" x2="349.43" y2="595.8" stroke="#222" stroke-width="0.7"/>
<line x1="350.88" y1="594.2" x2="350.88" y2="595.8" stroke="#222" stroke-width="0.7"/>
<line x1="352.07" y1="594.2" x2="352.07" y2="595.8" stroke="#222" stroke-width="0.7"/>
<line x1="353.08" y1="594.2" x2="353.08" y2="595.8" stroke="#222" stroke-width="0.7"/>
<line x1="353.95" y1="594.2" x2="353.95" y2="595.8" stroke="#222" stroke-width="0.7"/>
<line x1="354.71" y1="594.2" x2="354.71" y2="595.8" stroke="#222" stroke-width="0.7"/>
<line x1="355.4" y1="594.2" x2="355.4" y2="596.2" stroke="#222" stroke-width="0.6"/>
<text x="355" y="605.5" font-size="6.6" text-anchor="middle" font-weight="normal" fill="#1a1a1a"  stroke="#1a1a1a" stroke-width="0.16">10</text>
<text x="358.9" y="603.6" font-size="4.4" text-anchor="start" font-weight="normal" fill="#1a1a1a"  stroke="#1a1a1a" stroke-width="0.05">3</text>
<line x1="359.92" y1="594.2" x2="359.92" y2="595.8" stroke="#222" stroke-width="0.7"/>
<line x1="362.56" y1="594.2" x2="362.56" y2="595.8" stroke="#222" stroke-width="0.7"/>
<line x1="364.43" y1="594.2" x2="364.43" y2="595.8" stroke="#222" stroke-width="0.7"/>
<line x1="365.88" y1="594.2" x2="365.88" y2="595.8" stroke="#222" stroke-width="0.7"/>
<line x1="367.07" y1="594.2" x2="367.07" y2="595.8" stroke="#222" stroke-width="0.7"/>
<line x1="368.08" y1="594.2" x2="368.08" y2="595.8" stroke="#222" stroke-width="0.7"/>
<line x1="368.95" y1="594.2" x2="368.95" y2="595.8" stroke="#222" stroke-width="0.7"/>
<line x1="369.71" y1="594.2" x2="369.71" y2="595.8" stroke="#222" stroke-width="0.7"/>
<line x1="370.4" y1="594.2" x2="370.4" y2="596.2" stroke="#222" stroke-width="0.6"/>
<text x="370" y="605.5" font-size="6.6" text-anchor="middle" font-weight="normal" fill="#1a1a1a"  stroke="#1a1a1a" stroke-width="0.16">10</text>
<text x="373.9" y="603.6" font-size="4.4" text-anchor="start" font-weight="normal" fill="#1a1a1a"  stroke="#1a1a1a" stroke-width="0.05">4</text>
<path d="M161.4 258.1 V320.3 H253.65" fill="none" stroke="#111" stroke-width="1.1"/>
<line x1="158.1" y1="320.3" x2="161.4" y2="320.3" stroke="#111" stroke-width="1.0"/>
<text x="155.4" y="322.65" font-size="6.6" text-anchor="end" font-weight="normal" fill="#1a1a1a"  stroke="#1a1a1a" stroke-width="0.16">0</text>
<line x1="158.1" y1="308.36" x2="161.4" y2="308.36" stroke="#111" stroke-width="1.0"/>
<text x="155.4" y="310.71" font-size="6.6" text-anchor="end" font-weight="normal" fill="#1a1a1a"  stroke="#1a1a1a" stroke-width="0.16">20</text>
<line x1="158.1" y1="296.42" x2="161.4" y2="296.42" stroke="#111" stroke-width="1.0"/>
<text x="155.4" y="298.77" font-size="6.6" text-anchor="end" font-weight="normal" fill="#1a1a1a"  stroke="#1a1a1a" stroke-width="0.16">40</text>
<line x1="158.1" y1="284.48" x2="161.4" y2="284.48" stroke="#111" stroke-width="1.0"/>
<text x="155.4" y="286.83" font-size="6.6" text-anchor="end" font-weight="normal" fill="#1a1a1a"  stroke="#1a1a1a" stroke-width="0.16">60</text>
<line x1="158.1" y1="272.54" x2="161.4" y2="272.54" stroke="#111" stroke-width="1.0"/>
<text x="155.4" y="274.89" font-size="6.6" text-anchor="end" font-weight="normal" fill="#1a1a1a"  stroke="#1a1a1a" stroke-width="0.16">80</text>
<line x1="158.1" y1="260.6" x2="161.4" y2="260.6" stroke="#111" stroke-width="1.0"/>
<text x="155.4" y="262.95" font-size="6.6" text-anchor="end" font-weight="normal" fill="#1a1a1a"  stroke="#1a1a1a" stroke-width="0.16">100</text>
<line x1="169.9" y1="320.3" x2="169.9" y2="323.5" stroke="#111" stroke-width="1.0"/>
<text x="169.9" y="332.4" font-size="6.6" text-anchor="middle" font-weight="normal" fill="#1a1a1a"  stroke="#1a1a1a" stroke-width="0.16">-3</text>
<line x1="186.15" y1="320.3" x2="186.15" y2="323.5" stroke="#111" stroke-width="1.0"/>
<text x="186.15" y="332.4" font-size="6.6" text-anchor="middle" font-weight="normal" fill="#1a1a1a"  stroke="#1a1a1a" stroke-width="0.16">-2</text>
<line x1="202.4" y1="320.3" x2="202.4" y2="323.5" stroke="#111" stroke-width="1.0"/>
<text x="202.4" y="332.4" font-size="6.6" text-anchor="middle" font-weight="normal" fill="#1a1a1a"  stroke="#1a1a1a" stroke-width="0.16">-1</text>
<line x1="218.65" y1="320.3" x2="218.65" y2="323.5" stroke="#111" stroke-width="1.0"/>
<text x="218.65" y="332.4" font-size="6.6" text-anchor="middle" font-weight="normal" fill="#1a1a1a"  stroke="#1a1a1a" stroke-width="0.16">0</text>
<line x1="234.9" y1="320.3" x2="234.9" y2="323.5" stroke="#111" stroke-width="1.0"/>
<text x="234.9" y="332.4" font-size="6.6" text-anchor="middle" font-weight="normal" fill="#1a1a1a"  stroke="#1a1a1a" stroke-width="0.16">1</text>
<line x1="251.15" y1="320.3" x2="251.15" y2="323.5" stroke="#111" stroke-width="1.0"/>
<text x="251.15" y="332.4" font-size="6.6" text-anchor="middle" font-weight="normal" fill="#1a1a1a"  stroke="#1a1a1a" stroke-width="0.16">2</text>
<text font-size="8.7" fill="#1a1a1a" stroke="#1a1a1a" stroke-width="0.1" transform="translate(138.7,289.25) rotate(-90)" text-anchor="middle" textLength="63.5" lengthAdjust="spacingAndGlyphs">% cell survival (AxV/PI<tspan font-size="5" dy="-2.8">−</tspan><tspan dy="2.8">)</tspan></text>
<text x="188.91" y="343.7" font-size="8.2" fill="#151515" stroke="#151515" stroke-width="0.28" textLength="38" lengthAdjust="spacingAndGlyphs">Bir log<tspan font-size="4.8" dy="2">10</tspan><tspan dy="-2"> (µM)</tspan></text>
<path d="M169.9 281.7L171 281.7L172.1 281.7L173.2 281.7L174.3 281.7L175.4 281.7L176.5 281.7L177.6 281.7L178.7 281.7L179.8 281.7L180.9 281.8L182 281.8L183.1 281.8L184.2 281.9L185.3 282L186.4 282.1L187.5 282.2L188.6 282.4L189.7 282.6L190.8 282.9L191.9 283.3L193 283.9L194.1 284.6L195.2 285.5L196.3 286.6L197.4 288L198.5 289.7L199.6 291.7L200.7 294L201.8 296.6L203 299.3L204.1 302.1L205.2 304.9L206.3 307.4L207.4 309.8L208.5 311.8L209.6 313.5L210.7 315L211.8 316.1L212.9 317L214 317.7L215.1 318.3L216.2 318.7L217.3 319L218.4 319.3L219.5 319.4L220.6 319.6L221.7 319.7L222.8 319.8L223.9 319.8L225 319.9L226.1 319.9L227.2 319.9L228.3 319.9L229.4 319.9L230.5 320L231.6 320L232.7 320L233.8 320L234.9 320" fill="none" stroke="#8a8ce0" stroke-width="0.9"/>
<path d="M169.9 278.39V284.36M168.7 278.39H171.1M168.7 284.36H171.1" stroke="#8a8ce0" stroke-width="0.6" fill="none"/>
<rect x="168.8" y="280.28" width="2.2" height="2.2" fill="#8a8ce0"/>
<path d="M189.4 274.51V291.23M188.2 274.51H190.6M188.2 291.23H190.6" stroke="#8a8ce0" stroke-width="0.6" fill="none"/>
<rect x="188.3" y="281.77" width="2.2" height="2.2" fill="#8a8ce0"/>
<path d="M200.78 285.08V302.99M199.58 285.08H201.97M199.58 302.99H201.97" stroke="#8a8ce0" stroke-width="0.6" fill="none"/>
<rect x="199.68" y="292.93" width="2.2" height="2.2" fill="#8a8ce0"/>
<path d="M212.15 314.75V318.33M210.95 314.75H213.35M210.95 318.33H213.35" stroke="#8a8ce0" stroke-width="0.6" fill="none"/>
<rect x="211.05" y="315.44" width="2.2" height="2.2" fill="#8a8ce0"/>
<path d="M223.53 319.11V320.3M222.33 319.11H224.72M222.33 320.3H224.72" stroke="#8a8ce0" stroke-width="0.6" fill="none"/>
<rect x="222.43" y="318.6" width="2.2" height="2.2" fill="#8a8ce0"/>
<path d="M234.9 319.4V320.6M233.7 319.4H236.1M233.7 320.6H236.1" stroke="#8a8ce0" stroke-width="0.6" fill="none"/>
<rect x="233.8" y="318.9" width="2.2" height="2.2" fill="#8a8ce0"/>
<text x="213.78" y="318.03" font-size="5.6" font-weight="bold" fill="#8a8ce0" text-anchor="middle">**</text>
<path d="M169.9 277.6L171 277.6L172.1 277.6L173.2 277.6L174.3 277.6L175.4 277.6L176.5 277.6L177.6 277.6L178.7 277.6L179.8 277.6L180.9 277.6L182 277.6L183.1 277.6L184.2 277.6L185.3 277.6L186.4 277.6L187.5 277.6L188.6 277.6L189.7 277.6L190.8 277.6L191.9 277.6L193 277.6L194.1 277.6L195.2 277.6L196.3 277.6L197.4 277.6L198.5 277.6L199.6 277.6L200.7 277.7L201.8 277.7L203 277.7L204.1 277.8L205.2 277.8L206.3 277.9L207.4 278L208.5 278.1L209.6 278.2L210.7 278.3L211.8 278.5L212.9 278.8L214 279L215.1 279.4L216.2 279.8L217.3 280.3L218.4 281L219.5 281.7L220.6 282.6L221.7 283.7L222.8 285L223.9 286.5L225 288.1L226.1 290L227.2 292.1L228.3 294.4L229.4 296.8L230.5 299.2L231.6 301.7L232.7 304.2L233.8 306.6L234.9 308.9" fill="none" stroke="#5aa83c" stroke-width="0.9"/>
<path d="M169.9 274.33V279.11M168.7 274.33H171.1M168.7 279.11H171.1" stroke="#5aa83c" stroke-width="0.6" fill="none"/>
<rect x="168.8" y="275.62" width="2.2" height="2.2" fill="#5aa83c"/>
<path d="M189.4 274.33V280.3M188.2 274.33H190.6M188.2 280.3H190.6" stroke="#5aa83c" stroke-width="0.6" fill="none"/>
<rect x="188.3" y="276.22" width="2.2" height="2.2" fill="#5aa83c"/>
<path d="M200.78 274.51V281.67M199.58 274.51H201.97M199.58 281.67H201.97" stroke="#5aa83c" stroke-width="0.6" fill="none"/>
<rect x="199.68" y="276.99" width="2.2" height="2.2" fill="#5aa83c"/>
<path d="M212.15 275.29V283.64M210.95 275.29H213.35M210.95 283.64H213.35" stroke="#5aa83c" stroke-width="0.6" fill="none"/>
<rect x="211.05" y="278.37" width="2.2" height="2.2" fill="#5aa83c"/>
<path d="M223.53 278.51V292.84M222.33 278.51H224.72M222.33 292.84H224.72" stroke="#5aa83c" stroke-width="0.6" fill="none"/>
<rect x="222.43" y="284.57" width="2.2" height="2.2" fill="#5aa83c"/>
<path d="M234.9 304.18V313.73M233.7 304.18H236.1M233.7 313.73H236.1" stroke="#5aa83c" stroke-width="0.6" fill="none"/>
<rect x="233.8" y="307.86" width="2.2" height="2.2" fill="#5aa83c"/>
<path d="M169.9 272.7L171 272.7L172.1 272.7L173.2 272.7L174.3 272.7L175.4 272.7L176.5 272.7L177.6 272.7L178.7 272.8L179.8 272.8L180.9 272.8L182 272.9L183.1 272.9L184.2 273L185.3 273.1L186.4 273.2L187.5 273.3L188.6 273.4L189.7 273.6L190.8 273.8L191.9 274.1L193 274.4L194.1 274.9L195.2 275.4L196.3 276L197.4 276.7L198.5 277.6L199.6 278.6L200.7 279.8L201.8 281.2L203 282.8L204.1 284.6L205.2 286.5L206.3 288.6L207.4 290.8L208.5 293.1L209.6 295.3L210.7 297.5L211.8 299.6L212.9 301.6L214 303.4L215.1 305L216.2 306.4L217.3 307.7L218.4 308.7L219.5 309.6L220.6 310.4L221.7 311L222.8 311.5L223.9 311.9L225 312.3L226.1 312.6L227.2 312.8L228.3 313L229.4 313.1L230.5 313.3L231.6 313.4L232.7 313.5L233.8 313.5L234.9 313.6" fill="none" stroke="#b5103c" stroke-width="0.9"/>
<path d="M169.9 270.75V274.33M168.7 270.75H171.1M168.7 274.33H171.1" stroke="#b5103c" stroke-width="0.6" fill="none"/>
<rect x="168.8" y="271.44" width="2.2" height="2.2" fill="#b5103c"/>
<path d="M189.4 271.76V275.35M188.2 271.76H190.6M188.2 275.35H190.6" stroke="#b5103c" stroke-width="0.6" fill="none"/>
<rect x="188.3" y="272.45" width="2.2" height="2.2" fill="#b5103c"/>
<path d="M200.78 276.54V283.7M199.58 276.54H201.97M199.58 283.7H201.97" stroke="#b5103c" stroke-width="0.6" fill="none"/>
<rect x="199.68" y="279.02" width="2.2" height="2.2" fill="#b5103c"/>
<path d="M212.15 292.24V307.76M210.95 292.24H213.35M210.95 307.76H213.35" stroke="#b5103c" stroke-width="0.6" fill="none"/>
<rect x="211.05" y="298.9" width="2.2" height="2.2" fill="#b5103c"/>
<path d="M223.53 310.99V314.57M222.33 310.99H224.72M222.33 314.57H224.72" stroke="#b5103c" stroke-width="0.6" fill="none"/>
<rect x="222.43" y="311.68" width="2.2" height="2.2" fill="#b5103c"/>
<path d="M234.9 311.64V314.03M233.7 311.64H236.1M233.7 314.03H236.1" stroke="#b5103c" stroke-width="0.6" fill="none"/>
<rect x="233.8" y="311.74" width="2.2" height="2.2" fill="#b5103c"/>
<line x1="234.9" y1="312.84" x2="243.03" y2="312.84" stroke="#b5103c" stroke-width="0.9" stroke-dasharray="1.6 1.2"/>
<text x="226.78" y="312.36" font-size="5.6" font-weight="bold" fill="#b5103c" text-anchor="middle">****</text>
<path d="M169.9 270.9L171 270.9L172.1 270.9L173.2 270.9L174.3 270.9L175.4 270.9L176.5 270.9L177.6 270.9L178.7 270.9L179.8 270.9L180.9 270.9L182 270.9L183.1 270.9L184.2 270.9L185.3 270.9L186.4 270.9L187.5 270.9L188.6 270.9L189.7 270.9L190.8 270.9L191.9 270.9L193 270.9L194.1 270.9L195.2 270.9L196.3 270.9L197.4 270.9L198.5 270.9L199.6 270.9L200.7 270.9L201.8 270.9L203 270.9L204.1 270.9L205.2 270.9L206.3 270.9L207.4 270.9L208.5 270.9L209.6 270.9L210.7 270.9L211.8 270.9L212.9 271L214 271L215.1 271L216.2 271.1L217.3 271.1L218.4 271.2L219.5 271.3L220.6 271.4L221.7 271.6L222.8 271.8L223.9 272.1L225 272.4L226.1 272.8L227.2 273.3L228.3 274L229.4 274.8L230.5 275.9L231.6 277.1L232.7 278.7L233.8 280.5L234.9 282.7" fill="none" stroke="#34405e" stroke-width="0.9"/>
<path d="M169.9 267.76V273.73M168.7 267.76H171.1M168.7 273.73H171.1" stroke="#34405e" stroke-width="0.6" fill="none"/>
<rect x="168.8" y="269.65" width="2.2" height="2.2" fill="#34405e"/>
<path d="M189.4 267.17V274.33M188.2 267.17H190.6M188.2 274.33H190.6" stroke="#34405e" stroke-width="0.6" fill="none"/>
<rect x="188.3" y="269.65" width="2.2" height="2.2" fill="#34405e"/>
<path d="M200.78 268.06V274.03M199.58 268.06H201.97M199.58 274.03H201.97" stroke="#34405e" stroke-width="0.6" fill="none"/>
<rect x="199.68" y="269.95" width="2.2" height="2.2" fill="#34405e"/>
<path d="M212.15 268.06V274.03M210.95 268.06H213.35M210.95 274.03H213.35" stroke="#34405e" stroke-width="0.6" fill="none"/>
<rect x="211.05" y="269.95" width="2.2" height="2.2" fill="#34405e"/>
<path d="M223.53 269.56V274.33M222.33 269.56H224.72M222.33 274.33H224.72" stroke="#34405e" stroke-width="0.6" fill="none"/>
<rect x="222.43" y="270.84" width="2.2" height="2.2" fill="#34405e"/>
<path d="M234.9 276.12V289.26M233.7 276.12H236.1M233.7 289.26H236.1" stroke="#34405e" stroke-width="0.6" fill="none"/>
<rect x="233.8" y="281.59" width="2.2" height="2.2" fill="#34405e"/>
<path d="M161.4 358.75 V421.25 H253.65" fill="none" stroke="#111" stroke-width="1.1"/>
<line x1="158.1" y1="421.25" x2="161.4" y2="421.25" stroke="#111" stroke-width="1.0"/>
<text x="155.4" y="423.6" font-size="6.6" text-anchor="end" font-weight="normal" fill="#1a1a1a"  stroke="#1a1a1a" stroke-width="0.16">0</text>
<line x1="158.1" y1="409.25" x2="161.4" y2="409.25" stroke="#111" stroke-width="1.0"/>
<text x="155.4" y="411.6" font-size="6.6" text-anchor="end" font-weight="normal" fill="#1a1a1a"  stroke="#1a1a1a" stroke-width="0.16">20</text>
<line x1="158.1" y1="397.25" x2="161.4" y2="397.25" stroke="#111" stroke-width="1.0"/>
<text x="155.4" y="399.6" font-size="6.6" text-anchor="end" font-weight="normal" fill="#1a1a1a"  stroke="#1a1a1a" stroke-width="0.16">40</text>
<line x1="158.1" y1="385.25" x2="161.4" y2="385.25" stroke="#111" stroke-width="1.0"/>
<text x="155.4" y="387.6" font-size="6.6" text-anchor="end" font-weight="normal" fill="#1a1a1a"  stroke="#1a1a1a" stroke-width="0.16">60</text>
<line x1="158.1" y1="373.25" x2="161.4" y2="373.25" stroke="#111" stroke-width="1.0"/>
<text x="155.4" y="375.6" font-size="6.6" text-anchor="end" font-weight="normal" fill="#1a1a1a"  stroke="#1a1a1a" stroke-width="0.16">80</text>
<line x1="158.1" y1="361.25" x2="161.4" y2="361.25" stroke="#111" stroke-width="1.0"/>
<text x="155.4" y="363.6" font-size="6.6" text-anchor="end" font-weight="normal" fill="#1a1a1a"  stroke="#1a1a1a" stroke-width="0.16">100</text>
<line x1="169.9" y1="421.25" x2="169.9" y2="424.45" stroke="#111" stroke-width="1.0"/>
<text x="169.9" y="433.35" font-size="6.6" text-anchor="middle" font-weight="normal" fill="#1a1a1a"  stroke="#1a1a1a" stroke-width="0.16">-3</text>
<line x1="186.15" y1="421.25" x2="186.15" y2="424.45" stroke="#111" stroke-width="1.0"/>
<text x="186.15" y="433.35" font-size="6.6" text-anchor="middle" font-weight="normal" fill="#1a1a1a"  stroke="#1a1a1a" stroke-width="0.16">-2</text>
<line x1="202.4" y1="421.25" x2="202.4" y2="424.45" stroke="#111" stroke-width="1.0"/>
<text x="202.4" y="433.35" font-size="6.6" text-anchor="middle" font-weight="normal" fill="#1a1a1a"  stroke="#1a1a1a" stroke-width="0.16">-1</text>
<line x1="218.65" y1="421.25" x2="218.65" y2="424.45" stroke="#111" stroke-width="1.0"/>
<text x="218.65" y="433.35" font-size="6.6" text-anchor="middle" font-weight="normal" fill="#1a1a1a"  stroke="#1a1a1a" stroke-width="0.16">0</text>
<line x1="234.9" y1="421.25" x2="234.9" y2="424.45" stroke="#111" stroke-width="1.0"/>
<text x="234.9" y="433.35" font-size="6.6" text-anchor="middle" font-weight="normal" fill="#1a1a1a"  stroke="#1a1a1a" stroke-width="0.16">1</text>
<line x1="251.15" y1="421.25" x2="251.15" y2="424.45" stroke="#111" stroke-width="1.0"/>
<text x="251.15" y="433.35" font-size="6.6" text-anchor="middle" font-weight="normal" fill="#1a1a1a"  stroke="#1a1a1a" stroke-width="0.16">2</text>
<text font-size="8.7" fill="#1a1a1a" stroke="#1a1a1a" stroke-width="0.1" transform="translate(138.7,390.05) rotate(-90)" text-anchor="middle" textLength="63.5" lengthAdjust="spacingAndGlyphs">% cell survival (AxV/PI<tspan font-size="5" dy="-2.8">−</tspan><tspan dy="2.8">)</tspan></text>
<text x="188.91" y="444.65" font-size="8.2" fill="#151515" stroke="#151515" stroke-width="0.28" textLength="38" lengthAdjust="spacingAndGlyphs">Bir log<tspan font-size="4.8" dy="2">10</tspan><tspan dy="-2"> (µM)</tspan></text>
<path d="M169.9 371.2L171 371.3L172.1 371.3L173.2 371.4L174.3 371.4L175.4 371.5L176.5 371.6L177.6 371.7L178.7 371.9L179.8 372.1L180.9 372.4L182 372.7L183.1 373.1L184.2 373.5L185.3 374.1L186.4 374.8L187.5 375.7L188.6 376.7L189.7 377.9L190.8 379.3L191.9 380.9L193 382.7L194.1 384.7L195.2 386.9L196.3 389.2L197.4 391.6L198.5 394L199.6 396.4L200.7 398.6L201.8 400.7L203 402.7L204.1 404.4L205.2 405.9L206.3 407.2L207.4 408.3L208.5 409.3L209.6 410L210.7 410.7L211.8 411.2L212.9 411.6L214 412L215.1 412.3L216.2 412.5L217.3 412.7L218.4 412.8L219.5 413L220.6 413.1L221.7 413.1L222.8 413.2L223.9 413.2L225 413.3L226.1 413.3L227.2 413.3L228.3 413.4L229.4 413.4L230.5 413.4L231.6 413.4L232.7 413.4L233.8 413.4L234.9 413.4" fill="none" stroke="#8a8ce0" stroke-width="0.9"/>
<path d="M169.9 370.07V372.47M168.7 370.07H171.1M168.7 372.47H171.1" stroke="#8a8ce0" stroke-width="0.6" fill="none"/>
<rect x="168.8" y="370.17" width="2.2" height="2.2" fill="#8a8ce0"/>
<path d="M189.4 376.25V378.65M188.2 376.25H190.6M188.2 378.65H190.6" stroke="#8a8ce0" stroke-width="0.6" fill="none"/>
<rect x="188.3" y="376.35" width="2.2" height="2.2" fill="#8a8ce0"/>
<path d="M200.78 395.75V401.75M199.58 395.75H201.97M199.58 401.75H201.97" stroke="#8a8ce0" stroke-width="0.6" fill="none"/>
<rect x="199.68" y="397.65" width="2.2" height="2.2" fill="#8a8ce0"/>
<path d="M212.15 408.23V414.23M210.95 408.23H213.35M210.95 414.23H213.35" stroke="#8a8ce0" stroke-width="0.6" fill="none"/>
<rect x="211.05" y="410.13" width="2.2" height="2.2" fill="#8a8ce0"/>
<path d="M223.53 410V416M222.33 410H224.72M222.33 416H224.72" stroke="#8a8ce0" stroke-width="0.6" fill="none"/>
<rect x="222.43" y="411.9" width="2.2" height="2.2" fill="#8a8ce0"/>
<path d="M234.9 411.35V416.15M233.7 411.35H236.1M233.7 416.15H236.1" stroke="#8a8ce0" stroke-width="0.6" fill="none"/>
<rect x="233.8" y="412.65" width="2.2" height="2.2" fill="#8a8ce0"/>
<text x="200.78" y="397.65" font-size="5.6" font-weight="bold" fill="#8a8ce0" text-anchor="middle">**</text>
<text x="212.15" y="410.25" font-size="5.6" font-weight="bold" fill="#8a8ce0" text-anchor="middle">***</text>
<text x="223.53" y="412.65" font-size="5.6" font-weight="bold" fill="#8a8ce0" text-anchor="middle">**</text>
<path d="M169.9 370.8L171 370.8L172.1 370.8L173.2 370.8L174.3 370.8L175.4 370.8L176.5 370.8L177.6 370.8L178.7 370.8L179.8 370.8L180.9 370.8L182 370.8L183.1 370.8L184.2 370.8L185.3 370.8L186.4 370.9L187.5 370.9L188.6 370.9L189.7 370.9L190.8 370.9L191.9 370.9L193 370.9L194.1 371L195.2 371L196.3 371L197.4 371.1L198.5 371.1L199.6 371.2L200.7 371.3L201.8 371.4L203 371.5L204.1 371.6L205.2 371.7L206.3 371.9L207.4 372.1L208.5 372.4L209.6 372.6L210.7 372.9L211.8 373.3L212.9 373.8L214 374.3L215.1 374.8L216.2 375.5L217.3 376.3L218.4 377.2L219.5 378.2L220.6 379.3L221.7 380.6L222.8 382L223.9 383.5L225 385.2L226.1 387.1L227.2 389L228.3 391.1L229.4 393.2L230.5 395.4L231.6 397.7L232.7 399.9L233.8 402.1L234.9 404.2" fill="none" stroke="#5aa83c" stroke-width="0.9"/>
<path d="M169.9 369.41V370.61M168.7 369.41H171.1M168.7 370.61H171.1" stroke="#5aa83c" stroke-width="0.6" fill="none"/>
<rect x="168.8" y="368.91" width="2.2" height="2.2" fill="#5aa83c"/>
<path d="M189.4 369.89V371.09M188.2 369.89H190.6M188.2 371.09H190.6" stroke="#5aa83c" stroke-width="0.6" fill="none"/>
<rect x="188.3" y="369.39" width="2.2" height="2.2" fill="#5aa83c"/>
<path d="M200.78 370.85V373.25M199.58 370.85H201.97M199.58 373.25H201.97" stroke="#5aa83c" stroke-width="0.6" fill="none"/>
<rect x="199.68" y="370.95" width="2.2" height="2.2" fill="#5aa83c"/>
<path d="M212.15 373.07V375.47M210.95 373.07H213.35M210.95 375.47H213.35" stroke="#5aa83c" stroke-width="0.6" fill="none"/>
<rect x="211.05" y="373.17" width="2.2" height="2.2" fill="#5aa83c"/>
<path d="M223.53 379.49V385.49M222.33 379.49H224.72M222.33 385.49H224.72" stroke="#5aa83c" stroke-width="0.6" fill="none"/>
<rect x="222.43" y="381.39" width="2.2" height="2.2" fill="#5aa83c"/>
<path d="M234.9 399.65V409.25M233.7 399.65H236.1M233.7 409.25H236.1" stroke="#5aa83c" stroke-width="0.6" fill="none"/>
<rect x="233.8" y="403.35" width="2.2" height="2.2" fill="#5aa83c"/>
<path d="M169.9 370.7L171 370.7L172.1 370.7L173.2 370.7L174.3 370.7L175.4 370.7L176.5 370.7L177.6 370.8L178.7 370.8L179.8 370.8L180.9 370.9L182 370.9L183.1 371L184.2 371.1L185.3 371.2L186.4 371.3L187.5 371.4L188.6 371.6L189.7 371.9L190.8 372.1L191.9 372.5L193 372.9L194.1 373.4L195.2 374L196.3 374.8L197.4 375.6L198.5 376.6L199.6 377.6L200.7 378.8L201.8 380.1L203 381.5L204.1 383L205.2 384.4L206.3 385.8L207.4 387.2L208.5 388.5L209.6 389.6L210.7 390.7L211.8 391.6L212.9 392.4L214 393.1L215.1 393.7L216.2 394.2L217.3 394.6L218.4 394.9L219.5 395.2L220.6 395.4L221.7 395.6L222.8 395.7L223.9 395.8L225 395.9L226.1 396L227.2 396.1L228.3 396.1L229.4 396.1L230.5 396.2L231.6 396.2L232.7 396.2L233.8 396.2L234.9 396.2" fill="none" stroke="#b5103c" stroke-width="0.9"/>
<path d="M169.9 369.29V371.69M168.7 369.29H171.1M168.7 371.69H171.1" stroke="#b5103c" stroke-width="0.6" fill="none"/>
<rect x="168.8" y="369.39" width="2.2" height="2.2" fill="#b5103c"/>
<path d="M189.4 370.85V373.25M188.2 370.85H190.6M188.2 373.25H190.6" stroke="#b5103c" stroke-width="0.6" fill="none"/>
<rect x="188.3" y="370.95" width="2.2" height="2.2" fill="#b5103c"/>
<path d="M200.78 376.37V381.17M199.58 376.37H201.97M199.58 381.17H201.97" stroke="#b5103c" stroke-width="0.6" fill="none"/>
<rect x="199.68" y="377.67" width="2.2" height="2.2" fill="#b5103c"/>
<path d="M212.15 390.2V393.8M210.95 390.2H213.35M210.95 393.8H213.35" stroke="#b5103c" stroke-width="0.6" fill="none"/>
<rect x="211.05" y="390.9" width="2.2" height="2.2" fill="#b5103c"/>
<path d="M223.53 393.35V398.15M222.33 393.35H224.72M222.33 398.15H224.72" stroke="#b5103c" stroke-width="0.6" fill="none"/>
<rect x="222.43" y="394.65" width="2.2" height="2.2" fill="#b5103c"/>
<path d="M234.9 393.83V398.63M233.7 393.83H236.1M233.7 398.63H236.1" stroke="#b5103c" stroke-width="0.6" fill="none"/>
<rect x="233.8" y="395.13" width="2.2" height="2.2" fill="#b5103c"/>
<text x="212.15" y="391.65" font-size="5.6" font-weight="bold" fill="#b5103c" text-anchor="middle">***</text>
<text x="223.53" y="395.25" font-size="5.6" font-weight="bold" fill="#b5103c" text-anchor="middle">**</text>
<path d="M169.9 369.5L171 369.5L172.1 369.5L173.2 369.5L174.3 369.5L175.4 369.5L176.5 369.5L177.6 369.5L178.7 369.5L179.8 369.5L180.9 369.5L182 369.5L183.1 369.5L184.2 369.5L185.3 369.5L186.4 369.5L187.5 369.5L188.6 369.5L189.7 369.5L190.8 369.5L191.9 369.5L193 369.5L194.1 369.5L195.2 369.5L196.3 369.5L197.4 369.5L198.5 369.5L199.6 369.5L200.7 369.5L201.8 369.5L203 369.5L204.1 369.5L205.2 369.5L206.3 369.5L207.4 369.5L208.5 369.5L209.6 369.5L210.7 369.5L211.8 369.5L212.9 369.5L214 369.5L215.1 369.5L216.2 369.5L217.3 369.5L218.4 369.5L219.5 369.5L220.6 369.6L221.7 369.8L222.8 370.3L223.9 371.2L225 373L226.1 375.4L227.2 377.5L228.3 378.8L229.4 379.4L230.5 379.7L231.6 379.8L232.7 379.8L233.8 379.8L234.9 379.9" fill="none" stroke="#34405e" stroke-width="0.9"/>
<path d="M169.9 369.65V372.05M168.7 369.65H171.1M168.7 372.05H171.1" stroke="#34405e" stroke-width="0.6" fill="none"/>
<rect x="168.8" y="369.75" width="2.2" height="2.2" fill="#34405e"/>
<path d="M189.4 367.85V370.25M188.2 367.85H190.6M188.2 370.25H190.6" stroke="#34405e" stroke-width="0.6" fill="none"/>
<rect x="188.3" y="367.95" width="2.2" height="2.2" fill="#34405e"/>
<path d="M200.78 368.45V369.65M199.58 368.45H201.97M199.58 369.65H201.97" stroke="#34405e" stroke-width="0.6" fill="none"/>
<rect x="199.68" y="367.95" width="2.2" height="2.2" fill="#34405e"/>
<path d="M212.15 368.45V369.65M210.95 368.45H213.35M210.95 369.65H213.35" stroke="#34405e" stroke-width="0.6" fill="none"/>
<rect x="211.05" y="367.95" width="2.2" height="2.2" fill="#34405e"/>
<path d="M223.53 369.05V372.65M222.33 369.05H224.72M222.33 372.65H224.72" stroke="#34405e" stroke-width="0.6" fill="none"/>
<rect x="222.43" y="369.75" width="2.2" height="2.2" fill="#34405e"/>
<path d="M234.9 377.45V382.25M233.7 377.45H236.1M233.7 382.25H236.1" stroke="#34405e" stroke-width="0.6" fill="none"/>
<rect x="233.8" y="378.75" width="2.2" height="2.2" fill="#34405e"/>
<path d="M161.4 460.75 V523.25 H253.65" fill="none" stroke="#111" stroke-width="1.1"/>
<line x1="158.1" y1="523.25" x2="161.4" y2="523.25" stroke="#111" stroke-width="1.0"/>
<text x="155.4" y="525.6" font-size="6.6" text-anchor="end" font-weight="normal" fill="#1a1a1a"  stroke="#1a1a1a" stroke-width="0.16">0</text>
<line x1="158.1" y1="511.25" x2="161.4" y2="511.25" stroke="#111" stroke-width="1.0"/>
<text x="155.4" y="513.6" font-size="6.6" text-anchor="end" font-weight="normal" fill="#1a1a1a"  stroke="#1a1a1a" stroke-width="0.16">20</text>
<line x1="158.1" y1="499.25" x2="161.4" y2="499.25" stroke="#111" stroke-width="1.0"/>
<text x="155.4" y="501.6" font-size="6.6" text-anchor="end" font-weight="normal" fill="#1a1a1a"  stroke="#1a1a1a" stroke-width="0.16">40</text>
<line x1="158.1" y1="487.25" x2="161.4" y2="487.25" stroke="#111" stroke-width="1.0"/>
<text x="155.4" y="489.6" font-size="6.6" text-anchor="end" font-weight="normal" fill="#1a1a1a"  stroke="#1a1a1a" stroke-width="0.16">60</text>
<line x1="158.1" y1="475.25" x2="161.4" y2="475.25" stroke="#111" stroke-width="1.0"/>
<text x="155.4" y="477.6" font-size="6.6" text-anchor="end" font-weight="normal" fill="#1a1a1a"  stroke="#1a1a1a" stroke-width="0.16">80</text>
<line x1="158.1" y1="463.25" x2="161.4" y2="463.25" stroke="#111" stroke-width="1.0"/>
<text x="155.4" y="465.6" font-size="6.6" text-anchor="end" font-weight="normal" fill="#1a1a1a"  stroke="#1a1a1a" stroke-width="0.16">100</text>
<line x1="169.9" y1="523.25" x2="169.9" y2="526.45" stroke="#111" stroke-width="1.0"/>
<text x="169.9" y="535.35" font-size="6.6" text-anchor="middle" font-weight="normal" fill="#1a1a1a"  stroke="#1a1a1a" stroke-width="0.16">-3</text>
<line x1="186.15" y1="523.25" x2="186.15" y2="526.45" stroke="#111" stroke-width="1.0"/>
<text x="186.15" y="535.35" font-size="6.6" text-anchor="middle" font-weight="normal" fill="#1a1a1a"  stroke="#1a1a1a" stroke-width="0.16">-2</text>
<line x1="202.4" y1="523.25" x2="202.4" y2="526.45" stroke="#111" stroke-width="1.0"/>
<text x="202.4" y="535.35" font-size="6.6" text-anchor="middle" font-weight="normal" fill="#1a1a1a"  stroke="#1a1a1a" stroke-width="0.16">-1</text>
<line x1="218.65" y1="523.25" x2="218.65" y2="526.45" stroke="#111" stroke-width="1.0"/>
<text x="218.65" y="535.35" font-size="6.6" text-anchor="middle" font-weight="normal" fill="#1a1a1a"  stroke="#1a1a1a" stroke-width="0.16">0</text>
<line x1="234.9" y1="523.25" x2="234.9" y2="526.45" stroke="#111" stroke-width="1.0"/>
<text x="234.9" y="535.35" font-size="6.6" text-anchor="middle" font-weight="normal" fill="#1a1a1a"  stroke="#1a1a1a" stroke-width="0.16">1</text>
<line x1="251.15" y1="523.25" x2="251.15" y2="526.45" stroke="#111" stroke-width="1.0"/>
<text x="251.15" y="535.35" font-size="6.6" text-anchor="middle" font-weight="normal" fill="#1a1a1a"  stroke="#1a1a1a" stroke-width="0.16">2</text>
<text font-size="8.7" fill="#1a1a1a" stroke="#1a1a1a" stroke-width="0.1" transform="translate(138.7,492.05) rotate(-90)" text-anchor="middle" textLength="63.5" lengthAdjust="spacingAndGlyphs">% cell survival (AxV/PI<tspan font-size="5" dy="-2.8">−</tspan><tspan dy="2.8">)</tspan></text>
<text x="188.91" y="546.65" font-size="8.2" fill="#151515" stroke="#151515" stroke-width="0.28" textLength="38" lengthAdjust="spacingAndGlyphs">Bir log<tspan font-size="4.8" dy="2">10</tspan><tspan dy="-2"> (µM)</tspan></text>
<path d="M169.9 485.8L171 486.3L172.1 487L173.2 487.6L174.3 488.4L175.4 489.2L176.5 490L177.6 490.9L178.7 491.9L179.8 492.9L180.9 494L182 495.1L183.1 496.2L184.2 497.4L185.3 498.6L186.4 499.8L187.5 501.1L188.6 502.3L189.7 503.5L190.8 504.7L191.9 505.9L193 507L194.1 508.1L195.2 509.2L196.3 510.2L197.4 511.1L198.5 512L199.6 512.8L200.7 513.6L201.8 514.3L203 514.9L204.1 515.5L205.2 516.1L206.3 516.6L207.4 517L208.5 517.5L209.6 517.8L210.7 518.2L211.8 518.5L212.9 518.7L214 519L215.1 519.2L216.2 519.4L217.3 519.6L218.4 519.7L219.5 519.9L220.6 520L221.7 520.1L222.8 520.2L223.9 520.3L225 520.4L226.1 520.4L227.2 520.5L228.3 520.6L229.4 520.6L230.5 520.6L231.6 520.7L232.7 520.7L233.8 520.7L234.9 520.8" fill="none" stroke="#8a8ce0" stroke-width="0.9"/>
<path d="M169.9 483.95V487.55M168.7 483.95H171.1M168.7 487.55H171.1" stroke="#8a8ce0" stroke-width="0.6" fill="none"/>
<rect x="168.8" y="484.65" width="2.2" height="2.2" fill="#8a8ce0"/>
<path d="M189.4 497.87V508.67M188.2 497.87H190.6M188.2 508.67H190.6" stroke="#8a8ce0" stroke-width="0.6" fill="none"/>
<rect x="188.3" y="502.17" width="2.2" height="2.2" fill="#8a8ce0"/>
<path d="M200.78 510.83V515.63M199.58 510.83H201.97M199.58 515.63H201.97" stroke="#8a8ce0" stroke-width="0.6" fill="none"/>
<rect x="199.68" y="512.13" width="2.2" height="2.2" fill="#8a8ce0"/>
<path d="M212.15 517.85V520.25M210.95 517.85H213.35M210.95 520.25H213.35" stroke="#8a8ce0" stroke-width="0.6" fill="none"/>
<rect x="211.05" y="517.95" width="2.2" height="2.2" fill="#8a8ce0"/>
<path d="M223.53 519.65V520.85M222.33 519.65H224.72M222.33 520.85H224.72" stroke="#8a8ce0" stroke-width="0.6" fill="none"/>
<rect x="222.43" y="519.15" width="2.2" height="2.2" fill="#8a8ce0"/>
<path d="M234.9 519.95V521.15M233.7 519.95H236.1M233.7 521.15H236.1" stroke="#8a8ce0" stroke-width="0.6" fill="none"/>
<rect x="233.8" y="519.45" width="2.2" height="2.2" fill="#8a8ce0"/>
<path d="M169.9 485.3L171 485.6L172.1 485.9L173.2 486.2L174.3 486.6L175.4 487L176.5 487.4L177.6 487.9L178.7 488.5L179.8 489.1L180.9 489.8L182 490.6L183.1 491.4L184.2 492.3L185.3 493.3L186.4 494.3L187.5 495.4L188.6 496.5L189.7 497.7L190.8 498.9L191.9 500.1L193 501.4L194.1 502.7L195.2 503.9L196.3 505.2L197.4 506.4L198.5 507.5L199.6 508.7L200.7 509.7L201.8 510.7L203 511.7L204.1 512.6L205.2 513.4L206.3 514.1L207.4 514.8L208.5 515.4L209.6 516L210.7 516.5L211.8 516.9L212.9 517.3L214 517.7L215.1 518L216.2 518.3L217.3 518.6L218.4 518.8L219.5 519L220.6 519.2L221.7 519.3L222.8 519.5L223.9 519.6L225 519.7L226.1 519.8L227.2 519.8L228.3 519.9L229.4 520L230.5 520L231.6 520.1L232.7 520.1L233.8 520.1L234.9 520.2" fill="none" stroke="#5aa83c" stroke-width="0.9"/>
<path d="M169.9 483.47V487.07M168.7 483.47H171.1M168.7 487.07H171.1" stroke="#5aa83c" stroke-width="0.6" fill="none"/>
<rect x="168.8" y="484.17" width="2.2" height="2.2" fill="#5aa83c"/>
<path d="M189.4 492.05V502.85M188.2 492.05H190.6M188.2 502.85H190.6" stroke="#5aa83c" stroke-width="0.6" fill="none"/>
<rect x="188.3" y="496.35" width="2.2" height="2.2" fill="#5aa83c"/>
<path d="M200.78 505.85V513.05M199.58 505.85H201.97M199.58 513.05H201.97" stroke="#5aa83c" stroke-width="0.6" fill="none"/>
<rect x="199.68" y="508.35" width="2.2" height="2.2" fill="#5aa83c"/>
<path d="M212.15 515.69V519.29M210.95 515.69H213.35M210.95 519.29H213.35" stroke="#5aa83c" stroke-width="0.6" fill="none"/>
<rect x="211.05" y="516.39" width="2.2" height="2.2" fill="#5aa83c"/>
<path d="M223.53 518.9V520.1M222.33 518.9H224.72M222.33 520.1H224.72" stroke="#5aa83c" stroke-width="0.6" fill="none"/>
<rect x="222.43" y="518.4" width="2.2" height="2.2" fill="#5aa83c"/>
<path d="M234.9 519.41V520.61M233.7 519.41H236.1M233.7 520.61H236.1" stroke="#5aa83c" stroke-width="0.6" fill="none"/>
<rect x="233.8" y="518.91" width="2.2" height="2.2" fill="#5aa83c"/>
<path d="M169.9 476.1L171 476.3L172.1 476.5L173.2 476.8L174.3 477L175.4 477.3L176.5 477.7L177.6 478L178.7 478.4L179.8 478.8L180.9 479.3L182 479.8L183.1 480.4L184.2 481L185.3 481.7L186.4 482.4L187.5 483.1L188.6 483.9L189.7 484.7L190.8 485.6L191.9 486.5L193 487.5L194.1 488.5L195.2 489.5L196.3 490.5L197.4 491.5L198.5 492.5L199.6 493.6L200.7 494.6L201.8 495.6L203 496.5L204.1 497.5L205.2 498.4L206.3 499.2L207.4 500L208.5 500.8L209.6 501.5L210.7 502.2L211.8 502.8L212.9 503.4L214 503.9L215.1 504.4L216.2 504.9L217.3 505.3L218.4 505.7L219.5 506L220.6 506.3L221.7 506.6L222.8 506.9L223.9 507.1L225 507.3L226.1 507.5L227.2 507.7L228.3 507.8L229.4 507.9L230.5 508.1L231.6 508.2L232.7 508.3L233.8 508.4L234.9 508.4" fill="none" stroke="#b5103c" stroke-width="0.9"/>
<path d="M169.9 474.47V478.07M168.7 474.47H171.1M168.7 478.07H171.1" stroke="#b5103c" stroke-width="0.6" fill="none"/>
<rect x="168.8" y="475.17" width="2.2" height="2.2" fill="#b5103c"/>
<path d="M189.4 481.01V487.01M188.2 481.01H190.6M188.2 487.01H190.6" stroke="#b5103c" stroke-width="0.6" fill="none"/>
<rect x="188.3" y="482.91" width="2.2" height="2.2" fill="#b5103c"/>
<path d="M200.78 489.83V500.63M199.58 489.83H201.97M199.58 500.63H201.97" stroke="#b5103c" stroke-width="0.6" fill="none"/>
<rect x="199.68" y="494.13" width="2.2" height="2.2" fill="#b5103c"/>
<path d="M212.15 496.73V508.73M210.95 496.73H213.35M210.95 508.73H213.35" stroke="#b5103c" stroke-width="0.6" fill="none"/>
<rect x="211.05" y="501.63" width="2.2" height="2.2" fill="#b5103c"/>
<path d="M223.53 500.45V512.45M222.33 500.45H224.72M222.33 512.45H224.72" stroke="#b5103c" stroke-width="0.6" fill="none"/>
<rect x="222.43" y="505.35" width="2.2" height="2.2" fill="#b5103c"/>
<path d="M234.9 504.2V513.8M233.7 504.2H236.1M233.7 513.8H236.1" stroke="#b5103c" stroke-width="0.6" fill="none"/>
<rect x="233.8" y="507.9" width="2.2" height="2.2" fill="#b5103c"/>
<path d="M169.9 475.3L171 475.5L172.1 475.7L173.2 475.9L174.3 476.2L175.4 476.4L176.5 476.7L177.6 477.1L178.7 477.4L179.8 477.8L180.9 478.2L182 478.6L183.1 479L184.2 479.5L185.3 480L186.4 480.6L187.5 481.2L188.6 481.8L189.7 482.4L190.8 483L191.9 483.7L193 484.4L194.1 485.1L195.2 485.8L196.3 486.5L197.4 487.3L198.5 488L199.6 488.7L200.7 489.5L201.8 490.2L203 490.9L204.1 491.6L205.2 492.2L206.3 492.9L207.4 493.5L208.5 494.1L209.6 494.6L210.7 495.1L211.8 495.7L212.9 496.1L214 496.6L215.1 497L216.2 497.4L217.3 497.7L218.4 498.1L219.5 498.4L220.6 498.7L221.7 498.9L222.8 499.2L223.9 499.4L225 499.6L226.1 499.8L227.2 499.9L228.3 500.1L229.4 500.2L230.5 500.4L231.6 500.5L232.7 500.6L233.8 500.7L234.9 500.8" fill="none" stroke="#34405e" stroke-width="0.9"/>
<path d="M169.9 472.61V477.41M168.7 472.61H171.1M168.7 477.41H171.1" stroke="#34405e" stroke-width="0.6" fill="none"/>
<rect x="168.8" y="473.91" width="2.2" height="2.2" fill="#34405e"/>
<path d="M189.4 479.63V486.83M188.2 479.63H190.6M188.2 486.83H190.6" stroke="#34405e" stroke-width="0.6" fill="none"/>
<rect x="188.3" y="482.13" width="2.2" height="2.2" fill="#34405e"/>
<path d="M200.78 481.85V493.85M199.58 481.85H201.97M199.58 493.85H201.97" stroke="#34405e" stroke-width="0.6" fill="none"/>
<rect x="199.68" y="486.75" width="2.2" height="2.2" fill="#34405e"/>
<path d="M212.15 490.4V503.6M210.95 490.4H213.35M210.95 503.6H213.35" stroke="#34405e" stroke-width="0.6" fill="none"/>
<rect x="211.05" y="495.9" width="2.2" height="2.2" fill="#34405e"/>
<path d="M223.53 492.29V506.69M222.33 492.29H224.72M222.33 506.69H224.72" stroke="#34405e" stroke-width="0.6" fill="none"/>
<rect x="222.43" y="498.39" width="2.2" height="2.2" fill="#34405e"/>
<path d="M234.9 491.87V508.67M233.7 491.87H236.1M233.7 508.67H236.1" stroke="#34405e" stroke-width="0.6" fill="none"/>
<rect x="233.8" y="499.17" width="2.2" height="2.2" fill="#34405e"/>
<path d="M161.4 561.75 V624.75 H253.65" fill="none" stroke="#111" stroke-width="1.1"/>
<line x1="158.1" y1="624.75" x2="161.4" y2="624.75" stroke="#111" stroke-width="1.0"/>
<text x="155.4" y="627.1" font-size="6.6" text-anchor="end" font-weight="normal" fill="#1a1a1a"  stroke="#1a1a1a" stroke-width="0.16">0</text>
<line x1="158.1" y1="612.65" x2="161.4" y2="612.65" stroke="#111" stroke-width="1.0"/>
<text x="155.4" y="615" font-size="6.6" text-anchor="end" font-weight="normal" fill="#1a1a1a"  stroke="#1a1a1a" stroke-width="0.16">20</text>
<line x1="158.1" y1="600.55" x2="161.4" y2="600.55" stroke="#111" stroke-width="1.0"/>
<text x="155.4" y="602.9" font-size="6.6" text-anchor="end" font-weight="normal" fill="#1a1a1a"  stroke="#1a1a1a" stroke-width="0.16">40</text>
<line x1="158.1" y1="588.45" x2="161.4" y2="588.45" stroke="#111" stroke-width="1.0"/>
<text x="155.4" y="590.8" font-size="6.6" text-anchor="end" font-weight="normal" fill="#1a1a1a"  stroke="#1a1a1a" stroke-width="0.16">60</text>
<line x1="158.1" y1="576.35" x2="161.4" y2="576.35" stroke="#111" stroke-width="1.0"/>
<text x="155.4" y="578.7" font-size="6.6" text-anchor="end" font-weight="normal" fill="#1a1a1a"  stroke="#1a1a1a" stroke-width="0.16">80</text>
<line x1="158.1" y1="564.25" x2="161.4" y2="564.25" stroke="#111" stroke-width="1.0"/>
<text x="155.4" y="566.6" font-size="6.6" text-anchor="end" font-weight="normal" fill="#1a1a1a"  stroke="#1a1a1a" stroke-width="0.16">100</text>
<line x1="169.9" y1="624.75" x2="169.9" y2="627.95" stroke="#111" stroke-width="1.0"/>
<text x="169.9" y="636.85" font-size="6.6" text-anchor="middle" font-weight="normal" fill="#1a1a1a"  stroke="#1a1a1a" stroke-width="0.16">-3</text>
<line x1="186.15" y1="624.75" x2="186.15" y2="627.95" stroke="#111" stroke-width="1.0"/>
<text x="186.15" y="636.85" font-size="6.6" text-anchor="middle" font-weight="normal" fill="#1a1a1a"  stroke="#1a1a1a" stroke-width="0.16">-2</text>
<line x1="202.4" y1="624.75" x2="202.4" y2="627.95" stroke="#111" stroke-width="1.0"/>
<text x="202.4" y="636.85" font-size="6.6" text-anchor="middle" font-weight="normal" fill="#1a1a1a"  stroke="#1a1a1a" stroke-width="0.16">-1</text>
<line x1="218.65" y1="624.75" x2="218.65" y2="627.95" stroke="#111" stroke-width="1.0"/>
<text x="218.65" y="636.85" font-size="6.6" text-anchor="middle" font-weight="normal" fill="#1a1a1a"  stroke="#1a1a1a" stroke-width="0.16">0</text>
<line x1="234.9" y1="624.75" x2="234.9" y2="627.95" stroke="#111" stroke-width="1.0"/>
<text x="234.9" y="636.85" font-size="6.6" text-anchor="middle" font-weight="normal" fill="#1a1a1a"  stroke="#1a1a1a" stroke-width="0.16">1</text>
<line x1="251.15" y1="624.75" x2="251.15" y2="627.95" stroke="#111" stroke-width="1.0"/>
<text x="251.15" y="636.85" font-size="6.6" text-anchor="middle" font-weight="normal" fill="#1a1a1a"  stroke="#1a1a1a" stroke-width="0.16">2</text>
<text font-size="8.7" fill="#1a1a1a" stroke="#1a1a1a" stroke-width="0.1" transform="translate(138.7,593.3) rotate(-90)" text-anchor="middle" textLength="63.5" lengthAdjust="spacingAndGlyphs">% cell survival (AxV/PI<tspan font-size="5" dy="-2.8">−</tspan><tspan dy="2.8">)</tspan></text>
<text x="188.91" y="648.15" font-size="8.2" fill="#151515" stroke="#151515" stroke-width="0.28" textLength="38" lengthAdjust="spacingAndGlyphs">Bir log<tspan font-size="4.8" dy="2">10</tspan><tspan dy="-2"> (µM)</tspan></text>
<path d="M169.9 571.2L171 571.2L172.1 571.3L173.2 571.4L174.3 571.4L175.4 571.5L176.5 571.6L177.6 571.7L178.7 571.9L179.8 572L180.9 572.2L182 572.4L183.1 572.7L184.2 573L185.3 573.3L186.4 573.7L187.5 574.1L188.6 574.6L189.7 575.1L190.8 575.7L191.9 576.4L193 577.2L194.1 578.1L195.2 579L196.3 580.1L197.4 581.3L198.5 582.5L199.6 583.9L200.7 585.3L201.8 586.9L203 588.5L204.1 590.1L205.2 591.8L206.3 593.5L207.4 595.2L208.5 596.9L209.6 598.5L210.7 600.1L211.8 601.6L212.9 603L214 604.4L215.1 605.6L216.2 606.7L217.3 607.7L218.4 608.7L219.5 609.5L220.6 610.3L221.7 610.9L222.8 611.5L223.9 612L225 612.5L226.1 612.9L227.2 613.3L228.3 613.6L229.4 613.8L230.5 614.1L231.6 614.3L232.7 614.4L233.8 614.6L234.9 614.7" fill="none" stroke="#8a8ce0" stroke-width="0.9"/>
<path d="M169.9 569.82V572.24M168.7 569.82H171.1M168.7 572.24H171.1" stroke="#8a8ce0" stroke-width="0.6" fill="none"/>
<rect x="168.8" y="569.93" width="2.2" height="2.2" fill="#8a8ce0"/>
<path d="M189.4 573.33V576.96M188.2 573.33H190.6M188.2 576.96H190.6" stroke="#8a8ce0" stroke-width="0.6" fill="none"/>
<rect x="188.3" y="574.04" width="2.2" height="2.2" fill="#8a8ce0"/>
<path d="M200.78 581.79V589.05M199.58 581.79H201.97M199.58 589.05H201.97" stroke="#8a8ce0" stroke-width="0.6" fill="none"/>
<rect x="199.68" y="584.32" width="2.2" height="2.2" fill="#8a8ce0"/>
<path d="M212.15 596.92V606.6M210.95 596.92H213.35M210.95 606.6H213.35" stroke="#8a8ce0" stroke-width="0.6" fill="none"/>
<rect x="211.05" y="600.66" width="2.2" height="2.2" fill="#8a8ce0"/>
<path d="M223.53 609.02V616.28M222.33 609.02H224.72M222.33 616.28H224.72" stroke="#8a8ce0" stroke-width="0.6" fill="none"/>
<rect x="222.43" y="611.55" width="2.2" height="2.2" fill="#8a8ce0"/>
<path d="M234.9 611.2V617.25M233.7 611.2H236.1M233.7 617.25H236.1" stroke="#8a8ce0" stroke-width="0.6" fill="none"/>
<rect x="233.8" y="613.12" width="2.2" height="2.2" fill="#8a8ce0"/>
<path d="M169.9 570.9L171 571.1L172.1 571.4L173.2 571.6L174.3 571.9L175.4 572.3L176.5 572.6L177.6 573.1L178.7 573.5L179.8 574L180.9 574.6L182 575.2L183.1 575.8L184.2 576.6L185.3 577.4L186.4 578.2L187.5 579.1L188.6 580.1L189.7 581.2L190.8 582.3L191.9 583.5L193 584.7L194.1 585.9L195.2 587.2L196.3 588.5L197.4 589.9L198.5 591.2L199.6 592.5L200.7 593.8L201.8 595.1L203 596.3L204.1 597.6L205.2 598.7L206.3 599.8L207.4 600.8L208.5 601.8L209.6 602.7L210.7 603.6L211.8 604.3L212.9 605L214 605.7L215.1 606.3L216.2 606.8L217.3 607.3L218.4 607.8L219.5 608.2L220.6 608.5L221.7 608.9L222.8 609.1L223.9 609.4L225 609.6L226.1 609.8L227.2 610L228.3 610.2L229.4 610.3L230.5 610.5L231.6 610.6L232.7 610.7L233.8 610.8L234.9 610.8" fill="none" stroke="#5aa83c" stroke-width="0.9"/>
<path d="M169.9 569.82V572.24M168.7 569.82H171.1M168.7 572.24H171.1" stroke="#5aa83c" stroke-width="0.6" fill="none"/>
<rect x="168.8" y="569.93" width="2.2" height="2.2" fill="#5aa83c"/>
<path d="M189.4 578.16V583M188.2 578.16H190.6M188.2 583H190.6" stroke="#5aa83c" stroke-width="0.6" fill="none"/>
<rect x="188.3" y="579.49" width="2.2" height="2.2" fill="#5aa83c"/>
<path d="M200.78 587V601.52M199.58 587H201.97M199.58 601.52H201.97" stroke="#5aa83c" stroke-width="0.6" fill="none"/>
<rect x="199.68" y="593.16" width="2.2" height="2.2" fill="#5aa83c"/>
<path d="M212.15 598.19V610.29M210.95 598.19H213.35M210.95 610.29H213.35" stroke="#5aa83c" stroke-width="0.6" fill="none"/>
<rect x="211.05" y="603.14" width="2.2" height="2.2" fill="#5aa83c"/>
<path d="M223.53 604.42V614.1M222.33 604.42H224.72M222.33 614.1H224.72" stroke="#5aa83c" stroke-width="0.6" fill="none"/>
<rect x="222.43" y="608.16" width="2.2" height="2.2" fill="#5aa83c"/>
<path d="M234.9 607.39V614.65M233.7 607.39H236.1M233.7 614.65H236.1" stroke="#5aa83c" stroke-width="0.6" fill="none"/>
<rect x="233.8" y="609.92" width="2.2" height="2.2" fill="#5aa83c"/>
<path d="M169.9 570.7L171 570.7L172.1 570.8L173.2 570.8L174.3 570.9L175.4 571L176.5 571.1L177.6 571.2L178.7 571.3L179.8 571.5L180.9 571.6L182 571.8L183.1 572L184.2 572.3L185.3 572.6L186.4 572.9L187.5 573.3L188.6 573.7L189.7 574.2L190.8 574.7L191.9 575.3L193 576L194.1 576.7L195.2 577.6L196.3 578.5L197.4 579.5L198.5 580.5L199.6 581.7L200.7 582.9L201.8 584.1L203 585.4L204.1 586.8L205.2 588.2L206.3 589.5L207.4 590.9L208.5 592.2L209.6 593.5L210.7 594.7L211.8 595.9L212.9 597L214 598L215.1 598.9L216.2 599.8L217.3 600.6L218.4 601.3L219.5 601.9L220.6 602.5L221.7 603L222.8 603.5L223.9 603.9L225 604.2L226.1 604.5L227.2 604.8L228.3 605L229.4 605.2L230.5 605.4L231.6 605.5L232.7 605.7L233.8 605.8L234.9 605.9" fill="none" stroke="#b5103c" stroke-width="0.9"/>
<path d="M169.9 569.82V572.24M168.7 569.82H171.1M168.7 572.24H171.1" stroke="#b5103c" stroke-width="0.6" fill="none"/>
<rect x="168.8" y="569.93" width="2.2" height="2.2" fill="#b5103c"/>
<path d="M189.4 571.69V575.32M188.2 571.69H190.6M188.2 575.32H190.6" stroke="#b5103c" stroke-width="0.6" fill="none"/>
<rect x="188.3" y="572.41" width="2.2" height="2.2" fill="#b5103c"/>
<path d="M200.78 581.19V584.82M199.58 581.19H201.97M199.58 584.82H201.97" stroke="#b5103c" stroke-width="0.6" fill="none"/>
<rect x="199.68" y="581.9" width="2.2" height="2.2" fill="#b5103c"/>
<path d="M212.15 593.11V600.37M210.95 593.11H213.35M210.95 600.37H213.35" stroke="#b5103c" stroke-width="0.6" fill="none"/>
<rect x="211.05" y="595.64" width="2.2" height="2.2" fill="#b5103c"/>
<path d="M223.53 598.25V606.72M222.33 598.25H224.72M222.33 606.72H224.72" stroke="#b5103c" stroke-width="0.6" fill="none"/>
<rect x="222.43" y="601.39" width="2.2" height="2.2" fill="#b5103c"/>
<path d="M234.9 603.7V609.75M233.7 603.7H236.1M233.7 609.75H236.1" stroke="#b5103c" stroke-width="0.6" fill="none"/>
<rect x="233.8" y="605.62" width="2.2" height="2.2" fill="#b5103c"/>
<path d="M169.9 569.9L171 570L172.1 570.1L173.2 570.1L174.3 570.2L175.4 570.3L176.5 570.4L177.6 570.5L178.7 570.7L179.8 570.8L180.9 571L182 571.2L183.1 571.4L184.2 571.6L185.3 571.9L186.4 572.2L187.5 572.6L188.6 573L189.7 573.4L190.8 573.9L191.9 574.5L193 575.1L194.1 575.7L195.2 576.4L196.3 577.2L197.4 578L198.5 578.9L199.6 579.9L200.7 580.9L201.8 582L203 583.1L204.1 584.2L205.2 585.3L206.3 586.5L207.4 587.7L208.5 588.8L209.6 590L210.7 591.1L211.8 592.2L212.9 593.2L214 594.2L215.1 595.2L216.2 596L217.3 596.8L218.4 597.6L219.5 598.3L220.6 598.9L221.7 599.5L222.8 600L223.9 600.5L225 600.9L226.1 601.3L227.2 601.6L228.3 601.9L229.4 602.2L230.5 602.4L231.6 602.6L232.7 602.8L233.8 603L234.9 603.1" fill="none" stroke="#34405e" stroke-width="0.9"/>
<path d="M169.9 569.27V571.69M168.7 569.27H171.1M168.7 571.69H171.1" stroke="#34405e" stroke-width="0.6" fill="none"/>
<rect x="168.8" y="569.38" width="2.2" height="2.2" fill="#34405e"/>
<path d="M189.4 570.66V574.29M188.2 570.66H190.6M188.2 574.29H190.6" stroke="#34405e" stroke-width="0.6" fill="none"/>
<rect x="188.3" y="571.38" width="2.2" height="2.2" fill="#34405e"/>
<path d="M200.78 579.19V582.82M199.58 579.19H201.97M199.58 582.82H201.97" stroke="#34405e" stroke-width="0.6" fill="none"/>
<rect x="199.68" y="579.91" width="2.2" height="2.2" fill="#34405e"/>
<path d="M212.15 589.84V597.1M210.95 589.84H213.35M210.95 597.1H213.35" stroke="#34405e" stroke-width="0.6" fill="none"/>
<rect x="211.05" y="592.37" width="2.2" height="2.2" fill="#34405e"/>
<path d="M223.53 594.26V602.73M222.33 594.26H224.72M222.33 602.73H224.72" stroke="#34405e" stroke-width="0.6" fill="none"/>
<rect x="222.43" y="597.39" width="2.2" height="2.2" fill="#34405e"/>
<path d="M234.9 600.61V607.87M233.7 600.61H236.1M233.7 607.87H236.1" stroke="#34405e" stroke-width="0.6" fill="none"/>
<rect x="233.8" y="603.14" width="2.2" height="2.2" fill="#34405e"/>
<path d="M418.4 28 V90.5 H510.5" fill="none" stroke="#111" stroke-width="1.1"/>
<line x1="415.1" y1="90.5" x2="418.4" y2="90.5" stroke="#111" stroke-width="1.0"/>
<text x="412.4" y="92.85" font-size="6.6" text-anchor="end" font-weight="normal" fill="#1a1a1a"  stroke="#1a1a1a" stroke-width="0.16">0</text>
<line x1="415.1" y1="78.5" x2="418.4" y2="78.5" stroke="#111" stroke-width="1.0"/>
<text x="412.4" y="80.85" font-size="6.6" text-anchor="end" font-weight="normal" fill="#1a1a1a"  stroke="#1a1a1a" stroke-width="0.16">20</text>
<line x1="415.1" y1="66.5" x2="418.4" y2="66.5" stroke="#111" stroke-width="1.0"/>
<text x="412.4" y="68.85" font-size="6.6" text-anchor="end" font-weight="normal" fill="#1a1a1a"  stroke="#1a1a1a" stroke-width="0.16">40</text>
<line x1="415.1" y1="54.5" x2="418.4" y2="54.5" stroke="#111" stroke-width="1.0"/>
<text x="412.4" y="56.85" font-size="6.6" text-anchor="end" font-weight="normal" fill="#1a1a1a"  stroke="#1a1a1a" stroke-width="0.16">60</text>
<line x1="415.1" y1="42.5" x2="418.4" y2="42.5" stroke="#111" stroke-width="1.0"/>
<text x="412.4" y="44.85" font-size="6.6" text-anchor="end" font-weight="normal" fill="#1a1a1a"  stroke="#1a1a1a" stroke-width="0.16">80</text>
<line x1="415.1" y1="30.5" x2="418.4" y2="30.5" stroke="#111" stroke-width="1.0"/>
<text x="412.4" y="32.85" font-size="6.6" text-anchor="end" font-weight="normal" fill="#1a1a1a"  stroke="#1a1a1a" stroke-width="0.16">100</text>
<line x1="426.75" y1="90.5" x2="426.75" y2="93.7" stroke="#111" stroke-width="1.0"/>
<text x="426.75" y="102.6" font-size="6.6" text-anchor="middle" font-weight="normal" fill="#1a1a1a"  stroke="#1a1a1a" stroke-width="0.16">-3</text>
<line x1="443" y1="90.5" x2="443" y2="93.7" stroke="#111" stroke-width="1.0"/>
<text x="443" y="102.6" font-size="6.6" text-anchor="middle" font-weight="normal" fill="#1a1a1a"  stroke="#1a1a1a" stroke-width="0.16">-2</text>
<line x1="459.25" y1="90.5" x2="459.25" y2="93.7" stroke="#111" stroke-width="1.0"/>
<text x="459.25" y="102.6" font-size="6.6" text-anchor="middle" font-weight="normal" fill="#1a1a1a"  stroke="#1a1a1a" stroke-width="0.16">-1</text>
<line x1="475.5" y1="90.5" x2="475.5" y2="93.7" stroke="#111" stroke-width="1.0"/>
<text x="475.5" y="102.6" font-size="6.6" text-anchor="middle" font-weight="normal" fill="#1a1a1a"  stroke="#1a1a1a" stroke-width="0.16">0</text>
<line x1="491.75" y1="90.5" x2="491.75" y2="93.7" stroke="#111" stroke-width="1.0"/>
<text x="491.75" y="102.6" font-size="6.6" text-anchor="middle" font-weight="normal" fill="#1a1a1a"  stroke="#1a1a1a" stroke-width="0.16">1</text>
<line x1="508" y1="90.5" x2="508" y2="93.7" stroke="#111" stroke-width="1.0"/>
<text x="508" y="102.6" font-size="6.6" text-anchor="middle" font-weight="normal" fill="#1a1a1a"  stroke="#1a1a1a" stroke-width="0.16">2</text>
<text font-size="8.7" fill="#1a1a1a" stroke="#1a1a1a" stroke-width="0.1" transform="translate(395.7,59.3) rotate(-90)" text-anchor="middle" textLength="63.5" lengthAdjust="spacingAndGlyphs">% cell survival (AxV/PI<tspan font-size="5" dy="-2.8">−</tspan><tspan dy="2.8">)</tspan></text>
<text x="445.76" y="114.2" font-size="8.2" fill="#151515" stroke="#151515" stroke-width="0.28" textLength="38" lengthAdjust="spacingAndGlyphs">Bir log<tspan font-size="4.8" dy="2">10</tspan><tspan dy="-2"> (µM)</tspan></text>
<path d="M426.8 41.3L427.9 41.6L429 42L430.1 42.5L431.2 42.9L432.3 43.4L433.4 44L434.5 44.6L435.6 45.3L436.7 46L437.8 46.8L438.9 47.6L440 48.4L441.1 49.4L442.2 50.3L443.3 51.4L444.4 52.4L445.5 53.5L446.6 54.7L447.7 55.8L448.8 57L449.9 58.2L451 59.5L452.1 60.7L453.2 61.9L454.3 63.1L455.4 64.3L456.5 65.4L457.6 66.5L458.7 67.6L459.8 68.6L460.9 69.6L462 70.5L463.1 71.4L464.2 72.2L465.3 73L466.4 73.7L467.5 74.4L468.6 75L469.7 75.5L470.8 76.1L471.9 76.5L473 77L474.1 77.4L475.2 77.7L476.3 78.1L477.4 78.4L478.5 78.6L479.6 78.9L480.7 79.1L481.8 79.3L482.9 79.5L484 79.6L485.1 79.8L486.2 79.9L487.3 80L488.4 80.1L489.5 80.2L490.6 80.3L491.8 80.4" fill="none" stroke="#8a8ce0" stroke-width="0.9"/>
<path d="M426.75 39.5V43.1M425.55 39.5H427.95M425.55 43.1H427.95" stroke="#8a8ce0" stroke-width="0.6" fill="none"/>
<rect x="425.65" y="40.2" width="2.2" height="2.2" fill="#8a8ce0"/>
<path d="M446.25 51.2V57.2M445.05 51.2H447.45M445.05 57.2H447.45" stroke="#8a8ce0" stroke-width="0.6" fill="none"/>
<rect x="445.15" y="53.1" width="2.2" height="2.2" fill="#8a8ce0"/>
<path d="M457.62 62V71.6M456.43 62H458.82M456.43 71.6H458.82" stroke="#8a8ce0" stroke-width="0.6" fill="none"/>
<rect x="456.52" y="65.7" width="2.2" height="2.2" fill="#8a8ce0"/>
<path d="M469 70.1V79.7M467.8 70.1H470.2M467.8 79.7H470.2" stroke="#8a8ce0" stroke-width="0.6" fill="none"/>
<rect x="467.9" y="73.8" width="2.2" height="2.2" fill="#8a8ce0"/>
<path d="M480.38 75.5V82.7M479.18 75.5H481.57M479.18 82.7H481.57" stroke="#8a8ce0" stroke-width="0.6" fill="none"/>
<rect x="479.27" y="78" width="2.2" height="2.2" fill="#8a8ce0"/>
<path d="M491.75 76.82V84.02M490.55 76.82H492.95M490.55 84.02H492.95" stroke="#8a8ce0" stroke-width="0.6" fill="none"/>
<rect x="490.65" y="79.32" width="2.2" height="2.2" fill="#8a8ce0"/>
<path d="M426.8 41.3L427.9 41.6L429 42L430.1 42.4L431.2 42.8L432.3 43.3L433.4 43.9L434.5 44.4L435.6 45.1L436.7 45.8L437.8 46.5L438.9 47.3L440 48.1L441.1 49L442.2 50L443.3 51L444.4 52L445.5 53.1L446.6 54.2L447.7 55.4L448.8 56.5L449.9 57.7L451 58.9L452.1 60.2L453.2 61.4L454.3 62.6L455.4 63.7L456.5 64.9L457.6 66L458.7 67.1L459.8 68.1L460.9 69.1L462 70L463.1 70.9L464.2 71.8L465.3 72.5L466.4 73.3L467.5 73.9L468.6 74.5L469.7 75.1L470.8 75.6L471.9 76.1L473 76.6L474.1 77L475.2 77.3L476.3 77.7L477.4 78L478.5 78.2L479.6 78.5L480.7 78.7L481.8 78.9L482.9 79.1L484 79.2L485.1 79.4L486.2 79.5L487.3 79.6L488.4 79.7L489.5 79.8L490.6 79.9L491.8 80" fill="none" stroke="#5aa83c" stroke-width="0.9"/>
<path d="M426.75 39.5V43.1M425.55 39.5H427.95M425.55 43.1H427.95" stroke="#5aa83c" stroke-width="0.6" fill="none"/>
<rect x="425.65" y="40.2" width="2.2" height="2.2" fill="#5aa83c"/>
<path d="M446.25 50.75V56.75M445.05 50.75H447.45M445.05 56.75H447.45" stroke="#5aa83c" stroke-width="0.6" fill="none"/>
<rect x="445.15" y="52.65" width="2.2" height="2.2" fill="#5aa83c"/>
<path d="M457.62 60.86V71.66M456.43 60.86H458.82M456.43 71.66H458.82" stroke="#5aa83c" stroke-width="0.6" fill="none"/>
<rect x="456.52" y="65.16" width="2.2" height="2.2" fill="#5aa83c"/>
<path d="M469 69.68V79.28M467.8 69.68H470.2M467.8 79.28H470.2" stroke="#5aa83c" stroke-width="0.6" fill="none"/>
<rect x="467.9" y="73.38" width="2.2" height="2.2" fill="#5aa83c"/>
<path d="M480.38 75.14V82.34M479.18 75.14H481.57M479.18 82.34H481.57" stroke="#5aa83c" stroke-width="0.6" fill="none"/>
<rect x="479.27" y="77.64" width="2.2" height="2.2" fill="#5aa83c"/>
<path d="M491.75 76.4V83.6M490.55 76.4H492.95M490.55 83.6H492.95" stroke="#5aa83c" stroke-width="0.6" fill="none"/>
<rect x="490.65" y="78.9" width="2.2" height="2.2" fill="#5aa83c"/>
<path d="M426.8 38.9L427.9 39L429 39.2L430.1 39.4L431.2 39.7L432.3 39.9L433.4 40.1L434.5 40.4L435.6 40.7L436.7 41L437.8 41.3L438.9 41.6L440 42L441.1 42.3L442.2 42.7L443.3 43.1L444.4 43.5L445.5 44L446.6 44.4L447.7 44.9L448.8 45.4L449.9 45.9L451 46.4L452.1 47L453.2 47.5L454.3 48.1L455.4 48.7L456.5 49.3L457.6 49.9L458.7 50.5L459.8 51.1L460.9 51.7L462 52.3L463.1 53L464.2 53.6L465.3 54.2L466.4 54.8L467.5 55.4L468.6 56L469.7 56.6L470.8 57.1L471.9 57.7L473 58.2L474.1 58.7L475.2 59.2L476.3 59.7L477.4 60.2L478.5 60.6L479.6 61.1L480.7 61.5L481.8 61.9L482.9 62.3L484 62.6L485.1 63L486.2 63.3L487.3 63.6L488.4 63.9L489.5 64.2L490.6 64.4L491.8 64.7" fill="none" stroke="#b5103c" stroke-width="0.9"/>
<path d="M426.75 37.1V40.7M425.55 37.1H427.95M425.55 40.7H427.95" stroke="#b5103c" stroke-width="0.6" fill="none"/>
<rect x="425.65" y="37.8" width="2.2" height="2.2" fill="#b5103c"/>
<path d="M446.25 42.5V46.1M445.05 42.5H447.45M445.05 46.1H447.45" stroke="#b5103c" stroke-width="0.6" fill="none"/>
<rect x="445.15" y="43.2" width="2.2" height="2.2" fill="#b5103c"/>
<path d="M457.62 46.52V52.52M456.43 46.52H458.82M456.43 52.52H458.82" stroke="#b5103c" stroke-width="0.6" fill="none"/>
<rect x="456.52" y="48.42" width="2.2" height="2.2" fill="#b5103c"/>
<path d="M469 54.02V60.02M467.8 54.02H470.2M467.8 60.02H470.2" stroke="#b5103c" stroke-width="0.6" fill="none"/>
<rect x="467.9" y="55.92" width="2.2" height="2.2" fill="#b5103c"/>
<path d="M480.38 56.9V64.1M479.18 56.9H481.57M479.18 64.1H481.57" stroke="#b5103c" stroke-width="0.6" fill="none"/>
<rect x="479.27" y="59.4" width="2.2" height="2.2" fill="#b5103c"/>
<path d="M491.75 62V68M490.55 62H492.95M490.55 68H492.95" stroke="#b5103c" stroke-width="0.6" fill="none"/>
<rect x="490.65" y="63.9" width="2.2" height="2.2" fill="#b5103c"/>
<path d="M426.8 38.8L427.9 38.9L429 39.1L430.1 39.3L431.2 39.4L432.3 39.6L433.4 39.8L434.5 40L435.6 40.2L436.7 40.4L437.8 40.7L438.9 40.9L440 41.2L441.1 41.4L442.2 41.7L443.3 42L444.4 42.3L445.5 42.6L446.6 43L447.7 43.3L448.8 43.7L449.9 44.1L451 44.4L452.1 44.8L453.2 45.3L454.3 45.7L455.4 46.1L456.5 46.6L457.6 47L458.7 47.5L459.8 48L460.9 48.5L462 49L463.1 49.5L464.2 50L465.3 50.5L466.4 51L467.5 51.6L468.6 52.1L469.7 52.6L470.8 53.1L471.9 53.7L473 54.2L474.1 54.7L475.2 55.2L476.3 55.8L477.4 56.3L478.5 56.8L479.6 57.3L480.7 57.8L481.8 58.2L482.9 58.7L484 59.1L485.1 59.6L486.2 60L487.3 60.4L488.4 60.8L489.5 61.2L490.6 61.6L491.8 62" fill="none" stroke="#34405e" stroke-width="0.9"/>
<path d="M426.75 36.95V40.55M425.55 36.95H427.95M425.55 40.55H427.95" stroke="#34405e" stroke-width="0.6" fill="none"/>
<rect x="425.65" y="37.65" width="2.2" height="2.2" fill="#34405e"/>
<path d="M446.25 41.3V44.9M445.05 41.3H447.45M445.05 44.9H447.45" stroke="#34405e" stroke-width="0.6" fill="none"/>
<rect x="445.15" y="42" width="2.2" height="2.2" fill="#34405e"/>
<path d="M457.62 43.1V50.3M456.43 43.1H458.82M456.43 50.3H458.82" stroke="#34405e" stroke-width="0.6" fill="none"/>
<rect x="456.52" y="45.6" width="2.2" height="2.2" fill="#34405e"/>
<path d="M469 48.92V56.12M467.8 48.92H470.2M467.8 56.12H470.2" stroke="#34405e" stroke-width="0.6" fill="none"/>
<rect x="467.9" y="51.42" width="2.2" height="2.2" fill="#34405e"/>
<path d="M480.38 52.7V62.3M479.18 52.7H481.57M479.18 62.3H481.57" stroke="#34405e" stroke-width="0.6" fill="none"/>
<rect x="479.27" y="56.4" width="2.2" height="2.2" fill="#34405e"/>
<path d="M491.75 57.8V66.2M490.55 57.8H492.95M490.55 66.2H492.95" stroke="#34405e" stroke-width="0.6" fill="none"/>
<rect x="490.65" y="60.9" width="2.2" height="2.2" fill="#34405e"/>
<path d="M418.4 129.25 V192 H510.5" fill="none" stroke="#111" stroke-width="1.1"/>
<line x1="415.1" y1="192" x2="418.4" y2="192" stroke="#111" stroke-width="1.0"/>
<text x="412.4" y="194.35" font-size="6.6" text-anchor="end" font-weight="normal" fill="#1a1a1a"  stroke="#1a1a1a" stroke-width="0.16">0</text>
<line x1="415.1" y1="179.95" x2="418.4" y2="179.95" stroke="#111" stroke-width="1.0"/>
<text x="412.4" y="182.3" font-size="6.6" text-anchor="end" font-weight="normal" fill="#1a1a1a"  stroke="#1a1a1a" stroke-width="0.16">20</text>
<line x1="415.1" y1="167.9" x2="418.4" y2="167.9" stroke="#111" stroke-width="1.0"/>
<text x="412.4" y="170.25" font-size="6.6" text-anchor="end" font-weight="normal" fill="#1a1a1a"  stroke="#1a1a1a" stroke-width="0.16">40</text>
<line x1="415.1" y1="155.85" x2="418.4" y2="155.85" stroke="#111" stroke-width="1.0"/>
<text x="412.4" y="158.2" font-size="6.6" text-anchor="end" font-weight="normal" fill="#1a1a1a"  stroke="#1a1a1a" stroke-width="0.16">60</text>
<line x1="415.1" y1="143.8" x2="418.4" y2="143.8" stroke="#111" stroke-width="1.0"/>
<text x="412.4" y="146.15" font-size="6.6" text-anchor="end" font-weight="normal" fill="#1a1a1a"  stroke="#1a1a1a" stroke-width="0.16">80</text>
<line x1="415.1" y1="131.75" x2="418.4" y2="131.75" stroke="#111" stroke-width="1.0"/>
<text x="412.4" y="134.1" font-size="6.6" text-anchor="end" font-weight="normal" fill="#1a1a1a"  stroke="#1a1a1a" stroke-width="0.16">100</text>
<line x1="426.75" y1="192" x2="426.75" y2="195.2" stroke="#111" stroke-width="1.0"/>
<text x="426.75" y="204.1" font-size="6.6" text-anchor="middle" font-weight="normal" fill="#1a1a1a"  stroke="#1a1a1a" stroke-width="0.16">-3</text>
<line x1="443" y1="192" x2="443" y2="195.2" stroke="#111" stroke-width="1.0"/>
<text x="443" y="204.1" font-size="6.6" text-anchor="middle" font-weight="normal" fill="#1a1a1a"  stroke="#1a1a1a" stroke-width="0.16">-2</text>
<line x1="459.25" y1="192" x2="459.25" y2="195.2" stroke="#111" stroke-width="1.0"/>
<text x="459.25" y="204.1" font-size="6.6" text-anchor="middle" font-weight="normal" fill="#1a1a1a"  stroke="#1a1a1a" stroke-width="0.16">-1</text>
<line x1="475.5" y1="192" x2="475.5" y2="195.2" stroke="#111" stroke-width="1.0"/>
<text x="475.5" y="204.1" font-size="6.6" text-anchor="middle" font-weight="normal" fill="#1a1a1a"  stroke="#1a1a1a" stroke-width="0.16">0</text>
<line x1="491.75" y1="192" x2="491.75" y2="195.2" stroke="#111" stroke-width="1.0"/>
<text x="491.75" y="204.1" font-size="6.6" text-anchor="middle" font-weight="normal" fill="#1a1a1a"  stroke="#1a1a1a" stroke-width="0.16">1</text>
<line x1="508" y1="192" x2="508" y2="195.2" stroke="#111" stroke-width="1.0"/>
<text x="508" y="204.1" font-size="6.6" text-anchor="middle" font-weight="normal" fill="#1a1a1a"  stroke="#1a1a1a" stroke-width="0.16">2</text>
<text font-size="8.7" fill="#1a1a1a" stroke="#1a1a1a" stroke-width="0.1" transform="translate(395.7,160.68) rotate(-90)" text-anchor="middle" textLength="63.5" lengthAdjust="spacingAndGlyphs">% cell survival (AxV/PI<tspan font-size="5" dy="-2.8">−</tspan><tspan dy="2.8">)</tspan></text>
<text x="445.76" y="213.9" font-size="8.2" fill="#151515" stroke="#151515" stroke-width="0.28" textLength="38" lengthAdjust="spacingAndGlyphs">Bir log<tspan font-size="4.8" dy="2">10</tspan><tspan dy="-2"> (µM)</tspan></text>
<path d="M426.8 162.5L427.9 162.7L429 163L430.1 163.5L431.2 164.1L432.3 164.9L433.4 165.9L434.5 167.3L435.6 168.9L436.7 170.8L437.8 173L438.9 175.3L440 177.6L441.1 179.8L442.2 181.7L443.3 183.4L444.4 184.8L445.5 185.9L446.6 186.7L447.7 187.3L448.8 187.8L449.9 188.1L451 188.4L452.1 188.5L453.2 188.7L454.3 188.8L455.4 188.8L456.5 188.9L457.6 188.9L458.7 188.9L459.8 188.9L460.9 189L462 189L463.1 189L464.2 189L465.3 189L466.4 189L467.5 189L468.6 189L469.7 189L470.8 189L471.9 189L473 189L474.1 189L475.2 189L476.3 189L477.4 189L478.5 189L479.6 189L480.7 189L481.8 189L482.9 189L484 189L485.1 189L486.2 189L487.3 189L488.4 189L489.5 189L490.6 189L491.8 189" fill="none" stroke="#8a8ce0" stroke-width="0.9"/>
<path d="M426.75 159.47V165.49M425.55 159.47H427.95M425.55 165.49H427.95" stroke="#8a8ce0" stroke-width="0.6" fill="none"/>
<rect x="425.65" y="161.38" width="2.2" height="2.2" fill="#8a8ce0"/>
<path d="M446.25 184.29V186.7M445.05 184.29H447.45M445.05 186.7H447.45" stroke="#8a8ce0" stroke-width="0.6" fill="none"/>
<rect x="445.15" y="184.39" width="2.2" height="2.2" fill="#8a8ce0"/>
<path d="M457.62 188.38V189.59M456.43 188.38H458.82M456.43 189.59H458.82" stroke="#8a8ce0" stroke-width="0.6" fill="none"/>
<rect x="456.52" y="187.89" width="2.2" height="2.2" fill="#8a8ce0"/>
<path d="M469 188.38V189.59M467.8 188.38H470.2M467.8 189.59H470.2" stroke="#8a8ce0" stroke-width="0.6" fill="none"/>
<rect x="467.9" y="187.89" width="2.2" height="2.2" fill="#8a8ce0"/>
<path d="M480.38 188.38V189.59M479.18 188.38H481.57M479.18 189.59H481.57" stroke="#8a8ce0" stroke-width="0.6" fill="none"/>
<rect x="479.27" y="187.89" width="2.2" height="2.2" fill="#8a8ce0"/>
<path d="M491.75 188.14V189.35M490.55 188.14H492.95M490.55 189.35H492.95" stroke="#8a8ce0" stroke-width="0.6" fill="none"/>
<rect x="490.65" y="187.65" width="2.2" height="2.2" fill="#8a8ce0"/>
<path d="M426.8 168.3L427.9 169.2L429 170.2L430.1 171.3L431.2 172.4L432.3 173.5L433.4 174.7L434.5 175.9L435.6 177.1L436.7 178.2L437.8 179.4L438.9 180.5L440 181.5L441.1 182.5L442.2 183.4L443.3 184.2L444.4 185L445.5 185.6L446.6 186.2L447.7 186.8L448.8 187.3L449.9 187.7L451 188.1L452.1 188.4L453.2 188.7L454.3 188.9L455.4 189.1L456.5 189.3L457.6 189.4L458.7 189.6L459.8 189.7L460.9 189.8L462 189.9L463.1 189.9L464.2 190L465.3 190.1L466.4 190.1L467.5 190.1L468.6 190.2L469.7 190.2L470.8 190.2L471.9 190.2L473 190.3L474.1 190.3L475.2 190.3L476.3 190.3L477.4 190.3L478.5 190.3L479.6 190.3L480.7 190.3L481.8 190.3L482.9 190.3L484 190.3L485.1 190.3L486.2 190.3L487.3 190.3L488.4 190.3L489.5 190.3L490.6 190.3L491.8 190.3" fill="none" stroke="#5aa83c" stroke-width="0.9"/>
<path d="M426.75 165.25V171.27M425.55 165.25H427.95M425.55 171.27H427.95" stroke="#5aa83c" stroke-width="0.6" fill="none"/>
<rect x="425.65" y="167.16" width="2.2" height="2.2" fill="#5aa83c"/>
<path d="M446.25 185.07V187.48M445.05 185.07H447.45M445.05 187.48H447.45" stroke="#5aa83c" stroke-width="0.6" fill="none"/>
<rect x="445.15" y="185.18" width="2.2" height="2.2" fill="#5aa83c"/>
<path d="M457.62 188.99V190.19M456.43 188.99H458.82M456.43 190.19H458.82" stroke="#5aa83c" stroke-width="0.6" fill="none"/>
<rect x="456.52" y="188.49" width="2.2" height="2.2" fill="#5aa83c"/>
<path d="M469 189.41V190.61M467.8 189.41H470.2M467.8 190.61H470.2" stroke="#5aa83c" stroke-width="0.6" fill="none"/>
<rect x="467.9" y="188.91" width="2.2" height="2.2" fill="#5aa83c"/>
<path d="M480.38 189.59V190.79M479.18 189.59H481.57M479.18 190.79H481.57" stroke="#5aa83c" stroke-width="0.6" fill="none"/>
<rect x="479.27" y="189.09" width="2.2" height="2.2" fill="#5aa83c"/>
<path d="M491.75 189.89V191.1M490.55 189.89H492.95M490.55 191.1H492.95" stroke="#5aa83c" stroke-width="0.6" fill="none"/>
<rect x="490.65" y="189.39" width="2.2" height="2.2" fill="#5aa83c"/>
<path d="M426.8 137.4L427.9 137.4L429 137.5L430.1 137.5L431.2 137.6L432.3 137.6L433.4 137.7L434.5 137.7L435.6 137.8L436.7 137.9L437.8 137.9L438.9 138L440 138.1L441.1 138.2L442.2 138.3L443.3 138.5L444.4 138.6L445.5 138.8L446.6 138.9L447.7 139.1L448.8 139.3L449.9 139.5L451 139.7L452.1 139.9L453.2 140.2L454.3 140.4L455.4 140.7L456.5 140.9L457.6 141.2L458.7 141.5L459.8 141.8L460.9 142.1L462 142.4L463.1 142.6L464.2 142.9L465.3 143.2L466.4 143.5L467.5 143.8L468.6 144L469.7 144.3L470.8 144.5L471.9 144.7L473 144.9L474.1 145.1L475.2 145.3L476.3 145.5L477.4 145.6L478.5 145.8L479.6 145.9L480.7 146.1L481.8 146.2L482.9 146.3L484 146.4L485.1 146.5L486.2 146.5L487.3 146.6L488.4 146.7L489.5 146.7L490.6 146.8L491.8 146.8" fill="none" stroke="#b5103c" stroke-width="0.9"/>
<path d="M426.75 136.27V138.68M425.55 136.27H427.95M425.55 138.68H427.95" stroke="#b5103c" stroke-width="0.6" fill="none"/>
<rect x="425.65" y="136.37" width="2.2" height="2.2" fill="#b5103c"/>
<path d="M446.25 135.12V142.35M445.05 135.12H447.45M445.05 142.35H447.45" stroke="#b5103c" stroke-width="0.6" fill="none"/>
<rect x="445.15" y="137.64" width="2.2" height="2.2" fill="#b5103c"/>
<path d="M457.62 137.65V144.88M456.43 137.65H458.82M456.43 144.88H458.82" stroke="#b5103c" stroke-width="0.6" fill="none"/>
<rect x="456.52" y="140.17" width="2.2" height="2.2" fill="#b5103c"/>
<path d="M469 139.4V149.04M467.8 139.4H470.2M467.8 149.04H470.2" stroke="#b5103c" stroke-width="0.6" fill="none"/>
<rect x="467.9" y="143.12" width="2.2" height="2.2" fill="#b5103c"/>
<path d="M480.38 139.7V151.75M479.18 139.7H481.57M479.18 151.75H481.57" stroke="#b5103c" stroke-width="0.6" fill="none"/>
<rect x="479.27" y="144.63" width="2.2" height="2.2" fill="#b5103c"/>
<path d="M491.75 142.17V151.81M490.55 142.17H492.95M490.55 151.81H492.95" stroke="#b5103c" stroke-width="0.6" fill="none"/>
<rect x="490.65" y="145.89" width="2.2" height="2.2" fill="#b5103c"/>
<path d="M426.8 136.3L427.9 136.3L429 136.3L430.1 136.4L431.2 136.4L432.3 136.4L433.4 136.5L434.5 136.5L435.6 136.6L436.7 136.7L437.8 136.7L438.9 136.8L440 136.9L441.1 137L442.2 137.1L443.3 137.2L444.4 137.3L445.5 137.5L446.6 137.6L447.7 137.8L448.8 137.9L449.9 138.1L451 138.3L452.1 138.5L453.2 138.8L454.3 139L455.4 139.2L456.5 139.5L457.6 139.8L458.7 140.1L459.8 140.4L460.9 140.7L462 141L463.1 141.3L464.2 141.6L465.3 141.9L466.4 142.2L467.5 142.5L468.6 142.8L469.7 143.1L470.8 143.4L471.9 143.6L473 143.9L474.1 144.1L475.2 144.4L476.3 144.6L477.4 144.8L478.5 145L479.6 145.2L480.7 145.3L481.8 145.5L482.9 145.6L484 145.7L485.1 145.9L486.2 146L487.3 146.1L488.4 146.1L489.5 146.2L490.6 146.3L491.8 146.4" fill="none" stroke="#34405e" stroke-width="0.9"/>
<path d="M426.75 135.06V137.47M425.55 135.06H427.95M425.55 137.47H427.95" stroke="#34405e" stroke-width="0.6" fill="none"/>
<rect x="425.65" y="135.17" width="2.2" height="2.2" fill="#34405e"/>
<path d="M446.25 135.67V139.28M445.05 135.67H447.45M445.05 139.28H447.45" stroke="#34405e" stroke-width="0.6" fill="none"/>
<rect x="445.15" y="136.37" width="2.2" height="2.2" fill="#34405e"/>
<path d="M457.62 137.59V142.41M456.43 137.59H458.82M456.43 142.41H458.82" stroke="#34405e" stroke-width="0.6" fill="none"/>
<rect x="456.52" y="138.9" width="2.2" height="2.2" fill="#34405e"/>
<path d="M469 137.78V147.41M467.8 137.78H470.2M467.8 147.41H470.2" stroke="#34405e" stroke-width="0.6" fill="none"/>
<rect x="467.9" y="141.5" width="2.2" height="2.2" fill="#34405e"/>
<path d="M480.38 138.38V152.84M479.18 138.38H481.57M479.18 152.84H481.57" stroke="#34405e" stroke-width="0.6" fill="none"/>
<rect x="479.27" y="144.51" width="2.2" height="2.2" fill="#34405e"/>
<path d="M491.75 141.39V151.03M490.55 141.39H492.95M490.55 151.03H492.95" stroke="#34405e" stroke-width="0.6" fill="none"/>
<rect x="490.65" y="145.11" width="2.2" height="2.2" fill="#34405e"/>
<path d="M418.4 228.75 V291.25 H510.5" fill="none" stroke="#111" stroke-width="1.1"/>
<line x1="415.1" y1="291.25" x2="418.4" y2="291.25" stroke="#111" stroke-width="1.0"/>
<text x="412.4" y="293.6" font-size="6.6" text-anchor="end" font-weight="normal" fill="#1a1a1a"  stroke="#1a1a1a" stroke-width="0.16">0</text>
<line x1="415.1" y1="279.25" x2="418.4" y2="279.25" stroke="#111" stroke-width="1.0"/>
<text x="412.4" y="281.6" font-size="6.6" text-anchor="end" font-weight="normal" fill="#1a1a1a"  stroke="#1a1a1a" stroke-width="0.16">20</text>
<line x1="415.1" y1="267.25" x2="418.4" y2="267.25" stroke="#111" stroke-width="1.0"/>
<text x="412.4" y="269.6" font-size="6.6" text-anchor="end" font-weight="normal" fill="#1a1a1a"  stroke="#1a1a1a" stroke-width="0.16">40</text>
<line x1="415.1" y1="255.25" x2="418.4" y2="255.25" stroke="#111" stroke-width="1.0"/>
<text x="412.4" y="257.6" font-size="6.6" text-anchor="end" font-weight="normal" fill="#1a1a1a"  stroke="#1a1a1a" stroke-width="0.16">60</text>
<line x1="415.1" y1="243.25" x2="418.4" y2="243.25" stroke="#111" stroke-width="1.0"/>
<text x="412.4" y="245.6" font-size="6.6" text-anchor="end" font-weight="normal" fill="#1a1a1a"  stroke="#1a1a1a" stroke-width="0.16">80</text>
<line x1="415.1" y1="231.25" x2="418.4" y2="231.25" stroke="#111" stroke-width="1.0"/>
<text x="412.4" y="233.6" font-size="6.6" text-anchor="end" font-weight="normal" fill="#1a1a1a"  stroke="#1a1a1a" stroke-width="0.16">100</text>
<line x1="426.75" y1="291.25" x2="426.75" y2="294.45" stroke="#111" stroke-width="1.0"/>
<text x="426.75" y="303.35" font-size="6.6" text-anchor="middle" font-weight="normal" fill="#1a1a1a"  stroke="#1a1a1a" stroke-width="0.16">-3</text>
<line x1="443" y1="291.25" x2="443" y2="294.45" stroke="#111" stroke-width="1.0"/>
<text x="443" y="303.35" font-size="6.6" text-anchor="middle" font-weight="normal" fill="#1a1a1a"  stroke="#1a1a1a" stroke-width="0.16">-2</text>
<line x1="459.25" y1="291.25" x2="459.25" y2="294.45" stroke="#111" stroke-width="1.0"/>
<text x="459.25" y="303.35" font-size="6.6" text-anchor="middle" font-weight="normal" fill="#1a1a1a"  stroke="#1a1a1a" stroke-width="0.16">-1</text>
<line x1="475.5" y1="291.25" x2="475.5" y2="294.45" stroke="#111" stroke-width="1.0"/>
<text x="475.5" y="303.35" font-size="6.6" text-anchor="middle" font-weight="normal" fill="#1a1a1a"  stroke="#1a1a1a" stroke-width="0.16">0</text>
<line x1="491.75" y1="291.25" x2="491.75" y2="294.45" stroke="#111" stroke-width="1.0"/>
<text x="491.75" y="303.35" font-size="6.6" text-anchor="middle" font-weight="normal" fill="#1a1a1a"  stroke="#1a1a1a" stroke-width="0.16">1</text>
<line x1="508" y1="291.25" x2="508" y2="294.45" stroke="#111" stroke-width="1.0"/>
<text x="508" y="303.35" font-size="6.6" text-anchor="middle" font-weight="normal" fill="#1a1a1a"  stroke="#1a1a1a" stroke-width="0.16">2</text>
<text font-size="8.7" fill="#1a1a1a" stroke="#1a1a1a" stroke-width="0.1" transform="translate(395.7,260.05) rotate(-90)" text-anchor="middle" textLength="63.5" lengthAdjust="spacingAndGlyphs">% cell survival (AxV/PI<tspan font-size="5" dy="-2.8">−</tspan><tspan dy="2.8">)</tspan></text>
<text x="445.76" y="315.15" font-size="8.2" fill="#151515" stroke="#151515" stroke-width="0.28" textLength="38" lengthAdjust="spacingAndGlyphs">Bir log<tspan font-size="4.8" dy="2">10</tspan><tspan dy="-2"> (µM)</tspan></text>
<path d="M426.8 267.1L427.9 267.2L429 267.4L430.1 267.7L431.2 268L432.3 268.5L433.4 269.1L434.5 269.8L435.6 270.7L436.7 271.9L437.8 273.2L438.9 274.7L440 276.3L441.1 277.9L442.2 279.5L443.3 281L444.4 282.3L445.5 283.5L446.6 284.4L447.7 285.2L448.8 285.8L449.9 286.3L451 286.6L452.1 286.9L453.2 287.1L454.3 287.2L455.4 287.3L456.5 287.4L457.6 287.5L458.7 287.5L459.8 287.6L460.9 287.6L462 287.6L463.1 287.6L464.2 287.6L465.3 287.6L466.4 287.6L467.5 287.6L468.6 287.6L469.7 287.6L470.8 287.6L471.9 287.6L473 287.6L474.1 287.6L475.2 287.6L476.3 287.6L477.4 287.6L478.5 287.6L479.6 287.6L480.7 287.6L481.8 287.6L482.9 287.6L484 287.6L485.1 287.6L486.2 287.6L487.3 287.6L488.4 287.6L489.5 287.6L490.6 287.6L491.8 287.6" fill="none" stroke="#8a8ce0" stroke-width="0.9"/>
<path d="M426.75 262.03V276.43M425.55 262.03H427.95M425.55 276.43H427.95" stroke="#8a8ce0" stroke-width="0.6" fill="none"/>
<rect x="425.65" y="268.13" width="2.2" height="2.2" fill="#8a8ce0"/>
<path d="M446.25 282.25V284.65M445.05 282.25H447.45M445.05 284.65H447.45" stroke="#8a8ce0" stroke-width="0.6" fill="none"/>
<rect x="445.15" y="282.35" width="2.2" height="2.2" fill="#8a8ce0"/>
<path d="M457.62 285.85V288.25M456.43 285.85H458.82M456.43 288.25H458.82" stroke="#8a8ce0" stroke-width="0.6" fill="none"/>
<rect x="456.52" y="285.95" width="2.2" height="2.2" fill="#8a8ce0"/>
<path d="M469 286.9V288.1M467.8 286.9H470.2M467.8 288.1H470.2" stroke="#8a8ce0" stroke-width="0.6" fill="none"/>
<rect x="467.9" y="286.4" width="2.2" height="2.2" fill="#8a8ce0"/>
<path d="M480.38 286.9V288.1M479.18 286.9H481.57M479.18 288.1H481.57" stroke="#8a8ce0" stroke-width="0.6" fill="none"/>
<rect x="479.27" y="286.4" width="2.2" height="2.2" fill="#8a8ce0"/>
<path d="M491.75 286.9V288.1M490.55 286.9H492.95M490.55 288.1H492.95" stroke="#8a8ce0" stroke-width="0.6" fill="none"/>
<rect x="490.65" y="286.4" width="2.2" height="2.2" fill="#8a8ce0"/>
<path d="M426.8 264.7L427.9 266L429 267.4L430.1 268.9L431.2 270.3L432.3 271.8L433.4 273.2L434.5 274.6L435.6 276L436.7 277.2L437.8 278.4L438.9 279.6L440 280.6L441.1 281.5L442.2 282.4L443.3 283.1L444.4 283.8L445.5 284.4L446.6 285L447.7 285.4L448.8 285.8L449.9 286.2L451 286.5L452.1 286.8L453.2 287L454.3 287.2L455.4 287.4L456.5 287.5L457.6 287.7L458.7 287.8L459.8 287.9L460.9 287.9L462 288L463.1 288.1L464.2 288.1L465.3 288.2L466.4 288.2L467.5 288.2L468.6 288.3L469.7 288.3L470.8 288.3L471.9 288.3L473 288.3L474.1 288.4L475.2 288.4L476.3 288.4L477.4 288.4L478.5 288.4L479.6 288.4L480.7 288.4L481.8 288.4L482.9 288.4L484 288.4L485.1 288.4L486.2 288.4L487.3 288.4L488.4 288.4L489.5 288.4L490.6 288.4L491.8 288.4" fill="none" stroke="#5aa83c" stroke-width="0.9"/>
<path d="M426.75 262.09V266.89M425.55 262.09H427.95M425.55 266.89H427.95" stroke="#5aa83c" stroke-width="0.6" fill="none"/>
<rect x="425.65" y="263.39" width="2.2" height="2.2" fill="#5aa83c"/>
<path d="M446.25 283.81V286.21M445.05 283.81H447.45M445.05 286.21H447.45" stroke="#5aa83c" stroke-width="0.6" fill="none"/>
<rect x="445.15" y="283.91" width="2.2" height="2.2" fill="#5aa83c"/>
<path d="M457.62 287.41V288.61M456.43 287.41H458.82M456.43 288.61H458.82" stroke="#5aa83c" stroke-width="0.6" fill="none"/>
<rect x="456.52" y="286.91" width="2.2" height="2.2" fill="#5aa83c"/>
<path d="M469 287.65V288.85M467.8 287.65H470.2M467.8 288.85H470.2" stroke="#5aa83c" stroke-width="0.6" fill="none"/>
<rect x="467.9" y="287.15" width="2.2" height="2.2" fill="#5aa83c"/>
<path d="M480.38 287.65V288.85M479.18 287.65H481.57M479.18 288.85H481.57" stroke="#5aa83c" stroke-width="0.6" fill="none"/>
<rect x="479.27" y="287.15" width="2.2" height="2.2" fill="#5aa83c"/>
<path d="M491.75 287.65V288.85M490.55 287.65H492.95M490.55 288.85H492.95" stroke="#5aa83c" stroke-width="0.6" fill="none"/>
<rect x="490.65" y="287.15" width="2.2" height="2.2" fill="#5aa83c"/>
<path d="M426.8 239.3L427.9 239.4L429 239.5L430.1 239.6L431.2 239.7L432.3 239.8L433.4 239.9L434.5 240L435.6 240.1L436.7 240.2L437.8 240.3L438.9 240.4L440 240.5L441.1 240.6L442.2 240.8L443.3 240.9L444.4 241L445.5 241.2L446.6 241.3L447.7 241.4L448.8 241.6L449.9 241.7L451 241.9L452.1 242.1L453.2 242.2L454.3 242.4L455.4 242.6L456.5 242.8L457.6 242.9L458.7 243.1L459.8 243.3L460.9 243.5L462 243.7L463.1 243.9L464.2 244.1L465.3 244.3L466.4 244.6L467.5 244.8L468.6 245L469.7 245.3L470.8 245.5L471.9 245.7L473 246L474.1 246.2L475.2 246.5L476.3 246.7L477.4 247L478.5 247.3L479.6 247.5L480.7 247.8L481.8 248.1L482.9 248.3L484 248.6L485.1 248.9L486.2 249.2L487.3 249.5L488.4 249.8L489.5 250.1L490.6 250.4L491.8 250.7" fill="none" stroke="#b5103c" stroke-width="0.9"/>
<path d="M426.75 233.5V245.5M425.55 233.5H427.95M425.55 245.5H427.95" stroke="#b5103c" stroke-width="0.6" fill="none"/>
<rect x="425.65" y="238.4" width="2.2" height="2.2" fill="#b5103c"/>
<path d="M446.25 234.49V246.49M445.05 234.49H447.45M445.05 246.49H447.45" stroke="#b5103c" stroke-width="0.6" fill="none"/>
<rect x="445.15" y="239.39" width="2.2" height="2.2" fill="#b5103c"/>
<path d="M457.62 237.73V249.73M456.43 237.73H458.82M456.43 249.73H458.82" stroke="#b5103c" stroke-width="0.6" fill="none"/>
<rect x="456.52" y="242.63" width="2.2" height="2.2" fill="#b5103c"/>
<path d="M469 237.85V252.25M467.8 237.85H470.2M467.8 252.25H470.2" stroke="#b5103c" stroke-width="0.6" fill="none"/>
<rect x="467.9" y="243.95" width="2.2" height="2.2" fill="#b5103c"/>
<path d="M480.38 236.65V258.25M479.18 236.65H481.57M479.18 258.25H481.57" stroke="#b5103c" stroke-width="0.6" fill="none"/>
<rect x="479.27" y="246.35" width="2.2" height="2.2" fill="#b5103c"/>
<path d="M491.75 235.15V266.35M490.55 235.15H492.95M490.55 266.35H492.95" stroke="#b5103c" stroke-width="0.6" fill="none"/>
<rect x="490.65" y="249.65" width="2.2" height="2.2" fill="#b5103c"/>
<path d="M426.8 237.5L427.9 237.5L429 237.6L430.1 237.7L431.2 237.8L432.3 237.9L433.4 238L434.5 238.1L435.6 238.2L436.7 238.3L437.8 238.4L438.9 238.5L440 238.7L441.1 238.8L442.2 238.9L443.3 239.1L444.4 239.2L445.5 239.3L446.6 239.5L447.7 239.6L448.8 239.8L449.9 239.9L451 240.1L452.1 240.3L453.2 240.5L454.3 240.6L455.4 240.8L456.5 241L457.6 241.2L458.7 241.4L459.8 241.6L460.9 241.9L462 242.1L463.1 242.3L464.2 242.6L465.3 242.8L466.4 243.1L467.5 243.3L468.6 243.6L469.7 243.9L470.8 244.1L471.9 244.4L473 244.7L474.1 245L475.2 245.4L476.3 245.7L477.4 246L478.5 246.3L479.6 246.7L480.7 247L481.8 247.4L482.9 247.8L484 248.1L485.1 248.5L486.2 248.9L487.3 249.3L488.4 249.7L489.5 250.1L490.6 250.6L491.8 251" fill="none" stroke="#34405e" stroke-width="0.9"/>
<path d="M426.75 232.69V242.29M425.55 232.69H427.95M425.55 242.29H427.95" stroke="#34405e" stroke-width="0.6" fill="none"/>
<rect x="425.65" y="236.39" width="2.2" height="2.2" fill="#34405e"/>
<path d="M446.25 234.43V244.03M445.05 234.43H447.45M445.05 244.03H447.45" stroke="#34405e" stroke-width="0.6" fill="none"/>
<rect x="445.15" y="238.13" width="2.2" height="2.2" fill="#34405e"/>
<path d="M457.62 235.27V247.27M456.43 235.27H458.82M456.43 247.27H458.82" stroke="#34405e" stroke-width="0.6" fill="none"/>
<rect x="456.52" y="240.17" width="2.2" height="2.2" fill="#34405e"/>
<path d="M469 237.07V251.47M467.8 237.07H470.2M467.8 251.47H470.2" stroke="#34405e" stroke-width="0.6" fill="none"/>
<rect x="467.9" y="243.17" width="2.2" height="2.2" fill="#34405e"/>
<path d="M480.38 237.25V255.25M479.18 237.25H481.57M479.18 255.25H481.57" stroke="#34405e" stroke-width="0.6" fill="none"/>
<rect x="479.27" y="245.15" width="2.2" height="2.2" fill="#34405e"/>
<path d="M491.75 236.23V266.23M490.55 236.23H492.95M490.55 266.23H492.95" stroke="#34405e" stroke-width="0.6" fill="none"/>
<rect x="490.65" y="250.13" width="2.2" height="2.2" fill="#34405e"/>
<path d="M418.4 329.25 V391.75 H510.5" fill="none" stroke="#111" stroke-width="1.1"/>
<line x1="415.1" y1="391.75" x2="418.4" y2="391.75" stroke="#111" stroke-width="1.0"/>
<text x="412.4" y="394.1" font-size="6.6" text-anchor="end" font-weight="normal" fill="#1a1a1a"  stroke="#1a1a1a" stroke-width="0.16">0</text>
<line x1="415.1" y1="379.75" x2="418.4" y2="379.75" stroke="#111" stroke-width="1.0"/>
<text x="412.4" y="382.1" font-size="6.6" text-anchor="end" font-weight="normal" fill="#1a1a1a"  stroke="#1a1a1a" stroke-width="0.16">20</text>
<line x1="415.1" y1="367.75" x2="418.4" y2="367.75" stroke="#111" stroke-width="1.0"/>
<text x="412.4" y="370.1" font-size="6.6" text-anchor="end" font-weight="normal" fill="#1a1a1a"  stroke="#1a1a1a" stroke-width="0.16">40</text>
<line x1="415.1" y1="355.75" x2="418.4" y2="355.75" stroke="#111" stroke-width="1.0"/>
<text x="412.4" y="358.1" font-size="6.6" text-anchor="end" font-weight="normal" fill="#1a1a1a"  stroke="#1a1a1a" stroke-width="0.16">60</text>
<line x1="415.1" y1="343.75" x2="418.4" y2="343.75" stroke="#111" stroke-width="1.0"/>
<text x="412.4" y="346.1" font-size="6.6" text-anchor="end" font-weight="normal" fill="#1a1a1a"  stroke="#1a1a1a" stroke-width="0.16">80</text>
<line x1="415.1" y1="331.75" x2="418.4" y2="331.75" stroke="#111" stroke-width="1.0"/>
<text x="412.4" y="334.1" font-size="6.6" text-anchor="end" font-weight="normal" fill="#1a1a1a"  stroke="#1a1a1a" stroke-width="0.16">100</text>
<line x1="426.75" y1="391.75" x2="426.75" y2="394.95" stroke="#111" stroke-width="1.0"/>
<text x="426.75" y="403.85" font-size="6.6" text-anchor="middle" font-weight="normal" fill="#1a1a1a"  stroke="#1a1a1a" stroke-width="0.16">-3</text>
<line x1="443" y1="391.75" x2="443" y2="394.95" stroke="#111" stroke-width="1.0"/>
<text x="443" y="403.85" font-size="6.6" text-anchor="middle" font-weight="normal" fill="#1a1a1a"  stroke="#1a1a1a" stroke-width="0.16">-2</text>
<line x1="459.25" y1="391.75" x2="459.25" y2="394.95" stroke="#111" stroke-width="1.0"/>
<text x="459.25" y="403.85" font-size="6.6" text-anchor="middle" font-weight="normal" fill="#1a1a1a"  stroke="#1a1a1a" stroke-width="0.16">-1</text>
<line x1="475.5" y1="391.75" x2="475.5" y2="394.95" stroke="#111" stroke-width="1.0"/>
<text x="475.5" y="403.85" font-size="6.6" text-anchor="middle" font-weight="normal" fill="#1a1a1a"  stroke="#1a1a1a" stroke-width="0.16">0</text>
<line x1="491.75" y1="391.75" x2="491.75" y2="394.95" stroke="#111" stroke-width="1.0"/>
<text x="491.75" y="403.85" font-size="6.6" text-anchor="middle" font-weight="normal" fill="#1a1a1a"  stroke="#1a1a1a" stroke-width="0.16">1</text>
<line x1="508" y1="391.75" x2="508" y2="394.95" stroke="#111" stroke-width="1.0"/>
<text x="508" y="403.85" font-size="6.6" text-anchor="middle" font-weight="normal" fill="#1a1a1a"  stroke="#1a1a1a" stroke-width="0.16">2</text>
<text font-size="8.7" fill="#1a1a1a" stroke="#1a1a1a" stroke-width="0.1" transform="translate(395.7,360.55) rotate(-90)" text-anchor="middle" textLength="63.5" lengthAdjust="spacingAndGlyphs">% cell survival (AxV/PI<tspan font-size="5" dy="-2.8">−</tspan><tspan dy="2.8">)</tspan></text>
<text x="445.76" y="415.15" font-size="8.2" fill="#151515" stroke="#151515" stroke-width="0.28" textLength="38" lengthAdjust="spacingAndGlyphs">Bir log<tspan font-size="4.8" dy="2">10</tspan><tspan dy="-2"> (µM)</tspan></text>
<path d="M426.8 337.4L427.9 337.5L429 337.5L430.1 337.5L431.2 337.5L432.3 337.5L433.4 337.5L434.5 337.6L435.6 337.6L436.7 337.6L437.8 337.6L438.9 337.6L440 337.6L441.1 337.7L442.2 337.7L443.3 337.7L444.4 337.7L445.5 337.7L446.6 337.8L447.7 337.8L448.8 337.8L449.9 337.8L451 337.9L452.1 337.9L453.2 337.9L454.3 338L455.4 338L456.5 338L457.6 338L458.7 338.1L459.8 338.1L460.9 338.1L462 338.2L463.1 338.2L464.2 338.2L465.3 338.2L466.4 338.3L467.5 338.3L468.6 338.3L469.7 338.4L470.8 338.4L471.9 338.4L473 338.5L474.1 338.5L475.2 338.5L476.3 338.6L477.4 338.6L478.5 338.6L479.6 338.6L480.7 338.7L481.8 338.7L482.9 338.7L484 338.8L485.1 338.8L486.2 338.8L487.3 338.8L488.4 338.9L489.5 338.9L490.6 338.9L491.8 338.9" fill="none" stroke="#6b86b0" stroke-width="0.9"/>
<path d="M426.75 335.65V339.25M425.55 335.65H427.95M425.55 339.25H427.95" stroke="#6b86b0" stroke-width="0.6" fill="none"/>
<rect x="425.65" y="336.35" width="2.2" height="2.2" fill="#6b86b0"/>
<path d="M446.25 335.95V339.55M445.05 335.95H447.45M445.05 339.55H447.45" stroke="#6b86b0" stroke-width="0.6" fill="none"/>
<rect x="445.15" y="336.65" width="2.2" height="2.2" fill="#6b86b0"/>
<path d="M457.62 336.25V339.85M456.43 336.25H458.82M456.43 339.85H458.82" stroke="#6b86b0" stroke-width="0.6" fill="none"/>
<rect x="456.52" y="336.95" width="2.2" height="2.2" fill="#6b86b0"/>
<path d="M469 336.55V340.15M467.8 336.55H470.2M467.8 340.15H470.2" stroke="#6b86b0" stroke-width="0.6" fill="none"/>
<rect x="467.9" y="337.25" width="2.2" height="2.2" fill="#6b86b0"/>
<path d="M480.38 336.85V340.45M479.18 336.85H481.57M479.18 340.45H481.57" stroke="#6b86b0" stroke-width="0.6" fill="none"/>
<rect x="479.27" y="337.55" width="2.2" height="2.2" fill="#6b86b0"/>
<path d="M491.75 337.15V340.75M490.55 337.15H492.95M490.55 340.75H492.95" stroke="#6b86b0" stroke-width="0.6" fill="none"/>
<rect x="490.65" y="337.85" width="2.2" height="2.2" fill="#6b86b0"/>
<path d="M426.8 338.8L427.9 339L429 339.3L430.1 339.5L431.2 339.8L432.3 340L433.4 340.3L434.5 340.5L435.6 340.8L436.7 341L437.8 341.3L438.9 341.6L440 341.9L441.1 342.1L442.2 342.4L443.3 342.7L444.4 343L445.5 343.3L446.6 343.6L447.7 343.9L448.8 344.2L449.9 344.5L451 344.8L452.1 345.1L453.2 345.4L454.3 345.7L455.4 346L456.5 346.3L457.6 346.6L458.7 346.9L459.8 347.2L460.9 347.5L462 347.8L463.1 348L464.2 348.3L465.3 348.6L466.4 348.9L467.5 349.2L468.6 349.5L469.7 349.8L470.8 350L471.9 350.3L473 350.6L474.1 350.8L475.2 351.1L476.3 351.3L477.4 351.6L478.5 351.8L479.6 352.1L480.7 352.3L481.8 352.5L482.9 352.8L484 353L485.1 353.2L486.2 353.4L487.3 353.6L488.4 353.8L489.5 354L490.6 354.2L491.8 354.4" fill="none" stroke="#8a8ce0" stroke-width="0.9"/>
<path d="M426.75 336.97V340.57M425.55 336.97H427.95M425.55 340.57H427.95" stroke="#8a8ce0" stroke-width="0.6" fill="none"/>
<rect x="425.65" y="337.67" width="2.2" height="2.2" fill="#8a8ce0"/>
<path d="M446.25 338.95V348.55M445.05 338.95H447.45M445.05 348.55H447.45" stroke="#8a8ce0" stroke-width="0.6" fill="none"/>
<rect x="445.15" y="342.65" width="2.2" height="2.2" fill="#8a8ce0"/>
<path d="M457.62 341.47V351.07M456.43 341.47H458.82M456.43 351.07H458.82" stroke="#8a8ce0" stroke-width="0.6" fill="none"/>
<rect x="456.52" y="345.17" width="2.2" height="2.2" fill="#8a8ce0"/>
<path d="M469 346.51V352.51M467.8 346.51H470.2M467.8 352.51H470.2" stroke="#8a8ce0" stroke-width="0.6" fill="none"/>
<rect x="467.9" y="348.41" width="2.2" height="2.2" fill="#8a8ce0"/>
<path d="M480.38 348.91V356.11M479.18 348.91H481.57M479.18 356.11H481.57" stroke="#8a8ce0" stroke-width="0.6" fill="none"/>
<rect x="479.27" y="351.41" width="2.2" height="2.2" fill="#8a8ce0"/>
<path d="M491.75 350.65V357.85M490.55 350.65H492.95M490.55 357.85H492.95" stroke="#8a8ce0" stroke-width="0.6" fill="none"/>
<rect x="490.65" y="353.15" width="2.2" height="2.2" fill="#8a8ce0"/>
<path d="M426.8 338L427.9 338.1L429 338.2L430.1 338.3L431.2 338.4L432.3 338.5L433.4 338.7L434.5 338.8L435.6 339L436.7 339.2L437.8 339.4L438.9 339.6L440 339.8L441.1 340L442.2 340.3L443.3 340.5L444.4 340.8L445.5 341.1L446.6 341.4L447.7 341.7L448.8 342.1L449.9 342.4L451 342.8L452.1 343.1L453.2 343.5L454.3 343.9L455.4 344.3L456.5 344.6L457.6 345L458.7 345.4L459.8 345.8L460.9 346.2L462 346.5L463.1 346.9L464.2 347.2L465.3 347.5L466.4 347.9L467.5 348.2L468.6 348.5L469.7 348.7L470.8 349L471.9 349.3L473 349.5L474.1 349.7L475.2 349.9L476.3 350.1L477.4 350.3L478.5 350.4L479.6 350.6L480.7 350.7L481.8 350.9L482.9 351L484 351.1L485.1 351.2L486.2 351.3L487.3 351.4L488.4 351.4L489.5 351.5L490.6 351.6L491.8 351.6" fill="none" stroke="#5aa83c" stroke-width="0.9"/>
<path d="M426.75 336.19V339.79M425.55 336.19H427.95M425.55 339.79H427.95" stroke="#5aa83c" stroke-width="0.6" fill="none"/>
<rect x="425.65" y="336.89" width="2.2" height="2.2" fill="#5aa83c"/>
<path d="M446.25 338.95V343.75M445.05 338.95H447.45M445.05 343.75H447.45" stroke="#5aa83c" stroke-width="0.6" fill="none"/>
<rect x="445.15" y="340.25" width="2.2" height="2.2" fill="#5aa83c"/>
<path d="M457.62 342.55V347.35M456.43 342.55H458.82M456.43 347.35H458.82" stroke="#5aa83c" stroke-width="0.6" fill="none"/>
<rect x="456.52" y="343.85" width="2.2" height="2.2" fill="#5aa83c"/>
<path d="M469 346.33V351.13M467.8 346.33H470.2M467.8 351.13H470.2" stroke="#5aa83c" stroke-width="0.6" fill="none"/>
<rect x="467.9" y="347.63" width="2.2" height="2.2" fill="#5aa83c"/>
<path d="M480.38 348.1V352.9M479.18 348.1H481.57M479.18 352.9H481.57" stroke="#5aa83c" stroke-width="0.6" fill="none"/>
<rect x="479.27" y="349.4" width="2.2" height="2.2" fill="#5aa83c"/>
<path d="M491.75 348.73V354.73M490.55 348.73H492.95M490.55 354.73H492.95" stroke="#5aa83c" stroke-width="0.6" fill="none"/>
<rect x="490.65" y="350.63" width="2.2" height="2.2" fill="#5aa83c"/>
<path d="M426.8 338.8L427.9 338.8L429 338.8L430.1 338.8L431.2 338.8L432.3 338.8L433.4 338.8L434.5 338.8L435.6 338.8L436.7 338.9L437.8 338.9L438.9 338.9L440 338.9L441.1 338.9L442.2 338.9L443.3 338.9L444.4 338.9L445.5 338.9L446.6 339L447.7 339L448.8 339L449.9 339L451 339L452.1 339L453.2 339L454.3 339L455.4 339.1L456.5 339.1L457.6 339.1L458.7 339.1L459.8 339.1L460.9 339.1L462 339.1L463.1 339.2L464.2 339.2L465.3 339.2L466.4 339.2L467.5 339.2L468.6 339.2L469.7 339.2L470.8 339.3L471.9 339.3L473 339.3L474.1 339.3L475.2 339.3L476.3 339.3L477.4 339.3L478.5 339.4L479.6 339.4L480.7 339.4L481.8 339.4L482.9 339.4L484 339.4L485.1 339.5L486.2 339.5L487.3 339.5L488.4 339.5L489.5 339.5L490.6 339.5L491.8 339.5" fill="none" stroke="#b5103c" stroke-width="0.9"/>
<path d="M426.75 335.77V341.77M425.55 335.77H427.95M425.55 341.77H427.95" stroke="#b5103c" stroke-width="0.6" fill="none"/>
<rect x="425.65" y="337.67" width="2.2" height="2.2" fill="#b5103c"/>
<path d="M446.25 335.95V341.95M445.05 335.95H447.45M445.05 341.95H447.45" stroke="#b5103c" stroke-width="0.6" fill="none"/>
<rect x="445.15" y="337.85" width="2.2" height="2.2" fill="#b5103c"/>
<path d="M457.62 336.07V342.07M456.43 336.07H458.82M456.43 342.07H458.82" stroke="#b5103c" stroke-width="0.6" fill="none"/>
<rect x="456.52" y="337.97" width="2.2" height="2.2" fill="#b5103c"/>
<path d="M469 336.25V342.25M467.8 336.25H470.2M467.8 342.25H470.2" stroke="#b5103c" stroke-width="0.6" fill="none"/>
<rect x="467.9" y="338.15" width="2.2" height="2.2" fill="#b5103c"/>
<path d="M480.38 336.37V342.37M479.18 336.37H481.57M479.18 342.37H481.57" stroke="#b5103c" stroke-width="0.6" fill="none"/>
<rect x="479.27" y="338.27" width="2.2" height="2.2" fill="#b5103c"/>
<path d="M491.75 336.55V342.55M490.55 336.55H492.95M490.55 342.55H492.95" stroke="#b5103c" stroke-width="0.6" fill="none"/>
<rect x="490.65" y="338.45" width="2.2" height="2.2" fill="#b5103c"/>
<path d="M426.8 338L427.9 338L429 338L430.1 338L431.2 338.1L432.3 338.1L433.4 338.1L434.5 338.1L435.6 338.1L436.7 338.2L437.8 338.2L438.9 338.2L440 338.2L441.1 338.2L442.2 338.3L443.3 338.3L444.4 338.3L445.5 338.3L446.6 338.4L447.7 338.4L448.8 338.4L449.9 338.4L451 338.5L452.1 338.5L453.2 338.5L454.3 338.6L455.4 338.6L456.5 338.6L457.6 338.6L458.7 338.7L459.8 338.7L460.9 338.7L462 338.8L463.1 338.8L464.2 338.8L465.3 338.8L466.4 338.9L467.5 338.9L468.6 338.9L469.7 339L470.8 339L471.9 339L473 339.1L474.1 339.1L475.2 339.1L476.3 339.1L477.4 339.2L478.5 339.2L479.6 339.2L480.7 339.3L481.8 339.3L482.9 339.3L484 339.4L485.1 339.4L486.2 339.4L487.3 339.4L488.4 339.5L489.5 339.5L490.6 339.5L491.8 339.5" fill="none" stroke="#34405e" stroke-width="0.9"/>
<path d="M426.75 336.19V339.79M425.55 336.19H427.95M425.55 339.79H427.95" stroke="#34405e" stroke-width="0.6" fill="none"/>
<rect x="425.65" y="336.89" width="2.2" height="2.2" fill="#34405e"/>
<path d="M446.25 336.55V340.15M445.05 336.55H447.45M445.05 340.15H447.45" stroke="#34405e" stroke-width="0.6" fill="none"/>
<rect x="445.15" y="337.25" width="2.2" height="2.2" fill="#34405e"/>
<path d="M457.62 336.85V340.45M456.43 336.85H458.82M456.43 340.45H458.82" stroke="#34405e" stroke-width="0.6" fill="none"/>
<rect x="456.52" y="337.55" width="2.2" height="2.2" fill="#34405e"/>
<path d="M469 337.15V340.75M467.8 337.15H470.2M467.8 340.75H470.2" stroke="#34405e" stroke-width="0.6" fill="none"/>
<rect x="467.9" y="337.85" width="2.2" height="2.2" fill="#34405e"/>
<path d="M480.38 337.45V341.05M479.18 337.45H481.57M479.18 341.05H481.57" stroke="#34405e" stroke-width="0.6" fill="none"/>
<rect x="479.27" y="338.15" width="2.2" height="2.2" fill="#34405e"/>
<path d="M491.75 337.75V341.35M490.55 337.75H492.95M490.55 341.35H492.95" stroke="#34405e" stroke-width="0.6" fill="none"/>
<rect x="490.65" y="338.45" width="2.2" height="2.2" fill="#34405e"/>
<path d="M418.4 430.5 V493.25 H510.5" fill="none" stroke="#111" stroke-width="1.1"/>
<line x1="415.1" y1="493.25" x2="418.4" y2="493.25" stroke="#111" stroke-width="1.0"/>
<text x="412.4" y="495.6" font-size="6.6" text-anchor="end" font-weight="normal" fill="#1a1a1a"  stroke="#1a1a1a" stroke-width="0.16">0</text>
<line x1="415.1" y1="481.2" x2="418.4" y2="481.2" stroke="#111" stroke-width="1.0"/>
<text x="412.4" y="483.55" font-size="6.6" text-anchor="end" font-weight="normal" fill="#1a1a1a"  stroke="#1a1a1a" stroke-width="0.16">20</text>
<line x1="415.1" y1="469.15" x2="418.4" y2="469.15" stroke="#111" stroke-width="1.0"/>
<text x="412.4" y="471.5" font-size="6.6" text-anchor="end" font-weight="normal" fill="#1a1a1a"  stroke="#1a1a1a" stroke-width="0.16">40</text>
<line x1="415.1" y1="457.1" x2="418.4" y2="457.1" stroke="#111" stroke-width="1.0"/>
<text x="412.4" y="459.45" font-size="6.6" text-anchor="end" font-weight="normal" fill="#1a1a1a"  stroke="#1a1a1a" stroke-width="0.16">60</text>
<line x1="415.1" y1="445.05" x2="418.4" y2="445.05" stroke="#111" stroke-width="1.0"/>
<text x="412.4" y="447.4" font-size="6.6" text-anchor="end" font-weight="normal" fill="#1a1a1a"  stroke="#1a1a1a" stroke-width="0.16">80</text>
<line x1="415.1" y1="433" x2="418.4" y2="433" stroke="#111" stroke-width="1.0"/>
<text x="412.4" y="435.35" font-size="6.6" text-anchor="end" font-weight="normal" fill="#1a1a1a"  stroke="#1a1a1a" stroke-width="0.16">100</text>
<line x1="426.75" y1="493.25" x2="426.75" y2="496.45" stroke="#111" stroke-width="1.0"/>
<text x="426.75" y="505.35" font-size="6.6" text-anchor="middle" font-weight="normal" fill="#1a1a1a"  stroke="#1a1a1a" stroke-width="0.16">-3</text>
<line x1="443" y1="493.25" x2="443" y2="496.45" stroke="#111" stroke-width="1.0"/>
<text x="443" y="505.35" font-size="6.6" text-anchor="middle" font-weight="normal" fill="#1a1a1a"  stroke="#1a1a1a" stroke-width="0.16">-2</text>
<line x1="459.25" y1="493.25" x2="459.25" y2="496.45" stroke="#111" stroke-width="1.0"/>
<text x="459.25" y="505.35" font-size="6.6" text-anchor="middle" font-weight="normal" fill="#1a1a1a"  stroke="#1a1a1a" stroke-width="0.16">-1</text>
<line x1="475.5" y1="493.25" x2="475.5" y2="496.45" stroke="#111" stroke-width="1.0"/>
<text x="475.5" y="505.35" font-size="6.6" text-anchor="middle" font-weight="normal" fill="#1a1a1a"  stroke="#1a1a1a" stroke-width="0.16">0</text>
<line x1="491.75" y1="493.25" x2="491.75" y2="496.45" stroke="#111" stroke-width="1.0"/>
<text x="491.75" y="505.35" font-size="6.6" text-anchor="middle" font-weight="normal" fill="#1a1a1a"  stroke="#1a1a1a" stroke-width="0.16">1</text>
<line x1="508" y1="493.25" x2="508" y2="496.45" stroke="#111" stroke-width="1.0"/>
<text x="508" y="505.35" font-size="6.6" text-anchor="middle" font-weight="normal" fill="#1a1a1a"  stroke="#1a1a1a" stroke-width="0.16">2</text>
<text font-size="8.7" fill="#1a1a1a" stroke="#1a1a1a" stroke-width="0.1" transform="translate(395.7,461.93) rotate(-90)" text-anchor="middle" textLength="63.5" lengthAdjust="spacingAndGlyphs">% cell survival (AxV/PI<tspan font-size="5" dy="-2.8">−</tspan><tspan dy="2.8">)</tspan></text>
<text x="445.76" y="516.95" font-size="8.2" fill="#151515" stroke="#151515" stroke-width="0.28" textLength="38" lengthAdjust="spacingAndGlyphs">Bir log<tspan font-size="4.8" dy="2">10</tspan><tspan dy="-2"> (µM)</tspan></text>
<path d="M426.8 438.4L427.9 438.5L429 438.7L430.1 438.9L431.2 439.1L432.3 439.3L433.4 439.4L434.5 439.6L435.6 439.8L436.7 440L437.8 440.2L438.9 440.4L440 440.5L441.1 440.7L442.2 440.9L443.3 441.1L444.4 441.3L445.5 441.5L446.6 441.6L447.7 441.8L448.8 442L449.9 442.2L451 442.4L452.1 442.5L453.2 442.7L454.3 442.9L455.4 443.1L456.5 443.2L457.6 443.4L458.7 443.6L459.8 443.7L460.9 443.9L462 444L463.1 444.2L464.2 444.3L465.3 444.5L466.4 444.6L467.5 444.8L468.6 444.9L469.7 445.1L470.8 445.2L471.9 445.3L473 445.5L474.1 445.6L475.2 445.7L476.3 445.8L477.4 445.9L478.5 446.1L479.6 446.2L480.7 446.3L481.8 446.4L482.9 446.5L484 446.6L485.1 446.7L486.2 446.8L487.3 446.9L488.4 447L489.5 447.1L490.6 447.1L491.8 447.2" fill="none" stroke="#8a8ce0" stroke-width="0.9"/>
<path d="M426.75 437.22V439.63M425.55 437.22H427.95M425.55 439.63H427.95" stroke="#8a8ce0" stroke-width="0.6" fill="none"/>
<rect x="425.65" y="437.32" width="2.2" height="2.2" fill="#8a8ce0"/>
<path d="M446.25 439.45V443.06M445.05 439.45H447.45M445.05 443.06H447.45" stroke="#8a8ce0" stroke-width="0.6" fill="none"/>
<rect x="445.15" y="440.15" width="2.2" height="2.2" fill="#8a8ce0"/>
<path d="M457.62 441.44V446.25M456.43 441.44H458.82M456.43 446.25H458.82" stroke="#8a8ce0" stroke-width="0.6" fill="none"/>
<rect x="456.52" y="442.75" width="2.2" height="2.2" fill="#8a8ce0"/>
<path d="M469 442.64V447.46M467.8 442.64H470.2M467.8 447.46H470.2" stroke="#8a8ce0" stroke-width="0.6" fill="none"/>
<rect x="467.9" y="443.95" width="2.2" height="2.2" fill="#8a8ce0"/>
<path d="M480.38 443.36V448.18M479.18 443.36H481.57M479.18 448.18H481.57" stroke="#8a8ce0" stroke-width="0.6" fill="none"/>
<rect x="479.27" y="444.67" width="2.2" height="2.2" fill="#8a8ce0"/>
<path d="M491.75 444.45V450.47M490.55 444.45H492.95M490.55 450.47H492.95" stroke="#8a8ce0" stroke-width="0.6" fill="none"/>
<rect x="490.65" y="446.36" width="2.2" height="2.2" fill="#8a8ce0"/>
<path d="M426.8 438.7L427.9 438.8L429 439L430.1 439.1L431.2 439.3L432.3 439.4L433.4 439.6L434.5 439.8L435.6 440L436.7 440.2L437.8 440.4L438.9 440.6L440 440.9L441.1 441.1L442.2 441.4L443.3 441.7L444.4 442L445.5 442.3L446.6 442.6L447.7 442.9L448.8 443.2L449.9 443.5L451 443.8L452.1 444.1L453.2 444.4L454.3 444.7L455.4 445L456.5 445.3L457.6 445.6L458.7 445.9L459.8 446.1L460.9 446.4L462 446.6L463.1 446.8L464.2 447L465.3 447.3L466.4 447.4L467.5 447.6L468.6 447.8L469.7 447.9L470.8 448.1L471.9 448.2L473 448.3L474.1 448.5L475.2 448.6L476.3 448.7L477.4 448.8L478.5 448.8L479.6 448.9L480.7 449L481.8 449L482.9 449.1L484 449.2L485.1 449.2L486.2 449.2L487.3 449.3L488.4 449.3L489.5 449.4L490.6 449.4L491.8 449.4" fill="none" stroke="#5aa83c" stroke-width="0.9"/>
<path d="M426.75 437.52V439.93M425.55 437.52H427.95M425.55 439.93H427.95" stroke="#5aa83c" stroke-width="0.6" fill="none"/>
<rect x="425.65" y="437.62" width="2.2" height="2.2" fill="#5aa83c"/>
<path d="M446.25 440.71V444.33M445.05 440.71H447.45M445.05 444.33H447.45" stroke="#5aa83c" stroke-width="0.6" fill="none"/>
<rect x="445.15" y="441.42" width="2.2" height="2.2" fill="#5aa83c"/>
<path d="M457.62 443.06V447.88M456.43 443.06H458.82M456.43 447.88H458.82" stroke="#5aa83c" stroke-width="0.6" fill="none"/>
<rect x="456.52" y="444.37" width="2.2" height="2.2" fill="#5aa83c"/>
<path d="M469 445.65V450.47M467.8 445.65H470.2M467.8 450.47H470.2" stroke="#5aa83c" stroke-width="0.6" fill="none"/>
<rect x="467.9" y="446.96" width="2.2" height="2.2" fill="#5aa83c"/>
<path d="M480.38 446.32V451.14M479.18 446.32H481.57M479.18 451.14H481.57" stroke="#5aa83c" stroke-width="0.6" fill="none"/>
<rect x="479.27" y="447.63" width="2.2" height="2.2" fill="#5aa83c"/>
<path d="M491.75 446.5V452.52M490.55 446.5H492.95M490.55 452.52H492.95" stroke="#5aa83c" stroke-width="0.6" fill="none"/>
<rect x="490.65" y="448.41" width="2.2" height="2.2" fill="#5aa83c"/>
<path d="M426.8 437.5L427.9 437.5L429 437.5L430.1 437.5L431.2 437.6L432.3 437.6L433.4 437.6L434.5 437.6L435.6 437.6L436.7 437.6L437.8 437.6L438.9 437.7L440 437.7L441.1 437.7L442.2 437.7L443.3 437.7L444.4 437.8L445.5 437.8L446.6 437.8L447.7 437.8L448.8 437.9L449.9 437.9L451 437.9L452.1 438L453.2 438L454.3 438L455.4 438.1L456.5 438.1L457.6 438.2L458.7 438.2L459.8 438.2L460.9 438.3L462 438.3L463.1 438.4L464.2 438.4L465.3 438.5L466.4 438.6L467.5 438.6L468.6 438.7L469.7 438.7L470.8 438.8L471.9 438.8L473 438.9L474.1 439L475.2 439L476.3 439.1L477.4 439.2L478.5 439.2L479.6 439.3L480.7 439.4L481.8 439.4L482.9 439.5L484 439.6L485.1 439.6L486.2 439.7L487.3 439.7L488.4 439.8L489.5 439.9L490.6 439.9L491.8 440" fill="none" stroke="#b5103c" stroke-width="0.9"/>
<path d="M426.75 436.31V438.72M425.55 436.31H427.95M425.55 438.72H427.95" stroke="#b5103c" stroke-width="0.6" fill="none"/>
<rect x="425.65" y="436.42" width="2.2" height="2.2" fill="#b5103c"/>
<path d="M446.25 436.62V439.02M445.05 436.62H447.45M445.05 439.02H447.45" stroke="#b5103c" stroke-width="0.6" fill="none"/>
<rect x="445.15" y="436.72" width="2.2" height="2.2" fill="#b5103c"/>
<path d="M457.62 436.92V439.33M456.43 436.92H458.82M456.43 439.33H458.82" stroke="#b5103c" stroke-width="0.6" fill="none"/>
<rect x="456.52" y="437.02" width="2.2" height="2.2" fill="#b5103c"/>
<path d="M469 437.52V439.93M467.8 437.52H470.2M467.8 439.93H470.2" stroke="#b5103c" stroke-width="0.6" fill="none"/>
<rect x="467.9" y="437.62" width="2.2" height="2.2" fill="#b5103c"/>
<path d="M480.38 438.12V440.53M479.18 438.12H481.57M479.18 440.53H481.57" stroke="#b5103c" stroke-width="0.6" fill="none"/>
<rect x="479.27" y="438.23" width="2.2" height="2.2" fill="#b5103c"/>
<path d="M491.75 438.18V441.8M490.55 438.18H492.95M490.55 441.8H492.95" stroke="#b5103c" stroke-width="0.6" fill="none"/>
<rect x="490.65" y="438.89" width="2.2" height="2.2" fill="#b5103c"/>
<path d="M426.8 437.5L427.9 437.5L429 437.5L430.1 437.5L431.2 437.5L432.3 437.5L433.4 437.5L434.5 437.5L435.6 437.6L436.7 437.6L437.8 437.6L438.9 437.6L440 437.6L441.1 437.6L442.2 437.6L443.3 437.6L444.4 437.6L445.5 437.6L446.6 437.6L447.7 437.7L448.8 437.7L449.9 437.7L451 437.7L452.1 437.7L453.2 437.7L454.3 437.8L455.4 437.8L456.5 437.8L457.6 437.8L458.7 437.8L459.8 437.9L460.9 437.9L462 437.9L463.1 437.9L464.2 438L465.3 438L466.4 438L467.5 438.1L468.6 438.1L469.7 438.1L470.8 438.2L471.9 438.2L473 438.2L474.1 438.3L475.2 438.3L476.3 438.3L477.4 438.4L478.5 438.4L479.6 438.4L480.7 438.4L481.8 438.5L482.9 438.5L484 438.5L485.1 438.6L486.2 438.6L487.3 438.6L488.4 438.6L489.5 438.7L490.6 438.7L491.8 438.7" fill="none" stroke="#34405e" stroke-width="0.9"/>
<path d="M426.75 436.31V438.72M425.55 436.31H427.95M425.55 438.72H427.95" stroke="#34405e" stroke-width="0.6" fill="none"/>
<rect x="425.65" y="436.42" width="2.2" height="2.2" fill="#34405e"/>
<path d="M446.25 436.43V438.84M445.05 436.43H447.45M445.05 438.84H447.45" stroke="#34405e" stroke-width="0.6" fill="none"/>
<rect x="445.15" y="436.54" width="2.2" height="2.2" fill="#34405e"/>
<path d="M457.62 436.62V439.02M456.43 436.62H458.82M456.43 439.02H458.82" stroke="#34405e" stroke-width="0.6" fill="none"/>
<rect x="456.52" y="436.72" width="2.2" height="2.2" fill="#34405e"/>
<path d="M469 436.92V439.33M467.8 436.92H470.2M467.8 439.33H470.2" stroke="#34405e" stroke-width="0.6" fill="none"/>
<rect x="467.9" y="437.02" width="2.2" height="2.2" fill="#34405e"/>
<path d="M480.38 437.22V439.63M479.18 437.22H481.57M479.18 439.63H481.57" stroke="#34405e" stroke-width="0.6" fill="none"/>
<rect x="479.27" y="437.32" width="2.2" height="2.2" fill="#34405e"/>
<path d="M491.75 436.92V440.53M490.55 436.92H492.95M490.55 440.53H492.95" stroke="#34405e" stroke-width="0.6" fill="none"/>
<rect x="490.65" y="437.62" width="2.2" height="2.2" fill="#34405e"/>
<path d="M420.2 531.25 V594 H512.2" fill="none" stroke="#111" stroke-width="1.1"/>
<line x1="416.9" y1="594" x2="420.2" y2="594" stroke="#111" stroke-width="1.0"/>
<text x="414.2" y="596.35" font-size="6.6" text-anchor="end" font-weight="normal" fill="#1a1a1a"  stroke="#1a1a1a" stroke-width="0.16">0</text>
<line x1="416.9" y1="581.95" x2="420.2" y2="581.95" stroke="#111" stroke-width="1.0"/>
<text x="414.2" y="584.3" font-size="6.6" text-anchor="end" font-weight="normal" fill="#1a1a1a"  stroke="#1a1a1a" stroke-width="0.16">20</text>
<line x1="416.9" y1="569.9" x2="420.2" y2="569.9" stroke="#111" stroke-width="1.0"/>
<text x="414.2" y="572.25" font-size="6.6" text-anchor="end" font-weight="normal" fill="#1a1a1a"  stroke="#1a1a1a" stroke-width="0.16">40</text>
<line x1="416.9" y1="557.85" x2="420.2" y2="557.85" stroke="#111" stroke-width="1.0"/>
<text x="414.2" y="560.2" font-size="6.6" text-anchor="end" font-weight="normal" fill="#1a1a1a"  stroke="#1a1a1a" stroke-width="0.16">60</text>
<line x1="416.9" y1="545.8" x2="420.2" y2="545.8" stroke="#111" stroke-width="1.0"/>
<text x="414.2" y="548.15" font-size="6.6" text-anchor="end" font-weight="normal" fill="#1a1a1a"  stroke="#1a1a1a" stroke-width="0.16">80</text>
<line x1="416.9" y1="533.75" x2="420.2" y2="533.75" stroke="#111" stroke-width="1.0"/>
<text x="414.2" y="536.1" font-size="6.6" text-anchor="end" font-weight="normal" fill="#1a1a1a"  stroke="#1a1a1a" stroke-width="0.16">100</text>
<line x1="427.95" y1="594" x2="427.95" y2="597.2" stroke="#111" stroke-width="1.0"/>
<text x="427.95" y="606.1" font-size="6.6" text-anchor="middle" font-weight="normal" fill="#1a1a1a"  stroke="#1a1a1a" stroke-width="0.16">-3</text>
<line x1="444.3" y1="594" x2="444.3" y2="597.2" stroke="#111" stroke-width="1.0"/>
<text x="444.3" y="606.1" font-size="6.6" text-anchor="middle" font-weight="normal" fill="#1a1a1a"  stroke="#1a1a1a" stroke-width="0.16">-2</text>
<line x1="460.65" y1="594" x2="460.65" y2="597.2" stroke="#111" stroke-width="1.0"/>
<text x="460.65" y="606.1" font-size="6.6" text-anchor="middle" font-weight="normal" fill="#1a1a1a"  stroke="#1a1a1a" stroke-width="0.16">-1</text>
<line x1="477" y1="594" x2="477" y2="597.2" stroke="#111" stroke-width="1.0"/>
<text x="477" y="606.1" font-size="6.6" text-anchor="middle" font-weight="normal" fill="#1a1a1a"  stroke="#1a1a1a" stroke-width="0.16">0</text>
<line x1="493.35" y1="594" x2="493.35" y2="597.2" stroke="#111" stroke-width="1.0"/>
<text x="493.35" y="606.1" font-size="6.6" text-anchor="middle" font-weight="normal" fill="#1a1a1a"  stroke="#1a1a1a" stroke-width="0.16">1</text>
<line x1="509.7" y1="594" x2="509.7" y2="597.2" stroke="#111" stroke-width="1.0"/>
<text x="509.7" y="606.1" font-size="6.6" text-anchor="middle" font-weight="normal" fill="#1a1a1a"  stroke="#1a1a1a" stroke-width="0.16">2</text>
<text font-size="8.7" fill="#1a1a1a" stroke="#1a1a1a" stroke-width="0.1" transform="translate(397.5,562.67) rotate(-90)" text-anchor="middle" textLength="63.5" lengthAdjust="spacingAndGlyphs">% cell survival (AxV/PI<tspan font-size="5" dy="-2.8">−</tspan><tspan dy="2.8">)</tspan></text>
<text x="447.08" y="617.4" font-size="8.2" fill="#151515" stroke="#151515" stroke-width="0.28" textLength="38" lengthAdjust="spacingAndGlyphs">Bir log<tspan font-size="4.8" dy="2">10</tspan><tspan dy="-2"> (µM)</tspan></text>
<path d="M427.9 542.1L429.1 542.2L430.2 542.2L431.3 542.3L432.4 542.4L433.5 542.5L434.6 542.6L435.7 542.7L436.8 542.7L437.9 542.8L439 542.9L440.1 543L441.3 543.1L442.4 543.2L443.5 543.3L444.6 543.4L445.7 543.5L446.8 543.6L447.9 543.7L449 543.8L450.1 543.9L451.2 544L452.3 544.1L453.4 544.2L454.6 544.3L455.7 544.4L456.8 544.5L457.9 544.6L459 544.7L460.1 544.8L461.2 544.9L462.3 545L463.4 545.1L464.5 545.3L465.6 545.4L466.7 545.5L467.9 545.6L469 545.7L470.1 545.8L471.2 546L472.3 546.1L473.4 546.2L474.5 546.3L475.6 546.4L476.7 546.6L477.8 546.7L478.9 546.8L480 547L481.2 547.1L482.3 547.2L483.4 547.3L484.5 547.5L485.6 547.6L486.7 547.7L487.8 547.9L488.9 548L490 548.1L491.1 548.3L492.2 548.4L493.4 548.6" fill="none" stroke="#8a8ce0" stroke-width="0.9"/>
<path d="M427.95 539.53V544.35M426.75 539.53H429.15M426.75 544.35H429.15" stroke="#8a8ce0" stroke-width="0.6" fill="none"/>
<rect x="426.85" y="540.84" width="2.2" height="2.2" fill="#8a8ce0"/>
<path d="M447.57 539.17V548.81M446.37 539.17H448.77M446.37 548.81H448.77" stroke="#8a8ce0" stroke-width="0.6" fill="none"/>
<rect x="446.47" y="542.89" width="2.2" height="2.2" fill="#8a8ce0"/>
<path d="M459.01 539.77V549.41M457.81 539.77H460.21M457.81 549.41H460.21" stroke="#8a8ce0" stroke-width="0.6" fill="none"/>
<rect x="457.91" y="543.5" width="2.2" height="2.2" fill="#8a8ce0"/>
<path d="M470.46 540.98V550.62M469.26 540.98H471.66M469.26 550.62H471.66" stroke="#8a8ce0" stroke-width="0.6" fill="none"/>
<rect x="469.36" y="544.7" width="2.2" height="2.2" fill="#8a8ce0"/>
<path d="M481.9 542.18V551.83M480.7 542.18H483.1M480.7 551.83H483.1" stroke="#8a8ce0" stroke-width="0.6" fill="none"/>
<rect x="480.8" y="545.9" width="2.2" height="2.2" fill="#8a8ce0"/>
<path d="M493.35 543.87V553.51M492.15 543.87H494.55M492.15 553.51H494.55" stroke="#8a8ce0" stroke-width="0.6" fill="none"/>
<rect x="492.25" y="547.59" width="2.2" height="2.2" fill="#8a8ce0"/>
<path d="M427.9 542.9L429.1 542.9L430.2 542.9L431.3 543L432.4 543L433.5 543L434.6 543L435.7 543L436.8 543L437.9 543L439 543L440.1 543.1L441.3 543.1L442.4 543.1L443.5 543.1L444.6 543.2L445.7 543.2L446.8 543.2L447.9 543.2L449 543.3L450.1 543.3L451.2 543.3L452.3 543.4L453.4 543.4L454.6 543.5L455.7 543.5L456.8 543.6L457.9 543.6L459 543.7L460.1 543.7L461.2 543.8L462.3 543.9L463.4 544L464.5 544L465.6 544.1L466.7 544.2L467.9 544.3L469 544.4L470.1 544.5L471.2 544.6L472.3 544.7L473.4 544.8L474.5 544.9L475.6 545.1L476.7 545.2L477.8 545.3L478.9 545.5L480 545.6L481.2 545.7L482.3 545.9L483.4 546L484.5 546.2L485.6 546.3L486.7 546.5L487.8 546.6L488.9 546.8L490 547L491.1 547.1L492.2 547.3L493.4 547.4" fill="none" stroke="#5aa83c" stroke-width="0.9"/>
<path d="M427.95 541.76V544.17M426.75 541.76H429.15M426.75 544.17H429.15" stroke="#5aa83c" stroke-width="0.6" fill="none"/>
<rect x="426.85" y="541.87" width="2.2" height="2.2" fill="#5aa83c"/>
<path d="M447.57 541.94V544.35M446.37 541.94H448.77M446.37 544.35H448.77" stroke="#5aa83c" stroke-width="0.6" fill="none"/>
<rect x="446.47" y="542.05" width="2.2" height="2.2" fill="#5aa83c"/>
<path d="M459.01 541.88V545.5M457.81 541.88H460.21M457.81 545.5H460.21" stroke="#5aa83c" stroke-width="0.6" fill="none"/>
<rect x="457.91" y="542.59" width="2.2" height="2.2" fill="#5aa83c"/>
<path d="M470.46 542.79V546.4M469.26 542.79H471.66M469.26 546.4H471.66" stroke="#5aa83c" stroke-width="0.6" fill="none"/>
<rect x="469.36" y="543.5" width="2.2" height="2.2" fill="#5aa83c"/>
<path d="M481.9 543.99V547.61M480.7 543.99H483.1M480.7 547.61H483.1" stroke="#5aa83c" stroke-width="0.6" fill="none"/>
<rect x="480.8" y="544.7" width="2.2" height="2.2" fill="#5aa83c"/>
<path d="M493.35 545.62V549.23M492.15 545.62H494.55M492.15 549.23H494.55" stroke="#5aa83c" stroke-width="0.6" fill="none"/>
<rect x="492.25" y="546.33" width="2.2" height="2.2" fill="#5aa83c"/>
<path d="M427.9 548L429.1 546.9L430.2 546.3L431.3 545.9L432.4 545.8L433.5 545.8L434.6 545.7L435.7 545.7L436.8 545.7L437.9 545.7L439 545.7L440.1 545.7L441.3 545.7L442.4 545.7L443.5 545.7L444.6 545.7L445.7 545.7L446.8 545.7L447.9 545.7L449 545.7L450.1 545.7L451.2 545.7L452.3 545.7L453.4 545.7L454.6 545.7L455.7 545.7L456.8 545.7L457.9 545.7L459 545.7L460.1 545.7L461.2 545.7L462.3 545.7L463.4 545.7L464.5 545.7L465.6 545.7L466.7 545.7L467.9 545.7L469 545.7L470.1 545.7L471.2 545.7L472.3 545.7L473.4 545.7L474.5 545.7L475.6 545.7L476.7 545.7L477.8 545.7L478.9 545.7L480 545.7L481.2 545.7L482.3 545.7L483.4 545.7L484.5 545.7L485.6 545.7L486.7 545.7L487.8 545.7L488.9 545.7L490 545.7L491.1 545.7L492.2 545.7L493.4 545.7" fill="none" stroke="#b5103c" stroke-width="0.9"/>
<path d="M427.95 543.15V552.79M426.75 543.15H429.15M426.75 552.79H429.15" stroke="#b5103c" stroke-width="0.6" fill="none"/>
<rect x="426.85" y="546.87" width="2.2" height="2.2" fill="#b5103c"/>
<path d="M447.57 540.26V549.9M446.37 540.26H448.77M446.37 549.9H448.77" stroke="#b5103c" stroke-width="0.6" fill="none"/>
<rect x="446.47" y="543.98" width="2.2" height="2.2" fill="#b5103c"/>
<path d="M459.01 540.38V550.02M457.81 540.38H460.21M457.81 550.02H460.21" stroke="#b5103c" stroke-width="0.6" fill="none"/>
<rect x="457.91" y="544.1" width="2.2" height="2.2" fill="#b5103c"/>
<path d="M470.46 540.68V550.32M469.26 540.68H471.66M469.26 550.32H471.66" stroke="#b5103c" stroke-width="0.6" fill="none"/>
<rect x="469.36" y="544.4" width="2.2" height="2.2" fill="#b5103c"/>
<path d="M481.9 540.98V550.62M480.7 540.98H483.1M480.7 550.62H483.1" stroke="#b5103c" stroke-width="0.6" fill="none"/>
<rect x="480.8" y="544.7" width="2.2" height="2.2" fill="#b5103c"/>
<path d="M493.35 542.18V551.83M492.15 542.18H494.55M492.15 551.83H494.55" stroke="#b5103c" stroke-width="0.6" fill="none"/>
<rect x="492.25" y="545.9" width="2.2" height="2.2" fill="#b5103c"/>
<path d="M427.9 543.2L429.1 543.2L430.2 543.2L431.3 543.2L432.4 543.2L433.5 543.2L434.6 543.2L435.7 543.2L436.8 543.2L437.9 543.2L439 543.2L440.1 543.2L441.3 543.2L442.4 543.2L443.5 543.2L444.6 543.3L445.7 543.3L446.8 543.3L447.9 543.3L449 543.3L450.1 543.3L451.2 543.3L452.3 543.3L453.4 543.3L454.6 543.3L455.7 543.3L456.8 543.4L457.9 543.4L459 543.4L460.1 543.4L461.2 543.4L462.3 543.4L463.4 543.5L464.5 543.5L465.6 543.5L466.7 543.5L467.9 543.6L469 543.6L470.1 543.6L471.2 543.7L472.3 543.7L473.4 543.7L474.5 543.8L475.6 543.8L476.7 543.8L477.8 543.9L478.9 543.9L480 543.9L481.2 544L482.3 544L483.4 544L484.5 544.1L485.6 544.1L486.7 544.1L487.8 544.1L488.9 544.2L490 544.2L491.1 544.2L492.2 544.2L493.4 544.2" fill="none" stroke="#34405e" stroke-width="0.9"/>
<path d="M427.95 542V544.41M426.75 542H429.15M426.75 544.41H429.15" stroke="#34405e" stroke-width="0.6" fill="none"/>
<rect x="426.85" y="542.11" width="2.2" height="2.2" fill="#34405e"/>
<path d="M447.57 542.06V544.47M446.37 542.06H448.77M446.37 544.47H448.77" stroke="#34405e" stroke-width="0.6" fill="none"/>
<rect x="446.47" y="542.17" width="2.2" height="2.2" fill="#34405e"/>
<path d="M459.01 542.18V544.6M457.81 542.18H460.21M457.81 544.6H460.21" stroke="#34405e" stroke-width="0.6" fill="none"/>
<rect x="457.91" y="542.29" width="2.2" height="2.2" fill="#34405e"/>
<path d="M470.46 542.43V544.84M469.26 542.43H471.66M469.26 544.84H471.66" stroke="#34405e" stroke-width="0.6" fill="none"/>
<rect x="469.36" y="542.53" width="2.2" height="2.2" fill="#34405e"/>
<path d="M481.9 542.79V545.2M480.7 542.79H483.1M480.7 545.2H483.1" stroke="#34405e" stroke-width="0.6" fill="none"/>
<rect x="480.8" y="542.89" width="2.2" height="2.2" fill="#34405e"/>
<path d="M493.35 543.03V545.44M492.15 543.03H494.55M492.15 545.44H494.55" stroke="#34405e" stroke-width="0.6" fill="none"/>
<rect x="492.25" y="543.13" width="2.2" height="2.2" fill="#34405e"/>
<line x1="20.6" y1="265.4" x2="20.6" y2="656.3" stroke="#111" stroke-width="0.9"/>
<line x1="20.6" y1="656.3" x2="109.5" y2="656.3" stroke="#111" stroke-width="0.9"/>
<path d="M20.6 260.4 L23.95 267.5 L20.6 266.3 L17.25 267.5 Z" fill="#111"/>
<path d="M114.5 656.3 L107.5 653.1 L108.7 656.3 L107.5 659.5 Z" fill="#111"/>
<text font-size="10" fill="#111" stroke="#111" stroke-width="0.35" transform="translate(15.6,641.9) rotate(-90)" text-anchor="middle" textLength="29.4" lengthAdjust="spacingAndGlyphs">Cell count</text>
<text x="20.2" y="668.2" font-size="8.4" fill="#111" stroke="#111" stroke-width="0.32" textLength="45.3" lengthAdjust="spacingAndGlyphs">Rho-123 (FL-1)</text>
<line x1="277.7" y1="35.3" x2="277.7" y2="625.1" stroke="#111" stroke-width="0.9"/>
<line x1="277.7" y1="625.1" x2="366.5" y2="625.1" stroke="#111" stroke-width="0.9"/>
<path d="M277.7 30.3 L281.05 37.4 L277.7 36.2 L274.35 37.4 Z" fill="#111"/>
<path d="M371.5 625.1 L364.5 621.9 L365.7 625.1 L364.5 628.3 Z" fill="#111"/>
<text font-size="10" fill="#111" stroke="#111" stroke-width="0.35" transform="translate(272.8,611) rotate(-90)" text-anchor="middle" textLength="29.4" lengthAdjust="spacingAndGlyphs">Cell count</text>
<text x="277.8" y="636.2" font-size="8.4" fill="#111" stroke="#111" stroke-width="0.32" textLength="45.3" lengthAdjust="spacingAndGlyphs">Rho-123 (FL-1)</text>
<text x="317" y="653.6" font-size="4.8" text-anchor="start" font-weight="normal" fill="#222" textLength="47.5" lengthAdjust="spacingAndGlyphs"  stroke="#222" stroke-width="0.08">Rho-123 Fig. legend</text>
<rect x="317.2" y="656.2" width="8.3" height="4.2" fill="#4b5876"/>
<text x="328.8" y="660.2" font-size="5.2" text-anchor="start" font-weight="normal" fill="#222"  stroke="#222" stroke-width="0.08">Control</text>
<rect x="317.2" y="663.4" width="8.3" height="4.2" fill="#c9c9cd"/>
<text x="328.8" y="667.4" font-size="5.2" text-anchor="start" font-weight="normal" fill="#222"  stroke="#222" stroke-width="0.08">Tari</text>
<rect x="317.2" y="670.6" width="8.3" height="4.2" fill="#2f4d8c"/>
<text x="328.8" y="674.6" font-size="5.2" text-anchor="start" font-weight="normal" fill="#222"  stroke="#222" stroke-width="0.08">Rho-123</text>
<rect x="317.2" y="677.8" width="8.3" height="4.2" fill="#b0123e"/>
<text x="328.8" y="681.8" font-size="5.2" text-anchor="start" font-weight="normal" fill="#222"  stroke="#222" stroke-width="0.08">Rho-123 + Tari</text>
<text x="428" y="653.6" font-size="4.8" text-anchor="start" font-weight="normal" fill="#222" textLength="54.3" lengthAdjust="spacingAndGlyphs"  stroke="#222" stroke-width="0.08">Cell survival Fig. legend</text>
<line x1="428.6" y1="658.1" x2="436.4" y2="658.1" stroke="#34405e" stroke-width="0.8"/>
<rect x="431.6" y="657.2" width="1.8" height="1.8" fill="#34405e"/>
<text x="439.6" y="660" font-size="5.2" text-anchor="start" font-weight="normal" fill="#222"  stroke="#222" stroke-width="0.08">Control</text>
<line x1="428.6" y1="665.4" x2="436.4" y2="665.4" stroke="#b5103c" stroke-width="0.8"/>
<rect x="431.6" y="664.5" width="1.8" height="1.8" fill="#b5103c"/>
<text x="439.6" y="667.3" font-size="5.2" text-anchor="start" font-weight="normal" fill="#222"  stroke="#222" stroke-width="0.08">+ Tari 1 µM</text>
<line x1="428.6" y1="672.7" x2="436.4" y2="672.7" stroke="#5aa83c" stroke-width="0.8"/>
<rect x="431.6" y="671.8" width="1.8" height="1.8" fill="#5aa83c"/>
<text x="439.6" y="674.6" font-size="5.2" text-anchor="start" font-weight="normal" fill="#222"  stroke="#222" stroke-width="0.08">+ TNF 10 ng/ml</text>
<line x1="428.6" y1="680" x2="436.4" y2="680" stroke="#8a8ce0" stroke-width="0.8"/>
<rect x="431.6" y="679.1" width="1.8" height="1.8" fill="#8a8ce0"/>
<text x="439.6" y="681.9" font-size="5.2" text-anchor="start" font-weight="normal" fill="#222"  stroke="#222" stroke-width="0.08">+ Tari 1 µM + TNF 10 ng/ml</text>
<rect x="0.5" y="0.5" width="519" height="689" fill="none" stroke="#000" stroke-width="1"/>
</svg>
</body></html>
